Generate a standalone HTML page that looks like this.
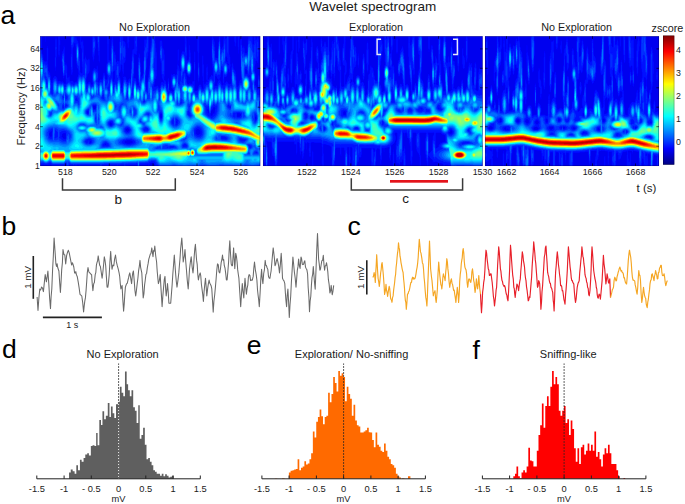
<!DOCTYPE html>
<html><head><meta charset="utf-8"><style>
html,body{margin:0;padding:0;background:#fff;}
svg{display:block;font-family:"Liberation Sans", sans-serif;}
</style></head><body>
<svg width="685" height="504" viewBox="0 0 685 504">
<defs>
<filter id="jet" filterUnits="userSpaceOnUse" x="38" y="34" width="624" height="134" color-interpolation-filters="sRGB">
<feGaussianBlur stdDeviation="0.75"/>
<feComponentTransfer>
<feFuncR type="table" tableValues="0 0 0 0 0.5 1 1 1 0.5"/>
<feFuncG type="table" tableValues="0 0 0.5 1 1 1 0.5 0 0"/>
<feFuncB type="table" tableValues="0.5 1 1 1 0.5 0 0 0 0"/>
<feFuncA type="identity"/>
</feComponentTransfer>
</filter>
<clipPath id="pc"><rect x="40.2" y="36.2" width="220.0" height="129.8"/><rect x="263.0" y="36.2" width="219.6" height="129.8"/><rect x="485.0" y="36.2" width="174.0" height="129.8"/></clipPath>
<linearGradient id="cbar" x1="0" y1="1" x2="0" y2="0">
<stop offset="0" stop-color="#000080"/><stop offset="0.125" stop-color="#0000ff"/><stop offset="0.25" stop-color="#0080ff"/><stop offset="0.375" stop-color="#00ffff"/><stop offset="0.5" stop-color="#80ff80"/><stop offset="0.625" stop-color="#ffff00"/><stop offset="0.75" stop-color="#ff8000"/><stop offset="0.875" stop-color="#ff0000"/><stop offset="1" stop-color="#800000"/>
</linearGradient>
</defs><g clip-path="url(#pc)"><g filter="url(#jet)">
<rect x="38" y="34" width="624" height="134" fill="rgb(28,28,28)"/>
<g transform="translate(38.25,34.25) scale(0.5)">
<path fill="#242424" d="M1133,242l0,2 -1,1 0,20 1,2 1,0 0-24zM1216,239l1,1 0,2 -1,1 -1-1 0-2zM1044,238l1-1 1,1 -1,1zM1181,233l2,0 1,1 -1,2 0,18 -1,1 -1-1 0-5 -1-1 0-12 -1-1zM930,233l0,4 -1,1 0,29 3,0 0-27 -1-1 0-6zM900,230l1-1 5,0 1,1 0,3 -1,1 -2-2zM710,230l0,4 -1,1 0,32 2,0 0-2 1-1 0-25 -1-1 0-7zM940,228l1,1 0,2 -1,1 -1-1 0-2zM671,228l2,1 0,5 -1,1 -1-1 0-3 -1-1zM549,229l0,3 -1,1 0,34 2,0 0-32 -1-1zM133,220l1-1 2,1 -1,1zM457,215l1-1 1,1 -1,1zM103,216l1-2 2,1 -2,2zM173,215l2-2 2,0 1-1 6,0 1,1 2,0 2,2 0,1 -2,2 -3,0 -1,1 -5,0 -1-1 -2,0 -2-2zM51,198l3,0 1,1 0,9 -1,1 -3,0 -4-5 1-1 0-3zM804,197l5,4 2,0 3,2 0,11 -1,1 -3,0 -4,2 -2-1 0,2 -4,5 1,2 -5,3 -1-1 0-29 1-1zM791,197l1,2 -3,5 0,7 -1,1 0,19 -6,7 -1-1 0-36 -1-1 0-2 1-1zM1090,197l1-1 1,1 -1,1zM26,194l1,1 0,9 -2,1 -2-2 -1-4zM825,192l1,0 2,2 0,3 -2,2 -3,0 -1-2 2-2 0-2zM318,190l3,0 3,3 0,5 -3,3 -3,0 -3-3 0-5zM938,190l1-1 1,1 -1,1zM178,188l1,0 3,3 0,1 -3,3 -1,0 -3-3 0-1zM1121,187l2,3 -1,2 -1,0 -2-2 0-1zM1194,187l1-1 1,1 -1,1zM1069,187l2-1 2,1 1,2 -1,1 -3,0 -1-1zM1045,187l1-1 1,2 -1,1zM934,186l2,1 0,3 -1,1 -1,0 -2-2 0-1zM1050,189l0-3 1-1 3,2 -3,3zM1022,186l1-1 5,0 2,2 0,1 -4,3 -4-2zM991,188l2-2 4-1 3,3 0,1 -2,2 -5,0 -2-2zM901,187l3-3 2,0 3,3 0,1 -2,2 -4,0 -2-2zM444,183l2,2 4,2 0,5 -1,1 -6-3 0-6zM893,181l1,1 0,8 -5,3 -1-1 0-6 3-3 0-1zM145,176l2,3 0,2 -1,1 -1,0 -2-2 0-2zM1224,176l1-1 1,1 -1,1zM276,175l1-1 1,2 -1,1zM997,172l1,0 3,4 0,1 -3,3 -1,0 -3-3 1-3zM977,170l1,0 3,3 0,3 -2,2 -2,0 -3-4zM959,170l1,0 2,2 0,3 -1,1 -2,0 -2-2 0-2zM1130,169l1,0 2,2 0,2 -2,2 -2-1 0-4zM1040,170l1-1 2,0 1,1 0,2 -2,2 -1,0 -1-1zM1017,169l2,2 0,4 -2,2 -2-2 0-4zM924,169l2,2 0,3 -2,2 -1-1 0-5zM435,165l1,1 0,3 -1,1 -1-1 0-3zM547,164l2,1 0,2 -1,1 -2,0 -1-1 0-1zM245,159l2,1 0,6 -1,1 -2-1 0-6zM1090,158l1,1 0,3 -1,1 -1-1 0-3zM397,159l1-1 4,0 2,1 2,2 0,1 -4,3 -4,0 -1-1zM612,154l1,0 2,2 0,4 -1,1 -3,0 -1-1 0-4zM99,154l1,1 0,2 -1,1 -1-1 0-2zM339,150l2,1 0,6 -1,1 -1-1 0-4 -1-1zM765,149l1-1 1,1 -1,1zM800,148l1-1 1,1 -1,1zM352,146l2,2 -2,10 -1,1 -1-1 -1-4 0,6 -1,2 -2,1 -1-1 1-9 3-3 1-3zM110,144l1-1 3,0 1,1 0,4 -3,2 -2-2zM484,140l1-1 1,2 -1,1zM901,135l1-1 1,2 -1,1zM1136,126l1,1 1,6 1-1 0-3 1-1 2,1 0,3 -1,1 0,3 -1,1 0,6 -1,1 0,10 -1,1 0,2 -5,3 -1-1 0-6 1-1 0-20zM937,107l1,1 0,9 -1,1 -1-1 0-9zM728,102l1-1 1,2 -1,1zM516,100l2,1 0,18 1,1 0,1 -2,2 -2-1 0-6 -1-1 0-3 -2-4 2-1 1-2 0-4zM558,100l1-1 1,2 -1,1zM371,99l1-1 1,2 -1,1zM994,98l0,3 -1,1 0,44 1,1 0,4 1,0 0-6 1-1 0-39 -1-1 0-6zM792,98l1-1 1,2 -1,1zM624,96l1-1 1,2 -1,1zM1084,95l-1,2 0,6 -1,1 0,7 1,1 0,6 1,1 0,2 1,0 1-2 0-4 1-1 0-11 -1-1 0-5 -1-2zM249,95l1-1 1,2 -1,1zM559,94l1-1 1,2 -1,1zM338,94l1-1 1,1 -1,1zM626,90l2,3 0,1 -2,2 -1-1 0-4zM1213,86l2,2 0,4 1,1 0,9 -1,1 0,5 -1,1 -2-1 0-21zM561,86l1-1 1,2 -1,1zM461,86l1-1 1,2 -1,1zM355,84l2,1 1,4 3,2 -2,4 0,2 -1,1 0,4 -1,1 -3,0 -1-1 0-2 1-1 0-14zM422,83l1-1 1,2 -1,1zM473,81l2,3 0,11 1,1 0,16 -1,1 0,8 -2,3 -1-1 0-5 -1-1 0-30 1-1 0-4zM462,82l1-1 1,2 -1,1zM295,78l1-1 1,2 -1,1zM152,73l1,1 0,15 -1,1 0,4 -1,1 -1-1 0-18zM583,72l1,1 0,3 1,1 0,8 1,1 0,1 -2,2 -2-1 0-3 -1-1 0-3 1-1 0-7zM367,72l2,3 0,22 1,1 0,3 -1,1 -2-1 -1-6 -3-4 0-2 2-4 1-12zM295,71l1,1 0,5 -1,1 -1-1 0-5zM1238,71l-1,1 0,3 -1,1 0,14 1,1 0,3 1,1 0-3 1-1 0-16 -1-1zM415,70l2,1 0,3 1,1 0,3 -1,1 -2,0 -1-1 0-7zM284,69l1,1 0,2 -1,1 -1-1 0-2zM1151,68l1,1 0,12 1,1 0,4 3,5 0,5 1,1 0,7 1,1 0,10 1,1 0,5 1,1 0,2 1,1 1-1 0-2 1-1 0-4 2-4 3,4 0,8 -4,3 -1,6 -1,1 0,6 -1,1 -1-1 -1-8 -2-4 -3,0 -1,3 -1,1 -1-1 0-7 -1-1 0-38 -1-1 0-12 1-1 0-3zM703,66l1,1 0,3 -1,1 -1-1 0-3zM1001,66l0,7 -1,1 0,23 1,1 0,7 3,3 0,18 1,1 0,5 1-2 0-10 1-1 0-14 -1-1 0-10 -1-1 0-2 -2-2 0-18 -1-1 0-4zM823,65l1,1 0,10 1,1 0,6 1,1 1,25 1,1 -4,4 -2,0 -2-2 0-28 1-1 0-16zM500,66l-1,2 0,10 -1,1 0,19 1,1 0,9 1,2 0-3 1-1 0-14 1-1 0-10 -1-1 0-11 -1-1zM463,65l1,1 0,3 -1,1 -1-1 0-3zM1187,63l1,1 0,17 -1,1 -1-1 0-6 -1-1 0-3 -1-1 1-5zM800,62l1,1 0,19 -1,1 0,17 -2,2 -3-3 1-1 0-7 1-1 0-6 1-1 0-9 1-1 0-10zM954,61l2,2 0,4 1,2 1-2 1,1 0,12 -1,1 0,5 -3,4 0,2 -1,1 0,5 -1,1 0,11 -2,3 -1-1 -1,1 0,3 -1,1 0,9 -1,1 0,17 1,1 0,6 -1,1 -5,1 -1-1 1-1 0-11 1-1 0-35 -1-1 0-10 -1-1 0-3 3-4 0-3 1-1 0-7 1-1 0-4 1-1 1,1 0,4 1,1 0,5 2,3 0-2 1-1 0-5 1-1 0-11zM167,61l1,1 0,12 1,1 0,12 1,1 -1,11 -1,1 0,6 -1,1 -1-1 -1-17 -1-1 0-3 -2-3 0-3 3-5 1-12zM379,60l1-1 1,2 -1,1zM378,58l1-1 1,1 -1,1zM377,55l1-1 1,1 -1,1zM376,44l2,4 0,6 -1,1 -2-2 0-8zM596,43l1,1 0,9 1,1 0,10 1,1 0,5 1,2 2,1 0,2 1,1 0,31 -1,1 -1,6 -2,4 -1-1 0-10 -1-1 0-3 -1-1 -1,4 -1,1 -3-4 -1,1 -1-1 0-3 -1-1 0-5 -1-1 0-8 1-1 0-4 1-1 2,1 0,8 1,1 0,4 1-1 0-7 1-1 0-29 1-1 0-10zM640,38l0,4 -1,1 0,19 1,1 0,4 1,0 1-19 -1-1 0-8zM651,37l-2,4 0,8 -1,1 0,30 1,1 0,8 2,4 0-2 1-1 0-5 1-1 0-38 -1-1 0-5 -1-1zM1013,33l-1,1 0,11 -1,1 0,29 -1,1 0,26 1,1 0,6 1,2 1-1 0-4 1-1 0-67 -1-1zM977,21l0,16 -1,1 1,39 1,1 0,7 1,1 0,8 1,1 0,4 1,1 0,2 1,0 0-3 1-1 0-36 -1-1 0-11 -1-1 0-5 -1-1 0-2 -1-1 0-4 -1-1 0-13zM658,14l0,3 -1,1 0,12 -1,1 0,28 1,1 0,11 1,1 0,4 1,1 0-3 1-1 0-11 1-1 0-31 -1-1 0-11 -1-1 0-3zM1046,11l-1,1 0,9 -1,1 0,8 1,1 0,8 1,2 0-3 1-1 0-23 -1-1zM1030,8l0,4 -2,3 -1-1 0-3 0,3 -1,1 0,15 -1,1 0,5 -1,1 0,5 -1,1 0,10 -1,1 0,49 1,1 0,12 1,1 1-2 0-3 1-1 0-8 1-1 0-16 1-1 0-9 1-1 1,1 0,3 0-2 1-1 0-63 -1-1zM675,8l0,3 -1,1 0,34 1,1 0,2 0-3 1-1 0-33 -1-1zM717,6l0,4 -1,1 0,25 1,1 0,3 1,0 0-3 1-1 0-26 -1-1 0-3zM897,4l-1,1 0,4 -1,1 0,43 1,1 0,12 1,1 0,4 1,1 0,9 1,1 0,3 0-5 1-1 0-44 -1-1 0-22 -1-1 0-5zM1201,3l-1,2 -1,8 -1,1 0,5 -1,1 0,12 -1,1 0,34 1,1 0,12 1,1 0,3 1,0 0-6 1-1 1-42 1-1 0-9 1-1 0-11 -1-1 0-7zM36,1l-1,0 0,7 -1,1 0,36 -1,1 0,21 1,1 0,6 1-1 0-6 1-1 0-19 1-1 0-37 -1-1zM1179,0l1,47 1,1 0,10 1,1 0,5 2,4 0,7 -1,1 0,21 1,1 0,4 1,0 0-2 1-1 0-6 1-1 1,1 1,11 2,1 0-4 1-1 0-28 -1-1 0-60 -1-1 0-5 -1-1 -1,7 -1,1 -1-1 0-3 -1-1 0-7zM1170,0l0,41 1,1 0,9 1,1 0,5 1,1 0-2 1-1 0-49 -1-1 0-5zM1165,0l-2,0 0,34 1,1 0-10 1-1zM1035,0l0,25 1,1 0,4 2,1 0-3 1-1 0-8 1-1 0-18zM992,0l-6,0 -1,2 0,50 1,1 0,11 1,1 0,6 1,1 0,3 1,2 2-4 0-7 1-1 0-21 1-1 0-29 -1-1zM926,0l-1,0 0,2 -1,1 0,18 -1,1 0,3 -1,1 -1-1 0-10 -1-1 0-14 -3,0 0,35 -1,1 0,4 -1,1 0,3 -1,1 0,3 -1,1 0,3 -1,1 0,9 -1,1 0,31 1,1 0,7 0-2 1-1 0-21 2-3 1,1 0,10 -1,1 0,18 1,1 0,11 1,1 0,3 1,2 1-1 0-3 1-1 0-11 1-1 0-27 1-1 0-11 3-6 0-5 1-1 0-25 1-1 0-22 -1-1zM857,0l-1,1 0,6 -1,1 0,43 -1,1 -1-1 0-4 -3-6 0-14 -1-1 0-5 0,7 -1,1 0,31 1,1 0,7 1,1 2,0 1-2 1-15 1-1 1,1 0,3 1,2 1-2 0-6 1-1 0-40 -1-1 0-6zM836,0l0,26 1,1 0,6 1,1 0,29 1,1 0,9 1,1 0,2 1-2 0-9 1-1 0-37 -1-1 0-10 -1-1 0-9 -1-1 0-5zM780,0l0,29 1,1 0,6 1,0 0-5 1-1 0-30zM523,0l-3,0 0,11 -1,1 0,3 1,1 0,19 1,2 1-2 0-6 1-1zM511,0l-3,0 0,31 -3,4 0,5 -1,1 0,17 -1,1 1,32 1,1 0,5 1,2 1-2 0-4 1-1 0-12 1-1 0-38 1-1 0-7 1-1zM483,0l-2,0 0,41 1,1 0,4 0-7 1-1zM402,0l-2,0 0,4 -1,1 0,20 1,1 0,12 1,1 0-7 1-1zM395,0l-2,0 0,4 -1,1 0,10 1,1 0,8 1,1 1-1 0-6 1-1 0-14 -1-1zM322,0l-4,0 0,34 1,1 0,57 1,1 0,4 2-4 0-6 1-1 0-20 -1-1 0-9 -1-1 0-17 1-1zM182,0l-4,0 0,18 1,1 0,8 1,2 1-2 0-10 1-1zM118,0l0,19 1,1 0,13 1,1 0,8 1,1 0,11 1,1 0,4 0-2 1-1 0-56zM113,0l-4,0 -1,1 0,44 1,1 0,6 1,1 0,2 1,0 0-4 1-1 0-6 1-1 1-13 1-1 0-18 -1-1 0-6 -1-1zM40,0l0,41 1,1 0,5 1,0 0-4 1-1 0-19 1-1 0-10 -1-1 0-11zM14,0l0,15 1,1 0,2 0-18zM4,0l0,41 -1,1 0,5 -1,1 0,9 -1,1 0,23 1,1 0,31 -1,1 0,11 1,1 0,3 1,1 -1,1 -1,8 -1,1 0,31 1,1 1,8 2,4 0,40 -4,3 0,32 2,2 4,0 1,1 0,3 2-4 2,0 1,1 13-1 2,2 0,4 3,0 0-2 1-1 20,0 3-2 2,1 0,4 5,0 1-4 1-1 1,1 4,0 1,1 0,3 2,0 2-4 1,1 0,3 3,0 0-3 1-1 2,0 1,1 10,0 1,1 0,2 1,0 0-2 1-1 5,0 2,2 0,1 1,0 0-2 1-1 19,0 1,1 0,2 5,0 0-3 1-1 28,0 1,1 0,3 2,0 0-3 1-1 9,0 1,1 0,3 4,0 0-3 1-1 5,0 1-1 15,0 2,3 0,2 4,0 0-5 1-1 14,0 1-1 1,1 0,3 1,1 1-1 1-4 2-2 4-1 4,4 1,6 209,0 0-9 2-3 0-3 1-1 0-7 -1-1 0-3 -2-3 0-2 4-5 0-2 2-3 1,1 0,24 1,1 0,7 1,1 0-2 1-1 1,1 0,2 1,1 0,7 4,0 0-41 -1-1 0-9 1-1 6,0 1,1 1,23 1,1 0,3 3,2 0,2 1,1 0,6 1,1 0,9 1,1 0,2 3,0 1-1 0-9 1-1 0-40 1-1 31,0 1,1 0,4 1,1 1-1 2,1 0,19 1,1 0,5 0-8 1-1 0-20 1-1 2,0 1,1 1,22 1,1 0,4 1-2 0-7 1-1 2,3 0,11 1,1 0,3 1-2 0-5 1-1 0-5 1-1 0-7 1-1 0-13 1-1 2,4 0,11 1,0 0-13 2-2 3,2 0,9 -1,1 0,5 1,1 0,10 1,1 0,2 1,0 0-2 1-1 0-26 2-2 4,0 1,1 13,0 2,2 0,6 1,1 0,17 -1,1 0,16 1,1 0,6 2,0 1-2 0-26 -1-1 0-17 1-1 3,0 1,1 8,2 3,4 0,20 1,1 0,18 1,1 4,0 0-4 1-1 0-9 1-1 0-23 2-2 7,0 1,1 0,12 1,1 0,7 0-3 1-1 0-16 1-1 3,0 2,2 0,3 1,1 0,32 1,2 4,0 1-1 0-25 -1-1 0-13 1-1 2,0 1,1 0,13 -1,1 0,15 1,1 0,10 2,0 0-15 1-1 0-6 -1-1 0-17 1-1 1,0 2,2 0,36 1,1 0,2 9,0 0-7 1-1 0-3 2-1 1-8 1-1 2,1 1-1 0-4 1-1 0-12 1-1 17,0 1,1 0,2 -1,1 0,21 1,1 0,13 8,0 0-2 1-1 0-9 1-1 0-21 3-5 4,3 0,10 1,1 0,17 1,1 0,4 1-2 0-9 1-1 0-23 1-1 2,0 1,1 0,6 1,1 0-7 3-2 3,0 1-1 2,0 1,1 0,21 1,1 0,5 1,1 0-2 1-1 0-9 1-1 0-19 6-5 3-7 0-7 -2-4 0-2 1-1 3,0 1,1 0,12 -1,1 0,3 -1,1 0,5 -1,1 0,30 1,1 0,5 1,2 3-1 2,4 2-3 0-2 1-1 2,1 1-2 0-3 1-1 1,1 0,15 5,0 0-26 -1-1 0-11 -1-1 0-4 -1-1 0,3 -1,1 0,5 -1,1 -1-1 0-34 1-1 2,2 0,6 1-2 0-5 1-1 2,0 1,1 1,9 3,2 0,2 1,1 0,6 1,1 0,4 1,1 0,29 1,1 0,6 1,1 0,2 1-1 0-3 1-1 0-12 1-1 0-12 -1-1 0-24 1-1 0-9 1-1 5,0 1,1 0,5 -1,1 0,18 1,1 0,7 1,1 0,3 3,4 2,4 0,3 1,1 0,21 2,0 0-25 -1-1 0-35 -1-1 0-7 1-1 11,0 1,1 -1,2 0,7 -1,1 0,32 1,1 0,7 1,1 0,4 1,1 0,4 1,1 0,7 1,1 0-3 1-1 0-19 1-1 2,4 6,5 0,6 1,0 0-2 1-1 2,2 2-2 1,0 6,3 7,1 1,1 0,5 1,2 2-1 0-4 1-1 5,0 1,1 3,0 1,1 0,3 1,1 63,0 0-8 2-2 7-2 8-5 1,1 0,16 3,0 0-20 -1-1 2-3 0-3 -1-1 0-9 1-1 5,0 1,1 0,4 1,1 0,11 1,2 1-2 0-9 1-1 0-6 1-1 14,0 1,1 0,5 -1,1 0,31 2,0 0-7 1-1 0-3 1-1 0-5 1-1 2,4 0,14 4,0 0-5 1-1 0-18 1-1 1-13 2-2 3,0 1,1 0,23 1,1 0,11 1,1 0,3 6,0 0-30 -1-1 0-9 1-1 1,0 2,3 0,23 1,1 0,5 1,1 1,8 12,0 0-4 1-1 0-32 1-1 1,1 0,12 1,1 0,21 1,1 0,2 1,0 1-4 2-1 1-2 0-3 1-1 0-24 1-1 2,1 10,1 1,1 1,19 1,1 0-2 1-1 0-6 1-1 1,1 0,5 1,1 0,9 1,1 0,3 1,2 0-3 1-1 0-8 1-1 1,1 0,5 1,1 0,7 3,0 1-10 1-1 1-19 1-1 3,0 1,1 0,29 1,1 4,0 0-23 1-1 0-6 1-1 3,0 2,2 0,22 1,1 0,3 1,0 0-2 1-1 1,1 0,5 5,0 0-29 1-1 2,1 0,3 1,1 0,14 1,1 0,2 0-6 1-1 0-14 1-1 3,0 1,1 0,23 1,1 0,5 7,0 0-3 1-1 0-25 1-1 12,0 1-1 9,0 1-1 5,0 1,1 0,5 1,1 0,15 1,1 0,5 1,1 0-3 1-1 0-5 1-1 0-19 1-1 9-1 1,1 0,2 -1,1 0,7 -1,1 0,22 3,0 0-12 1-1 0-2 2-2 0-4 1-1 0-8 2-4 1,1 2-1 7,0 1,1 4,0 1,1 0,24 1,1 0,2 1-2 0-12 1-1 0-3 -1-1 0-7 1-1 4,0 1,1 0,26 1,1 0,3 1,1 6,0 0-5 1-1 0-22 2-2 1,1 0,4 1,1 0,7 1,1 0,3 1-1 0-2 2-2 1,0 4-13 1-1 5,0 1-1 2,1 0,5 -1,1 0,26 8,0 0-29 -1-1 0-3 1-1 2,1 1,2 0,3 1,0 0-4 2-2 1,1 4,0 1,1 3,0 1,1 0,24 1,1 0,6 5,0 0-8 1-1 0-8 1-1 1,1 0,5 1,1 0,11 8,0 0-6 1-1 -1-19 1-1 2,0 2,2 0,25 5,0 0-2 1-1 0-12 1-1 0-7 2-2 4,2 0,23 3,0 0-22 1-1 6,0 0-35 -2-1 -3,0 -1-1 0-12 1-1 0-5 -1-1 0-37 0,1 -4,4 -2,0 -1-1 0-20 -1-1 0-2 -1,0 -1,2 0,5 -1,1 0,8 -1,1 -3-2 0-9 -1-1 0-18 2-3 0-3 1-1 0-7 1-1 0-7 1-1 0-16 1-1 0-24 -1-1 0-17 -1-1 0-5 -1-1 -1-6 -2,4 0,10 -1,1 0,55 1,1 0,15 -2,1 -1,2 -1,14 -1,1 -1-1 0-11 -1-1 0-9 -1-1 0-14 1-1 0-9 1-1 0-39 -1-1 0-8 -1-1 0-5 -1-1 0-25 -10,0 -1,2 0,54 1,1 0,12 1,1 0,5 1,1 0,10 -1,1 0,7 -1,1 -2,0 0,2 -1,1 0,7 -1,1 0,24 -1,1 -1-1 0-13 -1-1 0-4 -1-1 -1,1 0,4 -1,1 0,8 -1,1 0,3 -1,1 0,4 -2,3 -3-2 -2,1 -3,4 -1,0 -1,6 -2,1 0,3 -1,1 0,10 -1,1 -2,0 -2-2 -1-15 -1-1 0-8 -1-1 0-22 -1-1 0-29 -1-1 0-8 -1-1 0-17 -1-1 0-4 -1,0 0,3 -1,1 0,18 -1,1 0,3 -1,1 -2-4 0-51 -1-1 0-8 -1-1 0-3 -1,0 -1,2 -1,8 -1,1 -1-1 0-20 -4,0 0,25 -1,1 -2-3 0-5 -1-1 0-17 -7,0 0,13 1,1 0,10 1,1 0,14 1,1 1,40 1,1 0,4 2,2 0,14 -1,1 -2-2 -3,4 -4-8 0-36 -1-1 0-5 -1-1 0-2 -2-1 0-50 -5,0 -1,33 -1,1 0,9 -1,1 0,14 -1,1 0,4 1,1 0,13 1,1 0,3 1,1 2-2 1,1 1,64 -2,3 -1-1 0-6 -1-1 0-4 -1-1 -1-7 -1-1 -3-11 -2-2 -2-4 -1,0 0,1 -2,2 0,3 -1,1 0,9 -1,1 0,8 -1,1 0,5 -1,1 0,7 -1,1 -2-2 -4,0 -2,2 -1-1 0-7 -1-1 0-3 -2-3 0-35 1-1 1,1 1-1 0-3 1-1 0-3 1-1 3,0 2,2 2,6 1,0 2-2 0-2 2-2 0-2 1-1 0-3 1-1 0-7 1-1 0-23 -1-1 0-6 -4-7 -1-31 -1-1 0-4 -1,0 0,7 -1,1 0,40 -2,3 -4-8 0-8 -1-1 0-9 -1-1 0-4 -1-1 0,2 -1,1 0,5 -1,1 0,16 -1,1 0,27 1,1 0,12 -1,1 -1-1 -1,2 0,5 -1,1 0,19 -1,1 0,3 -2,1 0,4 -1,1 0,17 1,1 0,2 -1,1 -2-1 -2,2 -1,3 -3,3 -1-1 1-2 0-3 1-1 0-17 -1-1 0-3 -2-4 0-32 1-1 1,1 1-1 0-3 1-1 0-7 1-1 0-5 1-1 1,1 0,2 2,3 2-4 0-6 1-1 0-6 1-1 0-18 1-1 0-3 -1-1 0-17 -1-1 0-5 -1-1 0-3 -1-1 0,3 -1,1 0,9 -1,1 -1,20 -2,2 -1-1 0-16 1-1 0-9 1-1 0-17 -7,0 0,13 -1,1 1,50 -1,1 -1-1 -1-8 -1-1 0-5 -1-1 0-8 -1-1 0-8 -1-1 0-3 -1-1 -1,2 0,3 -1,1 0,41 -1,1 0,9 1,1 0,6 1,1 0,2 3,4 0,32 -1,1 0,3 -1,1 -1-1 -1,14 -3,4 -1-1 -1-55 -1-1 0-9 -1-1 0-2 -1-1 0,2 -1,1 0,19 -1,1 0,9 -2,3 -1-1 0-72 1-1 1,1 0,14 1,1 0,15 1,1 0,3 0-5 3-6 0-7 1-1 0-20 -1-1 0-8 -1-1 0-4 -1-1 0-13 -1-1 0-6 -1,1 0,5 -1,1 -1,11 -1,1 0,4 -2,3 0,7 -1,1 0,24 -1,1 0,9 -1,1 0,16 -1,1 0,35 1,1 0,10 1,1 0,12 -1,1 -2-2 -4,0 -4,3 -2-4 0-7 -1-1 0-4 -1-1 0-6 1-1 0-46 -1-1 0-4 -1-1 -1,1 0,3 -1,1 0,14 -1,1 0,32 -3,2 -2,7 -1,1 0,2 -1,1 -1-1 0-18 -1-1 0-2 -1,1 0,4 -1,1 0,14 -1,1 0,23 -1,1 -4-1 -1-1 -7,0 -1-1 0-3 1-1 0-9 -1-1 0-4 -4-5 -2,2 -1,6 -1,1 0,14 -1,1 -5,0 -2,2 -1-1 0-9 -1-1 0-6 -1-1 0-3 -2,1 -1-1 -2,0 -3,3 -1,4 -1,1 0,3 -1,1 -4-3 0-16 1-1 0-7 1-1 1,1 0,12 1,1 0,2 1-2 0-9 1-1 0-31 -1-1 0-8 -1-2 0,3 -1,1 0,12 -1,1 0,7 -1,1 -1-1 0-4 -2-4 0-4 1-1 0-10 -1-1 0-42 -1-1 0-8 -3-6 0-4 -1-1 -2-26 -2,0 0,13 -1,1 -2-2 0-3 -1-1 -1,2 -1,13 -1,1 -2-2 0-1 -1,0 0,2 -1,1 0,4 -2,1 -1-1 0-3 -1-1 0-4 -1-1 0-2 -1,0 0,2 -1,1 0,4 -1,1 0,6 -1,1 -1-1 0-31 -3,0 0,28 -1,1 0,5 -1,1 -1-1 0-22 -1-1 0-10 -1-1 0,3 -1,1 1,68 -2,1 -1,2 0,7 -1,1 0,12 1,1 0,6 1,2 1-1 1-5 1-1 1,1 0,3 1,1 0,8 -4,2 -1,4 -1,1 0,4 -1,1 0,6 -1,1 0,22 1,2 -1,1 -2-1 0-6 -1-1 0-14 -1-1 0-4 -1,0 0,2 -1,1 -1,20 -2,1 -2-2 0-11 -1-1 0-6 -1-1 0,2 -1,1 0,13 -2,1 -2-2 0-3 1-1 0-6 1-1 0-15 -1-1 0-8 -1-1 0-4 -1-1 0-2 -1,0 -1,2 0,3 -1,1 0,6 -1,1 0,9 -2,1 -1-1 0-3 -1,1 0,9 -1,1 0,6 -4,8 0,11 -5,3 -1-1 0-47 -1-1 0-3 1-1 0-29 -1-1 0-8 -1-1 0-2 -2,3 -2-1 -1,2 0,5 -1,1 0,16 -1,1 0,4 1,1 0,15 -1,1 -4-3 0-9 1-1 0-9 1-1 0-23 -1-1 0-7 -1-1 -1-4 -1,2 0,8 -1,1 0,34 -2,2 -1-1 0-4 -1-1 0-30 -1-1 0-7 -1-1 -2,4 -1-1 0-3 -1-1 -1,2 0,6 -1,1 0,6 -1,1 0,6 -1,1 0,25 -3,3 -1,4 -1,1 -2-1 0-3 -1-1 0-10 -1-1 0-4 -1-2 -1,1 0,3 -1,1 -1,11 -1,1 -2-3 -3,0 -3,6 -1,0 -2-2 -2,0 -1-1 1-1 0-8 1-1 1-13 1-1 0-20 -1-1 0-7 -1-2 -2,0 -1-1 0-22 -1-1 0-13 -1-1 0-3 0,2 -1,1 0,8 -1,1 0,10 -1,1 0,12 -1,1 0,7 -1,1 -1-1 0-11 -1-1 0-2 0,4 -1,1 0,10 -1,1 -2-2 0-40 -1-1 0-12 -1-2 -3,0 0,4 -1,1 0,8 -1,1 0,43 1,1 0,8 1,1 0,6 1,1 0,5 1,1 0,25 1,1 0,7 -1,1 -2,0 -1-1 0-9 -1-1 0-5 -1-1 0-3 -2-3 0-31 -1-1 0-6 -1-1 1-42 -1-1 0-6 -1-1 0-2 -2,0 0,5 -1,1 0,51 -1,1 -1-1 0-6 -3-7 0-3 0,2 -1,1 0,12 -2,2 -1-1 0-13 -1-1 0-13 -1-1 0-5 -2-4 0,2 -1,1 0,7 -1,1 0,15 1,1 0,11 1,1 0,37 1,1 0,12 -1,1 -1-1 0-2 -2-4 0-12 -1-1 0-7 -2-4 -1,1 0,3 -1,1 0,7 -1,1 0,12 -2,4 0,4 -3,3 -1-1 0-9 -1-1 0-5 -1-1 0-3 -2-4 -2-2 0-12 1-1 0-20 1-1 0-55 -8,0 0,5 -1,1 0,27 1,1 0,5 2,3 0,27 -1,1 0,3 -1,1 0,6 -1,1 0,12 -1,1 0,8 -1,1 -1-1 -1-5 -2,1 0,3 -1,1 0,9 -1,1 -2,0 -1-1 0-38 1-1 1,1 0,8 1,1 0,5 1,1 0-7 1-1 0-80 -4,0 -1,2 0,4 -1,1 0,8 -1,1 0,5 -1,1 -1-1 0-15 -1-1 0-5 -2,0 -1,2 0,43 1,1 0,22 1,1 0,12 1,1 0,5 1,1 0,8 1,1 0,16 1,1 0,7 -2,3 -1-1 0-12 -1-1 0-4 -1-1 0-2 -2-3 -3,0 -1,2 -1-1 0-29 -1-1 0-22 -1-1 0-10 -1-1 0-6 -1-1 0-4 -1-2 -1,0 0,2 -4,7 0,4 -1,1 0,8 -1,1 0,3 -2,3 0,3 -1,1 0,22 1,1 0,3 1,2 1,0 2-4 0-3 1-1 2,1 1,13 1,1 0,8 -1,1 -2-2 -2,0 -2,4 0,2 -2,2 -1-1 0-6 -1-1 -1-6 -1-1 -2,1 -1-1 0-15 -1-1 0-11 -1-1 0-3 -1,0 0,2 -1,1 -1-1 0-9 -1-1 0-17 1-1 0-3 1-1 0-9 1-1 0-12 -1-1 0-8 -4,0 0,26 1,1 0,9 -2,3 -1-1 0-10 -1-1 0-18 -1-1 0-8 -2,0 0,2 -1,1 0,5 -1,1 -1-1 -1-8 -2,0 -1,2 0,34 1,1 0,18 1,1 0,4 -2,3 0,3 -1,1 0,9 -1,2 1,1 0,9 1,1 0,2 -1,1 0,11 1,1 0,7 1,1 -2,1 -2,3 -2-1 0-7 -1-1 0-3 -3-5 1-2 0-34 1-1 0-7 1-1 0-6 1-1 1-12 1-1 0-15 -1-1 0-5 -1-1 0-2 -4-3 0-7 -4,0 0,18 1,1 0,11 -1,1 -1,61 -1,1 -2,0 -2-2 0-7 -2-4 0-7 -1-1 0-4 -1-2 -1,1 -2-2 0-3 -1-1 0,2 -1,1 0,6 -1,1 0,7 -3,3 0,7 -1,1 0,19 -1,1 0,9 -3,5 -1-1 0-12 -1-1 0-6 -1-1 -1-5 -2-2 -1,0 -2,2 -1-1 0-6 -1-1 0-3 -1-2 -2-2 -3,0 -2,2 -1,2 0,3 -1,1 0,9 -1,1 -1-1 0-2 -3-3 2-24 1-1 0-2 3-2 0-3 1-1 0-7 1-1 0-15 -1-1 0-10 -2-4 0,2 -1,1 -1-1 0-4 -1-1 0-8 -1-1 0-7 -1-1 0-3 -5,0 0,27 -1,1 0,40 -1,1 0,12 -4,8 -1,6 -1,1 0,3 -1,1 -1-1 0-17 2-2 0-3 1-1 0-19 -1-1 0-3 -2-3 1-45 -1-1 0-4 -2,0 0,3 -1,1 0,14 -1,1 -1,8 -1,1 0,28 1,1 0,4 4,3 0,12 -1,1 0,25 -2,3 -2,0 -2-2 0-40 -1-1 0-10 -1-1 0-3 -1-1 0-18 -1-1 0-10 -1-1 0-4 -1-1 0-4 -1-1 0-5 -1-2 -3,0 -1,2 -1-2 -1,0 0,10 -1,1 0,7 -1,1 -1-1 0-4 -1-2 0,2 -1,1 0,11 -1,1 0,18 -1,1 0,4 -1,1 -1-1 0-15 -1-1 0-34 -3,0 0,25 -1,1 -2-1 0-5 -1-1 0-3 -1-2 -1,0 -1,2 -1,7 -2,2 -1-1 0-11 -1-1 0-5 -1-1 0,2 -1,1 0,25 1,1 0,3 1,1 0,10 -2,4 0,5 -1,1 0,18 -1,1 -1-1 0-20 -1-1 0-23 -1-1 0-5 -1-1 0-2 -1-1 -1,1 0,2 -1,1 0,7 -1,1 0,9 1,1 0,8 1,1 0,2 2,2 0,11 -1,1 -1-1 -1-4 -2,3 0,4 -1,1 0,31 -2,2 -1-1 0-28 -1-1 0-60 -1-1 0-8 -1-2 0,3 -1,1 0,15 -1,1 0,22 -1,1 0,4 -1,1 0,4 -1,1 0,8 -1,1 0,29 1,1 0,10 -1,1 -1,10 -1,1 -2-2 0-16 1-1 0-26 -1-1 0-3 -1,0 -1,2 -1-1 0-6 1-1 0-21 2-2 0-3 1-1 0-26 -1-1 0-3 -1,0 0,2 -1,1 0,6 -2,3 -1-1 0-3 -1-1 0-5 -1-1 0,4 -1,1 0,35 1,1 0,8 1,1 0,13 1,1 0,7 1,2 1-2 1,1 0,8 -1,1 0,15 -1,1 0,15 -2,2 -1-1 1-2 0-15 -1-1 -1-5 -3-3 0-2 1-1 0-14 -1-1 0-5 -1-1 -1,2 -1,6 -1,1 -1-1 -1-33 -1-1 0-6 -2-3 0-24 -1-1 0-6 -1,1 0,63 -1,1 0,5 -1,1 0,9 -1,1 1,20 -1,1 -2-2 -2,0 -2,3 -1,6 -2,2 0,1 -2,1 -1-2 -3,0 -1-1 0-30 -1-1 1-20 1-1 0-24 1-1 0-38 -4,0 0,4 -1,1 0,8 -1,1 -1-1 0-12 -2-1 0,6 -1,1 0,14 1,1 0,9 1,1 0,4 1,1 0,9 -1,1 0,9 -4,8 0,5 -1,1 0,13 -1,1 0,13 -1,1 -2-4 -1-12 -1-1 0-18 -1-1 0-6 -1-1 0-3 -1-2 -1,1 0,4 -1,1 -2-3 0-3 -1-1 -1,2 0,3 -1,1 -1-1 0-24 -1-1 0-10 -1-1 0-2 0,2 -1,1 0,6 -1,1 -1-1 0-3 -1-1 0-14 -1-1 0-6 -3,0 0,10 -1,1 0,50 -4,5 0,3 -1,1 0,11 1,1 0,3 3,4 3,0 2-2 1,1 0,11 -1,1 0,5 -1,1 -1-1 -2,0 -2,2 -2,4 0,3 -1,1 0,6 -2,2 0,8 -4,2 -2,2 -1-1 0-20 -1-1 1-1 0-28 -1-1 0-3 -1,0 0,2 -1,1 0,28 -1,1 -1-1 -1-6 -4-5 1-6 1-1 0-15 -1-1 0-3 -1-1 0-9 1-1 0-3 1-1 0-5 2-1 1,1 0,3 1,1 1-1 0-5 1-1 0-14 1-1 0-11 -1-1 0-15 -1-1 0-4 -1-2 -1,1 0,4 -2,4 -1-1 0-3 -1-1 0-6 -2,0 0,6 -1,1 0,12 -1,1 -1-1 0-13 -1-1 0-5 -8,0 0,8 -1,1 0,13 -1,1 0,14 -1,1 -1-1 -2,1 -1-1 0-9 -1-1 0-4 -1-1 -1,4 -1,1 -1-1 0-4 -1-1 0-15 -1-1 0-5 -1,0 0,11 -1,1 0,38 1,1 0,32 1,1 0,6 -2,1 -2,3 0,2 -1,1 0,4 -2,4 -1-1 0-3 -1-1 -1-21 -1-1 0-3 -4-7 -1-8 -2-4 0,2 -1,1 0,6 -1,1 0,32 -4,2 -2-2 -2-4 -2,0 -3,4 -1-1 0-11 1-1 2,1 3-3 0-2 2-4 0-7 1-1 1,1 0,6 1,1 1-2 0-10 1-1 0-4 -1-1 0-14 -1-1 0-3 -1-1 0-34 -1-1 0-5 -4,0 0,6 -2,3 -1-1 0-7 -1-1 -2,1 0,8 -1,1 0,12 -4,8 -1-1 -1-26 -1-1 0-2 -1,0 0,5 -1,1 0,9 -1,1 -1,31 -1,1 -4-2 0-21 -1-1 0-9 -1-1 0-3 -2-4 -1-7 -1,1 0,5 -1,1 0,52 1,1 0,7 1,1 0,14 -1,1 -1-2 -1,0 -1,3 -3,3 -1,3 -1,1 -1-1 0-25 -1-1 0-5 -1,1 0,6 -1,1 0,24 1,1 0,2 -2,2 -1,3 -1,1 -1-1 0-3 -1-1 0-35 -1-1 0-16 -1-1 0-3 0,3 -1,1 0,41 1,1 0,9 1,1 0,13 -1,1 -1-1 -2-6 -2-2 -1,0 -3,4 0,2 -1,1 0,4 -2,2 -3,0 -1-1 0-19 1-1 0-56 -1-1 0-5 0,4 -1,1 0,58 -1,1 -2-1 -1,2 0,3 -1,1 -5-1 -2,2 -3-3 0-12 -1-1 0-3 1-1 2,4 3,1 1,2 1-1 0-3 3-6 1-13 -1-1 0-5 -2-4 0-17 -1-1 0-5 -1-1 0-8 -1-1 0-21 -1,0 0,50 -2,1 -1,2 -1-1 0-7 1-1 -1-35 -1-1 -1-8 -2,0 0,34 -1,1 -1-1 -3,0 -3,7 0,4 -1,1 0,22 -1,1 -1-1 0-3 -2-4 0-8 1-1 0-21 -1-2 -1,2 0,29 -1,1 0,7 -1,1 0,10 -2,3 -1-2 -2-1 -3,1 -1,2 -2-4 0,30 1,0 2,2 0,1 2,1 -2,3 -2-2 -2,0 -3-3 0-14 -1-1 0-7 -1-1 0,2 -1,1 0,16 -1,1 -1-1 0-5 -1-1 0-4 -1-1 0-2 -3-2 0-6 1-1 0-43 -1-1 0-8 -1-1 0-2 -2-2 -1-14 -1-2 -1,2 -2-2 0-3 0,5 -1,1 0,35 1,1 0,4 1,1 0,3 1,1 0,21 1,1 0,6 1,1 0,2 2,2 0,2 -1,1 -2,0 -2,2 -1,6 -1,1 0,3 -1,1 -1-1 0-2 -3-3 -3,3 -1-1 -1,1 -1-1 0-3 1-1 0-5 1-1 0-4 1-1 1,2 0-6 1-1 0-48 -1-1 0-8 -1-1 0-8 -1-1 0-11 -1-1 0-5 -7,0 0,16 -1,1 -1,13 -1,1 0,31 -1,1 0,5 -1,1 0,11 -1,1 0,3 -1,1 0,10 -1,1 0,14 -1,1 -1-1 0-15 -1-1 0-9 1-1 0-16 1-1 0-17 2-2 0-3 1-1 0-7 1-1 0-36 -4,0 -1,10 -1,1 -1-1 -1-4 0,4 -1,1 0,21 -1,1 0,21 -1,1 0,22 -1,1 0,3 -3,4 -1-1 0-27 -1-1 0-9 -1-1 0-6 -1-1 0-3 -1,1 0,8 -1,1 0,50 1,1 0,4 -1,1 -2,0 -1-1 0-6 -1-1 0-4 -2-3 -2,1 -1-1 0-3 1-1 0-43 1-1 3,3 1-1 0-6 1-1 0-34 -5,0 0,6 -1,1 0,22 -1,1 -2-1 0,2 -1,1 0,7 -1,1 0,13 -1,1 0,16 -1,1 0,18 -1,1 -1-2 -1,0 -2,3 0,3 -2,1 -1-1 0-3 -1-1 0-3 -2-3 -2,0 -1,2 -1-1 0-5 1-1 0-20 3-3 0-3 1-1 1-22 -1-1 0-10 -1-1 0-3 -4-2 0-8 -1-1 0-4 -1,0 -1,2 -1-2 -3,0 0,14 -1,1 0,38 -1,1 -2-2 -3,4 -1-1 0-15 -1-1 0-7 -1,0 0,3 -1,1 -1-1 0-11 -1-1 0-13 -1-1 0-4 -1,0 -1,2 0,4 -1,1 0,10 -1,1 0,29 -1,1 -3-3 0-50 -3,0 0,56 -1,1 0,3 -1,1 0,17 1,1 0,3 1,1 0,6 -2,2 -2-3 0-6 -1-1 0-3 -1-2 -1,0 -1,2 0,3 -1,1 0,7 -2,2 -1-1 -2,0 -2,3 0,2 -1,1 -1-1 0-22 -1-1 0-8 -1-1 0-2 -1,2 0,6 -1,1 -3-3 -2,1 -3,6 0,5 -1,1 0,11 1,1 0,5 1,2 -2,2 -2-2 0-2 -2-2 -2,0 -3,4 -1-1 0-3 -1-1 0-3 1-1 0-3 1-1 1-6 3-3 0-2 1-1 0-23 -2-4 0,2 -2,3 -3-3 -2-8 -1,8 -1,1 -1-1 0-26 -1-1 0-10 -1-2 -1,4 -1,1 -1-1 0-14 -2,0 0,21 1,1 0,6 2,1 0,36 1,1 0,11 -1,1 -1,0 -2-3 0-26 -1-1 0-9 -1-1 0-14 -1-1 0-5 -1-1 0-3 -3-4 -1-10 -1,1 0,4 -1,1 -1-1 0-5 -8,0 0,25 1,1 0,12 -1,1 0,32 1,1 0,8 1,1 0,2 1-1 0-5 1-1 0-47 3-6 0-4 1-1 1,1 0,5 1,1 0,16 1,1 0,17 1,1 0,6 3,5 0,6 1,1 -1,1 -1,6 -1,1 0,7 -2,2 -2,0 -2,2 -3-4 -3,0 -1,1 -2-2 0-7 -1-1 0-3 -1,0 0,4 -2,2 -1-1 0-22 -1-1 0-4 -1-1 0,2 -1,1 -1-1 0-5 -1-1 0-28 -1-1 0-4 -1,2 0,6 -1,1 0,2 -2,3 0,3 -1,1 -1,15 1,1 0,9 1,1 0,9 1,1 0,9 1,1 0,3 1,1 1-2 0-3 2-2 1,1 0,15 -1,1 -1,0 -4-5 -2,0 -1,1 -3-2 -3,1 -1-1 -1-6 -2-2 0-1 -3-1 -2,2 -2,4 0,2 -1,1 0,4 -1,1 -1-1 0-5 -1-1 0-7 -1-1 0-4 -4-6 0-12 -1-1 0-7 1-1 0-23 -1-1 0-4 -1,0 0,3 -1,1 0,26 -2,2 -2-2 -1,1 -1-1 -1-11 -3-6 0-36z"/>
<path fill="#2b2b2b" d="M1116,248l-1,1 0,18 1,0zM1238,246l0,21 1,0 0-20zM1048,237l-1,1 0,8 -1,1 0,20 3,0 0-25 -1-1zM732,237l0,6 -1,1 0,21 1,2 1,0 0-5 1-1 0-12 -1-1 0-10zM1042,236l0,21 1-1 0-19zM434,237l2-2 2,1 -1,2 -2,0zM938,233l-1,0 0,5 -1,1 0,16 1-4 1-1 0-7 1-1 0-2 -1-1zM674,233l-1,11 -2,4 0,19 2,0 0-5 1-1 0-5 1-1 0-20zM616,232l0,2 -1,1 0,5 -1,1 0,23 1,1 0,2 3,0 0-27 -1-1 0-7zM746,231l0,16 0-2 1-1 0-10 -1-1zM668,226l0,3 -1,1 0,26 1,1 0,2 0-2 1-1 0-25 -1-1zM257,226l1-1 2,1 -1,1zM974,224l2,0 2,2 0,2 -2,4 -1-2 -1,1 -1-1 0-5zM645,225l-1,2 0,8 1,1 0,2 0-3 1-1zM262,226l1-2 8,0 1,1 -2,2 -7,0zM636,223l-1,0 0,3 -1,1 0,8 -1,1 0,31 4,0 0-12 1-1 0-23 -1-1 0-5zM543,222l0,16 1,0 0-15zM422,221l1,0 3,3 0,2 -2,2 -2-1 0-2 -1-1 0-2zM456,220l0,6 -1,1 0,34 1,1 0,5 2,0 0-40 -1-1 0-6zM289,223l1-2 3-2 1,0 3,3 0,2 -1,1 -6,0zM129,221l3-4 4-1 4,3 1,4 -1,1 -10,0 -1-1zM847,219l0-1 2-2 4,0 1-1 8,1 1,1 -1,1 -11,1 -1,1 -2,0zM167,217l0-2 3-3 2-1 3,0 1-1 11,0 1,1 2,0 4,4 0,1 -3,3 -4,1 -1,1 -10,0 -1-1 -3,0zM94,214l5-4 5,0 3,2 0,5 -3,2 -2,0 -1-1 0-6 -1,0 0,3 -2,3 -1,0 -3-3zM473,208l1,1 -1,1 0,3 -1,2 -2,1 -1-1 0-6 1-1zM403,209l1-1 1,1 4,0 1,1 4,0 1,1 -3,3 -6,0 -3-3zM1220,205l1-1 4,0 1,2 -1,1 -3,0zM366,205l1-1 6,1 2,1 2,2 0,1 -2,2 -1-1 -7,0 -1-1zM1162,201l1-1 1,2 -1,1zM1062,201l1-1 5,0 1,1 -1,1 -5,0zM778,200l0,2 -2,4 0,7 -1,1 0,19 1,1 0,7 1,1 0,4 1,1 0,7 1,1 0,2 0-9 1-1 0-42 -1-1 0-4zM1158,198l2,0 1,1 -1,4 -1,1 -2,0 -1-1 0-3zM1023,200l3-3 2,0 3,2 -1,2 -6,0zM761,198l-1,0 -2,2 0,2 -1,1 0,20 2,4 2,0 0-3 1-1 0-21 -1-1zM1087,198l3-3 6,0 2,4 -1,1 -6,0 -2,1 -2-2zM1170,194l1-1 1,2 -1,1zM47,194l6-1 4,3 -1,1 0,15 -1,1 -5,0 -8-6 0-2 1-1 0-7zM1177,192l2,3 -3,3 -1-1 0-4zM34,191l5,5 0,9 -4,3 -2-1 0-15zM861,190l2,4 -1,1 -1,0 -2-2 0-1zM26,190l2,0 1,1 -1,17 -1,1 -3,0 -3-3 0-10 -1-1zM824,189l3,1 4,5 -2,5 -3,2 -3,0 -4-4 1-3 2-2 0-2zM564,188l1-1 1,2 -1,1zM633,188l2-2 2,0 2,1 1,2 -1,1 -4,0zM318,186l3,0 2,1 3,3 1,4 1,1 -1,6 -4,4 -5,0 -6-5 0-8 1-2zM211,190l4-4 1,1 2,0 2,2 0,3 -1,1 -7,0 -1-1zM176,186l4,0 4,4 0,3 -3,4 -5,0 -3-3 0-5zM1118,186l2,0 1-1 2,0 1,1 0,7 -1,1 -2,0 -4-2 0-5zM572,185l2,2 0,3 -2,2 -1-1 0-5zM1045,184l2,0 1,1 0,2 -2,4 -1,0 -3-3 0-2zM928,187l2-2 2,0 1-1 7,0 4,2 -1,1 0,4 -2,2 -7,0 -1-1 -2,0 -3-3zM1196,183l2,4 -4,3 -1-1 0-4 2-2zM1191,183l1,1 0,4 -1,1 -1-1 0-4zM1069,183l2,0 5,3 0,3 -4,3 -3,0 -4-4 0-1zM1049,184l1-1 4,1 3,2 0,2 -3,3 -3,0 -2-2zM1018,186l2-2 1,1 0,3 0-4 1-1 7,0 3,2 1,5 -4,3 -6,0 -5-4zM444,179l6,5 0,11 -1,1 -6-3 0-13zM911,178l1,1 0,9 -5,4 -4,0 -2-1 -2-2 0-3 4-4 1,0 2-3 3,0zM891,177l3,2 0,14 -5,3 -1-1 0-14 1-1 0-2zM589,176l1,1 0,5 -1,1 -2-3zM144,174l4,0 1,1 0,3 1,1 0,2 -4,3 -3-1 -3-4 1-1 0-2zM688,173l3,3 0,4 -2,2 -2-1 0-7zM1189,170l3,4 0,3 -2,3 -2-1 -1,2 -2-3 0-6 2-2zM270,170l1,1 0,9 -1,1 -3-4 0-3zM1224,169l3,4 0,5 -1,1 -5,0 -2-3 0-2 2-2 1,0zM1205,169l2,2 0,4 -2,2 -1,0 -1-1 1-1 0-5zM276,169l2,1 2,3 -1,7 -3,2 -1-1 0-11zM1151,168l1,2 -2,1 -1-1zM999,168l4,6 0,5 -1,1 0,5 1,1 0,3 -4,3 -8,0 -3-3 0-2 5-5 0-2 -1-1 0-4 2-4zM959,168l2,0 3,3 0,4 -3,3 -3,0 -3-4 1-4zM1040,167l3,0 3,3 -1,4 -3,2 -1,0 -2-2 0-6zM923,167l3,1 2,3 0,3 -3,4 -4,0 -3-4 0-3 2-2 1,1 0,5 1-1 0-6zM1061,166l1,1 0,5 -2,3 -3,1 -3-3 0-3 1-1 1,1 3,0zM115,166l1,1 0,3 -1,1 -1-1 0-3zM1194,164l1-1 1,1 -1,1zM548,162l3,3 0,3 -4,3 -3-3 0-3 3-3zM491,163l1-1 1,1 -1,1zM434,159l3,4 0,8 -3,4 -1-1 0-14zM219,160l1-1 1,1 -1,1zM534,158l1,0 3,3 0,5 -3,3 -1-1 0-5 -2-3zM690,158l1-1 1,1 -1,1zM391,157l3,0 1,1 0,8 -1,1 -6-3 1-1 0-4zM396,157l1-1 6,0 1,1 2,0 1,1 0,7 -3,2 -7,0 -1-1zM646,156l1-1 1,1 -1,1zM245,155l3,4 0,8 -2,3 -1,0 -2-3 0-9zM301,153l2,3 0,3 2,3 -1,1 -2,0 -3-3 0-5zM691,154l1-2 2,0 1,1 -3,2zM718,152l1-1 2,0 1,1 2,0 1,2 -1,1 -3,0zM607,152l2,0 1-1 4,0 3,2 0,2 -1,1 0,7 -1,1 -5,0 -1,1 -3-2 0-10zM510,150l1,2 -2,2 -1,0 -1-1zM100,150l1,1 0,8 -2,1 -3-3 0-3zM775,150l2-1 2,2 2,0 2,2 0,1 -1,1 -6,0 -1-1zM740,151l2-2 3,0 2,2 0,3 -1,1 -5,0 -1-1zM1150,147l1,1 0,7 -2,2 -1-1 0-4 1-1 0-3zM758,151l2-2 1,0 0-1 2-2 4,0 2,1 2,3 0,1 -4,4 -6,0 -3-3zM560,143l2,2 0,3 -3,3 -5,0 -2-2 1-1 2,0 3-3 0-1zM533,144l1-1 1,1 3,0 1-1 2,4 -1,1 -4,0 -3-3zM335,143l2,2 1,0 2-2 1,1 1,14 1,1 0,5 -1,1 -5-4 -1-4 -1-1 0-10 -1-1zM301,144l1-1 1,2 -1,1zM904,142l1-1 1,1 -1,1zM801,141l2,1 1,4 2,2 0,1 2,1 -2,2 -5,0 -3-4 0-4zM110,141l5,0 1,1 0,9 -1,1 -5,0 -1-1 0-7 -1-1zM50,141l1,1 0,3 1,1 -1,2 -2,0 -1-1 0-4zM960,140l1,1 0,9 -1,1 -1-1 0-9zM442,140l1,1 0,2 -1,1 -1-1 0-2zM381,140l2,4 2,0 1,1 0,1 -2,2 -2,0 -3-3 0-2zM56,140l2,2 0,1 -2,1 -1,2 -1-1 0-4zM1232,140l0,11 1-1 0-9zM351,139l3,4 2,0 1-1 1,1 0,5 -1,1 0,6 -3,7 -7,6 -3-2 0-9 1-1 0-5 1-1 0-3 3-3 1-4zM1131,138l0,18 0-3 1-1 0-10 -1-1zM471,137l1,1 0,2 -1,1 -1-1 0-2zM79,135l1-1 1,1 -1,1zM212,131l1,1 0,3 -2,1 -1-1zM286,130l1,1 0,6 -2,2 -1-1 0-2 1-1 0-4zM1089,128l0,15 1-1 0-13zM399,128l1-1 1,1 -1,1zM77,126l1,1 0,3 1,1 0,2 -1,1 -4-2 0-2zM1207,124l1,1 0,7 1,1 0,4 -1,1 0,10 1,1 0,5 -1,1 -1,0 -2-2 0-3 -1-1 0-3 1-1 0-10 1-1 0-9zM485,124l2,3 -1,1 0,10 2,4 -3,5 -3-2 0-2 1-1 0-8 1-1 0-8zM50,124l1,1 0,3 -1,1 -2-3zM484,120l1,1 0,2 -1,1 -1-1 0-2zM55,120l2,4 2,2 -1,3 -3,2 -1-1 0-9zM130,119l2,4 0,6 -1,1 -1,0 -3-3 1-2 0-3zM696,113l2,3 0,15 -1,1 -1-1 0-8 -1-1 0-8zM178,113l1,1 0,14 -2,1 -1-1 1-1 0-13zM1216,113l0,3 -1,1 0,20 1,1 0,2 1-1 0-9 1-1 0-4 -1-1 0-10zM259,111l1,1 0,3 -1,1 -1-1 0-3zM1143,106l-1,0 0,2 -2,4 -1-1 0-3 -1-2 0,3 -1,1 0,13 1,1 0,3 1-1 0-6 1-1 2,3 0,2 1,1 1-2 1-10 -1-1 0-5zM708,105l1,1 0,7 1,1 0,4 1,1 0,3 1,1 0,10 1,1 0,2 -1,1 -5,0 -1-1 0-2 1-1 0-16 -1-1 0-6 1-1 0-3zM1085,105l-1,1 0,5 1,0zM994,105l0,7 -1,1 0,23 1,1 0,6 1,0 1-25 -1-1 0-11zM975,102l0,8 -1,1 1,18 0-4 1-1 0-17 -1-1zM940,102l0,7 -1,1 0,21 1,1 0,8 1,1 0-3 1-1 0-31 -1-1 0-3zM1005,101l0,21 0-2 1-1 0-14 -1-1zM490,101l1-1 1,2 -1,1zM350,99l1-1 1,1 -1,1zM142,98l1,1 0,14 -1,1 -2-2 0-2 -1-1 0-3 2-2 0-5zM963,96l1,1 0,8 -2,3 -1-1 0-10zM285,94l1-1 1,2 -1,1zM17,92l1,1 0,6 -1,1 -1-1 0-6zM117,90l1,1 0,4 -1,1 -1-1 0-4zM16,89l1,1 0,2 -1,1 -1-1 0-2zM441,86l0,4 -1,1 0,14 1,1 0,4 1,0 1-16 -1-1 0-7zM15,85l1,1 0,2 -1,1 -1-1 0-2zM1034,84l0,2 -1,1 0,11 -1,1 0,26 1,1 0,2 1,0 0-2 1-1 0-39zM13,84l1-1 1,2 -1,1zM1237,81l0,4 1,0 0-4zM1184,79l0,17 1,1 0-4 1-1 0-8 -1-1 0-4zM929,78l0,2 -1,1 0,15 1,1 0,2 1-1 0-6 1-1 0-7 -1-1 0-4zM525,78l0,2 -1,1 0,9 1,2 0-2 1-1 0-9zM1012,77l0,10 -1,1 0,3 1,1 0,7 0-2 1-1 0-17zM291,76l1,1 0,2 -1,1 0,9 -1,1 0,7 -1,1 -1-1 0-20 1-1zM56,77l0,13 1,0 0-13zM500,76l0,3 -1,1 0,15 1,1 0,4 0-7 1-1zM338,75l-1,2 0,3 1,2zM886,74l-1,2 0,3 -1,1 -2-1 0,3 -1,1 0,27 1,1 0,2 2-3 2,2 0-3 1-1 0-30 -1-1zM669,73l0,4 -1,1 0,7 1,1 0,3 1-1 0-12 -1-1zM1190,72l0,2 -1,1 0,22 1,1 0,2 1-2 0-23 -1-1zM414,65l1,1 2-1 1,1 0,5 1,1 0,6 1,1 0,2 1-1 0-3 1-1 1-10 1-1 1,1 0,6 1,1 0,6 -1,1 0,11 1,1 0,3 2,3 0,13 1,1 0,4 -1,1 -2-2 0-5 -3-6 1-1 0-7 -1-1 0-4 -1-1 0-2 -4-5 -2-1 -2,1 -1-1 0-16zM561,65l0,2 -1,1 0,8 1,2zM1134,60l-2,4 0,5 -1,1 0,12 -1,1 0,28 1,1 0,9 1,1 0,2 1-1 0-2 1-1 0-4 1-1 0-51 -1-1zM604,59l0,3 -1,1 0,5 1,1 0,8 0-5 1-1 0-4 -1-1zM518,53l0,3 -1,1 0,6 -1,1 0,11 1,1 1,14 1,0 0-10 1-1 0-16 -1-1 0-8zM320,53l-1,25 1,1 0,9 1,0 0-4 1-1 0-14 -1-1 0-9 -1-1zM329,51l0,27 1,1 0,2 0-20 -1-1zM980,50l0,2 -1,1 0,30 1,1 0,7 1,1 0,2 1,0 0-10 1-1 0-5 -1-1 0-16 -1-1 0-8zM1026,47l-1,0 0,2 -1,1 0,8 -1,1 0,42 1,1 0,5 1-1 0-6 1-1 0-17 1-1zM506,47l0,2 -1,1 0,31 1,1 0,3 1-2 0-34zM651,46l-1,1 0,5 -1,1 0,24 1,1 0,5 1,1 0-3 1-1 0-30 -1-1zM899,45l0,6 -1,1 1,20zM705,45l0,3 -1,1 0,14 1,1 0,4 1,0 0-8 1-1 0-5 -1-1 0-7zM313,45l0,10 -1,1 0,16 1,1 0,10 0-14 1-1 0-8 -1-1zM235,44l0,27 1,1 0,3 0-31zM303,42l-1,10 -3,3 -1,4 -1,1 0,15 1,1 1,4 2,2 1,0 2-2 1-4 1-1 0-15 -2-4 0-10 -1-1zM153,41l0,29 1,1 0-30zM67,39l0,6 -1,1 0,19 1,1 0,5 1-2 0-28zM50,38l-2,4 0,20 1,1 0,13 1,1 0,6 1,1 0-2 1-1 0-9 1-1 0-10 -1-1 0-19 -1-1 0-2zM937,37l-1,1 0,6 -1,1 0,7 -2,2 0,28 2,2 0,2 1,1 0,5 1,1 0,2 1,0 0-3 1-1 0-28 -1-1 0-7 -1-1zM1227,33l-1,0 0,6 -1,1 0,54 1,1 0,6 1-2 0-48 1-1 0-13 -1-1zM1199,32l-1,1 0,12 -1,1 0,8 1,1 0,12 1-2zM658,32l0,25 1,0 0-25zM466,30l0,3 -1,1 0,33 1,1 0,5 0-4 1-1 0-33 -1-1zM558,29l-1,2 0,17 1,2 1-1 0-5 1-1 0-5 -1-1 0-6zM588,28l0,7 -1,1 0,14 -1,1 0,7 -1,1 0,14 1,1 0,4 1,0 0-4 1-1 0-11 1-1 0-29 -1-1zM1189,26l0,23 1-2 0-20zM612,26l-2,3 0,3 -1,1 0,18 1,1 0,2 1,0 0-2 1-1zM839,25l0,33 1,1 0,4 0-4 1-1 0-26 -1-1 0-5zM89,25l0,11 -1,1 0,17 1,1 0,10 0-4 1-1 0-29 -1-1zM1030,24l0,13 -1,1 0,9 1,1 0,15 0-10 1-1 0-17 -1-1zM944,24l-2,4 0,7 -1,1 0,29 1,1 0,6 1,1 0,3 1-1 1-11 1-1 0-6 1-1 2,1 0,12 1,1 0,3 1,0 0-3 1-1 0-32 -1-1 0-3 -1,0 0,3 -1,1 0,6 -1,1 -1-1 0-3 -1-1 0-6 -1-1 0-5 -1-1zM246,23l-2,3 0,21 3,7 0,20 1,1 0,4 1,1 2,0 0-6 1-1 0-21 -1-1 0-5 -1,6 -1,1 -1-1 0-23 -1-1 0-4zM827,22l0,3 -1,1 0,9 -1,1 0,18 -1,2 1,1 0,15 1,1 0,4 1,1 0,10 1,1 0,11 1,2 0-2 1-1 0-6 1-1 1-8 1-1 0-20 -1-1 0-3 -1,0 0,2 -1,1 -2-2 0-32 -1-1zM1158,20l0,3 -1,1 0,9 -1,1 0,14 -3,3 0,12 -1,1 1,2 0,12 1,2 2,1 0,2 1-1 0-4 2-3 0-3 1-1 0-42 -1-1 0-6zM1089,20l-1,0 0,6 -1,1 0,15 -1,1 0,19 1,1 0,2 1,0 0-2 1-1 0-4 1-1 0-8 1-1 0-17 -1-1 0-7 -1-1zM78,18l0,1 -2,2 0,24 1,1 0,12 1,1 0,2 3,3 0,8 1,1 0,2 0-2 1-1 0-18 -1-1 0-5 -1-1 0-21 -1-1 0-4 -1-1 0-2zM1109,17l-1,1 0,42 -1,2 -2,1 -2-2 0-2 -1,1 -2-3 0-12 -1-1 0-7 -1-1 0,3 -1,1 0,11 -1,1 0,20 1,1 0,12 1,1 0,3 1-2 0-4 2-4 2,4 2,2 1,4 3,5 2-4 0-3 3-5 0-5 1-1 0-18 -1-1 0-4 -2,1 -2-2 0-24 -1-1zM956,17l0,4 -1,1 0,31 1,1 0,6 1,1 0-2 1-1 0-9 1-1 0-16 -1-1 0-9 -1-1 0-4zM530,17l0,28 1,1 0,6 1,1 0,13 1,2 0-8 1-1 0-18 -1-1 0-8 -1-1 0-3 -1-1 0-8zM536,16l0,16 1,0 0-16zM1058,15l-1,1 0,4 -1,1 0,16 1,1 0,18 1,1 0,4 0-3 1-1 1,1 1-2 0-15 -1-1 0-3 -1-1zM566,15l0,13 0-2 1-1 0-6 -1-1zM294,15l0,21 1,1 0,4 1,0 0-14 -1-1zM931,14l0,17 0-4 1-1 0-7 -1-1zM742,14l0,3 -1,1 0,10 1,1 0,4zM897,13l-1,2 0,21 1,2 0-2 1-1 0-19 -1-1zM593,13l0,2 -1,1 0,18 -1,1 0,31 1,1 0,11 1-1 0-15 1-1 0-35 -1-1zM439,13l-1,2 0,10 -1,1 0,9 1,1 0,9 1,2 0-2 1-1 0-28 -1-1zM36,12l-1,0 0,34 -1,1 0,17 1,0 0-19 1-1zM857,10l0,3 -1,1 0,28 1,1 0,2 0-2 1-1 0-29 -1-1zM460,8l-1,1 0,6 -1,1 0,45 1,1 0,2 -1,1 -2,0 0,1 -2,2 0,3 -1,1 0,7 1,1 0,3 2,2 0,1 3,0 0-1 2-2 0-3 1-1 0-7 -1-1 0-9 1-1 0-36 -1-1 0-11 -1-1zM750,7l-1,4 -1,1 0,8 -1,1 0,27 1,1 0,4 1,1 0,5 1,1 0,7 1,1 0,3 1-2 0-57 -1-1 0-4zM918,6l0,29 -1,1 0,7 -1,1 0,3 -1,1 0,6 -1,1 1,12 1,1 0,3 1,1 0,14 -1,1 0,19 1,1 0,7 1,2 1-2 0-6 1-1 0-33 1-1 0-14 3-3 0-3 1-1 0-16 -1-1 0-2 -2,4 -2-4 0-13 -1-1 0-9 -1-1zM164,6l0,9 -1,1 0,36 1,1 0,8 1-1 1-21 1-1 1,1 0,11 1,1 0,19 1,1 0,2 0-28 1-1 2,4 1-2 0-21 -1-2 -1,1 0,2 -1,1 -1-1 -1-14 -1,2 0,8 -1,1 -1-1 0-9 -1-1 0-6zM802,5l0,3 -1,1 0,43 1,1 0,3 0-16 1-1 0-9 1-1 0-17 -1-1 0-4zM1082,4l0,2 -1,1 -2-2 0-1 0,2 -1,1 0,9 -1,1 0,16 1,1 0,21 1,1 0,21 1,1 0,3 1-2 0-6 1-1 0-17 -1-1 0-36 1-1zM111,4l-1,0 0,5 -1,1 0,25 1,1 0,5 1-1 0-3 1-1 0-3 1-1 0-4 1-1 0-13 -1-1 0-4 -2-3zM837,2l0,18 1,1 0,2 0-21zM1172,1l-1,1 0,30 1,1 0,8 1,1 0,2 0-32 -1-1zM990,1l-1,0 -2,4 0,3 -1,1 0,37 1,1 0,13 1,1 0,5 1,2 1-2 0-5 1-1 0-20 1-1 0-21 -1-1 0-13 -1-1zM1207,0l0,10 -1,1 0,38 1,1 0,10 1,1 0-6 1-1 0-11 2-2 2,2 0,8 1,1 0,23 1,1 1,7 1,0 0-5 1-1 0-32 -1-1 0-6 -1-1 0-5 -1-1 0-31zM1181,0l0,37 1,1 0,9 1,1 0,4 1,1 1-1 0-4 1-1 0-20 -1-1 0-8 -1-1 0-10 -1-1 0-6zM1153,0l-1,0 0,6 -1,1 0,6 1,1 0,15 0-2 1-1zM1130,0l-2,0 -1,35 -1,1 0,10 -1,1 0,25 1,2 4-9 0-9 1-1 0-51 -1-1zM1038,0l-2,0 0,18 1,1 0,2 1-1zM938,0l-1,0 0,25 0-4 1-1zM708,0l-2,0 0,22 1,1 0,3 1-2zM682,0l-2,0 0,13 1,1 0,3 0-3 1-1zM626,0l0,4 -1,1 0,27 -1,1 0,43 1,2 1,0 2,2 0-12 -1-1 0-21 1-1 1,1 1,14 1-2 0-11 1-1 1,1 1,8 1,0 0-21 -1,0 0,6 -1,1 -2-1 0-17 -1-1 0-5 -1-1 0-4 -1-1 0-8 -1-1 0-2zM596,0l0,28 1,1 0,3 1,1 0,14 1,1 0,10 1,1 0,2 1-1 0-4 1-1 0-22 -1-1 0-7 -1-1 0-3 -2-2 0-10 -1-1 0-8zM380,0l-2,1 0,35 1,1 0,4 1-2zM5,6l0,27 -1,1 0,17 -1,1 0,10 -1,1 0,13 1,1 0,10 1,1 -1,1 0,34 1,1 0,16 -1,1 0,6 -1,1 0,15 1,1 0,6 1,1 0,57 -4,3 0,24 3,3 16,1 3-2 3,0 3,3 24,0 3-3 2,2 0,8 3,0 1-2 0-6 1-1 2,2 5,0 1,2 2-2 2,0 1,1 0,6 1,0 0-6 1-1 46,0 1,1 1,6 1,0 1-6 1-1 30,0 1,1 0,2 0-2 1-1 6,0 1-1 4,0 1,1 0,7 2,0 0-7 1-1 20,0 1-1 2,0 1,1 0,8 3,0 0-8 1-1 11,0 1-1 6,0 2-2 2,0 1-1 6,0 3,4 0,5 1,0 0-2 1-1 6,7 25,0 1-1 4,0 1,1 48,0 1-1 11,0 1,1 29,0 1-1 2,0 1,1 43,0 1-1 4,0 1,1 21,0 1-1 4,0 0-13 1-1 -1-21 3-5 0-2 2-2 2,1 0,4 1,1 0,15 1,2 0-5 1-1 0-15 1-1 0-15 1-1 2,0 1,1 9,0 1,1 0,16 3,6 0,6 1,1 0,5 1,1 0,8 1,1 0,7 1,2 2-4 0-7 1-1 0-41 1-1 16,0 1-1 7,0 1,1 1-1 6,0 1,1 0,4 1,2 1-2 0-3 1-1 1,1 0,3 1,1 0,11 0-14 1-1 3,0 2,2 0,14 1,1 0,4 0-2 1-1 0-10 1-1 0-6 1-1 1,1 0,23 1,1 0,6 1-2 0-5 1-1 0-8 1-1 0-9 -1-1 0-4 1-1 3,0 1,1 0,3 1,0 0-2 1-1 5,0 1,1 21,0 3,2 0,7 1,1 0-3 1-1 0-3 1-1 4,2 2,0 3,2 8,2 2,2 0,2 -2,3 0,36 1,1 0,5 1,0 0-6 1-1 1-6 1-1 0-20 1-1 0-11 1-1 9,0 1,1 0,7 0-7 1-1 24,0 1,1 -1,1 0,3 -1,1 0,33 1,1 0,3 0-10 1-1 -1-30 1-1 8,0 1,1 0,18 1,2 0-4 1-1 0-15 1-1 7,0 1,1 20-1 1,1 4,0 1,1 6,0 1,1 0,18 1,1 0,9 0-2 1-1 0-24 1-1 8,0 7-3 1,1 0,23 1,2 0-5 1-1 0-16 -1-1 0-4 4-4 2-4 0-9 -1-1 0-3 3-7 12,0 1,1 -1,6 -1,1 0,4 -1,1 0,4 -1,1 -1,12 -2,2 -1,0 0,6 -1,1 0,10 1,1 0,5 1,0 0-1 2-1 1,1 0,3 1,2 1,0 1-5 2-2 1,1 0-4 1-1 0-47 1-1 8,0 1,1 0,5 1,1 1-6 1-1 1,1 0,14 1,1 0,5 1,1 0,2 1,0 1-2 0-7 1-1 0-13 1-1 56,0 4,5 7,3 1,2 0,14 -1,1 -4,0 -4,2 -2,2 -1,3 1,2 4,3 -9,4 -5,5 -1-1 0-16 -1-1 0-6 -2-2 -1,1 0,3 -1,1 0,25 1,1 0,2 2,2 1,4 1-2 0-3 1-1 5,5 6,3 2,0 4,3 2-1 1,1 8,1 2,3 0,5 1,2 10,0 1-1 31,0 1,1 19,0 0-15 2-2 1,0 6-7 0-3 -1-2 -8-7 0-5 1-1 4,1 1,1 2,0 1-1 20,0 1,1 0,2 0-2 1-1 19,0 1-1 2,0 1,1 0,5 1,1 0,35 2,0 1-29 1-1 0-6 1-1 0-5 1-1 7,0 1,1 0,11 -1,1 0,4 1,1 0,14 1,1 0,3 2,3 0,2 1,1 1-2 0-9 1-1 0-3 -1-1 0-10 -1-1 0-4 -1-1 0-7 -1-1 0-2 1-1 5,0 1,1 0,7 1,1 0,10 2,3 0,13 1,1 0,6 1,1 0-3 2-3 1,1 0,6 6,0 0-5 1-1 0-28 -1-1 0-5 1-1 3,0 1,1 0,20 1,1 0,12 1-1 0-3 1-1 2,0 1-2 0-19 -1-2 -1,0 -2-2 0-2 1-1 2,1 4,0 1,1 4,0 1,1 5,0 2,2 0,5 1,1 0,2 1-8 1-1 2,0 1,1 0,21 1,2 0-5 1-1 0-16 1-1 2,0 1,1 -1,1 0,23 1,1 0,9 1,0 0-7 1-1 0-6 1-1 0-9 1-1 0-8 1-1 5,0 1,1 0,29 1,1 0,3 1,0 0-2 1-1 0-30 1-1 2,0 1,1 16,0 1,1 1,9 0-9 1-1 8,0 1,1 0,2 -2,4 0,19 1,1 0,4 1,2 2,0 0-2 1-1 0-8 1-1 0-20 1-1 14,0 1-1 9,0 1-1 5,0 1,1 0,11 1,1 0,8 1,2 0-3 1-1 0-19 1-1 12-1 1,1 0,10 1,2 1-2 0-10 1-1 12,0 1,1 6,0 1,1 10,1 1,1 -1,2 0,6 -1,1 -1-1 0,3 -1,1 0,7 1,1 0,3 1-1 2,4 0,7 2,0 0-13 1-1 0-18 1-1 3,0 2,3 0,4 1,0 0-3 2-1 1,2 1-1 1-4 4-2 10-1 1-1 9,0 1,1 3,0 1,1 3,0 3,2 0,22 1,1 0,4 1,2 1-1 0-3 1-1 1-22 2-1 2,4 0,6 1,1 0,13 1,1 0,4 0-27 1-1 2,0 1,1 5,0 3,2 0,28 3,0 0-4 1-1 0-15 1-1 0-6 1-1 2,0 1,1 4,0 1,1 7,0 1-1 0-28 -2-1 -3,0 -1-1 0-52 -2,2 -4,0 -7-6 -1,2 0,4 -1,1 -1-1 -1-44 -1,0 0,2 -1,1 0,12 -2,3 0,2 -1,1 0,5 -1,1 0,17 1,1 0,3 -1,1 -2-2 0-1 -5-4 0-5 1-1 0-16 -1-1 0-39 -1-1 0-4 -1-1 -1,2 0,6 -1,1 0,9 -1,1 -1-1 0-3 -1-1 0,2 -1,1 0,30 -1,1 -2-1 -2,2 -1-1 0-6 1-1 0-12 0,3 -1,1 0,9 -2,2 0,3 -1,1 0,6 -1,1 -1-1 0-2 -2-2 -2,0 -3,4 0,4 -1,1 0,3 -1,1 0,6 -1,1 0,3 -4,2 -6-1 -1-1 0-22 -1-1 0-21 -1-1 0-33 -1-1 0-7 -1-1 0-15 -1,0 0,23 -1,1 0,7 -1,1 -1-1 0-5 -1-1 0-3 -1-2 -1,1 0,3 -1,1 0,26 1,1 0,4 1,1 1-1 0-3 1-1 0-8 2-2 1,1 1,6 2,2 0,19 -1,1 -2,0 -2,4 0,3 -1,1 0,18 -1,1 -2-1 0-11 -1-1 0-5 -1-1 -1-4 -1-1 -2,1 -1,4 -1,1 0,5 -1,1 -1-1 0-18 -1-1 0-43 -1-1 1-41 -1-1 0-4 -1,0 0,2 -1,1 -2-3 0-16 1-1 0-16 -1-1 0-3 -3,0 -1,2 0,5 1,1 0,13 1,1 0,9 1,1 0,4 1,1 0,32 1,0 0-2 1-1 1,1 0,3 1,1 0,8 -1,1 0,50 -5,6 0,3 -1,1 0,7 -1,1 0,10 -1,1 0,2 -2,2 -4,0 -2,2 2,2 2,4 -1,4 -2,2 -3,0 -1-1 -1-21 -1-1 0-6 -1-1 -1-11 -1-1 -1-8 -5-6 0-3 -1-2 -3,5 0,4 -1,1 0,12 -1,1 0,6 -1,1 0,9 -2,1 -3-3 -1,0 -2,3 1,2 -1,4 -3,3 -1-1 0-6 1-1 -1-13 -1-1 0-3 -3-3 1-2 0-29 -1-1 0-5 -1,2 0,10 -1,1 0,17 1,1 0,12 -1,1 0,6 -1,1 1,14 -2,1 -4-3 -3,0 -1,1 0,3 1,1 0,3 -1,1 -8,2 -2-3 4-8 -1-1 0-2 -2-3 -1-4 1-1 2,2 1,0 2-2 0-2 1-1 0-4 1-1 0-9 -1-1 0-4 -2-4 0-32 -1-1 0-14 -1-1 0-7 -1-1 0-2 -1-2 -3-2 0-23 -1-2 0,2 -1,1 0,18 1,1 0,3 2,1 -3,6 0,17 1,1 1,4 2,2 0,39 -1,1 0,9 1,1 0,4 1,1 0,2 -1,1 -3-2 0-3 -1-1 0,6 -3,5 -2,2 -1-1 0-10 -1-1 0-4 1-1 0-11 -1-1 0-37 -1-1 0-4 -1,1 0,8 -1,1 0,18 -1,1 0,3 -1,1 0,20 -1,1 -2-2 0-5 -1-1 0-10 1-1 0-74 -1,0 0,15 -1,1 0,7 -1,1 0,12 -1,1 0,35 1,1 0,7 1,1 0,26 -1,1 -2-4 -2-2 -3,0 -6,5 -1-1 0-10 -1-1 0-5 -1-1 -1-4 -1-1 -2,0 -2,2 -1,2 0,3 -1,1 0,8 -1,1 1,13 -3,2 -1-1 0-34 -1,0 0,8 -1,1 0,38 -1,1 -4,0 -1-1 0-3 -2-4 1-1 0-5 -2-1 -6,0 -1-1 0-8 1-1 0-5 -1-1 0-3 -3-3 -2,2 0,3 -1,1 0,16 1,1 -1,2 -2-2 -3-1 -5,4 -1-1 -1-17 -3-4 -2,0 -2,2 -1,2 0,3 -1,1 0,6 1,1 0,3 2,4 3,0 1,1 0,7 -1,2 -4,3 -2,0 -5-6 1-5 3-4 0-4 -6-7 0-24 1-1 0-13 -1-1 0-4 -1-1 0-3 -1-1 0-3 1-1 0-20 -1-1 0-30 -1-1 0-4 -2-2 0-4 -1-1 0-9 -1-1 0-4 -1-1 0-12 -1-1 0-5 0,66 -1,1 0,13 -1,1 -1,7 -3,3 0,4 -1,1 0,14 -1,1 0,4 -1,1 -1-1 -1-4 -1,2 0,5 -1,1 0,19 1,1 0,4 1,2 2-2 1,1 0,3 -1,1 -5,0 -1,1 -5,0 -1,1 -3,0 -1-1 0-4 1-1 0-22 -1-1 0-4 -1-1 0-5 -1,1 -1-1 -2,0 -1,4 -1,1 0,3 -1,1 0,26 1,1 0,2 -1,1 -4,0 -1-1 0-12 -1-1 0-7 -1,0 0,5 -1,1 0,13 -1,1 -5-4 0-15 -1-2 0,7 -1,1 0,5 1,1 0,2 -2,1 -5-3 0-4 -1-1 3-4 0-5 1-1 0-16 -1-1 0-6 -1-1 0-2 -1,0 -1,2 0,4 -1,1 0,8 -1,1 0,6 1,1 0,7 1,1 0,2 -1,1 -4-3 0-9 -1,2 0,9 -2,2 -1,5 -2,2 0,10 -5,3 -1-1 0-40 -4,0 -1,1 -2,0 -1-1 -4-1 -1-2 -2-1 0-2 1-1 0-13 1-1 0-32 -1-1 0-2 -1,2 0,18 -1,1 0,14 1,1 0,14 -1,1 -3-5 0-2 -1-1 0-6 -1-1 0-35 -1-1 0-2 -1,8 -1,1 -1-1 0-5 -1-2 0,3 -1,1 0,5 -1,1 0,3 -1,1 0,10 -1,1 1,18 -3,2 -1,4 -2,2 -1,0 -2-2 0-6 -1-1 0-7 -1-2 -1,1 0,4 -1,1 0,12 -1,1 -1-1 0-3 -2-4 -3,0 -3,7 -3-4 -2,0 -6,7 -2-2 -4-2 0-32 -1-1 0-12 -1-1 0-4 -3-6 0-2 1-1 0-40 -1-1 0-7 -1-1 0-2 -1,1 0,3 -1,1 0,6 -1,1 0,36 1,1 0,7 1,1 0,3 2,2 0,37 1,1 0,11 1,1 0,3 -1,1 -4,0 -1,1 -1-1 0-14 -1-1 0-5 -1-1 0-2 -2-2 0-14 -1-1 0-8 -1,4 -1,1 0,5 -1,1 0,19 -3,5 -2-3 -3,0 -2,3 -1-1 0-2 1-1 0-11 1-1 0-5 1-1 1,1 0,5 1,2 0-3 1-1 0-9 1-1 1-17 -1-1 0-5 -2-1 0,5 -1,1 0,9 -1,1 -1-1 -1-10 -1-1 0-18 -1-1 0-9 -1-1 0-2 -1,1 -1,15 1,1 0,10 1,1 0,41 1,1 0,7 2,3 -1,1 0,3 -1,1 0,15 1,1 0,2 -1,1 -4-2 1-1 0-16 -1-1 0-3 -2-3 0-11 -1-1 0-6 -1-2 -1,2 0,7 -1,1 0,10 -2,4 0,4 -1,1 0,9 -1,1 -1-1 0-3 0,1 -2,2 -1-1 0-13 -1-1 0-6 -1-1 0-3 -1-2 -3-2 0-5 -1-1 0-11 1-1 0-3 1-1 0-15 1-1 0-58 -3,0 -2,2 0,2 -1,1 0,6 -1,1 0,14 1,1 0,4 3,4 0,15 -1,1 0,25 -2,3 0,3 -1,1 0,10 -1,1 0,22 -2,2 -1-1 0-9 -1-1 0-3 -1,0 -1,2 0,7 -2,2 -2,0 -1,2 -1-1 0-45 -1-1 0-8 -1-1 0-4 -1-1 0-3 -1-1 0,10 -1,1 0,2 1,1 0,12 1,1 1,16 1,1 0,4 1,1 0,31 1,1 -1,1 -1,0 -4-4 0-16 -1-1 0-4 -1-1 0-2 -2-2 -1,0 -2,3 0,2 -1,1 -1-1 0-41 -1-1 0-16 -1-1 0-7 -1-1 0-5 -1-1 0-2 -1,0 -3,4 0,2 -1,1 0,9 -1,1 0,3 -3,6 0,17 1,1 0,2 1,0 1-2 0-4 1-1 0-4 1-1 2,1 0,3 1,1 0,6 1,1 0,8 1,1 0,8 1,1 0,5 1,1 0,8 2,2 -1,2 0,4 -2,1 -2-2 0-8 -1-1 0-3 -1-2 -2-1 -2,2 0,2 -1,1 -1,12 -1,1 -1-1 0-12 -1-1 0-5 -1-1 0-3 -1-1 -2,0 0,2 -1,1 -1-1 0-21 -1-1 0-6 -1,0 0,5 -1,1 0,11 -2,1 -1-1 0-3 -1-1 -2,2 -2-2 0-3 1-1 0-7 -1-1 -1-11 1-1 0-10 1-1 0-24 -1-1 0-16 -1-1 0-3 -1,1 -1,21 -1,1 -2-4 0-12 -1-1 0-5 0,2 -1,1 0,20 1,1 0,10 1,1 0,21 -2,3 0,3 -1,1 0,17 1,1 0,5 -1,1 0,10 1,1 0,4 1,1 1,4 -1,1 0,2 -1,1 -1-1 -2,2 0,2 -2,3 -1-1 0-2 -2-2 0-7 -1-1 0-3 -2-4 0-7 1-1 0-43 2-4 1-14 1-1 0-11 -1-2 -1,1 0,4 -1,1 0,7 -2,2 -1-1 0-2 0,2 -1,1 0,16 -1,1 0,45 -1,1 -4,0 -1-1 0-5 -1-1 0-2 -1,1 0,10 -3,4 -2,9 -3,4 -1-1 0-24 -1-2 0,3 -1,1 0,17 -1,1 0,8 -2,3 0,2 -1,1 0,4 -1,1 -2-1 0-15 -1-1 0-6 -1-1 -1-4 -2-1 -2,3 0,3 -1,1 0,7 -1,1 -2-2 0-6 -1-1 0-3 2-2 0-3 1-1 0-7 -1-1 0-3 -2-2 0-1 -3,0 0,1 -2,2 0,3 -1,1 1,14 -1,1 0,5 -1,1 -1-1 0-4 -3-7 -2,0 -3,4 0,3 -1,1 -1-1 0-23 0,2 -1,1 0,4 -3,3 -3,9 -4,2 -1,4 -1,1 -5-3 0-17 0,5 -1,1 0,15 -2,3 0,4 -2,3 -2-2 0-6 -1-1 0-5 -1-1 0,2 -2,4 -3-5 -3,4 -1,6 -1,1 -3-1 -1-2 5-6 0-10 -3-5 -1,0 -2-2 -1-6 -2,2 -1-1 0-7 1-1 0-4 2-1 0-3 1-1 0-7 1-1 0-22 -1-1 0-40 -1,0 0,31 -1,1 0,9 -1,1 -2-1 0-7 -1-1 0-4 -1-1 0-2 -1,0 0,2 -1,1 0,4 -2,3 0,4 -1,1 0,8 -1,1 0,4 -2,3 0,4 -1,1 0,9 1,1 0,2 -1,1 0,6 -1,1 0,12 -1,1 0,3 -1,1 0,5 -1,1 0,10 -1,1 -2-2 0-2 -2-2 0-3 1-1 0-8 1-1 0-14 -1-1 0-7 -1-2 -1,0 0,2 -1,1 0,29 1,1 0,2 -4,4 -1-1 -1-6 -1-1 0-4 1-1 0-22 -1-1 0-50 -1-1 0-3 0,10 -1,1 0,21 -1,1 0,4 -1,1 0,4 -1,1 0,8 -1,1 0,16 1,1 0,10 1,1 0,7 -2,2 0,3 -1,1 0,7 -1,1 -4-3 0-28 -1,11 -1,1 0,18 -2,3 0,2 -2,2 -2-2 0-1 -2-2 2-2 1-2 0-3 1-1 0-9 -1-1 0-3 -1-2 -3-3 -1,0 -3,3 -1,2 0,3 -1,1 0,9 1,1 0,3 3,4 0,2 -2,2 -1,0 -6-3 -1-9 -1-1 -1-4 -2-1 -2,2 -1,6 -1,1 0,3 -1,1 -1-2 0,3 -1,1 -3-6 -1,0 -2,3 0,4 -1,1 0,10 1,1 0,3 1,1 -3,5 -1-1 0-2 1-1 0-4 -1-1 0-10 -1-1 2-3 0-3 1-1 0-31 -1-1 0-3 -2-2 0-14 1-1 1,1 1-1 0-6 1-1 0-61 -1,0 0,8 -1,1 0,18 -1,1 0,20 -1,1 0,14 -1,1 0,2 -4,3 0,3 -1,1 0,12 -1,1 -1,28 -1,1 -1-1 -1-17 -1-1 0-4 -1-1 0-8 -1-1 0-17 -1-1 0-3 -1-1 0,4 -1,1 0,17 1,1 0,43 -3,4 0,3 -1,1 -1-1 0-11 -1-1 0-10 1-1 0-15 -1-1 0-9 1-1 0-5 1-1 0-21 -1-2 0,3 -1,1 0,16 -1,1 0,11 -1,1 0,25 -1,1 -2-1 0-18 -1-1 -1,2 0,19 1,2 -1,1 -2-1 0-2 -2-4 -2,0 -2,2 0,2 -1,1 0,4 -1,1 0,4 -1,1 0,5 -1,1 -1-1 0,3 -2,2 -1,0 -4,5 -1-1 0-4 1-1 0-13 -4,0 -1-1 -1-9 -1-1 -1-4 -2-1 0-2 -1-1 0-7 1-1 0-3 1-1 0-11 -1-1 0-3 -2-3 0-25 1-1 1,1 1,4 0-3 1-1 0-29 -1-1 0-4 -1-1 0-2 0,10 -1,1 0,14 -1,1 -2-2 -1-14 -1-1 0-3 -1-1 0-9 -1,1 0,5 -1,1 -1-1 -1-6 -1,1 0,4 -1,1 0,11 -1,1 0,15 -2,2 -1-1 -1,0 -2,2 -1-1 0-6 -1-1 -1,4 -1,1 -1-1 0-2 -1-1 0-13 -1-1 0-8 0,6 -1,1 0,44 1,1 0,18 1,1 0,12 -1,1 -1-1 -2,2 0,2 -1,1 0,3 -1,1 0,9 -1,1 0,10 -1,1 -1-1 0-16 -1-1 0-3 -1-1 0-12 -1-1 0-7 -1-1 0-3 -3-6 0-3 -1-1 -1-5 -1,0 0,4 -1,1 0,29 1,1 0,3 -1,1 -1-1 -2,0 -3,3 -1-1 -1-5 -1-1 -2,0 -3,5 0,4 -2,2 -1-1 0-2 -2-2 -1,1 -1-1 0-4 -2-4 -2-1 -3,6 0,4 -2,2 -1-1 -2,0 -2,2 -1-1 0-9 1-1 0-3 1-1 0-14 1-1 3,0 2,3 2-3 2,1 1-1 0-3 1-1 0-9 1-1 0-2 1-1 1,1 1,4 1,1 0,20 1,0 0-8 1-1 2,2 1,0 2-2 1-2 0-3 1-1 0-9 -1-1 0-3 -1-2 -4-3 1-2 0-35 -1-1 0-5 -1-1 0,6 -1,1 0,11 -4,3 0,4 -2,3 -1-1 0-25 -1-1 0-5 -1,1 0,6 -1,1 0,13 -1,1 0,24 -1,1 -2-4 -3,0 -1-1 0-16 -1-1 0-7 -1-1 0-4 -1-1 0-5 -1-1 0-3 -1,1 0,11 -1,1 0,18 1,1 0,11 1,1 0,4 1,1 0,3 1,1 0,30 -1,1 -1-1 0-2 -2-3 -3,0 -3,6 0,4 -2,2 -3,0 -2,4 0,2 -2,2 -1-1 0-2 0,6 -1,1 -1-1 -1,1 -2-3 -1-4 -3,0 -1,4 -1,1 -1,9 -1,1 -2,0 -5-7 0-10 -1-1 0-2 -1,0 -1,2 -4-2 -2,1 -3,0 -2-2 0-3 -1-1 0-6 -2-1 0-3 -1-1 0-7 -2-2 1-4 1-1 0-4 1-1 0-17 -1-1 0-4 -1-1 -1-4 -3,0 -1,4 -1,1 0,4 -1,1 0,17 1,1 0,25 -2,3 0,6 -1,1 -1-2 -2-1 1-25 -2-3 0,3 -1,1 0,6 -1,1 0,7 -1,1 -1-1 0-3 -2-3 -3,0 -2,3 0,3 -1,1 0,11 1,1 0,3 1,2 3,2 0,6 -1,1 0,5 -1,1 -1-1 0-2 -3-3 -3,0 -3,5 -1-1 0-3 2-3 0-19 -1-2 0,5 -1,1 0,12 -1,1 -2-3 0-5 -1-1 0-3 -2-2 -1,2 0,3 -1,1 -2-2 0-1 -2,0 -2,3 0,3 -1,1 0,6 -2,2 -1-1 -1-6 -2-2 -4,5 -4,2 -1-1 0-3 -1-1 0-5 2-2 0-2 1-1 0-3 1-1 0-6 1-1 0-13 -1-1 0-6 -1-1 0-11 1-1 0-7 1-1 0-33 -1-1 -1-13 -3,0 0,7 -1,1 0,14 -1,1 0,4 -1,1 0,7 -1,1 0,31 -1,1 0,6 -1,1 0,10 -2,4 0,8 -1,1 0,19 -1,1 -1-1 0-2 -3-3 1-2 0-9 -1-1 0-19 1-1 0-13 1-1 0-27 3-5 0-6 1-1 0-26 -1-1 -1,2 0,9 -1,1 0,6 -1,1 0,7 -1,1 -2-4 0,9 -1,1 0,19 -1,1 0,27 -1,1 0,5 -3,3 -1,4 -1,1 -1-1 1-16 -1-1 0-17 -1-1 0-7 -1-1 0-4 -1,2 0,20 -1,1 0,5 1,1 0,21 1,1 0,5 2,4 -1,1 -2-1 -3,0 -2-3 0-6 -1-1 0-2 -1-1 -2,1 0,3 -1,1 0,5 -1,1 0,17 -2,2 -1-1 0-4 1-1 0-23 1-1 0-7 1-1 0-5 1-1 0-32 -1-1 0-5 -1-1 0,4 -1,1 0,11 -1,1 0,13 -1,1 0,27 -1,1 -1-1 -1-4 -1,0 -1,1 0,2 -1,1 0,4 -1,1 -2-2 0-4 -2-3 0-2 -2-2 -2,3 0,3 -1,1 0,6 -1,1 0,11 -1,1 -3-3 0-13 -1-1 0-6 -1-1 0-3 -2-2 0-23 -1-1 0-3 -1-1 -1,1 0,3 -1,1 0,7 -1,1 0,9 1,1 0,3 3,4 -1,1 0,3 -1,1 0,7 -1,1 -2-4 -2,1 0,2 -1,1 0,8 -1,1 -1-1 0-9 -1-1 0-6 -1-1 0-3 -1-2 -2,1 0,2 -1,1 0,6 -1,1 -1-1 0-7 -1-1 0-2 4-5 1-8 1-1 1,1 1,6 0-6 1-1 0-51 -1-1 0-6 -1,0 0,3 -1,1 0,7 -1,1 0,31 -1,1 -1-1 0-2 -2-2 -1,0 -2,2 0,2 -1,1 0,4 -1,1 0,9 1,1 0,4 1,1 0,2 2,2 0,2 -1,1 0,3 -1,1 0,6 -2,4 -2,2 -1-1 0-10 -1-1 0-6 -1-2 -1,0 0,2 -1,1 -1,11 -1,1 -2-3 -2,0 -2,4 0,4 -1,1 -2-2 0-5 -1-1 0-8 1-1 0-9 -1-1 0-6 0,3 -2,2 -2-4 -2,0 -2,2 0,2 -1,1 0,17 2,4 -1,1 0,3 -4,3 -1-1 -1-4 -1-1 -2,0 -2,3 -1,7 -1,1 -1-1 0-7 -1-1 0-14 1-1 0-7 1-1 0-3 1-1 0-11 -2-3 -2-9 0,7 -1,1 0,22 -1,1 -2-1 -3,4 -1,0 -3-4 -3,5 0,4 -1,1 0,7 -1,1 -1-1 -2,0 -2,1 0,1 -2,2 -2-2 -2,1 -1-2 -4-3 0-6 -1,1 0,5 -4,3 -2,4 0,2 -2,1 -1-1 -1-5 -2-3 -1,0 -2,2 -2-2 -2,0 -2,2 -1,0 -1-1 0-3 -1-1 -1-4 -1-1 -2,0 -2,2 -1,2 0,3 -1,1 0,20 1,1 -2,2 -4-3 1-1 0-23 -1-1 0-6 -1-1 0-3 -3-2 0-3 -1-1 0-10 -1-1 0-3 -3,0 -2-4 -1,1 0,3 -1,1 -1-1 0-10 -1-1 0-4 -1-1 0-2 -2-2 0-38zM197,0l-1,0 -1,13 -1,1 0,4 1,1 0,5 1,1 0,2 1-2zM139,0l0,20 1,1 0-21zM119,0l0,15 1,1 0,10 1,1 0,6 1,1 0,8 0-41 -1-1zM71,0l-1,1 -1-1 -2,0 -1,2 0,19 1,1 0,6 1,1 1-10 3-6 0-10 -1-1zM41,0l0,33 1,1 0-34z"/>
<path fill="#333333" d="M1115,259l0,8 1,0 0-8zM1048,246l-1,2 0,19 1,0zM674,240l0,8 -2,3 0,16 1-13 1-1zM616,237l0,3 -1,1 0,24 1,2 1,0 0-29zM421,235l2,3 -1,2 -2,0 -1-1zM430,239l1-1 0-2 3-3 3,0 3,4 0,2 -1,1 -8,0zM958,230l0,9 -1,2 1,1 0,9 1,1 0,3 1,1 1,4 1-2 0-12 -1-1 -1-8 -1-1 0-5zM636,229l-1,1 0,4 -1,1 0,18 -1,1 0,2 1,1 0,10 2,0 0-8 1-1 0-25 -1-1zM979,227l0,3 -1,1 0,7 -2,3 -1-1 0,7 -1,1 0,11 1,1 0,7 4,0 0-2 1-1 0-33 -1-1zM704,226l0,2 -1,1 0,8 1,1 0,2zM456,226l0,39 1,2 0-6 1-1 0-25 -1-1 0-8zM235,228l4-3 2,1 0,2 -1,1 -4,0zM243,224l2,1 0,3 -1,1 -2-1 0-3zM261,224l1-1 10,0 2,1 2,2 0,1 -1,1 -9,0 -1,1 -3,0 -1-1zM248,225l2-2 2,0 2-2 2,0 1,1 2,0 2,2 0,4 -1,1 -11,0 -1-1zM419,221l1-1 4,0 2,1 2,2 0,3 -3,3 -3,1 -1-1 0-4zM288,221l3-3 4,0 3,3 1,3 -2,3 -8,0 -1-1zM791,218l-1,2 0,18 2,3 0,3 1,2 0-2 1-1 0-13 -1-1 0-7zM196,217l1-1 1,1 -1,1zM841,220l4-4 4-1 1-1 11,0 7,3 2,2 -1,1 -2-1 -14,1 -1,1 -3,0 -5,3zM127,220l4-5 2-1 3,0 6,5 1,2 0,3 -1,1 -14,1 -1-1zM289,211l1-1 2,0 1,1 -1,1 -2,0zM530,210l-1,0 0,22 1-2zM292,210l1-1 1,1 -1,1zM293,209l1-1 1,1 -1,1zM162,215l3-3 7-3 3,0 1-1 11,0 8,4 0,4 1,2 -2,2 -4,2 -4,0 -1,1 -8,0 -1-1 -4,0 -1-1 -7-2 -2-2zM92,214l3-4 4-1 1-1 4,0 1,1 2,0 1,1 0,6 0-4 1-1 2,2 -1,4 -5,3 -4,0 -1-2 -1,2 -2,0 -4-3zM876,208l1-1 1,1 -1,1zM759,208l-1,2 0,6 1,1 1-1 0-7zM401,208l1-1 4,0 1,1 9,1 1,2 -5,5 -4,1 -1-1 -3,0 -1-1 0-1 -2-2zM294,208l1-1 1,1 -1,1zM357,206l1,1 0,2 -1,1 -1-1 0-2zM778,205l-1,8 -1,1 0,18 1,1 0,6 1,1 0,6 1,1 0,2 0-13 1-1 0-22 -1-1 0-7zM1215,205l2-2 8,0 3,3 0,2 -1,1 -3,0 -1-1 -6-1zM365,204l1-1 6,0 1,1 3,0 4,3 0,2 -3,3 -9,0 -3-2zM1060,201l4-3 3,0 2,1 2,2 0,1 -1,1 -9,0zM1153,200l3-3 7,0 3,3 0,3 -3,2 -7,0 -1-1 -1,1 -1-1zM62,196l3,5 0,5 -2,4 -1-1 0-8 -1-1 0-3zM18,195l1,1 0,7 -1,1 -1-1 0-7zM1086,197l3-3 2-1 3,0 1,1 2,0 3,4 -2,3 -2,0 -1,1 -7,0 -2-2zM1177,191l3,3 -1,3 -3,2 -1-1 0-6zM1172,191l1,1 0,6 -1,1 -3-2 0-3zM655,191l1-1 1,1 3,0 1,1 -1,1 -4,0zM43,191l3,0 1-1 5,0 1,1 4,1 4,3 0,4 -1,1 0,2 -1,1 -2-1 0,7 -1,1 0,5 -1,1 -6,0 -6-3 -2-2 0-4 1-1 0-14zM1150,190l1-1 2,0 1,1 -1,1 -2,0zM1149,189l1-1 1,1 -1,1zM861,188l2,0 1,1 0,5 2,3 -1,2 -2,0 -2-2 0-1 -1,0 -2-2 0-3zM34,188l2,0 4,3 0,19 -4,2 -3,0 -1-1 0-12 1-1 0-9zM1146,188l1-1 1,1 -1,1zM948,188l1-1 1,1 -1,1zM27,187l2,0 1,1 0,6 -1,1 0,17 -1,1 -1-1 -3,0 -4-3 0-10 -1-1 0-6 3-3 4-1zM631,189l2-3 2,0 1-1 3,1 2,2 0,2 -1,1 -8,0zM209,189l4-4 3,0 5,4 0,4 -3,2 -6,0 -2-2zM1129,184l3,3 0,4 -2,2 -2-1 0-7zM176,184l3,0 4,2 3,6 -1,1 -1,4 -2,2 -2,0 -1,1 -4-1 -4-5 0-6zM1124,183l1,1 0,8 -2,3 -6-1 -1-1 0-7 3-2 3,0zM922,187l3-4 17,0 3,2 0,2 -1,1 0,5 -1,1 -11,0 -7-3zM571,183l2,1 3,4 -1,3 -3,3 -2-1 0-9zM565,183l1,1 0,4 1,1 0,3 -1,1 -1,0 -3-4 0-3zM319,183l6,2 3,3 1,4 1,1 0,7 -1,1 0,2 -5,5 -6,0 -4-2 -3-4 0-13 5-5 2,0zM461,183l1-1 2,0 6,3 -1,1 -5,0zM90,181l1-1 1,1 -1,1zM210,179l1-1 1,1 -1,1zM168,178l1,2 -3,3 -1,0 -1-1zM1198,178l1-1 1,1 -1,1zM444,177l6,5 0,15 -1,1 -6-3 0-17zM525,178l1-2 5,0 1,1 -2,2 -4,0zM684,175l1,1 0,3 -1,1 -1-1 0-3zM588,175l2,0 1,1 0,7 1,1 0,2 -1,1 -5-6 1-2 0-3zM561,175l2,0 1,1 0,2 -2,4 -2-4 0-2zM205,176l1-1 1,1 -1,1zM169,175l1,1 0,2 -1,1 -1-1 0-2zM889,174l5,4 0,17 -1,1 -2,0 -2,2 -1-1 0-22zM594,173l2,2 0,4 2,2 2,0 2,2 -2,2 -5,0 -1-1 0-1 -2-2 0-3 -1-1 0-2zM687,173l2-1 3,3 1,4 1,1 5,1 1,2 -6,3 -1,0 -2-2 -3,0 -2-2zM498,173l1-1 1,1 -1,1zM203,173l1-1 2,3 -2,1 -1-1zM144,172l3,0 2,1 3,6 0,2 -5,4 -4,0 -4-4 0-4 1-2zM497,172l1-1 1,1 -1,1zM576,172l1-2 2,1 -2,2zM496,171l1-1 1,1 -1,1zM495,170l1-1 1,1 -1,1zM570,168l1,1 0,4 -1,1 -1-1 0-4zM553,169l1-1 1,2 -1,1zM1205,167l3,3 0,5 -2,3 -4,1 -1-1 2-3 0-4zM430,167l1,1 0,4 -1,1 -1-1 0-4zM275,167l2,0 6,7 0,3 -2,3 -1-1 0-2 0,5 -3,2 -3,0 -1-1 0-2 1-1 0-12zM271,167l1,1 0,15 -1,1 -4-3 -2-4 0-3 1-2zM1151,166l1,1 1,4 -3,2 -2,0 -1-1 0-2 1-2zM959,166l4,1 3,4 0,4 -2,2 0,1 -3,2 -3,0 -4-5 0-3 2-4zM121,166l1,1 0,4 -1,1 -1-1 0-4zM1041,165l1,1 2,0 3,3 0,4 -1,2 -3,2 -4,0 -1-1 0-5 0,2 -1,1 -1-1 0-4 1-2zM928,168l1,2 0,6 -2,4 -2,2 -3,0 -2-2 -1,0 -3-4 -1,0 0,12 -3,3 -4,2 -6,0 -5-4 0-3 6-6 0-1 1-1 4,0 4-2 4-4 0-2 3-4 2,1 0,2 2-4 3,1zM429,162l1,1 0,4 -1,1 -1-1 0-4zM190,163l1-1 1,1 -1,1zM683,162l1-1 1,1 -1,1zM546,161l4,1 2,2 0,2 1,1 0,2 -4,3 -2,0 -4-3 0-5zM1034,161l1-1 1,1 -1,1zM497,161l-1,1 0,2 -2,2 -2,0 -4-2 2-3 4,0 1-1zM116,158l1,1 0,18 -1,1 -2-4 0-13zM919,158l1-1 1,1 -1,1zM385,157l2,1 0,7 -1,1 -3-3 0-4zM215,160l3-3 3,0 2,2 -2,4zM535,156l3,2 2,4 0,4 -4,5 -2,0 -3-3 1-2 -1-2 0-5zM433,156l1,0 3,3 0,2 1,1 0,9 -3,6 -2,0 -1-1 0-19zM410,156l2,2 0,3 1,1 0,3 -3,2 -1-1 0-9zM26,155l1,1 0,4 -3,3 -1-1 0-5zM641,157l3-3 5,0 3,3 0,1 -1,1 -3,0 -1-1 -5,0zM408,156l0,2 -1,1 0,8 -3,2 -4,0 -1,1 -2,0 -1-1 0-11 -1,1 0,9 -1,1 -2,0 -5-3 1-1 0-9 1-1 10,0 1-1 1,1 6,0zM185,151l1,1 0,5 -1,1 -1-1 0-5zM515,150l2,2 0,2 -1,1 -2-1 0-3zM872,152l1-2 2,0 1-1 2,0 1,1 -3,3 -3,0zM697,149l1,1 -2,4 -2,2 -2,4 0,2 -2,2 -1-1 0-3 1-1 0-9 1-1 1,1 3,0zM513,150l1-1 1,1 -1,1zM512,149l1,1 0,4 -1,1 -4,0 -1,1 -1-1 0-3 3-3zM606,148l8,0 4,3 0,5 -1,1 0,8 -1,1 -7,0 -1,1 -5-4 -1-2 0-7zM101,148l1,1 0,11 -1,1 -3,0 -3-3 0-5zM743,147l2,0 4,4 0,3 -3,4 -5,0 -2-2 0-2 -1-1 1-1 0-2zM716,148l1-1 2,2 5,1 2,4 0-3 4-4 1,1 0,5 -5,4 -4,0 -4-2 -2-2zM191,147l1,0 4,5 0,7 -3,4 -2-1 0-9 -1-1 0-4zM835,147l1-1 3,3 0,1 -1,1 -3-3zM547,147l1-1 1,1 -1,1zM1002,145l-2,0 0,2 -1,1 0,17 2,3 2-3 0-6 1-1 0-10 -2-2zM755,150l1-1 2,0 4-5 8,0 1,1 3,0 5,4 4,1 1,1 0,6 -1,1 -8,0 -3-3 -4,1 -1,1 -5,0 -4-2 -2-2 0-2zM577,144l1-1 1,1 -1,1zM670,143l1-1 1,1 -1,1zM155,141l2,3 -2,4 -1-1 0-5zM41,141l1,1 0,2 -1,1 -1-1 0-2zM668,140l3,4 -3,3 -1-1 0-5zM241,140l1,1 0,3 1,1 0,5 4,3 1,2 0,4 1,1 0,6 -1,1 0,3 -2,3 -2-1 -1-2 0-3 -1-1 0-14 -1,1 -2-1 1-11zM532,140l1-1 2,3 3,0 1-1 3,5 2,1 0,1 -4,2 -4,0 -4-4zM110,139l5,0 2,2 0,13 -1,1 -5,0 -1,1 -1-1 0-7 -1-1 0-5 -1-1zM39,140l1-1 1,2 -1,1zM913,139l0,12 0-2 1-1 0-6 -1-1zM239,139l1-1 1,1 -1,1zM170,138l1,1 -5,4 0,2 -2,4 0,5 -1,1 -2-3 0-7 5-6zM38,139l1-1 1,1 -1,1zM804,137l2,1 -1,2 1,6 4,4 -3,3 -2,1 -3,0 -5-4 -1-4 1-1 1-4 2-2zM601,138l1-1 1,2 -1,1zM55,137l4,4 1,3 -6,4 -1-1 0-7zM51,137l1,1 0,10 1,1 -1,1 -4,0 -1-1 1-1 0-8zM381,136l1,1 1,4 1,0 2,2 0,6 -2,2 -2,0 -4-4 0-2 -1-1zM675,135l1,1 0,3 -2,1 -1-1 0-2zM359,135l1,1 0,18 -1,1 -1,5 -3,5 -4,4 -4,1 -13-9 0-2 -1-1 0-13 -1-1 -1-5 2-2 1,0 1,1 0,2 2,2 1,0 2-3 1,1 0,4 1,1 0,9 1,1 0,3 1-1 0-5 1-1 1-8 3-2 1-2 0-3 1-1 3,5 2,0 2-2 0-2zM306,134l1,1 0,4 -3,6 0,11 3,7 -2,2 -3,0 -4-4 0-7 2-3 0-7 -1-1 0-3 2-2 1,2 1,0zM1210,134l0,3 -1,1 0,11 1,1 0,3 1-2 0-14 -1-1zM777,133l1-1 1,2 -1,1zM278,132l1,1 0,4 1,1 0,2 -1,1 -2-1 0-7zM611,131l1-1 2,2 -2,1zM289,130l1,1 0,4 1,1 -2,2 -1-1 0-6zM960,129l2,2 0,23 -1,1 -3-2 0-5 1-1 0-17zM776,129l1-1 1,2 -1,1zM634,128l1,1 0,4 -1,1 -1-1 0-4zM372,128l1,1 0,2 -1,1 -1-1 0-2zM561,125l1,1 0,11 1,1 -1,1 0,3 1,1 0,6 -3,3 -7,0 -2-2 0-2 -2-3 2-2 2,2 3,0 0-1 2-2 0-3 1-1 0-5 1-1 0-6zM212,125l1,1 0,6 2,3 -3,3 -2,0 -1-1 0-3 1-1 0-4zM503,125l0,11 0-2 1-1 0-5 -1-1zM169,125l1-1 1,1 -1,1zM417,123l1,1 0,6 1,1 -1,1 -2-1 0-7zM74,123l1,1 2,0 1-1 1,1 0,7 0-4 1-1 2,3 0,12 -1,1 -3-5 -4,0 -1-1 0-12zM111,121l1,1 0,2 -1,2 -4,3 -1-1 0-3 -1-2 1-1 2,2 1,0zM31,122l1-1 1,1 -1,1zM51,120l1,1 0,6 -1,1 0,3 -1,1 -2-2 0-4 -1-2 2-1zM307,119l1,1 0,3 -1,1 -1-1 0-3zM212,119l1,1 0,4 -1,1 -1-1 0-4zM307,119l1-1 1,1 -1,1zM116,119l1-1 1,1 -1,1zM36,119l1-1 1,1 -1,1zM1223,118l0,4 -1,1 0,7 1,1 0,3 -2,1 -1,2 0,3 -1,1 0,22 1,1 0,3 1,2 2-1 0-2 1-1 0-5 1-1 0-14 -1-1 0-5 -1-1 0-4 1-1 0-13zM54,116l2,2 1,3 3,3 -1,1 0,6 -4,3 -1-1 0-9 -1-1 0-6zM418,114l1,2 -1,1 0,4 -1,1 -1-1 0-6zM343,114l1,1 0,2 -1,1 -1-1 0-2zM38,114l1,1 0,3 -1,1 -1-1 0-3zM341,113l1-1 1,1 -1,1zM906,112l-1,2 0,4 -1,1 0,16 1,1 0,3 2,1 0-2 1-1 0-22 -1-1 0-2zM130,111l1,1 0,6 1,1 1,11 2,2 -1,1 -4,0 -2-1 -4-5 2-1 1-2 0-2 1-1 0-7zM994,111l0,27 1-1 0-25zM1138,110l0,14 0-2 1-1 0-8 -1-1zM1204,109l0,5 -1,1 0,22 1,1 0,4 0-2 1-1 0-27 -1-1zM1143,109l-1,1 0,10 1,1 0-2 1-1 0-6 -1-1zM1094,107l-1,2 0,24 1,2zM941,107l-1,2 0,25 1,2 0-5 1-1 0-17 -1-1zM407,104l1-1 1,2 -1,1zM275,101l1,1 0,2 -1,1 -1-1 0-2zM524,100l-2,2 -1,4 -1,1 0,9 1,1 1,4 2,2 1,0 2-2 1-4 1-1 0-9 -1-1 -1-4 -2-2zM260,97l0,15 0-3 1-1 0-8 -1-1zM1209,95l0,2 -1,1 0,25 1,1 0,4 1-2 0-8 1-1 0-13 -1-1 0-7zM141,93l-1,0 0,7 1-2zM1034,91l0,5 -1,1 0,13 -1,1 1,13 1,0 0-4 1-1 0-21 -1-1zM441,90l0,16 1,0 0-16zM1161,86l-1,2 0,7 -1,1 0,8 1,1 0,7 1,2 1-2 0-6 1-1 0-11 -1-1 0-5zM1185,82l-1,2 0,8 1,1zM929,81l0,7 -1,1 1,1 0,6 1-2 0-12zM1167,79l0,3 -1,1 0,19 1,1 0,3 1,0 0-2 1-1 0-12 -1-1zM886,79l0,2 -1,1 0,8 -1,1 -2-2 0,15 1-1 0-3 1-1 1,1 0,5 1,2 0-5 1-1 0-16 -1-1zM1190,77l0,4 -1,1 0,9 1,1 0,4 1-2 0-14 -1-1zM555,77l0,5 -1,1 0,16 1,1 0,4 1,0 0-3 1-1 0-19 -1-1 0-3zM874,73l0,2 -1,1 0,32 1-1zM862,72l-1,6 -1,1 0,4 -1,1 0,22 1,1 0,2 2,0 1-1 0-34zM866,70l0,22 0-6 1-1 0-11 -1-1zM1052,69l0,3 -1,1 0,5 -1,1 0,43 1,1 0,3 0-2 1-1 0-20 1-1 0-25 -1-1zM1134,68l-1,1 0,6 -1,1 0,5 -1,1 0,31 1,1 0,3 1-1 0-3 1-1zM1071,68l-2,3 0,4 -1,1 0,7 1,1 0,4 3,4 0,12 1,1 0,4 -1,1 0,35 1,1 0,3 1,2 3,0 1-2 0-3 1-1 0-11 -1-1 0-3 -2-3 0-39 -1-1 0-11 -1-1 0-4 -1-2zM456,67l-2,4 0,9 2,4 3,0 2-4 0-9 -2-4zM320,66l0,15 1,0 0-13zM796,64l-1,1 0,5 -1,1 0,16 1,1 0,2 0-4 1-1 0-13 1-1 0-5zM159,64l-1,2 0,14 1,2 1-1 0-16zM832,63l-1,1 -1,10 -1,1 0,17 0-3 3-6 0-7 1-1 0-4 -1-1zM789,61l0,8 -1,1 0,20 1,1 0,9 1,2 0-4 1-1 0-11 1-1 0-12 -1-1 0-7 -1-1 0-3zM744,60l-1,2 0,7 1,1 0,10 1,1 0,9 1,2 0-24 -1-1zM1114,59l-1,0 0,2 -1,1 0,4 -1,1 -2-2 0-1 -1,0 0,1 -3,3 -1,0 -1-2 0,11 2,2 1,6 3,6 1-2 0-4 1-1 0-4 2-1 0-2 1-1zM518,59l0,4 -1,1 0,12 1,1 0,5 1,0 0-22zM471,59l0,7 -1,1 1,10 0-3 1-1 0-11 -1-1zM374,59l-2,2 0,3 -1,1 0,9 1,1 0,3 2,2 1,0 2-2 0-3 1-1 0-9 -1-1 0-3 -2-2zM140,58l-1,2 0,3 -1,1 0,11 1,1 0,3 1,2 4,1 0-3 1-1 0-14 -1-1 0-3 -1-2zM1025,56l0,2 -1,1 0,41 1-1 0-10 1-1 0-27 -1-1zM980,56l0,7 -1,1 0,10 1,1 0,11 1,1 0,2 1-2 0-18 -1-1 0-10zM301,55l-3,4 0,4 -1,1 0,7 1,1 0,4 1,2 2,2 1,0 3-4 0-4 1-1 0-7 -1-1 0-4 -1-2 -2-2zM587,54l0,4 -1,1 0,13 1-1zM355,53l-3,6 0,13 1,1 1,4 2,1 3-6 0-13 -1-1 -1-4zM651,52l-1,1 0,24 1,1 0-5 1-1 0-14 -1-1zM424,51l1,1 0,7 1,1 0,15 1,1 0,3 -1,1 0,11 3,6 0,18 1,1 -1,1 0,12 -2,2 -1-1 0-14 -1-1 -1-6 -2-2 0-3 1-1 0-7 -1-1 0-4 -2-4 -2-2 -2-1 -3,1 -1-1 0-22 1-1 2,3 1,0 2-3 1,1 0,9 1,1 0,3 1-1 0-3 1-1 0-7 1-1 0-10zM202,52l0,2 -1,1 0,34 1,1 0,6 1,1 0,2 0-4 1-1 0-28 -1-1 0-8 -1-1zM936,51l0,31 1,1 0,4 1-1 0-20 -1-1 0-8 -1-1zM705,50l0,12 1-1 0-10zM1080,49l0,9 -1,1 1,2 0,12 1-2 0-15 -1-1zM547,49l0,9 -1,1 0,4 -1,1 0,3 -1,1 0,5 -1,1 0,17 1,1 0,8 1,1 0,6 1,1 0,3 1,0 0-4 1-1 0-38 -1-1zM153,48l0,14 1,0 0-13zM1098,44l0,4 -1,1 0,27 1,1 0,4 1-2 0-8 1-1 0-12 -1-1 0-11zM533,44l-1,2 0,3 1,1 0,7zM50,43l-1,1 0,4 -1,1 0,5 1,1 0,12 1,1 0,11 1,2 0-3 1-1 0-22 -1-1 0-9zM1227,41l-1,0 0,15zM950,41l-1,18 1,1 0,8 1,0 0-7 1-1 0-10 -1-1 0-8zM924,41l-1,0 0,9 1-1zM290,41l-2,1 -1,2 0,3 -1,1 0,19 1,1 -1,15 1,1 0,5 0-2 1-1 0-11 3-2 1-2 0-3 1-1 0-19 -1-1 0-3zM727,40l-2,2 0,5 -1,1 0,11 -1,1 -1-1 -1,2 -1,10 1,1 0,4 1,0 1-2 0-10 2-2 2,2 1,2 0,5 1,1 0,8 1,1 0,8 1,1 0,3 1-1 0-32 -1-1 0-9 -1-1 0-5 -1-1 0-3zM580,38l0,4 -1,1 0,21 1,2 0-3 1-1 0-20 -1-1zM611,36l-1,0 0,12 1-1zM558,35l0,10 0-2 1-1 0-4 -1-1zM788,34l-1,2 0,14 1,1 0,3 1,0 0-16 -1-1zM600,30l0,2 -1,1 0,15 1,1 0,5 1-2 0-18 -1-1zM827,29l0,3 -1,1 0,10 -1,1 0,20 1,1 0,6 1,2 0-3 1-1 0-31 -1-1zM1158,28l0,4 -1,1 0,15 -1,1 0,8 -1,1 -1-1 -1,1 0,14 1,2 1-1 1,2 1-2 0-3 2-3 0-7 1-1 0-11 -1-1 0-17zM1109,28l0,4 -1,1 0,2 1,1 0,10zM943,28l0,4 -1,1 0,13 -1,1 0,3 1,1 0,14 1,1 0,4 1,0 0-4 1-1 0-7 1-1 0-19 -1-1 0-6 -1-1 0-2zM246,28l-1,1 0,3 -1,1 0,8 1,1 0,4 1,2 1-1 0-17zM1089,26l-1,2 0,10 -1,1 0,14 1,1 0,3 1-1 0-4 1-1 0-22 -1-1zM630,25l-1,2 1,21 0-3 1-1 0-13 -1-1zM36,25l-1,0 0,6 1-1zM593,24l0,3 -1,1 0,37 1,0zM530,24l0,13 1,2 0-11 -1-1zM434,23l0,2 -1,1 0,14 1,1 0,3zM148,23l0,5 -1,1 0,32 1,1 0,8 1,1 0,2 0-8 1-1 0-31 -1-1 0-9zM1057,22l0,18 1,1 0,7 0-25zM956,22l0,7 -1,1 0,15 1,1 0,10 1,1 0-3 1-1 0-26 -1-1 0-4zM919,22l0,4 -1,1 0,16 -1,1 -1,8 -1,1 0,9 1,1 0,3 1,1 0,3 1,1 0,11 -1,1 0,26 1,2 1-2 0-32 1-1 0-17 1-1 0-14 -1-1 0-13 -1-1zM78,22l0,3 -1,1 0,27 1,1 0,3 1,0 1-2 1-20 -1-1 0-9 -1-1 0-2zM349,18l-1,2 0,27 1,1 0,3 2,2 0,2 1-1 0-14 -1-1 0-6 -1-1 0-8 -1-1zM460,16l-1,2 0,12 -1,1 0,17 1,1 0,12 1,1 0,2 1-2 0-10 1-1 0-14 -1-1 0-14 -1-1zM165,15l-1,1 0,35 1-1zM112,15l-1,0 -1,2 0,10 1,2 1-4 1-1 0-7zM750,13l-1,2 0,4 -1,1 0,25 1,1 0,7 1,1 0,6 1,2 0-15 1-1 0-4 -1-1 0-24 -1-1zM363,13l-1,2 0,7 -1,1 -1,34 1,1 0,13 1,1 1,4 1,0 0-4 1-1 0-17 1-1 1,1 0,4 1,2 2,0 0-3 3-4 0-7 1-1 0-14 -1-1 0-8 -1,0 0,9 -1,1 0,5 -1,1 -2-3 -1,2 0,8 -1,1 0,4 -1,1 -1-1 0-25 -1-1zM1079,12l0,3 -1,1 0,19 1,1 0,7 0-6 1-1 0-22zM813,12l-1,1 0,3 -1,1 0,8 -1,1 0,18 1,1 0,9 1,1 0,3 1,0 0-2 1-1 0-11 1-1 0-17 -1-1 0-10 -1-1zM803,12l-1,0 0,8 -1,1 0,11 1,1 0,6 0-8 1-1zM495,11l0,10 -1,1 0,17 -1,1 0,15 1,1 0,6 1-1 0-10 1-1 0-32 -1-1zM627,10l-1,1 0,23 -1,1 0,11 -1,1 0,16 1,1 0,6 1-1 0-38 1-1zM990,9l-1,0 0,2 -1,1 0,12 -1,1 0,25 1,1 0,8 1,2 1-2 0-11 1-1 0-33 -1-1zM1209,6l-1,0 0,12 -1,1 0,27 1,2 0-30 1-1zM1182,5l0,27 1,1 0,6 1,1 0-15 -1-1 0-11 -1-1zM596,4l0,12 1,1 0,2 0-15zM5,30l0,21 -1,1 0,6 -1,1 0,21 1,1 0,149 -2,1 -2,3 0,18 3,4 7,0 4,2 3,0 1-1 2,0 2-2 3,0 1,2 3,2 22,0 2-1 2-3 1,0 2,4 0,3 2-1 0-5 1-1 5,4 65,0 1-1 40,0 1,1 0,8 0-8 1-1 5,0 1-1 18,0 1,1 0,3 1,1 0,5 1,0 0-6 1-1 0-3 1-1 15,0 4-3 3,0 1-1 8,0 1,1 0,2 2,1 0,1 6,7 14,0 1,1 4,0 1-1 3,0 1-1 9,0 1,1 4,0 1,1 2,0 1,2 1-2 17,0 2,2 1,0 0-1 2-2 12,0 4-2 9,0 1,1 3,0 1,1 6,0 1,1 10,0 1-1 3,0 1,1 0,2 1,0 0-3 1-1 10,0 1,1 35,0 1-1 4,0 1-1 2,0 1,1 3,0 1,1 15,0 1-1 5,0 1-1 0-34 3-6 4-3 1,1 0,12 1,1 0,3 0-8 1-1 0-23 2-1 1,1 4,0 1,1 9-1 4,2 0,10 -2,4 0,16 1,1 0,7 1,1 0,8 1,1 0,2 1-1 0-5 1-1 0-43 1-1 12,0 1-1 4,0 1,1 3,0 1,1 8,0 4-2 1,1 0,4 0-4 1-1 1,1 7,0 1,1 0,11 1,1 0,5 0-3 1-1 0-12 1-1 8,0 3-2 8,1 1,1 18,0 4,2 0,3 1,2 0-4 1-1 1,1 6,1 7,4 6,1 1,1 0,16 -1,1 0,3 -1,1 0,24 1-2 0-7 1-1 1,1 0-4 1-1 0-30 1-1 40,1 6,3 0,4 1,1 0,7 0-11 1-1 30,0 1,1 11,0 1,1 0,21 0-4 1-1 0-15 1-1 7,0 1-1 3,0 5-3 4-5 0-2 1-1 0-5 -2-4 3-5 0-5 -1-1 1-1 17,0 1,1 0,4 -1,1 0,5 -2,4 0,4 -1,1 0,3 -1,1 0,6 -1,1 0,20 1,1 0,3 1-1 1-5 2-2 1,2 0-6 1-1 0-33 -1-1 0-7 1-1 9,0 2,2 0,1 0-2 1-1 2,0 1,1 0,17 1,1 0,2 1,0 0-3 1-1 0-16 1-1 58,0 3,6 1,0 2,2 5,0 2-2 1,0 2-4 0-2 3-2 4,1 4,4 0,7 -6,5 -3,0 -5-4 -1,0 0,13 1,1 0,2 -2,2 -4,0 -2,1 -3,3 0,3 3,3 2,1 3,0 1,1 -11,5 -3,3 -1,2 0,3 4,5 8,4 6,1 1,1 3,0 2,3 0,4 1,1 0,2 8-1 1,2 2-3 14,0 1,1 11,0 1-1 2,0 1,1 4,0 1,1 11,0 1-1 4,0 0-17 2-3 0-3 -2-3 0-13 1-1 3,2 40,0 1-1 9,0 1,1 0,11 1,1 0,20 0-5 1-1 0-13 1-1 0-7 1-1 0-4 2-2 3,0 1-1 16,0 1,1 0,2 -1,1 0,20 1,1 0,11 1,1 0-4 1-1 0-31 1-1 1,1 9,1 3,2 0,26 1,0 0-4 1-1 1,1 0,2 1,0 0-13 -1,0 -1,2 -1-1 0-6 -1-1 0-5 1-1 1,1 4,0 1,1 3,0 1,1 5,0 1,1 4,0 1,1 1-1 1,1 3,0 1,1 0,3 -1,1 1,2 0,10 0-16 1-1 1,1 2,0 1,1 0,26 1,0 1-13 1-1 0-12 1-1 2,1 5,0 1,1 0,29 1,0 0-29 1-1 21,0 1,1 11,0 1,1 0,2 -1,1 0,19 1,0 0-4 1-1 0-17 1-1 20-1 1-1 8,0 1-1 2,0 1,1 0,16 1,2 0-5 1-1 0-12 1-1 2,0 1-1 8,0 2-1 1,1 0,7 0-7 1-1 9,0 1,1 7,0 1,1 5,0 1,1 6,0 3,2 0,6 -1,1 1,20 0-5 1-1 0-21 1-1 11,0 1-1 5,0 1-1 4,0 1-1 15,0 1,1 4,0 4,2 0,15 1,1 0,6 1,1 1-2 0-8 1-1 0-10 1-1 2,0 1,1 4,0 1,1 4,0 1,1 5,0 1,1 0,10 -1,1 0,14 1,1 0,4 2-1 1-28 1-1 1,1 5,0 1,1 4,0 1,1 3,0 2-1 0-25 -6-3 0-50 -4,2 -8-5 -1,4 -1,1 1,15 -2,3 -6,0 -2-4 0-8 -4-6 -4-2 -6-5 0-7 -1-1 0-4 -1-2 -2-1 -2,3 -1-1 0-3 -1-2 -1,1 0,4 -1,1 0,4 -1,1 -1-1 -1-4 -2-2 -3,3 0,3 -1,1 0,11 1,1 1,4 1,1 2,0 2-3 1-6 1-1 1,1 0,3 2,2 0,8 1,1 0,4 1,1 -1,2 -3-2 -2,3 6,5 0,3 -3,3 -3,1 -1-1 -2,0 -2-2 -1-2 0-3 -4-5 1-1 0-7 1-1 -1-4 -1,1 -10,0 -4-3 1-2 0-20 -3-6 -2,2 0,2 -1,1 0,7 -1,1 1,12 -3,2 -2-1 0-15 -1-1 0-3 -2-4 -2,1 -1,6 -1,1 0,11 -4,4 -1-1 1-2 0-14 1-1 0-12 -1-1 0-15 1-1 0-20 -1-1 0-8 0,5 -1,1 0,26 1,1 0,15 -5,4 0,2 -1,1 0,4 -1,1 0,15 1,1 0,2 -5,3 -1,2 0,6 -4,5 -2,1 -2-1 0-4 -1-1 0-9 -1-1 -1-14 -1-1 -1-15 -1-1 0-3 -1-2 -4-2 -1-5 -3,6 0,6 -1,1 0,9 -1,1 0,15 -1,1 -1-1 -4,0 -1,3 -4,4 -2,1 -2-1 1-1 0-3 1-1 0-13 -1-1 0-4 -1-2 -2,0 -1,2 0,4 -1,1 0,13 1,1 0,3 1,1 -1,2 -6-1 -2,2 0,2 -2,2 -8,2 -2,2 -3-6 1-2 0-3 1-1 0-6 -1-2 -2-1 -2,2 -3,6 0,6 -1,1 -1,4 -3,3 -2,0 -4-4 0-2 -1-1 1-5 1-1 2,3 2,0 2-2 0-2 1-1 0-14 -1-1 0-2 1-1 0-19 -1-1 1-24 -1-1 0-6 -1,1 0,22 -1,1 0,3 -1,1 0,5 -1,1 1,15 -3,4 -1-1 0-4 -1-1 0,6 -1,1 0,12 -1,1 -2-4 -3-3 -1,1 -2,0 -6,6 -1-1 0-13 -1-1 0-4 -1-1 0-2 -2-2 -1,0 -3,6 0,7 -1,1 0,4 1,1 0,7 1,2 -4,3 -1,2 0,6 -1,1 -1-1 0-16 1-1 0-15 -1-1 0-2 0,39 6,1 1,1 3,0 2,2 0,6 1,0 0-5 1-1 5,0 4-2 11,0 1,1 2,0 2,2 3,0 2-2 4-2 3,0 3,3 2,0 1,1 0,4 -5,4 -6,0 -5-4 -2,0 -2,2 -8,2 -1-1 0-5 -1,0 0,4 -1,1 -10-1 -4,4 0,4 1,1 -1,2 -11,0 -1-1 1-6 -6-5 -1-2 0-5 -4-6 0-3 -1-1 0-6 -4-1 -2,2 0,4 1,1 0,11 1,1 0,3 -6,5 -9,0 -2-1 -4-5 5-6 0-9 1-1 0-2 -4,5 -1-1 0-17 -1-1 0-3 -2-4 -2,0 -2,3 0,2 -1,1 0,6 1,1 0,3 2,2 2,0 1-1 1,1 0,8 1-1 1,2 -2,4 -4,4 -4,0 -2-1 -3-3 -1-4 -1-1 1-2 0-3 2-3 0-4 -5-6 1-1 0-24 1-1 0-13 -1-1 0-4 -2-3 1-2 0-40 -1-1 0-10 -1,0 -2-2 0-14 -1-1 0-4 -1-2 0,29 -1,1 0,15 1,1 0,6 2,3 0,6 1,1 0,12 -3,5 -1-1 -1-18 -1,1 -1,7 -3,3 0,5 -1,1 0,14 -2,2 -2-4 -1,2 0,6 -1,1 0,9 1,1 0,6 1,2 1-1 0-2 1-1 1,1 0,6 1,1 0,3 -1,1 -7,0 -1,1 -7,0 -1,1 -3,0 -1-1 2-3 0-4 1-1 0-20 -1-1 0-4 -1-2 -2-1 -3,6 0,9 -1,1 0,4 1,1 0,9 3,6 -1,1 -8,0 -1-1 0-16 -1-1 0,11 -1,1 0,4 -1,1 -7-4 -6,0 -1-1 0-7 -1-2 -4-3 0-3 0,4 -3,4 0,4 -2,2 -1,0 0,9 -5,4 -1-1 0-35 -2-1 -5,0 -1-1 -2,0 -4-7 -3,0 -3-3 0-5 -1-1 0-6 -1-2 0,22 -1,1 -2-2 0-7 -3-6 -3,0 -2,4 0,3 -1,1 -5-3 0-11 -1-1 0-2 -1,2 0,5 -1,1 0,11 -1,1 -1-1 0-4 -1-1 0-2 -2-3 -2,1 -1,4 -2,3 -3-5 -2,0 -2,2 -1,4 -3,3 -1-1 0-2 -2-2 -2,0 -1-1 -1-40 -1-1 0-7 -1-2 -1,2 0,10 -1,1 0,12 1,1 0,16 1,1 0,10 1,2 -2,3 -1-1 -2,0 -3,3 -1-1 0-20 -1-1 0-3 -1-2 -2-1 0-17 -1-1 -1,2 0,7 -1,1 1,13 -2,2 -1,4 -1,1 -1-2 -2-2 -1,0 -2,2 -1,4 -1,1 0,14 1,1 0,3 1,2 3,2 -2,2 -1,0 -4-4 -2,0 -2-2 1-2 0-16 -1-1 0-3 -2-2 0-12 -1-1 0-2 0,3 -1,1 0,11 -2,3 0,3 -1,1 0,13 -1,1 -2-2 -3-1 -1-1 0-14 -1-1 0-5 -1-1 0-2 -3-2 0-3 -1-1 0-8 -1-1 0-4 -1-1 -1,1 0,5 -1,1 -1,32 -2,2 -1-1 0-8 -1-1 0-5 -1,0 0,2 -1,1 0,5 -1,1 -2-1 -3,6 0,6 1,1 0,3 1,2 -2,2 -1,0 -5-4 0-19 -1-1 0-3 -1-2 -2,0 -2,3 0,3 -1,1 0,8 -1,1 -4-2 -1-10 -2-4 -1,0 -2,3 0,3 -1,1 0,8 -2,2 -2-1 0-16 -1-1 0-3 -1-2 -2,1 0,2 -1,1 0,5 -1,1 -1-1 0-30 -1,0 -1,19 1,1 0,10 2,1 0,17 1,1 0,5 2,4 -1,1 -8,0 -1-1 0-3 1-1 0-18 -1-1 0-11 1-1 0-3 -1-1 0-6 -2-1 -3-4 0-3 1-1 0-13 -1-1 0-3 -1-1 0-2 1-1 0-8 1-1 0-37 -1-1 0-6 0,2 -1,1 0,13 -1,1 0,28 1,1 0,7 -1,1 -1-1 -2,1 -2,4 0,6 -1,1 1,12 1,1 0,3 -1,1 0,12 6,8 0,7 -1,1 0,9 1,1 0,3 -1,1 -2-1 0-5 -1-1 0-6 -1-2 -2-1 -2,3 -1,5 -1,1 -1-1 0-3 -3-4 0-5 -1-1 0-4 -1-1 0-23 1-1 0-11 -1-1 0-26 -1-1 0-6 0,2 -1,1 0,27 -1,1 0,30 -1,1 -2-1 -3,1 -1-1 0-6 0,8 -2,2 -1,4 -1,1 -1,10 -1,1 -1-1 0,2 -2,4 -1-1 0-4 -1-1 0-5 -1,0 -1,9 -2,3 -1,8 -1,1 -3-3 0-18 -1-1 0-4 -2-3 -2,1 0,2 -1,1 0,5 -1,1 0,9 -1,1 -2-2 0-9 -1-1 0-4 -2-5 2-1 2-4 0-9 -2-4 -3,0 -2,4 0,9 2,3 0,2 -2,3 0,4 -1,1 0,9 -1,1 -1-1 0-9 -1-1 0-3 -2-4 -2,0 -2,2 0,2 -1,1 0,4 -1,1 0,5 -2,1 0,2 -1,1 -1-1 0-2 -1-1 0-6 2-2 1,1 0,3 0-2 1-1 0-15 -1-1 0,2 -1,1 -2,0 -2,7 -1,1 -2-1 -2,2 -1,2 0,3 -1,1 -1,0 -2-3 -1,0 -2,2 -1,6 -1,1 0,3 -1,1 -4-3 0-11 -1-1 0,3 -2,4 -1-1 -1-4 -2-1 -2,4 0,3 -2,3 -5-3 0-3 3-3 0-2 1-1 0-6 -1-1 0-2 -3-3 -1-4 -2,1 -2-4 1-2 0-33 -1-1 0-12 -1-1 0-5 -1-1 0-2 -1,0 0,2 -1,1 0,5 -2,3 -1,12 -3,7 0,8 1,1 0,2 -1,1 0,4 -1,1 0,16 -1,1 0,3 -1,1 -1,14 -1,1 0,8 -1,1 -1-1 0-5 -1-1 -1-4 -2-2 -2,0 -2,3 -1-1 0-2 -1,0 0,16 -1,1 -1-1 -1-13 -2-3 -2,3 -1,10 -1,1 -1-2 -1,0 -2-2 -1-17 0,7 -1,1 0,12 -2,3 0,2 -2,2 -2-2 -1-4 -3,0 -1,2 -2,2 -1,0 -2-2 -4,0 -1-1 0-7 -1-1 -1-5 -2-1 -3,6 0,18 1,2 -2,2 -4,2 -2-1 2-3 0-14 -1-1 0-2 -2-1 -2,4 0,14 3,4 -6,7 -1-1 1-2 0-11 -1-1 0-8 -1-1 3-6 0-17 1-1 0-3 -1-1 0-7 -1,1 0,13 -1,1 -4-3 0-2 1-1 0-6 1-1 0-15 -1-1 0-3 -1-1 -1,1 0,5 -1,1 -1,40 3,6 -1,2 0,10 1,1 0,2 3,2 0,5 1,1 -2,1 -2-4 -1,0 -2,4 -10-7 0-4 2-1 2,3 0,2 2,1 1-2 0-4 1-1 0-17 -1-1 0-4 -1-1 0-12 -1-1 0-5 -1-1 0-4 -1-1 0-19 -1-1 0-4 -1,0 0,20 1,1 0,45 -2,3 -2-1 0,5 -1,1 0,2 -1,1 -2,0 -1-1 1-4 1-1 0-15 -1-1 0-2 1-1 0-33 -1,1 0,31 -1,1 -2-1 -2,2 0,2 -1,1 0,16 1,1 0,2 -1,1 -3-4 1-1 0-18 -1-1 0-2 -2-2 -1,0 -2,3 0,3 -1,1 0,14 -7,3 -3,5 0,5 -1,1 -2-1 0-14 2-1 0-7 -4,0 -1,1 -1-1 0-9 -1-1 0-3 -4-5 0-10 -1-1 0-2 2-4 0-11 -3-6 0-26 -1-1 0-10 -1-1 0-3 -2-1 0-10 -1,1 0,4 -1,1 -1-1 0-8 -1-1 0-4 -1,1 0,5 -1,1 0,13 -1,1 0,10 -1,1 -2-3 -1,0 -2,3 -2-2 0-1 -1,4 -1,1 -1-1 0-2 -1-1 0-10 -1-1 0-7 0,48 1,1 0,12 1,1 0,14 -1,1 -1-2 -1,0 -2,2 0,3 -1,1 0,5 -1,1 0,17 1,2 -1,1 -4-4 0-3 1-1 0-5 -1-1 0-8 -1-1 0-3 -1-1 0-14 -1-1 0-4 -2-4 0-3 -1-1 0-3 -1-1 -1-4 -1,1 0,10 -1,1 0,6 1,1 0,11 2,3 0,3 -2,4 -1-1 0-2 -1-1 -2,0 -2,2 0,2 -1,1 -1-1 0-3 -1-1 -1-4 -2,0 -2,3 0,3 -1,1 0,7 -1,1 -1-1 -1-6 -2-2 -1,1 -1-1 -1-5 -1-2 -2-1 -2,3 -1,8 -1,1 -1-2 -2-1 -3,3 -2-2 0-12 -1-1 0-3 -1-2 -2-2 -1,0 -3,4 0,3 -1,1 0,6 -1,1 -2-2 -1,0 -2,2 -1,6 -2,4 -1-2 -4,2 -1-1 0-3 -2-3 -2,1 -1,4 -1,1 0,9 -1,1 -3,0 -2-3 -1-4 -4-2 1-1 0-7 -1-2 -3-3 -5,0 -1,1 -4-3 0-3 0,2 -1,1 -1-1 0-2 -1-1 0-12 -1-2 0,3 -1,1 0,14 -1,1 -2-1 -1,2 0,5 -1,1 1,2 0,24 2,3 -4,3 -2,0 -1-1 2-4 0-7 1-1 0-11 -1-1 0-7 -1-1 0-2 -1-2 -1,0 -2-2 0-22 0,2 -1,1 0,4 -1,1 0,9 -1,1 -1-1 0-7 -1-1 -1-4 -3,0 -1,4 -1,1 0,11 1,1 0,2 1,2 3,0 1,1 -1,1 0,4 -1,1 0,17 -1,1 -1-1 -1-8 -2-4 -2-1 -2,1 -2,3 0,2 -1,1 -1-1 0-2 -1-1 0-4 -2-4 0-3 -1-1 0-4 -1-2 -1,0 -1,2 0,3 -1,1 -3-4 -1,0 -2,4 0,5 -1,1 0,8 -1,1 0,5 1,1 0,2 -2,2 -1-1 0-16 -1-1 0-3 -2-2 -2,2 0,3 -2,2 -1,0 -3,5 0,6 -1,1 -1-1 0-20 -1-1 0-4 -1-2 1-1 2,0 1-2 0-2 1-1 0-6 1-1 0-13 -1-1 0-6 -1-1 1-24 1-1 0-23 -1-1 0-6 -1-1 0-6 -1-2 0,5 -1,1 0,15 -1,1 0,5 -1,1 0,4 -1,1 0,20 -1,1 -1,32 -2,2 0,3 -1,1 0,33 0-6 1-1 0-3 1-1 1,1 0,11 -1,1 -4,0 -1-1 1-1 0-6 -1-1 0-4 -3-3 -1-31 1-1 0-9 1-1 0-25 -1-1 0-9 -1-2 0,11 -1,1 0,32 -1,1 0,8 -4,4 0,2 -1,1 -2,16 -1,1 -3-4 -1,0 -2,2 -1-1 0-7 -1-1 0-3 -1-2 -1,0 -1,2 0,3 -1,1 0,10 -1,1 0,8 1,1 0,2 -3,4 -2,1 -1-1 0-8 2-3 0-9 1-1 0-24 1-1 0-4 1-1 0-28 -1-1 0,5 -1,1 0,14 -1,1 0,9 -1,1 0,23 -1,1 -1-1 0-3 -1-2 -2,1 0,3 -1,1 0,6 -1,1 0,14 1,1 0,6 1,1 -1,1 -4,0 -1-1 0-3 1-1 0-8 1-1 0-18 -2-1 0-3 -1-2 -2,1 0,2 -1,1 0,4 -1,1 0,19 -1,1 -1-1 0-2 -4-5 0-17 -1-1 0-4 -1-2 -2,0 0,2 -1,1 0,4 -1,1 0,9 -1,1 -1-1 0-5 -1-2 -2,1 0,4 -1,1 0,10 -1,1 -2-1 0-19 -1-1 0-4 -1-2 -1,0 -1,2 0,3 -1,1 0,9 -1,1 0,9 1,1 -2,3 0,2 -3,6 -1-1 0-4 2-4 0-5 -3-7 -1,2 -1,0 -2-2 0-17 -1-1 0-2 -1,0 0,3 -1,1 0,18 -1,1 -1-1 0-7 -1-1 0-2 -2-2 -1,1 -1,4 -1,1 0,17 1,2 -1,1 -3-2 0-3 1-1 -1-15 -1,0 -2-2 0-4 -1-1 0-3 1-1 0-11 -3-6 -2,1 0,2 -1,1 0,4 -1,1 1,10 2,4 -1,2 0,6 -1,1 -2-1 -2,2 -2-2 0-2 -2-2 -2,2 0,2 -1,1 0,8 -2,2 -1-1 0-3 -1-1 0-12 -1-1 0-6 -1-1 0-3 2-1 0-27 -1-2 0,29 -1,1 -2-3 -2,0 -1,1 0,2 -2,1 -2-4 -1,0 -3,6 0,6 -1,1 0,2 -1,1 -1-1 -2,0 -4,4 -2-2 -1,0 -1,2 -5-6 0-2 -5,6 -2,8 -2,2 -1-1 -1-8 -2-4 -1,0 -2,2 -4-2 -2,2 0,2 -1,1 -1-1 -1-7 -1-2 -2-2 -1,0 -3,6 0,18 1,2 -1,1 0,3 -1,1 -5-4 0-28 -1-1 0-4 -1-1 -1,0 -1,2 -1-1 -1-18 -1-1 -2,2 -1-1 0-4 -1-2 -1,1 0,15 2-2 2,1 0,6 3,6 0,17 -1,1 -2-2 -1-12 -4-8 0-5 -1-1 0-20 -1-1 0-6 -1-1 0-3 -2-2 0-13 -1-1zM1213,2l0,5 -1,1 0,8 -1,1 0,16 2,2 0,3 1,1 0,7 1,1 0,24 1,1 0,4 1-1 0-12 1-1 0-3 -1-1 0-13 -2-4 0-21 -1-1 0-17zM1129,1l0,7 -1,1 0,20 -1,1 0,15 -1,1 0,21 3-5 0-5 1-1 0-52 -1-1zM766,1l-1,1 -1,4 -2,2 0,3 -1,1 0,11 1,1 0,2 3,4 0,17 -1,1 0,24 1,0 0-5 1-1 0-32 1-1 0-24 -1-1zM1142,0l-1,1 0,9 1,1 0,9 1,1 0-21zM120,0l0,15 1,2 0-17zM68,0l-1,2 0,19 1,1 0-3 1-1 0-15 -1-1z"/>
<path fill="#3b3b3b" d="M616,242l0,3 -1,1 0,14 1,1 0,3 1-2 0-17 -1-1zM979,235l-1,11 -3,4 0,14 1,2 1-1 1,1 1-1 0-7 1-1 0-13 -1-1zM636,234l-1,1 0,7 -1,1 0,21 1,1 0,2 0-4 1-1 0-16 1-1 0-3 -1-1zM1020,233l0,18 0-5 1-1 0-11zM456,231l0,29 1,2 0-11 1-1 0-5 -1-1 0-13zM791,225l0,9 1,1 0,4 1,1 0,2 0-14 -1-1 0-2zM246,229l-1,1 -12,0 -1-2 2-2 4-2 6-1 1,1 0,4zM247,229l1-2 0-4 3-3 8,0 1,1 4,0 1,1 7,0 1,1 2,0 3,3 0,2 -1,1 -7,0 -1,1 -21,0zM127,216l3-3 3,0 1-1 1,1 3,0 6,5 1,2 0,5 -1,1 -3,0 -1,1 -14,0 -1-1 0-5 1-1zM778,210l0,4 -1,1 0,17 1,1 0,7 1,2 0-32zM90,214l4-5 7-3 2,0 4,2 3,0 3,4 0,4 -3,3 -4,2 -10,0 -5-4zM399,207l2-2 1,0 1,1 4,0 1,1 9,1 2,2 0,1 -5,7 -7,0 -1-1 -4,0 -3-5zM879,205l0,2 -1,1 0,7 1,1 0,2 -1,1 -2,0 -2,2 -5,0 -1-1 -9,0 -1,1 -5,0 -1,1 -4,1 -2,4 -1-1 -2,0 -4-4 0-3 4-4 2-1 3,0 1-1 14,0 1,1 3,0 1,1 3,0 1,1 2-2 0-4 1-1 0-2 3-3zM202,215l0,2 -3,3 -4,2 -5,1 -1,1 -5,0 -1,1 -11-1 -4-2 -6-1 -3-2 0-6 2-2 11-3 3-2 2,0 4-2 5,1 8,4 2,2 0,2 0-1 2-1zM878,204l1-1 1,1 -1,1zM297,203l1,1 0,4 -5,6 0,1 1,0 5,5 1,5 -2,3 -10,0 -2-3 0-2 1-1 0-2 4-5 -4-1 -2-2 8-4zM1213,205l5-3 7,0 4,3 0,3 -2,2 -3,0 -1-1 -7-1 -2-1zM354,206l2-2 1,0 2,3 0,3 1-1 0-6 2-2 2,0 1,1 10,0 1,1 4,1 3,3 0,2 -1,2 -3,2 -13,0 -1-1 -9,0 -2-2zM450,201l1-1 1,1 -1,1zM727,199l-1,9 -1,1 0,3 -1,1 0,3 -1,1 0,4 -1,1 0,14 1,0 1-6 2-1 1,2zM1058,201l4-4 2-1 3,0 5,4 1,3 -2,2 -5,0 -1-1 -6,0 -1-1zM1084,197l2-3 4-1 1-1 3,0 1,1 4,1 2,2 0,4 -2,2 -2,0 -1,1 -8,0 -4-4zM1175,190l4,1 2,3 0,2 -5,4 -2-1 0-8zM1174,191l0,6 -2,3 -4,0 0,4 -1,1 -3,0 -1,1 -10,0 -2-2 0-2 2-4 2-2 2-1 5,0 1,1 3,0 4-5 2-1zM309,190l1,1 0,2 -1,1 0,6 1,1 0,3 -1,1 -3-4 1-8zM744,190l0,5 -1,1 1,10 1-1 0-14zM661,190l1-1 1,1 -1,1zM653,189l2-1 3,2 3,0 1,1 0,2 -1,1 -5,0 -2-2 0-2zM861,187l4,0 1,1 -1,2 0,3 3,6 -3,2 -2,0 -2-2 0-1 -4-3 0-4zM622,188l1-1 1,1 -1,1zM620,187l1-1 2,1 -1,1zM128,187l1-1 1,1 -1,1zM630,188l3-3 6,0 3,3 0,4 -1,1 -1-1 -9,0 -1-1zM617,186l1-1 2,0 1,1 -1,1 -2,0zM15,195l2-4 4-4 4-2 5,0 1,1 -1,1 0,25 1-1 0-5 1-1 0-19 1-1 4,0 5,3 12,0 8,5 3,3 2,4 0,7 -1,1 -1,4 -3,3 -1-1 0-9 -1,1 0,3 -1,2 -2,1 0,6 -1,1 -7,0 -9-4 -15,0 -1-1 -2,0 -5-5 0-2 -2-4zM1143,184l1-1 3,3 7,3 3,0 1,1 -3,2 -5,0 -1-1 -2,0 -4-4zM123,184l1-1 2,0 3,3 -1,1 -4,0 -1-1zM570,182l2,0 5,6 0,3 -4,4 -3,0 -1-1 0-11zM94,183l1-1 1,1 -1,1zM1124,181l1,1 0,13 -1,1 -5,0 -1-1 -4-1 -2-2 -1-3 4-4zM460,182l1-1 4,0 1,1 4,1 2,2 -2,2 -4,1 -1-1 -2,0 -3-3zM317,181l6,0 4,2 2,2 3,7 0,9 -1,1 -1,4 -3,3 -4,1 -1,1 -6-1 -5-3 0-10 -1-1 0-6 -1-1 1-2zM81,182l4-3 6,0 4,3 -1,1 -2,0 -1-1 -7,0 -2,1zM522,179l1-1 1,2 -1,1zM395,177l1-1 2,0 1,1 -1,1 -2,0zM444,175l1,2 5,4 0,17 -1,1 -6-3 0-20zM1008,175l0,6 1,0 0-4zM560,174l4,0 1-1 1,1 0,6 1,1 0,11 1,1 -1,2 -3-1 -2-2 -2-4 0-10 -1-1 0-2zM889,172l1,2 1,0 3,3 0,19 -1,1 -2,0 -2,2 -1-1 0-25zM685,172l1,1 0,9 -1,1 -2-2 0-2 -1-1 1-4zM686,172l1-1 2,0 6,7 3,1 2,2 1,3 -7,3 -2,3 -2-4 -4-2zM595,171l2,2 0,3 1,2 5,3 2,3 -3,2 -8,0 -4,4 -2-2 -3-8 3-6 3,0zM143,171l6,0 3,2 0,4 2,2 -1,3 -5,4 -6,0 -4-4 0-6zM1124,170l1,1 0,3 -1,1 -1-1 0-3zM486,171l1-1 1,1 -1,1zM1067,170l-5,7 -1,4 4,0 5-3zM579,169l1,2 -4,4 -1,0 -1-1 1-3 2-2zM205,169l1,1 0,3 4,4 2,0 1,1 0,5 6,2 3,3 1,3 -4,5 -7,0 -4-4 -1-3 3-3 1-3 -4-5 -2,0 -3-2 0-4zM569,167l1,0 2,2 0,3 1,2 2,1 -1,1 -3,0 -3-2 0-6zM675,167l1-1 1,1 -1,1zM676,166l1-1 1,1 -1,1zM271,165l1,1 0,7 1,1 0,3 0-11 1-1 3,0 2,1 5,6 0,7 -1,2 -6,5 -6,0 -2-1 -5-6 0-5 2-3 0-2zM1152,164l1,1 0,5 1,2 -7,3 -2-3 0-2 3-5zM677,165l1-1 1,1 -1,1zM911,164l1-1 1,1 -1,1zM678,164l1-1 1,1 -1,1zM679,163l1-1 1,1 -1,1zM1119,160l1,1 0,2 -1,1 -1-1 0-2zM485,161l1-1 1,2 -1,1zM489,161l5-1 3-2 2,2 -1,4 -1,1 1,4 5,4 -3,2 -2,0 -4-4 0-2 -2-2 -2,0 -2-2 0-3zM120,158l2,4 0,6 1,1 0,2 -1,1 0,5 -2,4 -1-1 0-21zM684,157l1,1 0,6 -1,1 -4-3zM1043,157l-5,5 0,2 5,0 6,5 0,3 -5,8 4,0 1,1 1-1 3,0 1-2 -4-7 0-6 -1-1 0-2 -3-5zM217,156l5,0 3,3 0,1 -4,5 -1,0 -3-3 -3,0 -1-1 0-1zM524,178l0-1 2-2 5-1 0-4 -1-1 0-10 1-2 4-3 1,0 3,3 2,5 2,0 2-2 4,0 6,6 0,3 1,1 -1,2 -9,1 -2-2 -4-2 -4,5 1,2 -1,2 -2,1 -3,0 -1,1 -3,0 -1,1zM434,153l4,4 1,13 -1,1 0,3 -3,5 -3,0 -2-2 -2-4 0-4 -1-1 0-8 3-5 1,1 0,9 0-10zM639,157l3-4 2-1 4,0 5,4 2,7 -1,1 -3-3 -2-1 -3,0 -1-1 -3,0 -2,1 -1-1zM29,152l1,1 -2,2 0,5 -2,3 -3,1 -1-1 0-7 1-1 2,0 3-3zM868,152l1-1 1,1 -1,1zM981,150l-2,3 0,8 2,3 2,0 1-1 0-3 1-1 0-4 -1-1 -1-4zM843,148l1,1 0,3 -2,2 -1,0 -1-2 1-1 0-2zM504,154l1-1 0-2 3-3 2,0 1-1 4,1 3,3 0,4 -1,1 -8,0 -1,1 -2,0zM185,147l2,4 0,11 -1,1 -2-2 -2-4 0-6zM177,148l1-1 1,2 -1,1zM1001,147l-2,4 0,10 1,1 0,3 1,1 2-4 0-12zM742,146l4,0 2,1 3,4 0,2 -2,4 -2,2 -7,0 -3-4 0-4 1-2zM699,146l1,2 -2,3 0,2 -2,2 -3,7 -4,4 -1-1 0-3 1-1 1-12 1-1 5,0zM102,146l1,1 0,5 -1,1 0,9 -1,1 -1-1 -2,0 -4-4 0-5 3-4zM921,146l0,18 1-2 0-15zM880,144l1,1 0,3 -2,4 -4,3 -3,0 -1-1 0-5 1-1 4,0 2-1zM866,144l1,0 2,3 0,4 -1,1 -3-6zM850,144l1,1 0,3 -4,5 -1-1 0-4 2-1zM715,145l2-1 2,3 2,1 3,0 2,3 0-3 4-3 2,2 0,7 -5,4 -7,0 -2-1 -4-5 0-4 1-1zM699,145l1-1 1,1 -1,1zM190,144l2,1 5,6 0,9 -1,2 -4,3 -2-1 0-16 -1-1 0-2zM1189,144l-3,4 0,12 2,4 2,0 2-4 0-11 -1-1 0-2zM578,142l2,3 0,2 -2,3 -1-1 0-6zM1095,142l-2,3 0,6 -1,1 0,4 1,1 0,6 1,1 0,2 2,0 0-2 1-1 0-6 1-1 -1-11zM120,141l1,1 0,8 -1,1 -1-1 0-8zM1030,140l-1,1 0,2 -1,1 0,4 -1,1 0,8 1,1 0,5 2,3 -4,2 -1,4 -1,1 0,5 3,2 6,1 1,1 0,2 0-2 1-1 2,0 1-2 -3-4 -1-8 -2-1 1-2 0-3 1-1 0-14 -1-1 -1-4zM663,139l1,1 0,2 -1,1 -2-2zM410,139l1-1 1,1 -1,1zM374,139l1-1 1,2 -1,1zM111,137l4,0 3,2 0,3 -1,1 0,36 1,1 0,2 -1,1 -2-2 0-2 -2-4 0-16 -4-2 0-4 -1-1 0-7 -1-2 -1,2 0,3 -1,1 -1,0 -2-3 3-5 2-2zM1221,137l0,2 -1,1 0,4 -1,1 0,14 1,1 0,4 2,3 1-1 0-3 1-1 0-20 -1-1 0-3zM699,137l1-1 1,2 -1,1zM593,137l1-1 1,1 -1,1zM677,136l1-1 1,2 -1,1zM437,135l1,1 0,10 -1,1 -1-1 0-10zM859,139l-3,2 -2,0 -1-1 -2,1 -1-1 0-1 5-5zM836,133l2,2 0,3 -1,1 0,5 2,3 0,5 -1,1 -4-4 0-2 -1-1 0-8 2-2 0-2zM408,133l1,1 0,2 2,2 -1,1 -1,0 -2-2 0-3zM379,135l2-2 1,1 1,4 4,2 0,22 1-1 0-8 1-1 1,1 15,0 1,1 3,0 4,2 0,4 3,6 -3,2 -4,1 -1-1 0-8 0,9 -1,1 -2,0 -4,2 -7,0 -14-7 -2-3 1-10 -2-3 0-2 -2-4 0-2 4-3zM676,132l1,1 0,6 -10,10 -1-1 0-3 1-1 0-7 1-1 2,4 3-4 0-3 1-1zM437,133l1-1 1,1 -1,1zM540,132l1-1 1,1 -1,1zM334,133l1,1 0,3 1,2 2,0 2-2 0-3 1-1 1,1 0,16 1,1 0,3 1-1 0-4 1-1 0-3 1-1 0-4 3-2 1-2 0-4 1-1 1,1 0,3 3,4 2-2 1-4 1-1 1,1 0,2 2,4 0,16 -1,1 0,3 -3,6 -7,7 -2,0 -4-2 -2-2 -3-1 -6-5 -1,0 -2-3 0-3 1-1 0-9 -2-4 0-3 2-2 0-2zM624,129l1,1 0,3 -1,1 -1-1 0-3zM306,129l2,3 0,8 -3,6 0,9 4,8 -4,4 -3,0 -5-6 0-7 1-1 0-3 1-1 0-3 -1-1 0-7 1-1 0-5 1-1 1,1 0,3 1,2 2,0 0-2 1-1 0-4zM611,125l1,1 0,2 3,3 0,3 -3,3 0,2 -1,1 -2-2 1-2 0-10zM594,126l1-1 1,1 -1,1zM957,125l1-1 1,1 -1,1zM932,125l-1,1 0,2 -1,1 0,4 -1,1 0,12 1,1 0,4 1,1 0,2 2,1 1-1 0-3 1-1 0-7 1-1 0-4 -1-1 0-7 -1-1 0-3zM763,124l2,3 0,2 -1,1 -2-2 0-3zM204,123l1,1 0,6 1,1 0,2 -1,1 -3-4 1-1 0-5zM498,123l-1,1 0,3 -1,1 0,8 1,1 0,3 2,1 1-1 0-3 1-1 0-8 -1-1 0-3zM1223,121l0,11 0-2 1-1 0-6zM85,120l1-1 1,2 -1,1zM80,118l3,7 0,17 -2,4 -3-6 -2-1 -3,1 -1-1 0-17 1-1 3,2 2-2 1,1 0,2 0-5zM299,117l1,1 0,13 -1,1 -1-1 0-13zM215,117l-2,4 0,8 2,4 2-3 0-10zM994,115l0,19 1-2 0-15zM1204,114l0,24 0-5 1-1 0-13 -1-1zM906,114l-1,2 0,5 -1,1 0,10 1,1 0,4 2,1 0-3 1-1 0-16 -1-1 0-3zM1094,113l0,3 -1,1 0,7 1,1 0,4zM941,112l0,2 -1,1 0,13 1,1 0,2zM419,111l1,1 0,3 -1,1 0,15 1,2 -2,1 -2,2 -1,3 -2,1 -1-1 2-3 0-2 1-1 0-4 1-1 0-11 -1-1 0-2zM754,111l0,6 -2,2 -2-1 -2,3 0,9 2,3 1,0 4-5 0-16zM419,111l1-1 1,1 -1,1zM486,107l1-1 1,1 -1,1zM1034,103l0,3 -1,1 0,13 1,0zM806,103l-1,0 0,1 -4,3 -2,4 0,3 -1,1 -1-1 -1-4 -3,0 -2,4 0,15 2,4 3,0 1-4 1-1 0-3 1-1 2,4 3,2 0,2 1,1 1,0 1-2 0-4 1-1 0-15 -1-1 0-4 -1-1zM523,102l-2,4 0,11 2,4 3,0 2-4 0-11 -2-4zM1209,99l0,4 -1,1 0,13 1,1 0,4 1-2 0-19zM125,99l-2,3 0,4 -1,1 0,9 1,1 0,4 1,2 2,1 1-2 0-3 1-1 0-13zM1060,97l-1,2 0,23 -2,4 0,13 1,1 0,3 1,2 -1,1 -1-1 -2,2 0,2 -1,1 -2-4 0,19 2-3 2,4 2,0 2-3 0-4 1-1 0-5 -1-1 0-3 -2-3 2-2zM173,97l-2,4 -1,16 1,1 0,8 1,1 0,2 2,1 0-2 1-1 0-4 1-1 0-10 1-1 0-7 -1,1 -1-1 0-4 -1-1 0-2zM33,95l-2,4 -1,11 1,1 0,4 1,1 0,2 1,1 2,0 1-4 1-1 0-14 -1-1 -1-4zM441,94l0,8 1-1 0-6zM6,94l1-1 1,2 -1,1zM469,92l0,22 0-2 1-1 0-17zM1148,91l0,10 -1,1 0,4 1,1 0,10zM1161,90l0,2 -1,1 0,14 1,1 0,2 1-2 0-16zM710,88l0,14 1-1 0-12zM639,88l-2,3 0,9 1,2 2,1 2-3 0-9 -1-2zM1167,87l0,15 1,0 0-12 -1-1zM271,86l-2,3 0,3 -1,1 0,5 1,1 0,3 1,2 2,1 2-3 0-3 1-1 0-5 -1-1 0-3 -1-2zM1132,85l0,6 -1,1 0,12 1,1 0,6 1-2 0-20 -1-1zM929,84l0,9 0-2 1-1zM803,84l-1,2 0,15 1,2 1-2 0-14 -1-1zM918,83l0,5 -1,1 0,15 1,1 0,3 0-3 1-1 0-19zM886,83l0,4 -1,1 0,10 1,1 0,4zM874,81l0,3 -1,1 0,14 1-1zM556,81l-1,1 0,18 1,0 0-6 1-1 0-4 -1-1zM187,78l0,8 -1,1 0,18 1,1 0,5zM862,77l0,2 -2,4 0,4 -1,1 0,14 1,1 0,2 2-1 0-3 1-1 0-18 -1-1zM488,77l-1,2 -1,42 3,5 -2,4 0,6 2,4 2-1 1,1 0,5 0-16 -2-3 3-5 0-11 -2-4 -3,0 -1-1 1-10 1-1 0-14 -1-1zM1052,76l-1,1 0,8 -1,1 0,27 1,1 0,5 0-3 1-1zM287,72l0,13 0-3 1-1 0-5 -1-1zM795,71l0,6 -1,1 0,3 1,1 0,5zM1071,70l-2,4 0,11 1,1 0,2 3,2 0,29 -1,1 0,11 1,1 0,14 1,2 2,1 2-3 0-13 -2-3 0-22 -1-1 0-21 -1-1 0-11 -1-1 0-2zM745,70l0,16 1,1 0-14 -1-1zM477,70l0,2 -1,1 0,6 1,1 0,42 1,1 0,14 1,1 0,3 2,1 0-2 1-1 0-7 1-1 0-6 -1-1 0-7 -1-1 -1-16 -1-1 -1-10 -1-1zM1107,69l-1,2 0,10 1,1 1,6 1,0 0-2 1-1 0-12 -1-1 0-2zM967,68l-1,2 0,10 -1,1 0,22 1,1 0,4 1,0 0-5 1-1zM457,68l-2,3 0,9 1,2 2,1 2-3 0-9 -1-2zM832,67l-1,1 0,12 1-1zM547,67l-1,0 0,2 -1,1 0,4 -1,1 0,18 1,1 0,7 1,1 0,4 1-1 0-10 1-1zM94,67l0,12 1-1 0-9zM1025,65l0,4 -1,1 0,22 1-1zM790,65l-1,1 0,8 -1,1 1,20 1,1 0,2 0-5 1-1 0-24 -1-1zM518,64l0,12 1-2 0-7 -1-1zM722,63l-1,1 0,8 1,1zM374,61l-2,3 0,11 1,2 2,1 2-3 0-11 -1-2zM980,60l0,21 1,1 0,2 0-21 -1-1zM141,60l-2,3 0,13 1,2 2,1 2-1 0-15 -1-2zM651,58l0,2 -1,1 0,8 1,1 0,2zM300,57l-2,4 0,13 2,4 3,0 2-4 0-13 -2-4zM202,57l0,4 -1,1 0,20 1,1 0,8 1,2 1-17 -1-1 0-12 -1-1zM189,56l0,16 0-3 1-1 0-10zM355,55l-2,3 -1,10 1,1 0,4 1,2 2,1 2-3 1-10 -1-1 0-4 -1-2zM1216,51l0,18 1-1 0-15zM1098,51l0,23 0-2 1-1 0-17 -1-1zM765,50l0,5 -1,1 0,9 1,2zM951,49l-1,1 0,12 1,0zM50,48l-1,2 0,6 1,1 0,19 1,2 0-5 1-1 0-8 -1-1 0-10 -1-1zM963,45l0,13 -1,1 0,17 1,2 0-5 1-1 0-11 -1-1zM726,45l-1,2 0,9 3,5 0,3 1,1 0,7 1,1 0,9 1,1 0,3 0-29 -1-1 0-6 -1-1 0-3 -1-1zM289,44l-2,3 0,5 -1,1 0,9 1,1 0,5 1,2 2,1 2-3 0-5 1-1 0-9 -1-1 0-5 -1-2zM368,38l0,2 -1,1 0,13 1,1 0,2 1-1 0-17zM1158,36l0,9 -1,1 0,17 2-3 0-20 -1-1zM827,35l0,3 -1,1 0,26 1,1zM245,33l0,8 1,2 0-10zM1089,32l0,3 -1,1 0,13 1,1 0-5 1-1 0-9 -1-1zM943,31l0,5 -1,1 0,23 1,1 0,5 1,1 0-4 1-1 0-9 1-1 0-9 -1-1 0-8 -1-1 0-2zM919,30l0,6 -1,1 0,10 -1,1 0,3 -1,1 0,10 2,4 0,4 1,1 0,2 0-5 1-1 0-29 -1-1zM149,29l-1,1 0,9 -1,1 0,8 1,1 0,14 1,1 0,3zM373,28l-1,2 0,18 1,0zM165,27l-1,0 0,12 1-1zM957,25l-1,1 0,26 1,2 0-4 1-1 0-17 -1-1zM349,25l0,4 -1,1 1,13zM79,24l-1,1 0,5 -1,1 0,16 1,1 0,6 1,0 0-3 1-1 0-22 -1-1zM460,23l0,2 -1,1 0,29 1,1 0,4 1-2 0-29 -1-1zM495,22l0,9 -1,1 0,23 1,0zM802,19l0,8 0-4 1-1 0-2zM750,19l-1,1 0,28 1,1 0,7 1,0 0-31 -1-1zM363,18l-1,1 0,9 -1,1 0,35 1,1 0,4 1,1 0,2 1,0zM5,36l0,19 -1,1 0,27 1,1 0,8 -1,1 0,22 1,1 -1,2 0,113 -4,5 0,14 2,4 7,0 5,3 3,0 5-3 3,0 4,4 22,0 4-4 3,0 1-1 2,0 2,2 0,1 2,1 102,0 1-1 27,0 1-1 3,0 1,1 0,11 1,0 0-11 1-1 12,0 1-1 4,0 2-2 3,0 1-1 10,0 4,5 0,1 5,5 19,0 1-1 4,0 1-1 5,0 1,1 3,0 1,1 9,0 1,1 9,0 1-1 5,0 2,1 1-1 11,0 9-4 2,0 4,2 3,0 1,1 4,0 1,1 13,0 1-1 5,0 1-1 8,0 1,1 17,0 1,1 17,0 1-1 3,0 4-2 4,0 1,1 6,1 1,1 6,0 1-1 10-1 0-30 -4,1 0,2 2,3 0,4 -1,1 -10,0 -1-1 0-2 2-4 3-3 1,0 -1-3 -3-3 -2,3 -4,2 -3,3 2,7 -1,1 -5,0 -1-1 3-5 1-6 -1-1 0-4 -3-4 1-1 7,0 4,2 2,2 2-2 3,6 4,2 3-2 2-4 0-2 6-3 1,1 0,7 0-25 1-1 1,1 4,0 1,1 15,0 1,1 0,10 -1,1 0,7 -1,1 0,15 1,1 0,10 1,1 0,2 1-2 0-7 1-1 0-30 -1-1 0-6 3-2 8,0 1-1 4,0 2,2 2,0 4,2 7,0 1-1 3,0 1-1 9,0 2,2 1,12 1-11 1-1 8,0 9-5 5,3 15,0 6,3 4,0 1,1 5,1 8,4 4,0 1,1 0,12 -1,1 0,18 1,1 0,3 0-6 1-1 0-27 1-1 21,0 1,1 13,0 8,4 5,0 1,1 26,0 1-1 3,2 4,0 1,1 3,0 1-1 10,1 1-1 3,0 4-2 5-5 0-2 1-1 0-5 -2-4 2-2 2-4 0-3 -2-3 1-2 99,0 1,1 0,3 1,2 4,3 3,0 2-1 2-2 1-2 0-3 2-2 6,0 2,1 2,2 2,4 0,5 -2,4 -2,2 -4,2 -8-2 0,12 1,1 -1,1 -7,2 -3,3 0,1 3,3 4,1 1,1 4,0 1,2 -1,1 -2,0 -7,3 -4,4 0,5 4,4 4,2 8,2 2,2 0,5 1,2 6,0 1-1 36,0 1,1 15,0 1-1 2,0 0-37 1-1 3,2 38,0 1-1 11,0 1-1 1,1 0,10 1,1 1-9 2-3 4,0 1-1 10,0 1-1 6,1 1,1 -1,1 0,28 1,2 0-8 1-1 -1-22 1-1 6,1 1,1 4,0 1,1 3,0 1,1 9,1 1,1 5,0 1,1 5,0 1,1 6,0 1,1 9,0 1,1 30,0 1,1 17,0 1-1 12,0 1-1 8,0 1-1 4,0 1,1 -1,1 0,8 1,1 0,3 0-13 4-2 8,0 1-1 14,0 1,1 7,0 1,1 12,1 1,1 13,0 1-1 5,0 1-1 5,0 1-1 6,0 1-1 2,0 1,1 6,0 1,1 3,0 1,1 3,0 1,1 0,17 1,1 0-6 1-1 0-10 1-1 1,1 3,0 1,1 3,0 1,1 10,1 1,1 0,30 1,1 2-30 1-1 2,1 4,0 1,1 9,0 1-1 0-21 -2-2 -3,0 -1-1 0-50 -1,1 -4,0 -4-3 -3,0 0,2 -1,1 0,7 1,1 0,5 -1,1 0,2 -2,2 -6,0 -2-2 0-2 -1-1 0-6 -2-4 -4-2 -7-6 -1-11 -1-1 -1-4 -1,0 -2,4 -1-1 0-3 -1-2 -1,1 0,15 2,3 0,4 1,1 0,6 1,1 0,2 1,2 1,0 1-4 1-1 0-6 1-1 1,0 5,6 -1,6 -4,4 -2,0 -3,2 0,5 -4,4 -6,0 -4-4 0-2 -2-4 -2-2 0-10 -2-1 -5,0 -1-1 -2,0 -4-3 0-2 1-1 0-4 1-1 0-9 -1-1 0-5 -2-3 -1,0 -1,2 0,4 -1,1 0,12 1,1 0,3 -4,3 -1,2 0,5 -1,1 -2-1 1-1 0-6 1-1 0-12 -1-1 0-5 -2-4 -2,1 0,2 -1,1 -1,15 -4,4 -2-1 1-2 0-22 -1-2 -2,1 -1,4 -1,1 0,19 1,1 0,2 -4,3 -1,2 0,3 -3,6 -2,2 0,3 1,1 1,4 -1,2 -5,4 -1-1 -1-22 -1-1 -1-11 -1-1 0-12 -1-1 0-8 -1-1 0-5 -2-3 -2,3 0,5 -1,1 -1-1 -2,0 -1-1 0-2 0,7 -1,1 0,19 -1,1 -5,0 -4,4 -6,3 -8,0 -4,5 -3,0 -1,1 -4,1 -3,3 0,1 7,6 -1,1 -1,4 -2,2 -4,1 -1,1 -5,0 -3-2 -9,0 -1,1 -13-1 -4,3 0,7 -1,1 -4,0 -1-1 -10,0 -1-1 0-6 -1-2 -7-6 -3,1 -3,3 -4,1 -1,1 -10,0 -4-2 -6-6 -4-1 -8-9 -4,4 -4,2 -2,0 -4-4 0-2 -1-1 1-6 6-5 5,2 2,2 2,0 1-1 0-6 -3-2 0-2 1-1 0-6 1-1 0-15 -1-1 1-1 0-17 -1-1 -1-4 -3,0 -1,4 -1,1 0,17 1,1 -1,1 0,15 1,1 0,6 1,1 -2,1 -1-1 -4,0 -1-1 1-2 0-3 1-1 0-23 2-3 0-24 -1-1 -1,8 -1,1 -1-1 -1,2 0,13 -1,1 0,5 -2,1 -1-1 -1-4 -1,2 0,19 1,2 1-1 0-2 1-1 1,1 0,3 1,1 0,5 2,4 -4,2 -20,1 -1,1 -4,0 -1,1 0,1 4,5 0,3 1,1 0,2 -1,1 0,5 1,1 12,1 1,1 6,1 3,3 0,2 -4,4 -1-1 -1-6 -1-1 -1,2 0,6 -2,2 -3,0 -1,1 -12-2 -8-4 -3,0 -8,4 -6,0 -1-1 -2,0 -3-3 0-5 6-6 1-2 5,0 5-3 2-4 -2-4 1-1 3,0 2-2 0-2 -2-2 -6-3 -4,0 -4,3 -1-2 2-2 1-6 -1-1 -1-4 -2-1 -3,3 0,6 -4,2 0,8 -3,3 -1,0 -1,2 -1-1 0-32 -1,1 -4-2 -6-1 -1-1 1-2 -1-1 0-4 -2-3 -3,0 -2,2 -2-3 0-6 0,4 -1,1 0,2 1,1 0,5 -3,2 -1-1 0-6 -1-1 0-5 -1-2 -2-2 -2,1 -1,4 -1,1 0,3 -1,1 -2-3 -2,0 -1-1 0-8 -1-1 0-3 -1,1 0,9 -1,1 0,5 -1,1 -2-4 0-3 -2-3 -2,1 -1,2 0,3 -2,2 -1-1 0-2 -2-2 -2,0 -2,2 -1,5 -2,2 -2-1 0-2 -3-3 -2,1 -1-1 0-33 -1-1 0-12 -1-2 -1,2 0,29 1,1 1,22 -2,2 -3,0 -3,4 0,5 -2,3 0,5 1,2 3,2 0,2 -4,5 -7,0 -5-6 0-7 1-2 3-3 1,0 2-3 -2-4 -3,5 0,2 -3,3 -2,0 -1,1 -3-5 -2-1 -3,0 -1-1 2-3 0-4 1-1 0-9 -1-1 0-3 -3-4 -2,2 0,2 -1,1 0,16 3,5 -2,1 -2,3 0,5 2,3 4,1 2,3 0,6 -2,2 -6,0 -1,1 -2,0 -2-2 -6,0 -2,1 -7-3 -3-3 -1-2 0-2 1-1 4-1 3-4 4,0 4-3 3,0 4-4 0-5 -4-4 -2,0 -1-1 0-16 -1-1 0-3 -1-1 -2,1 -1-1 0-12 -1-1 0-5 -1-2 -1,2 0,6 -1,1 0,31 -2,1 -1,4 -3,5 -3,0 -4,3 -7-5 0-5 1-1 0-11 -1-1 0-3 -2-3 -1,0 -2,3 0,6 -1,1 0,4 -1,1 -3,0 -2-2 0-8 -1-1 -1-4 -1,0 -2,4 0,10 -4,3 -1-1 0-14 -1-1 0-4 -1-1 0-2 -1,0 -1,1 0,3 -1,1 0,23 1,1 0,2 4,2 -1,5 -1,1 -2-1 -10,0 -3,3 -1-1 0-4 1-1 1,1 2-1 0-2 1-1 0-6 1-1 0-7 -1-1 0-5 -1-1 0-16 -4-5 0-4 -1-1 1-2 0-6 1-1 0-3 -1-1 0-6 -2-4 -2,0 -3,6 0,13 2,4 0,2 -1,1 0,4 -1,1 0,4 1,1 0,2 5,4 0,25 1,1 0,3 -1,1 -4-3 0-10 -2-4 -1,0 -2,3 -1,9 -1,1 -1-1 0-6 -1-1 0-2 -3-3 0-6 -1-1 0-3 -1-1 0-14 1-1 0-32 -1-1 0-16 0,6 -1,1 0,51 -1,1 -1-1 -5,0 -2,2 -1,4 -1,1 0,3 -1,1 0,8 -1,1 -2,0 0,3 -1,1 -3-3 0-4 -1-1 0,4 -3,5 0,9 -1,1 -5-5 0-3 1-1 0-7 -1-1 0-8 -2-4 -1,0 -1,4 -1,1 0,13 -1,1 -4-2 0-12 -1-1 0-3 -1-2 -2,1 0,2 -1,1 0,5 -1,1 0,14 1,1 0,3 -3,3 -1-1 0-5 1-1 0-13 -1-1 0-5 -3-6 -2,2 -1,4 -1,1 0,7 -1,1 0,5 -1,1 -2-1 -1-4 -2-3 0-11 1-2 -1,2 -2,1 -2-1 -2,2 0,2 -1,1 0,6 -1,1 -1-1 0-3 -2-2 -1,0 -2,2 0,2 -1,1 0,16 1,1 1,4 2,1 2-3 1,1 0,4 1-1 3,3 2,0 3,2 0,6 1,1 0,2 1,1 2-3 1,1 -2,7 -4,4 -8,0 -1,1 -4,0 -5-6 0-8 2-4 0-5 -3-4 2-3 0-11 -1-2 -3-2 0-9 -1-2 0,6 -2,3 -1-1 0-4 -2-3 -1,0 -1,2 0,2 -1,1 0,4 -1,1 -2-2 -4-2 0-5 3-4 0-8 -2-2 0-1 -2-1 0-2 -4-2 0-44 -1-1 0-7 -1-1 0-2 -1,0 0,2 -1,1 0,7 -2,3 0,5 -1,1 0,6 -1,1 0,2 1,1 0,4 -3,6 0,18 -1,1 0,3 -1,1 -1,13 -1,1 0,4 -1,1 1,2 0,10 1,1 0,5 1,1 0,11 -2,2 -2,1 -8,0 -2-2 0-2 -1,0 -1,2 -1-1 -4,0 -4,2 -3,0 -5-5 -1-2 0-5 2-3 1,0 3,4 1,0 2-2 2,2 1,3 4,2 3-2 2-4 2,2 0,1 2,0 3-4 0-4 1-1 0-11 -1-1 -1-6 -2-2 -1,0 -3,4 -1-1 0-2 -1,2 0,7 1,1 0,5 -1,1 -3-2 0-11 -2-4 -2,4 0,6 -1,1 0,2 -1,1 -1-2 -4-3 0-11 0,13 -2,3 0,5 -2,2 -2,1 -1-1 0-5 -2-3 -2,0 -1,4 -1,1 -5-3 -3,0 -1,1 -1-1 0-9 -1-1 0-2 -2-1 -2,3 0,4 -1,1 0,8 1,1 0,5 1,2 -4,4 -4,1 -6,6 -5-1 -1-2 -1,0 0,2 -3,2 -4-4 -6-3 0-7 -1,1 0,5 -1,1 -1-1 -3,0 -1-1 0-2 2-4 0-4 1-1 -1-10 -2-3 -2,1 -1,2 0,3 -1,1 0,7 1,1 0,4 1,2 -2,4 -2-1 -2-4 1-2 0-5 1-1 0-6 -1-1 0-4 -1-2 -2-1 -2,4 0,14 1,1 -1,1 -3,0 -4,2 -3,5 0,3 1,2 -2,2 -3,0 -1-1 0-7 1-1 0-9 -1-1 0-4 -1,0 0,3 -1,1 -2-3 1-2 -1-11 -1-1 0-2 -2-2 -1,1 -1-1 0-14 -1-2 2-3 0-3 1-1 0-5 -1-1 0-3 -3-4 1-14 -1-1 0-17 -1-1 0-3 -1,2 0,4 -1,1 0,24 1,1 0,6 1,1 -1,1 0,3 -1,1 0,5 1,1 0,3 3,4 0,5 -1,1 0,7 1,1 0,20 -5,5 -1-1 0-2 1-1 0-15 -1-1 0-3 -2-2 -1,1 -1-1 1-4 1-1 0-11 -1-1 0-2 -4-5 -3,0 -2,2 -1-1 0-19 1-1 0-7 1-1 2,3 1,0 2-3 1,1 1,9 1,0 0-4 1-1 0-9 1-1 0-28 -1-1 0-5 -1,0 0,7 -1,1 0,15 -1,1 0,3 -1,1 -2-3 -2,1 -1,2 0,9 -1,1 -1-1 0-5 0,2 -1,1 -2-1 0-2 -1-1 0-8 -1-1 0-5 0,28 1,1 0,14 1,1 0,6 1,1 0,17 1,1 0,2 -2,2 -1-1 0-3 -1-2 -2,0 0,2 -1,1 0,3 -1,1 0,21 1,1 0,2 -1,1 -1,0 -5-6 1-1 0-13 -1-1 0-4 -2-4 0-13 -2-4 0-6 -1-1 0-4 -2-4 -1,2 0,19 1,1 0,3 1,1 1-1 2,1 0,3 -2,2 -1,2 0,3 -2,2 -2-4 -2,0 -3,6 -1-1 0-3 -1-1 -1-4 -1-1 -2,2 -1,2 0,4 -1,1 0,17 1,1 0,4 1,1 -1,2 -4-5 1-2 0-14 -1-1 0-3 -2-3 -1,1 -2-1 0-4 -1-2 -2-1 -2,4 0,4 -1,1 0,2 -1,1 -3-4 -2,2 0,1 -2,1 -1-1 0-4 -1-1 0-12 -1-1 0-2 -2-2 -1,0 -2,2 0,2 -1,1 0,11 1,1 0,2 2,2 -1,6 -2,2 -1-1 0-8 -1-1 0-3 -1-2 -2-1 -3,6 0,7 -1,1 -3-4 -1,0 -2,2 -1-1 -1-5 -2-1 -2,4 -1,12 -1,1 -4-1 -1-1 0-4 -3-4 -3,4 0,7 -1,1 -1-1 0-10 3-3 0-2 1-1 -1-6 -3-3 -5,0 -2,1 -6-5 0-7 -1-1 0-3 0,12 -5,6 0,21 1,2 0-14 1-1 1,1 0,15 1,1 0,3 1,2 -5,5 -3,0 -1,1 -5,0 -2-2 1-14 1-1 1,1 0,7 2,4 1,0 1-2 0-3 1-1 0-19 -1-1 0-3 -2-3 -1,2 -1-1 0-11 -1-1 0-5 0,2 -1,1 0,13 -2,2 -1,0 0,2 -1,1 0,7 -1,1 0,8 1,1 0,4 -1,1 -3-2 0-7 -1-1 0-2 -2-2 -2,0 -3,4 0,10 -1,1 -2,0 -1-1 1-1 0-13 -1-1 0-3 -2-3 0-4 -1-1 0-2 -1,0 -2,4 -1,0 -2-2 -1,0 -1,2 0,2 -1,1 0,7 -1,1 0,11 1,2 -2,2 0,6 6,14 0,15 -1,1 0,2 -2,2 -1,0 -2-2 0-2 -1-1 -1-13 -4-2 1-1 0-5 1-1 0-9 -1-2 2-3 0-4 1-1 0-9 -1-1 0-4 -1-2 -2,0 -1,2 0,4 -3,3 0,4 -2,2 -1,4 -1,1 -2,0 -1-1 1-1 0-8 1-1 -1-15 -1-2 -1,0 -1,2 -1-1 0-8 2-3 1,2 2,1 2-3 0-4 1-1 0-17 -1-1 0-4 -2-3 1-2 0-4 1-1 0-38 -1-2 0,8 -1,1 0,5 -1,1 0,3 -1,1 0,9 -1,1 -1,49 -1,1 -1-2 -1,1 0,17 1-2 0-3 1-1 1,1 0,6 -1,1 1,17 -1,1 -5,0 -5,6 -4,0 -4-3 0-2 1-1 2,1 1-2 0-2 1-1 0-8 1-1 0-3 2-1 0-3 1-1 0-6 -1-1 1-58 -1-2 0,8 -1,1 0,22 1,1 0,3 -1,1 -1,10 -3,2 -1,4 -1,1 -1,14 -2,2 -2-4 -2,0 -2,2 -1-1 -1-11 -2-1 -1,2 0,4 -1,1 0,22 -3,3 -4,1 -1-1 1-1 0-4 1-1 0-18 -1-1 0-4 -1-2 -1,0 -1,1 0,3 -1,1 0,22 1,1 0,3 1,2 -4,2 -2,2 2,9 -1,1 -3-5 -5,0 -4,8 0,11 3,7 3,2 0,13 10,0 6,7 0,5 -1,1 0,2 -3,4 -4,1 -1-1 -2,0 -6-6 -1-2 0-9 -5,0 -4-3 1-1 2,0 4-4 0-7 -6-5 1-2 0-4 -3-7 -1-1 -3,0 -1,1 -1-1 0-11 -1-1 0-2 1-1 5,4 3,0 6-5 1,0 1-2 -1-8 -1-1 -1-4 -2-2 0-16 -1-1 0-4 -2-4 -2,4 0,7 -1,1 0,4 -1,1 -1-1 0-3 -2-3 0,2 -1,1 0,11 -3,4 -1-1 0-18 -1-1 0-5 -1-2 -1,0 -1,2 0,3 -1,1 0,22 -2,3 -1,6 -3,4 -1-1 0-5 1-1 0-8 1-1 0-5 -3-4 -2,1 -1-1 0-16 -1-1 0-3 -1,1 -1,13 1,1 0,6 1,1 1,14 1,1 1-2 1,1 0,5 2,4 -1,1 -5,0 -1-1 -4-1 -4-4 0-1 -5-4 -3,0 -7,5 -2,0 -1-1 0-5 -2-4 2-4 1,1 0,3 2,3 2-1 1-2 2,2 0,1 1,0 2-4 0-6 1-1 1,1 0,7 1,0 0-15 -1,0 -1,2 -1-1 0-6 -1-1 0-2 -2-2 2-3 0-13 -2-3 -2,2 0,2 -1,1 0,9 1,1 0,2 2,2 -2,11 -1,1 -2-1 -3,5 -1-1 0-4 -2-3 -2,2 -1,11 -3,3 -1-1 0-5 -1-1 0-16 -1-1 0-4 -2-4 -1,0 -2,2 0,2 -2,2 -1-1 -1-4 -1,0 -2,3 0,3 -1,1 0,8 -1,1 -2-2 -3,0 -3,4 -2-3 -2,2 -1,0 -4-5 -1,0 -3,3 -2,4 0,10 5,6 0,5 1,1 -3,5 0,4 2,3 0,3 -3,3 -3,1 -4,4 -5,0 -1-1 -3,0 -2-3 0-3 -6-11 2-1 6,5 3,0 1-1 1,1 0,9 0-20 0,3 -1,1 -1-1 -2-9 2-2 3,3 2-2 0-2 1-1 1,1 0,26 1,0 0-26 -2-1 0-12 -2-4 -2,0 -2,2 -1-2 -2,0 -2,2 0,3 -1,1 0,8 2,4 -7,6 -2,1 -1-1 -2,0 -3-3 -4-2 1-1 0-5 1-1 0-17 -1-1 0-5 -1-2 -1,0 -1,2 -1,17 -1,1 -1,0 -2-2 0-9 -1-1 -1-6 -3-4 0,3 -2,3 -1-1 0-3 1-1 0-3 1-1 0-27 -1-1 0-3 -2-3 0-9 -1-1zM990,17l-1,1 0,8 -1,1 0,24 1,1 0,2 0-3 1-1zM813,17l-1,1 0,3 -1,1 0,26 1,1 0,4 1,0 0-3 1-1 0-29 -1-1zM700,15l0,3 -1,1 0,38 1-1 0-7 1-1 0-23 -1-1zM1129,10l0,10 -1,1 0,17 -1,1 0,21 2-3 0-7 1-1 0-33 -1-1zM765,8l0,3 -2,3 0,5 2,4 1,11 0-26zM68,4l0,2 -1,1 0,8 1,1 0,2z"/>
<path fill="#424242" d="M979,244l0,2 -1,1 0,14 1-1zM636,242l-1,0 0,18 0-7 1-1zM312,242l1-1 1,1 -1,1zM457,235l-1,2 0,18 1,1 0,2zM313,233l1-1 2,2 1,4 3,3 14,0 1-1 11,0 1-1 20,0 1,1 0,2 -1,1 -50,0 -4-2 0-2 1-1 0-3zM302,230l1-1 2,0 1,1 -2,2zM971,229l0,3 -1,1 0,9 1,1 0,3zM305,229l1-1 1,1 -1,1zM228,230l0-2 3-3 6-1 1-1 3,0 1-1 3,0 1,1 0,6 2-8 3-2 10,0 4,2 7,0 7,3 2,3 -2,3 -8,0 -1,1 -38,0 -2,1zM778,215l0,19 1,1 0-20zM124,216l2-2 0-1 3-2 8,0 6,3 5,5 0,6 -2,2 -6,0 -1,1 -15,0 -1-1 0-7 1-1zM89,212l4-4 8-4 3,2 9,2 3,4 0,4 -6,5 -6,1 -1,1 -5,0 -1-1 -4-1 -4-4zM1211,206l4-4 2,0 1-1 6,0 1,1 2,0 3,3 0,4 -2,2 -4,0 -1-1 -3,0 -4-2 -3,0zM882,202l-3,5 0,9 2,3 0,2 -1,1 -5,1 -1-1 -3,0 -1-1 -13,0 -1,1 -3,0 -4,3 0,1 2,2 -1,1 -8-2 -6-5 0-3 1-2 2-2 4-2 3,0 1-1 24,0 3-6 4-4 2-1zM352,206l7-7 6,0 4,2 4,0 1-1 6,1 6,6 0,2 -2,4 -2,2 -3,0 -1-1 -10,0 -1-1 -12,0 -3-3zM1083,195l3-3 8-1 1,1 3,0 2,1 3,3 0,3 -3,4 -4,0 -1,1 -7,0 -5-4zM95,192l-1,2 -9,0 -1-1 1-1 7,0 1-1zM861,186l6,0 1,1 -1,1 -1,4 1,1 0,2 3,3 0,1 -3,3 -5,0 -2-2 0-1 -5-4 1-5zM652,186l1-1 3,3 2,0 1,1 3-1 1,1 0,4 -2,2 -5,0 -3-2 0-5zM628,189l5-5 6,0 4,3 0,5 -1,1 -12,0 -2-2zM615,186l2-2 3,0 7,6 -2,1zM13,194l2-4 5-5 4-1 1-1 4,0 1-1 6,0 6,3 8,0 1,1 3,0 10,6 3,3 1,4 1,1 -1,10 -1,1 0,2 -6,6 -1-1 0-6 0,8 -3,2 -8,0 -1-1 -2,0 -7-3 -5,0 -1,1 -2,0 -1-1 -7-1 -2-1 -6-7 -1-6 -1-1zM1140,185l4-5 2,4 4,3 2,0 1,1 6,0 1,1 -1,4 7,0 4-3 2,0 1-1 4,0 5,4 0,3 -6,5 -5,0 -4,5 -3,0 -1,1 -10,0 -3-2 0-4 4-7 -2,0 -1-1 -7-2 -4-4zM459,181l1-1 5,0 7,3 2,2 -4,3 -5,1 -1-1 -2,0 -3-3zM329,180l3,4 0,2 1,1 0,4 1,1 0,8 -1,1 0,3 -2,4 -5,4 -2,0 -1,1 -5,0 -1-1 -3,0 -10-6 -2,0 -2,2 -2,4 0,4 3,6 0,4 -1,2 -2,2 -1-1 -10,0 -3-3 0-2 3-6 0-2 -2-1 -2-2 0-1 7-4 2,0 3-3 3-6 3,2 2-2 1-4 4-8 7-8 2,0 1-1 6,0 1,1zM1050,176l-1,2 1,0zM651,172l1-1 1,1 -1,1zM1028,169l-2,2 0,6 3,2 4,0 1-1 0-4 -1-1 0-2 -1-2zM205,167l2,1 0,4 1,2 3,2 3,0 1,1 -1,2 1,3 6,3 3,4 0,4 -4,4 -9,0 -4-4 -1-2 0-3 3-3 0-3 -3-3 -4-1 -1-1 0-5zM597,166l1,1 0,6 2,4 1,0 5,5 1,3 -1,1 -4,0 -1,1 -7,0 -5,6 -4-8 -1-5 2-3 0-3 1-1 5,0 3-3 0-2zM567,168l3-2 2,2 1,3 1,0 1-2 4-1 1,1 0,4 -5,4 -6,1 -2-3zM684,166l1-1 1,1 -1,1zM1112,164l1-1 1,1 -1,1zM271,163l6,0 2,1 6,6 1,2 0,7 -2,4 -4,4 -2,0 -1,1 -5,0 -4-2 -4-4 -2-4 0-4 3-3 0-3zM930,164l1,2 0,3 1,1 0,8 2,2 3,0 1,1 5,0 1,1 9,0 0-6 -1-1 1-6 2-4 5-4 -1-1 -14,0 -1,1 -11,1zM1044,159l-2,2 2,2 3,1 0-3 -1-2zM1119,156l1,1 0,8 -1,1 -2,0 -1-1 1-1 0-2 1-1 0-4zM684,156l1,1 0,8 -1,1 -3-1 -4,4 -4,1 -1-1 10-10 0-1zM898,156l1-1 1,1 -1,1zM484,160l1-1 2,1 5,0 2-1 3-4 5,5 -3,4 0,3 1,2 4,3 0,1 -3,3 -4,0 -2-1 -4-5 2,3 0,2 -2,1 -8-7 1-1 3,0 0-1 -2-2zM220,154l1,1 2,0 4,5 0,1 -5,4 0,2 -1,1 -3-4 -2-1 -4,0 -1-1 0-1 4-5 4-1zM982,151l-2,2 0,8 1,2 1,0 2-3 0-6zM642,151l2-1 3,0 1,1 2,0 4,4 2,4 0,3 1,1 -1,6 -2,3 -2-1 1-1 0-5 -3-3 -2-1 -3,0 -1-1 -2,1 -3,0 -1,1 -1-1 0-4zM1001,149l-1,1 0,13 1,1 1-1 0-13zM1056,147l-1,2 0,3 -1,1 -2-3 0,11 2-2 1,1 0,3 2,2 1,0 2-4 0-10 -1-1 0-2 -1-1zM503,152l4-5 2,0 1-1 6,0 3,4 0,5 -2,2 -8,0 -4,2 -2-3zM1189,146l-2,2 0,3 -1,1 0,5 1,1 0,3 1,1 2,0 1-2 0-3 1-1 -1-8zM1196,144l-1,2 0,8 1,1 0,2 2,1 0,10 1,1 0,3 2,1 1-1 0-3 1-1 0-17 -1-1 0-3 -1-1 -2,1 0,3 -1,1 -1-1 0-5zM1095,144l-2,4 0,13 2,4 2-4 0-13zM1030,143l-1,1 0,3 -1,1 0,11 1,1 1,4 1,0 2-3 0-15 -1-2zM187,142l4,0 5,5 2,4 0,9 -2,4 -4,3 -2,0 -1-1 0-5 1-1 0-8 -1-1 0-4 -3-4zM577,141l2,0 1,1 0,3 1,1 -1,1 0,3 -1,1 0,7 -1,1 -2-2 0-15zM118,141l0,6 -1,1 0,16 1,1 0,11 0-5 1-1 0-26 -1-1zM1167,140l-2,4 0,15 2,3 2-4 0-13 -1-1 0-3zM387,140l0,19 1-2 0-14 -1-1zM1221,139l0,2 -1,1 0,20 1,1 0,2 1,0 1-2 0-3 1-1 0-14 -1-1 0-3 -1-2zM1146,139l-2,1 -1,2 0,3 -1,1 0,13 1,1 0,3 1,1 1,0 1-2 0-3 1-1 0-13 -1-1zM566,139l1-1 1,1 -1,1zM570,135l2,2 -4,2 -1-2 2-2zM326,136l1-1 1,2 -1,1zM120,136l3,4 0,8 -1,1 0,4 -1,1 0,2 1,1 0,4 1,1 0,16 1,2 7,6 0,2 -2,1 -1-1 -4,0 -1-1 -6,0 -2-2 -2,0 -1-1 -9,0 -1,1 -2,0 -2,2 -2-2 -4-2 -9,0 -3,2 -1-1 1-3 4-3 8,0 8,5 1-1 3,0 1-1 6,0 2-2 0-4 -1-1 0-12 -4-2 0-13 -1-2 -1,2 0,6 -1,1 0,5 1,1 0,2 -1,1 -5,1 -4-2 -3-4 0-5 1-2 8-7 0-1 5-6 2-1 3,0 1-1 1,1zM620,135l1-1 1,1 -1,1zM364,135l1-2 2,1 -2,2zM846,132l1,1 0,3 -1,1 -2-2zM932,128l-1,1 0,3 -1,1 0,14 1,1 0,3 2,1 1-2 0-3 1-1 0-12 -1-1 0-3 -1-2zM1058,127l-1,6 1,1 0,5 1,1 0-13zM489,127l-1,2 0,9 2,1 1-1 0-4 1-1 -1-1 0-4zM195,127l1-1 1,2 -1,1zM535,126l-2,4 0,5 2,4 3,0 2-7 -1-1 0-3 -1-2zM498,124l-1,2 0,12 2,2 1-2 0-12 -1-2zM38,124l-4,4 0,1 2,2 4,2 2,0 0-7 -1-2zM955,123l0,2 -1,1 0,9 -1,1 -1-1 -1-8 -1-1 0,2 -1,1 0,14 1,2 2-4 2,1 0,8 1,1 0,2 1,0 1-1 0-4 1-1 0-17 -1-1 0-4 -1-2zM53,122l-1,1 0,17 1,0zM457,119l-1,2 0,5 -1,1 0,2 1,1 0,5 1,2 1,0 2-4 0-9 -1-1 0-3zM215,119l-1,1 0,4 -1,1 1,1 0,4 2,1 0-2 1-1 0-6 -1-1 0-2zM607,117l-2,1 -1,2 0,3 -1,1 0,8 1,1 0,4 1,2 2,0 2-3 0-4 1-1 -1-11zM907,116l-1,0 -1,2 0,17 1,2 1-1 0-3 1-1 0-11 -1-1zM754,116l0,6 -1,1 -1-1 0-2 -2-1 -2,4 0,5 2,3 2-1 1-4 2-2 0-7zM555,116l-2,0 -2,4 -1-1 0,4 1,1 0,2 -1,1 0,4 1,1 0,2 -1,1 -2-4 -2-1 0-9 -1-1 0-3 -1-1 -1,1 0,2 -1,1 0,14 -1,1 0,5 2,4 2,1 3-1 3-7 2,4 3,0 1-2 0-2 1-1 0-15 -1-1 0-2zM80,115l3,7 1,0 1-2 0-3 1-1 2,3 0,3 -4,4 0,16 -1,1 0,3 -2,3 -1-1 -1-4 -2-2 -3,0 -2,2 -1-1 0-8 1-1 0-5 -1-1 0-9 -1-1 2-1 2,4 3,0zM421,113l-1,2 0,6 -1,1 0,3 1,1 0,5 1,1 0,2 2,0 1-2 0-5 1-1 0-5 -1-1 0-5 -1-2zM134,112l-1,2 0,5 1,2 3,0 1-2 0-5 -1-2zM965,111l-2,3 0,4 -1,1 0,9 1,1 0,23 1,1 0,4 2,1 1-1 0-4 1-1 0-23 1-1 0-9 -1-1 0-4 -1-2zM781,111l-2,2 0,3 -1,1 0,10 1,1 0,3 2,2 1,0 2-4 0-14 -2-4zM764,110l1,1 0,15 1,1 0,2 -1,2 -2,1 -1-1 0-11 1-1 0-8zM225,108l0,2 -1,1 0,16 1,1 0,3 1,0 0-3 1-1 0-15 -1-1 0-3zM118,108l0,9 1,0 0-9zM489,107l-2,2 0,3 -1,1 0,5 1,1 0,3 2,2 1,0 2-2 0-3 1-1 0-5 -1-1 0-3 -2-2zM806,106l-1,0 -1,2 -2,0 -2,2 0,3 -1,1 0,3 -1,1 -1-1 0-3 -2-3 -2,1 -1,2 0,3 -1,1 0,7 1,1 0,3 1,2 3,0 1-2 0-4 2-4 1,1 0,3 2,2 1,0 2,4 1,0 0-2 1-1 0-19 -1-1zM959,104l0,6 -1,1 0,6 1,1 0,3 0-2 1-1 0-12zM1209,103l0,14 0-2 1-1 0-7 -1-1zM524,103l-2,2 0,3 -1,1 0,5 1,1 0,3 2,2 1,0 2-2 0-3 1-1 0-5 -1-1 0-3 -2-2zM182,102l-1,1 0,4 -1,1 0,16 1,1 0,4 2,1 1-2 0-6 1-1 0-10 -1-1 0-6 -1-2zM42,102l-2,3 0,11 2,3 2,0 1-2 3,4 2-2 0-3 1-1 0-8 -1-1 -1-4 -2,0 0,1 -2,2 -1-2zM125,101l-2,3 0,15 1,2 2,1 1-2 0-6 1-1 0-2 -1-1 0-6zM430,100l0,12 1,0 0-11zM173,100l-1,1 0,3 -1,1 0,17 1,1 0,3 2,1 0-2 1-1 0-8 1-1 0-3 -1-1 0-8 -1-1 0-2zM114,98l-2,3 0,9 -1,1 -3-4 -2,3 0,9 1,2 2,0 2-3 1,0 2,3 1-1 0-3 1-1 0-13 -1-1 0-3zM34,97l-2,2 0,3 -1,1 0,8 1,1 0,3 1,2 1,0 2-3 0-14zM478,94l0,3 -1,1 0,17 1,1 0,17 1,1 0,4 1,2 2-4 0-16 -2-4 0-13 -1-1zM212,93l-1,2 -2-1 -2,3 -1,12 -1,1 0,16 1,1 0,3 1,1 1,0 1-2 0-3 1-1 0-8 3-5 0-9 -1-1 0-5 -1-1 1-1zM132,93l-1,1 0,13 1,1 0,2zM1074,89l0,20 -1,1 0,33 1,1 0,3 2,1 1-1 0-3 1-1 0-7 -1-1 0-3 -2-2 1-1 0-12 -1-1 0-20 -1-1zM639,89l-2,4 0,5 1,1 0,2 2,1 2-4 0-5 -1-1 0-2zM271,88l-2,3 0,9 1,2 2,1 2-3 0-9 -1-2zM803,87l0,2 -1,1 0,8 1,1 0,2 0-5 1-1 0-2 -1-1zM417,87l-3,0 -2,2 -2,4 0,13 1,1 0,2 -2,3 0,2 -1,1 -1-1 0-5 -2-3 -2,4 0,5 -1,1 0,11 1,1 0,5 2,4 2-3 0-5 1-1 1,1 0,4 1,2 2,1 2-2 0-3 1-1 0-15 -1-2 1-1 2,0 2-2 2-4 0-13 -2-4zM556,86l-1,1 0,8 1,1zM862,83l0,1 -2,2 0,16 2-3zM488,82l0,2 -1,1 0,7 1,2zM1052,81l-1,0 0,28 0-10 1-1zM967,81l-1,1 0,23 1,0zM389,79l-1,10 1,1 0,7 1,1 1-1 0-14 -1-1 0-3zM429,78l-2,3 0,9 1,2 2,1 2-3 0-9 -1-2zM112,78l-1,2 0,11 1,2 1,0 2-4 0-7 -1-1 0-2zM816,73l0,4 -1,1 0,17 1,1 0,14 1,1 0,8 1-1 0-22 -1-1 0-18 -1-1zM546,73l0,2 -1,1 0,19 1,1 0,5 1-2 0-24zM1108,72l-1,1 0,9 1,1 0,2 1,0 0-12zM1071,71l-1,2 0,3 -1,1 0,5 1,1 0,3 1,2 1,0 1-2 0-3 1-1 0-5 -1-1 0-3 -1-2zM457,69l-2,4 0,5 1,1 0,2 2,1 2-4 0-5 -1-1 0-2zM980,67l0,8 1,1 0,2 0-9zM790,67l-1,2 0,22 1,1 0,2 0-5 1-1 0-17 -1-1zM696,66l-2,3 0,4 -1,1 0,7 1,1 0,4 2,3 0,2 -2,4 0,5 3,2 2-1 1,1 0,19 -1,1 0,6 1,1 0,5 1,2 2,1 1-1 0-3 1-1 0-14 -1-1 0-3 -1-1 0-13 -4-3 1-25 -1-1 0-3 -2-2zM374,62l-2,4 0,7 1,1 0,2 2,1 2-4 0-7 -1-1 0-2zM202,62l0,24 1,1 0-18 -1-1zM141,61l-1,1 0,3 -1,1 0,7 1,1 0,3 2,1 1-1 0-3 1-1 0-7 -1-1 0-3zM51,61l0,2 -1,1 1,11zM301,58l-2,2 0,3 -1,1 0,7 1,1 0,3 2,2 1,0 2-2 0-3 1-1 0-7 -1-1 0-3 -2-2zM355,56l-2,4 0,11 2,4 1,0 2-4 0-11 -2-4zM729,54l0,9 1,1 0,10 1,1 0,3 0-13 -1-1 0-6 -1-1zM407,53l0,18 1,1 0,7 0-2 1-1 0-11 -1-1zM213,51l0,22 0-2 1-1 0-17zM415,46l-1,4 -1,1 0,5 1,1 1,4 1,0 1-4 1-1 0-5 -1-1 -1-4zM289,46l-2,4 0,15 1,1 0,2 2,1 2-4 0-15 -1-1 0-2zM428,44l-1,2 0,27 1,1 0-3 1-1 0-20 -1-1zM827,42l0,2 -1,1 0,15 1-1zM5,42l-1,37 1,1 0,34 0-7 1-1 1,1 0,9 -1,1 0,4 -1,1 -1-1 0,111 -3,3 0,2 -1,1 0,10 1,1 0,2 2,2 6,0 5,3 3,0 5-3 3,0 4,4 22,0 4-5 6,0 4,4 102,0 1-1 27,0 1-1 3,0 1,1 0,10 1-2 0-8 1-1 12,0 1-1 4,0 3-3 3,0 1-1 10,1 3,5 5,5 16,0 1-1 5,0 1-1 7,0 1,1 4,0 1,1 10,0 1,1 3,0 1-1 6,0 1-1 15,1 1-1 4-1 4-4 -1-1 1-1 3,0 1,1 -1,1 9,5 33-1 1,1 34,1 1-1 3,0 4-2 4-5 2,1 1,4 4,2 10,0 1-1 7,0 0-27 -2,2 1,7 -2,3 -10,0 -2-2 0-4 2-4 0-3 -5,2 -1,2 1,2 0,6 -1,1 -11,0 -1-2 1-1 4-1 2-3 0-2 1-1 0-7 -2-4 -4-3 -6,0 -1-1 -5,0 -2-1 -3-6 0-4 2-3 2,0 1,1 4,0 1,1 4,0 1,1 4,0 1,1 2,0 1,1 0,3 -2,4 1,1 4,0 1,1 7,0 1-1 -1-2 1-2 2,2 0,6 1,1 0,2 3,3 3,0 3-3 1-4 1-1 2,0 2-2 1-2 0-3 1-1 0-4 -3-7 -6-3 0-22 1-1 1,2 5,4 0,18 3,0 1,1 6,0 1,1 2,0 1-1 5,0 1,1 4,0 1,1 0,18 -1,1 0,23 1,1 0,3 0-2 1-1 0-42 2-2 4,0 1-1 3,0 1-1 2,0 7,5 3,0 1,1 8,0 4-2 9,0 3,2 0,7 0-5 2-2 8,0 1-1 2,0 4-2 5-4 3,3 3,0 1,1 10-1 5,3 7,1 1,1 5,1 5,3 11,1 1,1 18,0 1,1 10,0 5,3 2,0 3,2 4,0 1,1 28,0 1-1 2,2 2,0 1,1 7,0 1-1 11,0 4-2 5-6 1-4 -3-6 4-4 1-4 -1-1 0-2 -3-3 -2,0 -1-1 -4,1 -3,3 0,2 -1,1 -3-6 -1,0 -5-4 -1-2 0-7 3-3 1,2 0-2 1-1 3,0 4,4 0,1 6,5 3,5 104,0 1,1 0,5 5,4 3-1 3-3 0-4 2-2 2-1 5,0 2,1 3,3 2,4 0,8 -1,2 -7,6 -3,0 -1-1 -4-1 -1,1 1,11 -1,1 -3,0 -5,3 0,3 5,3 5,0 1,1 0,4 -6,3 -3,3 -1,3 4,5 6,3 2,0 2,2 0,5 1,2 4,0 1-1 26,0 1,1 2-1 10,0 1,1 13,0 1-1 3,0 0-37 1-1 1,2 2,1 40,0 1-1 10,0 1-1 1,1 0,4 1-4 1-1 6,0 1-1 19,0 1,1 4,0 1,1 8,1 1,1 3,0 1,1 10,1 1,1 6,0 1,1 5,0 1,1 8,0 1,1 28,0 1,1 23,0 1-1 11,0 1-1 8,0 1-1 8,0 1-1 8,0 1-1 12,0 1,1 7,0 1,1 6,0 1,1 6,0 1,1 13,0 1-1 6,0 1-1 4,0 1-1 15,0 1,1 3,0 1,1 3,0 1,1 3,0 1,1 3,0 1,1 4,0 1,1 4,0 1,1 5,0 1,1 0,25 1,1 0,2 0-10 1-1 0-14 2-3 1,1 12,1 1,1 3-2 0-19 -2-2 -3,0 -1-1 0-49 -4,1 -4-3 -3,0 -1,2 0,8 1,2 -1,1 0,4 -2,3 -8,0 -2-3 -2-9 -2-2 -1,0 -2,7 -8,7 -2,6 -4,3 -5,0 -6-5 -4-9 0-5 -2-3 -2-1 -3,0 -4-2 -3-3 -4,0 -2,3 0,5 -1,1 -3,0 -1-1 1-4 1-1 1-13 -1-1 0-5 -1-1 0-2 -1-2 -1,0 -1,4 -1,1 0,19 1,1 1,4 -3,2 -2,0 -4,3 -2-2 0-4 -1-2 -1,0 -2,2 -1,4 -3,6 2,7 -6,7 -2,1 -2,0 -1-1 0-16 -1-1 0-2 0,20 -1,1 -6,0 -1-1 -3,0 -4-2 -2-2 0-4 3-3 9-4 2-2 -1-9 1-1 0-5 1-1 0-11 -1-1 -1-17 -2-3 -1,1 0,10 -1,1 -1-1 0-2 -1-1 -2,0 -1,2 0,3 -1,1 0,14 1,1 0,3 -1,1 -2,0 -1-1 -1,1 -2,0 -3,3 -4,1 -3,2 -6,0 -2,1 0,1 -2,2 -6,1 -5,3 0,3 4,2 2,2 0,4 -3,4 -6,3 0,2 2,3 0,3 -1,1 -15,0 -1-1 0-4 2-3 -1-2 -17,0 -3,2 0,3 -1,1 0,3 -1,1 -2,0 -1-1 -14,0 -2-2 0-5 -1-2 -5-4 -7,2 -1,1 -3,0 -1,1 -9,0 -1-1 -4-1 -5-4 -3-1 -8-8 -3,0 -2,2 -4,2 -2,2 -1,3 -3,3 -4,2 -2,0 -1-1 0-3 -1-1 -1,6 -4,2 -12-1 -1-1 -3,0 -7-3 -2,0 -4,2 -3,0 -1,1 -6,0 -1-1 -2,0 -2-1 -3-4 0-3 1-2 3-3 1,0 3-4 6-1 5-4 0-5 -3-3 -7-2 -4-4 0-1 1-1 2,0 2-3 0-5 -2-3 -2,0 -2,4 1,6 -1,1 -1-1 -3,0 0,8 -4,4 0,5 4,4 0,21 -1,1 -2,0 -2,2 -1-1 0-60 -4,3 -1,2 0,3 -2,4 -5,5 -5,0 -2-1 -3-3 -3-6 0-5 5-4 1,1 -1,2 0,3 2,3 0,6 1-4 1-1 3,0 2-1 2-3 0-3 -1-2 -3-2 0-2 1-1 0-7 -3-4 -2,0 -2,3 0,4 -5,4 -1,8 -5,3 -4,0 -2,5 -5,5 -1-1 0-4 -1,0 -1,5 -1,1 -3,0 -4-2 -2-2 -2-4 0-9 2-2 1-2 0-3 1-1 2,4 2,2 -2,4 0,3 1,1 0,6 1,2 0-5 1-1 1,1 3,0 3-2 1-2 -1-7 1-1 2,2 2-2 2-4 1,1 1,4 2,1 3-4 0-14 -1-1 0-2 -2-2 -2,1 -1,2 0,4 -2,3 -1-1 0-2 -4-2 -1-10 -1,2 0,15 -1,1 -3-4 0-4 -2-4 -2,1 0,2 -1,1 0,7 -1,1 -2-3 0-4 -2-3 -2,0 -2,3 0,3 -2,2 0,2 -2,2 -1-1 0-4 -1-2 -2-2 -3,2 -1,2 0,4 -1,1 -3,0 -2,3 0,4 -3,4 0,3 1,2 4,3 -1,1 0,2 -1,2 -5,4 -5,0 -4-2 -3-5 0-4 -1-1 0-2 -2,0 -2-2 -2-4 -2-1 -3,0 -3,2 -1,2 0,3 2,3 4,1 1,1 0,2 1,1 0,7 -2,2 -23,0 -8-5 -1,0 -4,5 -9,0 -1-2 -5-4 0-3 2-3 2,0 2-2 4-1 1-1 5,1 3,2 3,0 2-1 3-4 4-1 2-3 2,1 3,0 2-1 2-3 0-3 -1-2 -3-2 -3,0 -1-1 1-1 0-16 -1-2 -1,0 -1,2 -1-1 0-12 -1-1 0-6 -1-2 -1,2 0,8 -1,1 0,27 1,2 -3,2 -2,5 -1,1 -3,0 -2,1 -1,2 -2,1 -9-7 2-4 0-15 -2-4 -1,0 -1,4 -1,1 0,10 -1,1 -2-1 -3,0 -1-1 -1-11 -1-2 -1,0 -1,1 0,3 -1,1 0,9 -5,4 -1-1 0-4 1-1 0-7 -1-1 0-7 -1-1 0-2 -1,0 -1,1 0,4 -1,1 0,17 1,1 0,3 2,1 0-2 1-1 1,1 0,3 2,2 -2,4 0,3 2,3 2,1 4,0 3-4 3,2 0,10 1,1 -4,3 -2,0 -1,1 -5,0 -4-2 -4-5 0-3 -1-1 1-4 -4-3 -3,0 -4,3 -2,4 0,2 -2,4 -2,2 -2,5 -5,5 -1,0 -1-1 0-3 1-1 0-3 1-1 0-11 1-1 2,1 3,0 2-1 2-3 0-3 -1-2 -3-2 0-9 -1-1 0-3 -2-2 -2,3 0,9 -2,1 -1-1 0-3 -1-1 0-4 -1-2 -3-2 0-8 -1-1 0-24 1-1 -1-32 0,10 -1,1 0,39 -1,1 -4-2 -3,2 -3,7 -1,15 -1,1 -1-1 0-3 -1,1 0,18 1,0 0-3 1-1 0-7 1-1 1,1 1,4 1,0 1-2 0-4 1-1 2,1 3-1 1,1 0,5 1,1 -13,13 -1,2 -1-1 -1-4 -4-4 3-6 0-9 -3-5 0,2 -2,3 0,3 -1,1 1,2 0,3 2,4 -1,1 -2-1 -7-7 1-1 0-15 -1-1 0-4 -2-1 -1,2 0,4 -1,1 0,10 -1,1 -4-2 0-10 -1-1 0-4 -1-2 -1,0 -2,4 0,20 1,1 0,2 -4,4 -2,0 -1-1 0-2 1-1 0-3 1-1 0-17 -1-1 0-3 -2-3 -2,1 -1,6 -1,1 0,14 1,1 0,3 -2,1 -1-1 0-4 -2-1 -1-6 -2-3 0-5 -1-1 0-3 -1-2 -2-1 -2,3 0,3 -1,1 0,5 1,1 0,3 3,4 0,7 -1,1 0,4 3,2 3,0 1,1 -1,1 0,6 1,1 0,2 1,0 1-5 1-1 1,1 0,2 1,1 0,6 -1,1 0,2 -5,6 -2,1 -2-1 -5,0 -4,2 -3,0 -5-3 -2-3 0-3 1-1 0-5 1-1 0-3 1-1 -1-6 -7-5 1-1 0-6 1-1 1,1 0,5 2,3 2,0 2-4 0-7 -4-5 0-7 -1-2 0,13 -1,1 -2-4 0-6 -2-4 -1,0 -1,2 -1,6 -1,1 -3-3 -3,0 -1-1 0-6 3-3 0-2 1-1 0-4 -2-4 -7-6 0-7 1-1 0-29 -1-1 0-9 -1-1 0-3 -1,0 0,3 -1,1 0,9 -1,1 0,3 -1,1 0,7 1,1 0,4 -3,2 -1,2 0,3 -1,1 0,13 1,2 -1,1 0,3 -1,1 0,3 -1,1 0,9 -2,3 1,17 1,1 0,3 2,2 -1,4 -1,1 0,6 -4,3 -8,0 -4-2 -5,0 -3,2 0,2 2,3 7,0 2,1 4,4 0,3 2,4 2,2 5,0 2-2 1,1 0,8 1,1 0,13 1,1 -1-15 2-1 7,6 1,2 0,5 -6,5 -7,0 -4-3 -3-6 1-1 0-4 1-2 -1-1 0-3 -3-4 -6,0 -1,1 -3,0 -1-1 -4-1 -1,1 0,3 -4,3 -2,0 -4,2 -4,0 -1,1 -3,0 -1-1 0-2 8-7 0-13 3-5 0-3 -3-5 -1-4 -4-2 3-2 0-3 1-1 -1-2 0-3 -2-1 -2,2 0,7 2,2 -1,1 -2,0 -1-1 0-5 -5-4 -2,1 -2-1 0-7 -1-1 -1-4 -2,1 0,2 -1,1 0,12 1,1 0,3 2,2 0,1 -5,5 -6,2 -4,5 -3-2 -5,0 -4,3 -5-6 -4-2 -3,0 -1-1 -3,0 -1-1 0-4 3-6 0-9 -1-1 0-2 -2-1 -2,4 0,10 2,4 -1,1 0,4 -1,1 -3,0 -1-1 0-2 -3-3 -2,0 -1-1 -4,1 -3,3 0,2 -1,1 1,2 0,3 -3,5 -1-2 -2,0 -1-1 0-21 -1,0 0,11 -1,1 0,17 1,1 1,8 -1,1 0,4 -1,1 0,2 -4,4 -2,0 -3-3 -2-7 -1-1 0-2 -3-5 2-3 0-2 6-6 4-2 0-19 1-1 0-11 -1-1 -1-4 -1-1 -2,3 0,3 -1,1 0,9 1,1 0,2 -8,6 -4-2 -2,1 -2,4 -5,0 -1-1 -8-2 -5-6 0-18 -1-1 0-3 -1-2 -2,0 -2,3 0,3 -2,2 -1-1 -1-4 -2,0 -2,3 0,4 -1,1 -1-1 -1-8 -2-3 -2,2 0,2 -1,1 0,7 -1,1 0,5 1,1 0,7 1,1 0,2 2,2 2-3 0-3 2-3 1,1 0,4 3,4 2-3 2,1 0,3 1,1 0,9 1,2 2,1 15,0 1,1 3,0 2,2 0,5 3,6 2,1 -3,2 -2,0 -4,2 -3,0 -4,2 -1,2 1,4 -2,1 -1-1 -7-1 -2-2 0-3 -12-5 -5-5 0-6 1-1 0-3 1-2 -1-1 0-4 -1-1 0-2 -5-8 1-1 0-6 1-1 -1-11 -2-3 -2,3 -1-1 0-5 -2-4 -1,0 -1,4 -1,1 0,8 -1,1 -1-1 -1-4 -1-1 -2,0 -2,4 0,14 1,1 0,2 2,2 1,0 2-4 0-5 1-1 1,1 0,4 1,1 1,4 2-1 1,1 0,2 -1,1 0,18 -5,10 -6,6 -2,0 -8-4 -14-10 1-4 1-1 0-9 -2-4 0-4 3-3 1-4 1-1 1,1 0,3 1,2 2,1 2-3 0-4 1-1 1,1 0,17 1,1 0,3 1-1 0-3 1-1 0-3 1-1 0-4 3-2 0-2 1-1 0-20 -2-4 0-2 1-1 0-5 -1-1 0-3 -2-3 -2,1 -1,2 0,3 -1,1 0,5 1,1 0,3 3,4 -1,1 0,6 -2,2 0,4 -1,1 -1-1 0-11 -1-1 0-3 -2-3 -1,0 -2,3 0,3 -1,1 0,5 -1,1 -1-1 0-2 -2-2 -4,2 -1-1 0-3 -1-2 -2,1 0,3 -1,1 0,11 -1,1 -5,0 -1-1 0-6 -2-3 -2,0 -1,1 0,2 -1,1 0,8 1,1 1,5 -4,8 0,9 4,8 0,2 -5,4 -4-1 -5-6 0-9 1-1 0-17 -1-1 0-2 1-1 0-16 1-1 3,4 -1,2 0,6 1,1 0,5 1,1 0,2 1,0 2-4 0-12 4-5 0-5 -1-2 -4-3 -5,2 -4-4 -2,0 -1-1 0-4 0,5 -4,4 0,7 1,1 -1,1 0,8 0-8 1-1 2,2 0,3 -1,1 0,5 1,1 0,6 3,5 -6,6 -2,0 -1,1 -8,0 -3-2 1-2 -1-3 2-3 1-10 1-1 1,1 0,6 1,1 0,4 1,1 1,0 0-2 1-1 0-5 1-1 0-9 -1-1 0-6 -1-2 -2,1 -2-3 0-11 -1,1 0,13 -1,1 -1-1 -2,4 0,18 1,1 -1,2 -2-2 -2,0 -1-1 1-2 -1-7 -2-3 -2,0 -2,2 0,3 -1,1 0,5 1,1 0,3 -1,1 -3,0 -2-2 1-1 0-5 1-1 0-3 -1-1 0-5 -2-4 -1-6 -1-1 0,2 -4,2 -1-2 -1,0 -1,2 0,4 -1,1 0,17 1,1 0,2 -1,1 0,4 1,1 0,2 2,3 0,3 1,1 0,5 1,1 0,12 -1,1 0,3 -1,2 -2,2 -1,0 -2-2 0-2 -1-1 0-3 -1-1 0-7 -1-1 0-2 -4-2 1-2 0-3 1-1 0-13 -1-2 3-4 0-13 -1-1 0-2 -2,0 0,2 -1,1 0,9 -1,1 -1-1 0-2 -1,4 -2,2 -1,2 0,3 -1,1 -1-1 -6,0 -1-1 -2,0 -4,4 -5,2 -1-1 -2,0 -2-2 0-2 -2-3 0,2 -1,1 -3-3 2-1 1-4 1-1 0-10 -1-1 0-3 -2-2 -1,0 -2,3 -1-1 -1-10 -1-2 -1,0 -1,2 0,6 -1,1 0,14 1,1 0,6 -2,2 -4,2 -2,0 -4,3 0,5 1,2 2,0 2-2 2,1 0,15 1,1 0,4 -2,1 -6-6 -2,0 -1-1 0-8 -1-1 -1-4 -3-2 -3,1 -2,3 0,2 -1,1 0,11 1,1 1,4 4,3 1,10 3,2 6,1 5,5 1,2 0,3 1,1 -1,1 0,5 -1,1 1,3 6,5 8,3 3,3 1,3 -4,4 -4,2 -2,0 -3,2 -3,0 -1,1 -16,0 -1-1 -3,0 -1-1 -11-2 -4-4 0-2 3-4 5-3 8-2 4-3 -5-8 -2-7 -9-7 -2,0 -3,3 -4,2 -7,0 -5-6 1-6 6-5 8,0 2,2 0,4 1,2 3,2 5,0 2-1 2-3 0-5 -1-2 -3-2 -3,0 -1-1 1-2 0-6 -1-2 -2-2 -4,0 -1-1 1-1 0-13 -2-4 -2-2 2-1 7,4 5,0 3-2 2-4 -1-6 -3-4 0-3 1-1 0-8 -1-1 0-8 -1-1 0-2 -2,1 0,2 -1,1 0,11 -2,1 -2-3 0-3 -1,0 0,2 -1,1 0,12 -3,3 -2-1 1-15 -1-1 0-8 -1-1 0-2 -1,0 -1,2 0,5 -1,1 0,14 1,1 0,5 1,1 -2,3 1,2 -6,5 -1,3 -2,2 -3-2 -8-2 -5-5 0-1 -3-2 -3,0 -2,2 -4,2 -3,0 -1-1 0-8 -2-3 2-4 0-8 -1-2 -2-1 0,2 -1,1 0,9 -2,1 -2,3 -1-1 0-3 -1-1 0-15 -1-1 0-6 -1-1 0-2 -2-2 -2,3 0,2 -2,2 -1-1 0-3 -1-2 -1,0 -2,4 0,5 -1,1 0,5 -1,1 -2-3 -2,0 -4,5 -2-4 -1,2 -2,1 -3-5 -3,0 -3,5 0,3 -1,1 1,6 3,4 2,1 1-1 1,1 0,6 -3,7 0,4 1,1 0,3 1,2 -8,4 -4,4 -5,0 -1,1 -4,0 -2,2 -8,1 -2,2 -1,3 -3,3 -4,0 -1-1 0-2 1-1 0-6 1-1 4-1 2-2 6,3 4,0 1-1 0-8 -2-3 0-2 -7-10 0-2 -5-5 -2,0 -2-2 1-4 1-1 0-8 1-1 0-5 -1-1 0-8 -1-1 0-2 -1,0 0,3 -1,1 0,16 -1,1 -4-4 -1-12 -2-4 -2,0 -1,1 -1,6 -1,1 -1-1 0-11 2-3 0-4 1-1 0-19 -1-1 0-4 -2-3 0-3 -1-1zM368,41l0,5 -1,1 1,1 0,6 0-2 1-1 0-7 -1-1zM919,36l-1,15 -1,1 0,9 1,1 0,3 1,2 0-8 1-1zM229,35l-1,1 0,3 -1,1 0,6 -1,1 -1,30 -1,1 1,13 2,4 2-1 0-2 1-1 0-5 1-1 -1-13 -1-1 0-2 -3-2 1-1 0-4 2-4zM149,35l-1,2 0,19 1,1 0,4zM944,33l-1,1 0,6 -1,1 0,14 1,1 0,7 1,1 0-4 1-1 0-22 -1-1zM460,29l0,4 -1,1 0,14 1,1 0,7 0-2 1-1 0-19 -1-1zM957,28l-1,2 0,19 1,1 0,2 0-7 1-1zM78,27l0,24 1,0 0-5 1-1 0-13 -1-1 0-4zM750,25l0,2 -1,1 0,14 1,1 0,9 1-1 0-18 -1-1zM422,25l-1,1 0,8 -1,1 0,29 1,0 0-4 1-1zM362,24l0,9 -1,1 0,25 1,1 0,5 1,2 1,0 0-12 -1-1 0-30zM1129,21l0,8 -1,1 0,24 1-2zM813,21l-1,1 0,6 -1,1 0,13 1,1 0,5 1,1 0-5 1-1 0-17 -1-1zM700,21l0,4 -1,1 0,24 1,2 0-11 1-1 0-5 -1-1z"/>
<path fill="#4a4a4a" d="M304,243l1-1 1,1 -1,1zM311,230l2-1 4,2 0,5 3,4 17,0 1-1 30-1 1,1 0,3 -2,2 -55,0 -1-1 2-2 0-8 -2-2zM475,217l0,10 -1,1 1,14 0-4 1-1 0-18zM1211,204l5-3 6-1 1,1 3,0 2,1 4,4 0,2 -3,4 -4,0 -1-1 -3,0 -1-1 -8-2 -1-1zM887,203l-1,2 -2-2 -1,0 -3,4 0,9 4,5 -2,2 -4,2 -2,0 -2-2 -2,0 -1-1 -15,0 -1,1 -2,0 -2,2 0,1 2,2 2,0 1,1 -1,1 -7,0 -1-1 -4,0 -1-1 -4-1 -5-6 0-3 2-3 2,0 4-3 3,0 1-1 8,0 1-1 15,0 8-9 2,0 1-1 3,0zM349,208l8-10 7,0 1,1 18,1 5,5 1,2 0,3 -4,6 -4,0 -1-1 -9,0 -1-1 -16,0zM692,195l1-1 1,2 -1,1zM95,189l1-1 1,1 -1,1zM860,185l7,0 2,2 -1,1 -1,4 1,1 0,2 4,3 -5,6 -5,0 -2-2 -1-3 -2-2 -2,0 -1-1 0-4 1-2zM612,187l4-4 5,0 6,4 4-3 2,0 1-1 5,0 5,4 0,5 -2,2 -11,0 -1-1 -3,0 -4-2 -2-2 -2,0 -1-1 -5,0zM653,182l1,1 0,2 2,2 2,0 1,1 4-1 1,1 0,5 -2,3 -4,0 -1-1 -3,0 -2-3 0-9zM404,181l1-1 1,1 -1,1zM457,182l2-3 5,0 1,1 5,1 6,4 -8,5 -5,0 -4-3 -1-4zM13,189l6-6 4-1 1-1 4,0 4-2 4,2 5,0 1,1 3,0 1,1 5,0 1,1 2,0 4,2 5,4 3,1 3,3 1,2 0,15 -2,4 -9,9 -4,1 -1,1 -6-1 -1-1 -2,0 -4-2 -3,0 -1-1 -1,1 -5,0 -4-2 -3,0 -4-2 -5-5 -2-4 0-2 -1-1 0-4 -1-1 0-8zM336,185l0,16 -1,1 0,3 -5,7 -6,3 -9,0 -8-4 -5,0 -2,3 0,3 1,1 0,3 1,1 0,4 1,1 6,0 2,2 -1,1 -4,0 0,1 -2,2 -2-2 -4,0 -1-1 -16,0 -1,1 -10,0 -1,1 -33,0 -1,1 -10,0 -2-1 -3-4 3-6 3-2 7,3 2,0 1-1 5,0 1-1 3,0 1-1 1,1 0,2 0-3 1-1 3,0 1-1 10,0 4,2 7,0 1,1 3,0 3,2 2,0 2-3 0-4 -4-3 1-1 2,0 5-4 4-1 3-3 1-2 0-5 1-1 2,1 4-3 4-9 8-9 2,0 1-1 6,0zM1142,175l-1,0 -1,2 1,2 1-1zM216,175l1-1 1,1 -1,1zM1029,171l-2,2 0,2 2,2 2,0 1-1 0-3 -2-2zM154,169l1-1 1,1 -1,1zM155,168l1-1 1,1 -1,1zM174,164l1-1 1,1 -1,1zM271,161l6,0 2,1 8,8 1,2 0,6 -1,1 0,2 -2,4 -6,5 -6,0 -1-1 -4-1 -6-6 -1-2 0-6 3-3 0-4zM954,162l-4,0 -1-1 -2,0 -1,1 -5,0 -1,1 -3,0 -4,2 0,11 1,2 4,1 1,1 4,0 1,1 5,0 2-1 0-2 1-1 0-9 1-1zM896,156l-2,0 0,8 -3,3 0,5 3,3 0,9 6-6 1-2 5,0 4-2 2-2 0-5 -2-2 -4-2 -5,0 -2-4zM223,153l5,4 1,6 -1,1 -4,0 -1,1 0,2 -1,1 0,5 -2,2 -2,0 -1-1 2-2 0-5 -3-3 -5,0 -3,3 0,5 3,3 5,0 1,1 -1,1 0,3 1,2 3,1 5,6 0,7 -1,1 -13,1 -2-2 -1,0 -3-4 -1-4 3-2 1-3 -2-3 -2-1 -3,0 -1-1 0-7 4-5 5-3 1-3 6-6 2-1zM982,153l-2,3 1,5 2-1 0-6zM484,154l0,3 3,2 5,0 3-2 0-3 -3-2 -5,0zM1001,151l-1,2 0,7 1,2 1-2 0-7zM501,151l-2,0 0,2 1,1 1-1zM640,149l9,0 2,1 5,5 2,4 0,2 1,1 0,11 1,1 -2,2 -2,0 -2,2 0,2 -1,1 -1-1 0-3 -2-2 -4,0 -1-1 1-1 2,0 4-4 0-3 -4-4 -3,0 -1-1 -2,1 -3,0 -2,2 -2-1 0-7 1-1 0-2zM188,149l0,14 1,0 0-14zM1189,148l-2,3 0,7 2,3 2-3 0-7zM1057,148l-2,3 0,10 1,2 2,0 1-1 0-4 1-1 -1-7zM1196,146l0,9 2,1 1,13 1,2 1,0 1-2 0-5 1-1 -1-13 -1-2 -1,0 -1,2 0,5 -1,1 -1-1 0-7zM900,146l-1,2 0,5 2,2 1,0 1-2 0-6 -1-1zM1155,145l-1,2 0,4 -1,1 0,11 1,1 0,4 1,2 1,0 1-2 0-4 1-1 0-11 -1-1 0-4 -1-2zM1095,145l-1,1 0,3 -1,1 0,9 2,4 2-4 0-9 -1-1 0-3zM1031,145l-2,3 0,11 1,2 2-1 0-3 1-1 0-6 -1-1 0-3zM1167,143l-1,1 0,3 -1,1 0,6 1,1 0,3 1,1 1-1 0-14zM387,143l0,12 0-3 1-1zM1146,142l-2,0 -1,2 0,5 -1,1 0,5 1,1 0,5 1,1 1,0 1-2zM1221,141l0,3 -1,1 0,14 1,1 0,3 1,0 1-2 0-5 1-1 0-6 -1-1 0-5 -1-2zM576,140l1,1 2-1 2,4 0,6 -1,1 0,7 1,2 -1,1 -4-3 0-14 -1-1 0-2zM727,140l1-1 1,1 -1,1zM588,139l1-1 1,1 -1,1zM367,139l0,12 1,1 0,2 2,1 3-4 0-5 -1-1 -1-4 -2-2zM844,137l-3,1 -2,3 1,2 -1,2 1,5 0-4 1-1 3,1 2-1 2-3 -1-3zM870,136l1-1 2,2 -2,1zM622,135l0,5 -1,1 0,10 1,1 0-2 1-1 0-13zM588,134l1,1 0,3 -1,1 -1-1 0-3zM15,133l1,1 0,2 -2,2 -1,0 -1-2 1-2zM1120,132l-1,2 0,11 -1,1 -1-1 0-3 -1-2 -2,1 -1,2 0,5 -1,1 0,6 1,1 0,5 1,2 2,1 1-2 0-3 1-1 0-7 1-1 1,1 0,11 1,1 0,4 -1,1 -1-1 -1,1 -2,0 -5-3 -3,0 -9,5 -8,1 -2,1 -2,3 -5,0 -1,1 -2,0 -3,3 0,1 3,3 2,0 2,2 0,5 2,1 1-1 7,0 1,1 6,0 1,1 3,0 4-6 7-4 4-1 2-2 0-9 2-4 0-20 -1-1 0-8 -1-1 0-3zM932,131l-1,2 0,14 1,2 1,0 0-2 1-1 0-13 -1-2zM760,131l-5,7 -2-1 -3,2 -1,3 2,3 2,1 3-1 4-5 2,0 2-2 -1-4zM234,130l-3,3 0,2 -1,1 0,15 1,1 0,2 2,2 1,0 2-2 0-2 1-1 0-15zM768,129l-2,1 -1,2 0,3 1,2 2,1 3,0 2-1 1-2 0-3 -1-2 -2-1zM525,129l-1,1 -1,4 1,1 0,2 2,1 1-2 0-5 -1-2zM950,128l0,2 -1,1 0,9 1,1 0,3 1-1 0-4 1-1 0-3 -1-1 0-5zM678,128l1-1 1,1 -1,1zM666,128l-1,1 0,12 1,0 0-5 1-1 0-2 -1-1zM489,128l-1,2 0,6 1,2 1,0 1-2 0-6 -1-2zM661,127l-2,0 -1,2 0,7 2,3 2-2 0-2 1-1 0-4zM536,127l-2,2 0,7 2,2 1,0 2-3 0-5 -1-2zM53,127l-1,1 0,6 1,1zM498,126l-1,2 0,8 1,2 1,0 1-2 0-9zM956,125l-2,4 0,18 1,1 0,3 1,0 1-2 0-6 1-1 0-8 -1-1 0-6zM577,124l1-1 1,1 -1,1zM871,123l-2,3 0,6 2,3 -1,1 0,4 -1,2 1,1 0,3 1-1 3,1 3-2 1-3 -1-2 -4-3 2-2 0-3 1-1 -1-2 0-3 -1-2zM680,123l1-1 1,1 -1,1zM466,123l-1,1 0,4 -1,2 1,1 0,4 1,2 1,0 1-2 0-10 -1-2zM457,122l0,2 -1,1 0,6 1,1 0,2 1,0 1-1 0-9 -1-2zM579,120l1,1 0,2 -1,1 -1-1 0-2zM750,120l-1,1 0,8 2,1 1-1 0-8zM509,120l-1,2 0,4 -1,1 0,2 1,1 0,5 3,2 0,4 2,2 3,1 4-3 0-7 -4-3 -4,2 -1-1 0-10 -1-2zM215,120l-1,2 0,6 1,2 1-1 0-8zM606,119l-2,4 0,11 1,2 2,1 2-4 0-10 -1-1 0-2zM906,118l-1,2 0,13 1,2 1,0 0-6 1-1 0-3 -1-1 0-6zM691,167l0,3 6,6 2,1 1,3 3,3 56,0 1,1 14,0 1-1 33,0 1,1 0,7 4,3 3-1 2-2 0-6 1-1 2,0 1-1 7,0 2,1 3,3 3,6 0,6 -1,1 0,2 -2,2 0,1 -6,5 -5,0 -3-2 -1,1 0,7 1,1 0,2 -1,1 -4,0 -4,3 0,1 2,2 2,1 5,0 1,1 0,2 1,1 0,4 -4,2 -2,2 -1,3 3,4 5,2 2,2 0,5 1,2 3,0 1-1 24,0 1,1 7,0 1-1 8,0 1,1 12,0 1-1 3,0 0-35 1-1 3,2 44,0 1-1 9,0 1-1 8,0 1-1 16,0 1,1 4,0 1,1 3,0 1,1 4,0 1,1 8,1 1,1 5,0 1,1 5,0 1,1 6,0 1,1 6,0 1,1 22,0 1,1 36,0 1-1 10,0 1-1 8,0 1-1 17-1 1-1 15,1 1,1 6,0 1,1 6,0 1,1 17,0 1-1 5,0 1-1 5,0 1-1 12,0 1,1 3,0 1,1 3,0 1,1 3,0 1,1 3,0 1,1 4,0 1,1 4,0 1,1 4,0 1,1 2,0 1,1 0,21 1-21 1-1 1,1 5,0 1,1 5,0 1,1 2,0 3-2 0-17 -2-2 -4-2 0-48 -1,1 -4,0 -4-3 -2,2 0,13 -3,6 -1-1 -7,0 -2-2 -3-8 -1,0 -3,3 0,1 -7,6 -2,5 -2,2 -4,2 -6-1 -5-4 -1-4 -3-6 0-4 -2-3 -4-1 -8-5 -3,1 -1,2 0,4 -1,1 -5,0 -1,1 -3,0 -2,1 -4,4 0,3 6,5 3,0 1,1 5,0 2,2 0,1 3,0 1-1 2,0 1-1 4,0 1-1 1,1 4,0 3,3 0,4 -3,4 -4,2 -3,0 -3,4 -3,0 -1,1 -3,0 -1,1 -8,0 -1-1 -3,0 -1-1 1-11 -7-3 -5,0 -5,4 -2,0 -4,2 -9,0 -1-1 -3,0 -1-1 -5,0 -1-1 -2,2 -1,3 -4,4 -7,0 -1,1 -5,0 -2-2 -1,0 -3-4 0-5 -2,0 -4,2 0,9 -1,1 -17,0 -2-3 1-5 -2-2 -12,0 -3,4 0,4 -1,1 -16,0 -1-1 -4,0 -1-1 0-4 -2-4 -3-2 -4,0 -1,1 -2,0 -1,1 -4,0 -1,1 -8,0 -12-5 -9-8 -3,0 -2,1 -2,2 -1,3 -4,4 -4,1 -1,1 -3,0 -1,1 -2-4 0,4 -1,1 -4,0 -1,1 -13-1 -1-1 -3,0 -4-2 -6,0 -1,1 -9,1 -1-1 -3,0 -2-1 -3-3 0,6 -5,4 -1-1 0-58 -6,10 -4,4 -4,1 -1,1 -1-1 -4-1 -8-9 -6,0 -1,3 -5,5 -2,0 -1-1 0-2 0,3 -1,1 -4,0 -4-2 -4-4 -1-6 -1-1 0-6 1-1 2,0 2-4 0-10 -3-4 -3,4 0,2 -2,3 0,4 -1,1 -2,0 -1-1 1-2 -1-6 -2-2 -2,1 -1,2 0,7 -1,1 -2-1 -2,1 0,5 -2,1 -2,3 1,3 4,3 0,2 -4,7 -4,3 -5,0 -1-1 -2,0 -4-4 -2-8 -4-3 -1-4 -4-2 -3,2 -1,3 2,3 3,1 2,2 0,2 1,1 0,8 -1,1 -3,0 -1,1 -23,0 -4-3 -4,0 -3,3 -10,0 -1-2 -4-1 -4,3 -11,0 -5-5 -1-4 -1-1 0-4 -2-3 -3,0 -3,2 -4,9 -2,2 -2,5zM596,118l0,12 -1,1 0,3 1,1 1,4 2,0 1-2 0-9 -2-2 -1,1 -1-1zM544,118l-1,1 0,3 -1,1 0,18 3,3 1,0 3-3 0-7 -3-3 0-6 -1-1 0-5zM840,117l-2,4 0,11 2,3 3,0 2-3 0-5 -2-3 -1-6zM554,117l-3,6 0,11 1,1 1,4 2,1 2-3 0-3 1-1 0-9 -1-1 0-3 -1-2zM238,117l-2,4 0,7 2,4 1-1 0-3 1-1 0-5 -1-1 0-3zM64,117l1-1 1,1 -1,1zM354,116l-1,4 -1,1 0,9 1,1 1,4 2,0 1-1 0-3 1-1 0-10 -1-1 0-2 -1-1zM858,115l-2,4 0,14 1,2 2,1 2-2 0-2 1-1 0-7 -1-1 0-5 -1-2zM422,115l-2,4 0,9 2,4 2-4 0-9zM965,113l-2,4 0,13 1,1 0,3 -1,1 0,13 1,1 0,5 1,2 1,0 1-2 0-5 1-1 0-13 -1-1 0-3 1-1 0-13 -1-1 0-2zM794,113l-2,3 0,11 1,2 2,1 2-4 0-9 -1-1 0-2zM135,113l-1,1 0,5 2,1 1-1 0-5zM19,113l1-1 1,2 -1,1zM848,112l-1,2 0,19 1,2 1-1 2,2 2-2 1-8 -1-1 -1-4 -2,0 -2-3zM781,112l-2,3 0,6 -1,1 1,1 0,6 1,2 2,0 1-1 0-3 1-1 0-8 -1-1 0-3zM738,112l-1,0 -1,2 0,3 -1,1 0,7 1,1 0,2 -1,1 -3-3 -3,0 -2-2 0-8 -1-1 0-2 -1,0 -1,2 0,10 -5,5 0,3 4,4 -2,1 -2,3 1,3 4,2 2-1 3-4 3,3 1,11 0-9 1-1 4,0 1-1 2,0 3-2 0-2 -4-4 -5,0 -1-1 2-2 0-1 3-2 0-2 1-1 0-11zM628,112l-1,4 -1,1 0,17 1,1 1,4 1,0 2-4 1-13 -1-1 0-5 -1-1 0-2zM614,112l-2,3 0,9 1,2 3,2 -1,1 0,5 1,1 0,3 1,2 1,0 2-3 0-11 -3-4 0-7 -1-2zM384,112l-2,4 0,16 2,4 1,0 2-3 0-3 1-1 0-9 -1-1 0-4 -1-2zM766,111l0,2 -1,1 0,8 1,1 0,2 1,0 0-2 1-1 0-8 -1-1 0-2zM412,111l1-1 1,1 -1,1zM337,111l-2,3 0,8 -1,1 1,1 0,8 1,2 2,1 2-4 0-17 -1-2zM225,111l0,6 -1,1 0,3 1,1 0,5 1,0 0-16zM392,110l-2,4 0,17 1,1 -1,1 0,6 1,1 0,7 2,3 13,0 1,1 4,0 2,1 2,4 0,4 1,2 3,3 1,0 4-5 0-4 1-2 8-5 1-2 0-12 -1-1 2-3 0-13 -2-3 -2,3 0,13 1,2 -7,6 -3,1 -2-2 -1,0 -4,5 -3,0 -7-3 -4,0 -5-5 -1-2 0-5 1-1 0-9 -1-1 0-4 -1-1 0-2zM404,109l0,3 -1,1 0,17 1,1 0,2 2,1 0-2 1-1 0-19 -1-1 0-2zM377,109l-2,2 0,3 -1,1 0,15 1,1 0,3 1,2 1,0 2-3 0-5 1-1 0-9 -1-1 0-4zM107,109l0,2 -1,1 0,5 1,2 2,1 1-1 0-9 -1-1zM1074,108l0,6 -1,1 0,19 1,1 0,10 2,1 1-1 0-11 -2-2 0-22zM805,108l-1,2 -2-1 -2,3 0,11 2,3 2,0 1,2 1,0 0-2 1-1 0-13 -1-1 0-3zM489,108l-2,3 0,9 1,2 2,1 2-3 0-9 -1-2zM363,108l-2,2 0,3 -1,1 0,15 1,1 0,3 1,2 1,0 1-4 1-1 2,2 0,2 2,1 0-2 1-1 0-14 -1-1 0-2 -2,1 0,2 -1,1 -1-1 0-5 -1-1zM716,107l-1,0 -1,2 0,4 -1,1 0,10 1,1 0,5 1,2 2-4 0-18 -1-1zM101,107l-1,6 1,1 0,3 1,1 1-1 0-9zM524,104l-2,3 0,9 1,2 2,1 2-3 0-9 -1-2zM183,104l-1,0 -1,2 0,6 -1,1 0,6 1,1 0,6 1,1 0,2 2-3 0-19 -1-1zM292,103l-2,1 -2,4 0,3 2,4 2,1 -1,1 0,11 1,1 0,3 2,2 2-3 0-3 1-1 0-9 -1-2 2-3 3,4 0,12 2,4 1-1 0-4 1-1 0-7 -1-1 4-4 0-7 -3-3 -3,0 -3,3 -2-4 -2-1zM193,103l-1,2 0,23 1,1 0,2 1,0 0-2 1-1 0-8 1-1 1,1 0,8 1,2 2,1 2-3 0-4 1-1 -1-8 -2-3 -2,1 0,2 -1,1 -2-3 0-8 -1-2zM126,103l-2,1 0,2 -1,1 0,9 1,1 0,3 1,1 2-4 0-11 -1-1zM42,103l-2,4 0,7 1,1 0,2 2,1 2-3 2,4 2,0 1-2 0-12 -1-2 -1,0 -3,4 -1-1 0-2zM701,102l0,3 -1,1 0,9 1,1 -1,2 0,14 2,4 2-3 0-4 1-1 0-7 -1-1 0-4 -2-2 0-11zM277,102l0,11 -1,1 -1-2 -1,1 0,4 -1,1 0,10 1,1 0,4 1,1 1-2 0-15 1-1 2,4 0,6 1,1 0,5 1,2 2-4 0-16 -1-1 0-2 -1,0 0,1 -2,2 -1-1 0-11zM173,102l-1,2 0,5 -1,1 0,7 1,1 0,5 1,2 2-4 0-15zM114,100l-2,4 0,11 2,4 1-2 0-5 1-1 0-3 -1-1 0-5zM33,100l-1,2 0,10 1,2 1,0 2-4 0-6 -1-1 0-2zM478,98l0,22 1,1 0,15 1,2 1-1 0-3 1-1 0-10 -1-1 0-3 -1-1 0-11 -1-1 0-5 -1-1zM161,98l-1,1 0,4 -1,1 0,8 -3,2 -1-1 0-4 -1-1 0,15 -3,4 0,2 5,4 6,0 2-2 0-7 -1-1 0-21zM146,98l-1,2 0,22 1,2 1,0 0-2 1-1 0-20 -1-1 0-2zM346,96l-1,0 -2,3 0,9 1,2 3,2 -1,1 -1,10 -2,3 0,4 -1,1 0,12 1,1 0,5 1-4 1-1 0-3 1-1 0-4 3-2 0-3 1-1 0-14 -1-1 0-3 -2-2 1-2 0-9zM210,96l-2,1 0,2 -1,1 0,8 -1,1 0,5 -1,1 0,5 1,1 0,6 1,2 1,0 0-2 1-1 0-10 2-2 0-2 1-1 0-11zM762,91l-1,2 0,12 -1,1 0,15 1,1 0,6 1-2 0-10 1-1 0-22zM639,91l-1,1 0,7 2,1 1-1 0-7zM0,245l1,1 0,3 2,3 6,0 4,3 5,0 2-2 5-2 4,5 22,0 4-5 6,0 3,3 0,1 2,1 64,0 1-1 43,0 1-1 23,0 1-1 1,1 0,3 0-2 2-2 15,0 5-4 2,0 1-1 10,0 4,4 0,1 4,5 13,0 1-1 8,0 1-1 7,0 1,1 4,0 1,1 18,0 1-1 11,0 1,1 7,0 4-3 0-3 1-1 12,0 1,1 0,2 2,2 2,0 1,1 3,0 1-1 10,0 1-1 4,0 2-1 1,1 10,1 1,1 34,1 1-1 2,0 5-6 8,0 1,1 0,3 4,2 2-1 11,0 2,1 0-25 -1,2 0,9 -1,1 -13,0 -1-1 -1,1 -13,0 -2-4 1-1 4,0 2-2 1-2 0-4 1-1 -1-1 0-4 -4-5 -5,0 -1-1 -6,0 -1-1 -3,0 -5-9 1-4 2-2 22,4 3,2 0,6 1,1 4,0 2-2 0-2 1-1 2,1 2,2 0,4 1,1 0,3 1,2 2,2 3,0 3-4 0-3 1-1 3,0 2-2 0-2 1-1 0-8 -2-4 -4-2 -2-2 0-23 1-1 1,2 5,4 0,18 19,0 1,1 3,0 1,1 4,0 9-4 5,5 6,3 11,0 4-2 7,0 4,2 0,3 0-2 1-1 3,0 1,1 6-1 8-4 5-4 4,3 5,0 2-1 0-3 -2-3 0-2 2-4 0-7 -3-4 -7,0 -1,1 -6,0 0,1 -2,2 -7,2 -1,1 -2,0 -1,1 -5,0 -1,1 -2,0 -1-1 1-4 7-7 0-12 1-1 0-3 1-1 0-3 -2-4 -4-3 -2,0 -2,2 0,2 1,1 0,4 -4,5 -9,0 -4,2 -3,3 -1,3 5,6 0,1 -4,5 1,1 -1,1 -2,0 -1-1 -5-1 -11-9 2-4 -1-1 0-5 -1-1 0-3 -2-2 0-1 -3-3 -4-2 -6-1 -2-3 0,2 -1,1 -3,0 -2-2 0-2 -2-2 -2,0 -1-1 -4,1 -2,2 0,2 -1,1 1,4 1,1 -5,6 -1-1 -2,2 -1-1 0-23 -1,1 0,15 -1,1 0,6 1,1 0,5 0-2 1-1 1,1 0,6 -1,1 0,7 -1,1 0,2 -5,6 -2,0 -4-4 0-2 -3-7 -3-2 -6,3 -9,2 -2,2 0,5 -1,1 -2,0 -1-1 -3,0 -1-1 -3,0 -1-1 -4,0 -4-5 -10-5 -6-6 0-1 -2,0 -3,3 -2,4 0,4 2,3 -1,1 -6,0 -1,1 -2,0 -2-2 -12-6 -12-9 2-4 0-11 -5-8 -1-5 2-2 1,1 0,3 2,3 0,2 0-2 2-2 1-4 1-1 0-5 -1-1 0-3 -1-2 -3,0 -1,4 -1,1 -1-1 0-6 -1-2 -1,0 -1,2 0,4 -1,1 0,4 1,1 0,4 -1,1 -5,0 -2,1 -1-1 1-1 0-6 -1-1 0-2 -1-1 -2,0 -1,2 0,4 -1,1 1,2 0,4 4,3 -2,1 -4,7 0,11 6,10 -7,5 -4,0 -5-4 -2-4 0-10 1-1 0-7 -1-1 0-3 -2,0 -4,3 -2,0 -1,1 -10,0 -3-3 1-2 -1-4 -2-2 -2,0 -1-1 0-8 -2-4 -2,0 -2,3 0,9 1,2 -2,2 -5,0 -1-1 1-1 0-3 1-1 0-11 -1-1 0-3 -2-3 0-3 -1,0 -3,2 -3,0 -1,2 0,6 -1,1 0,9 1,1 0,3 2,3 -1,1 0,3 1,1 0,3 1,1 0,5 1,1 0,10 1,1 0,2 -1,1 0,7 -2,4 -2,2 -1,0 -3-4 0-3 -1-1 0-5 -1-1 0-4 -2-2 -6-1 -3-3 -1-2 0-5 -1-1 0-6 -1-1 -2,0 -2-2 -2,0 -1-1 -7,5 -3,0 -4-2 0-2 -2-3 0,3 -1,1 -4-4 0-1 -2-1 -2,0 -3,3 0,3 4,4 4,8 0,10 -1,1 0,2 -4,4 -6,0 -7-5 -4,0 -1,1 -1-1 1-2 0-11 -3-5 -3,0 -3,5 0,11 3,5 3,0 1,1 0,9 3,3 2,0 4,2 6,6 0,2 1,1 0,12 7,6 7,2 3,3 0,2 2,4 -3,3 -4,2 -5,1 -3,2 -26,0 -1-1 -5,0 -1-1 -9-1 -2,4 -29,1 -1-1 1-1 0-5 -1-2 -4,0 -1,1 -6,1 -4,2 -9,0 -1-1 -2,0 -6-6 0-5 6-6 4-2 0-4 1-1 3,4 7,3 7,1 5,4 1,0 2-2 0-2 1-1 6-1 2,3 7,2 6,3 6,0 18-9 0-3 -3-5 0-2 -2-4 -7-6 -8,4 -6,1 -1-1 -2,0 -5-5 0-6 2-4 3-3 4-1 1-1 5,0 1,1 3,0 1,1 -1,1 0,5 3,3 5,0 3-3 0-5 -3-3 -5,0 -1-1 1-2 0-6 -1-2 -6-3 1-2 0-3 1-1 0-5 -1-1 0-3 -2-4 -2-2 -5,0 -2,2 -2,4 0,3 -1,1 -5-3 -5,0 -2,2 0,3 -1,1 0,3 -1,1 1,23 1,1 0,3 1,2 2,1 4,5 0,4 1,1 -1,1 -4-1 -1-1 -3,0 -1-1 -6,0 -4-3 -11,0 -5,3 -5-4 -9,0 -4,3 0,1 2,2 2,1 9,0 3-2 1,1 0,3 2,3 0,2 -1,1 -2-2 0-1 -2-1 -10,0 -2-2 -1,0 -3-4 0-5 5-6 2-1 9,0 6,4 3,0 1-1 4,0 1-1 2,0 2-3 0-4 -1-1 0-7 -3-2 0-13 -1-2 0,2 -1,1 0,13 -3,2 -6-1 -5-6 0-5 1-2 8-8 5-8 -3-2 0-10 -1-2 -2-2 -1,0 -3,4 -2-1 0-5 -1-1 0-19 -1-1 0-3 -2-2 -2,3 0,4 -2,2 -1-1 0-4 -2-3 -1,1 0,3 -1,1 0,19 1,1 0,2 2,1 0-2 1-1 0-4 1-1 2,3 0,4 1,1 0,2 -4,6 0,13 -1,1 0,4 -1,1 -1,4 -1,1 -1-1 -1-4 -2-3 -3,0 -2,3 -2-1 0-6 1-1 0-15 -1-1 0-7 2-1 1,1 0,2 2,2 2,0 2-3 0-10 -2-3 -2,0 -2,2 0,2 -2,2 -1-1 0-3 -1-1 -2,3 0,7 -1,1 -1-1 0-8 -1-2 -2-2 -1,0 -3,4 0,2 -1,1 0,4 2,4 2,2 1,0 2-2 1,1 0,4 -1,1 0,10 -1,1 1,10 -2,2 -2,0 -5,3 -4,4 -5,0 -8,4 -5,0 -3,2 -3,5 -2,1 -5,0 -1-1 0-3 1-1 0-7 1-1 3,0 4-3 8,3 2-2 0-6 -6-12 -4-4 0-1 -8-7 0-4 2-1 0-2 1-1 0-18 -1-1 0-2 -1,1 0,3 -1,1 0,15 -1,1 -1-2 -4-3 0-10 -3-6 -2,2 0,2 -1,1 0,17 -1,1 0,8 -1,1 -2-1 0,111 -2,1 -1,2zM860,90l0,8 0-2 1-1 0-4zM271,89l-2,4 0,5 1,1 0,2 2,1 2-4 0-5 -1-1 0-2zM966,88l0,13 1,0 0-13zM417,88l-3,0 -2,2 -1,4 -1,1 0,9 3,6 -3,2 0,3 -1,1 0,13 1,1 0,3 1,1 1,0 2-3 0-7 1-1 -1-2 0-7 -1-2 1-1 3,0 2-2 1-4 1-1 0-9 -1-1 -1-4zM390,82l-1,1 0,10 1,2 0-2 1-1zM546,80l0,14 0-5 1-1 -1-1zM112,80l0,2 -1,1 0,5 1,1 0,2 1,0 1-1 0-9zM429,79l-2,4 0,5 1,1 0,2 2,1 2-4 0-5 -1-1 0-2zM1108,76l0,5 1-1zM816,76l0,27 1,1 0,11 1-1 0-12 -1-1 0-20 -1-1zM1071,73l-1,2 0,9 1,2 1,0 1-2 0-9 -1-2zM457,71l-1,1 0,7 2,1 1-1 0-7zM227,70l-1,1 0,3 -1,1 0,13 1,1 0,3 2,1 1-1 0-3 1-1 0-13 -1-1 0-3zM790,69l0,2 -1,1 0,16 1,1 0,2 0-5 1-1 0-11 -1-1zM696,67l-2,4 0,13 2,4 0,10 1,1 1-1 0-12 1-1 0-3 1-1 0-7 -1-1 0-3 -1-2zM681,67l0,5 -1,1 0,22 1,0zM374,64l-1,1 0,9 2,1 1-1 0-9zM141,63l-1,1 0,11 2,1 1-1 0-11zM301,59l-2,3 0,11 1,2 2,1 2-3 0-11 -1-2zM355,58l-1,1 0,3 -1,1 0,5 1,1 0,3 2,1 1-1 0-3 1-1 0-5 -1-1 0-3zM7,55l-1,0 -1,2 0,7 -1,1 0,9 1,1 1,15 0-5 2-3 0-7 1-1 0-9 -1-1 0-7zM428,49l-1,2 0,19 1,1 0-8 1-1 0-2 -1-1zM573,48l0,3 -1,1 0,23 -1,1 -2-1 -2,4 0,5 -1,1 0,5 1,1 0,8 -1,1 0,3 -1,1 0,9 -2,3 0,14 1,1 0,4 1,2 1,0 1-1 0-3 1-1 4,3 0,3 -1,1 -2,0 -3,3 0,2 -2,4 0,3 -4,4 -2,1 -8-1 -1-1 -5,0 -1,1 1,2 4,0 5,4 1,0 2,2 0,5 1,2 4,3 3-1 6-7 3,3 5,0 2-2 1,1 0,7 -7,5 2,4 3,3 0,2 1,1 0,4 -3,4 -5,2 0,1 1,1 3,0 1,1 5,1 6,3 3,0 1,2 4,1 1,1 6,0 1,1 22,0 10,5 3,0 1,1 32,0 4,2 7,0 1-1 10,0 6-3 3-5 0-5 -3-5 1-1 2,0 2-2 0-2 1-1 -1-4 -2-2 -2,0 -1-1 -4,1 -2,2 0,2 -2,3 -4-7 -1,0 -6-7 0-8 3-4 -2-2 -6,4 -4,0 -1-1 0-1 6-5 0-1 7-8 1,1 0,4 1,1 0,7 1-8 1-1 0-4 1-1 0-9 1-1 4,2 2-1 2-3 -1-3 -3-2 0-5 1-1 -1-1 0-6 -2-2 -2,4 0,9 -1,1 -2,0 -1-1 0-8 -2-4 -2,0 -1-1 0-9 -1-1 -1-4 -2-2 -3,0 -2,2 -1,4 -1,1 -1,19 1,2 3-6 1,1 3,0 1-1 1,1 0,4 1,1 0,3 1,1 -5,4 -1,0 -10,12 -3-7 -2-1 -11-11 1-1 0-18 -1-2 -1,0 0,2 -1,1 0,14 -1,1 -1-1 -3,0 -1,1 -1-1 0-15 -1-1 0-2 -1,0 -1,2 0,4 -1,1 0,11 1,1 0,4 2,2 -2,4 -5,5 -3,0 -1-1 0,3 1,1 0,5 -1,1 -1,6 -7,8 -3,0 -1-1 -5,0 -1,1 -2,0 -3,3 -2,0 0,2 2,2 4,8 -1,2 -9,0 -1,1 -4,0 -3,3 -1,2 0,3 -1,1 -2-2 -1-4 -1-1 -2-11 2-2 0-2 2-3 1,1 2,0 2-1 3-4 0-5 -1-1 0-2 3-5 1-8 -2-3 -5-3 1-4 1-1 0-15 -1-1 0-2 -2-1 -1,2 0,3 -2,3 -3-3 -3,0 -1-1 0-8 3-3 0-7 -6-7 -2,0 -1-1 0-3 1-1 0-39 -1-1 0-3zM415,48l-1,1 0,9 2,1 1-1 0-9zM289,47l-1,2 0,3 -1,1 0,9 1,1 0,3 1,2 1,0 1-2 0-3 1-1 0-9 -1-1 0-3 -1-2zM228,45l0,8 0-3 1-1zM919,42l0,6 -1,1 0,12 1,1zM944,35l-1,1 0,24 1,1 0-4 1-1 0-17 -1-1zM460,34l0,18 0-6 1-1 0-2 -1-1zM422,32l-1,0 0,11 -1,1 0,12 1,2 0-5 1-1zM957,31l0,2 -1,1 0,11 1,1 0,3zM750,31l0,17 0-4 1-1 -1-2zM79,29l-1,1 0,18 1,0zM362,28l-1,24 1,1 0,7 1,2 0-31 -1-1zM700,27l0,6 -1,1 0,9 1,1 0,3zM813,25l-1,2 0,16 1,1z"/>
<path fill="#525252" d="M30,230l1-1 4,0 1,1 -1,1 -4,0zM871,228l1-1 2,1 -1,1zM1233,214l1-1 4,0 1,1 -1,1 -4,0zM1207,206l3-3 6-3 10,0 4,2 2,2 1,2 -1,6 1,1 -1,1 -2,0 -1-1 -3,0 -4-2 -11-2 -1-1 -2,0zM696,199l1-1 2,1 -1,1zM97,190l0,3 3,3 0,3 1,2 4,3 6,1 1,1 11,0 1-1 6-1 2-2 1,1 0,3 1,0 2,2 2,0 4,2 11,0 5-3 2,0 4-2 2-2 0-4 -3-7 -3-4 -4-2 -4,2 -5,1 -1,1 -4,0 -1-1 -2,0 -4-3 -1,1 0,5 -1,1 -6-3 -3,0 -1-1 -6,0 -3-3 -2,0 -1-1 -7,0 -1,1 -2,0zM412,184l1-1 2,1 -1,1zM81,186l0,3 4,1 1,1 3,0 1-1 4-1 0-3 -4-1 -1-1 -3,0 -1,1zM409,183l1-1 1,1 -1,1zM456,182l2-4 4,0 1,1 6,1 6,3 2,2 0,1 -10,6 -4,0 -4-3 0-1 -2-2zM17,182l1,0 2-2 12-3 2,2 2,1 3,0 1,1 12,0 6,3 2,2 9,4 2,2 1,2 0,18 -2,4 -9,11 0,2 3,3 0,1 -2,2 -7,0 -4-4 -11,0 -1-1 2-1 0-2 -3-2 -2,0 -1,1 -4,0 -4-3 -2,0 -7-3 -3-3 -3-5 -1-6 -1-1 0-3 -1-1 0-9 1-1 0-2zM580,177l-3,2 0,3 3,3 0,1 2,1 1-2 -1-1 0-5zM638,172l1-1 1,1 -1,1zM158,169l-2,1 -1,2 0,3 1,2 2,1 3,0 2-1 1-2 0-3 -1-2 -2-1zM1147,179l0,3 3,3 4,2 9,0 2,2 5,0 1-1 11,0 0-3 -1-1 -1-6 -1-1 -1-4 -8-4 -2-2 -4,0 -1,4 -2,3 -7,0 -4,2zM1120,171l-2-2 -4,0 -2-2 -2,0 -1-1 -7,4 -6,1 -1,1 -3,0 -4,3 -7,1 -3,2 0,3 3,2 3,0 1,1 0,3 2,2 14,1 7-6 6-3 4-1 2-3zM212,165l-2,1 -1,2 0,3 1,2 2,1 3,0 2-1 1-2 0-3 -1-2 -2-1zM937,165l-2,2 0,9 2,2 2,0 1,1 5,0 1,1 1-1 2,0 1-1 0-3 1-1 0-7 1-2 -2-2 -6,0 -1,1zM273,158l6,2 4,4 1,0 6,6 1,6 -1,1 -1,5 -3,6 -2,2 -4,0 -1,1 -8,1 -9-7 -3-6 0-5 4-3 0-2 1-1 -1-3 3-3zM895,157l-1,1 0,7 -2,2 0,5 2,2 0,8 3-3 1,0 3-4 5,0 5-3 0-5 -5-3 -5,0 -2-2 -2-4zM982,155l-1,1 0,2 1,1zM485,154l0,3 2,1 5,0 2-1 0-3 -2-1 -5,0zM189,153l-1,1 0,4 1,1zM1200,150l-1,2 0,15 1,2 1,0 1-2 0-15 -1-2zM1189,150l-1,1 0,7 1,1 1-1 0-7zM1057,150l-2,4 0,4 1,1 0,2 2,1 1-2 0-8 -1-2zM1031,148l-1,1 0,9 1,0 1-2 0-6zM1155,147l-1,2 0,17 1,2 1,0 1-2 0-17 -1-2zM1095,147l-1,1 0,5 -1,1 1,2 0,5 1,1 1-1 0-5 1-1 -1-2 0-5zM901,147l-1,1 0,5 2,0 1-2zM170,147l-2,3 -1,7 1,1 0,3 2,3 3,0 2-3 1-7 -1-1 0-3 -2-3zM1167,146l-1,1 0,8 1,1 1-2 0-6zM1144,144l-1,2 0,12 1,1 0,2 1,0 0-2 1-1 0-12 -1-2zM1221,143l0,3 -1,1 0,10 1,1 0,3 1,0 1-2 0-14 -1-2zM1116,142l-1,0 -2,3 0,14 2,4 2-3 0-5 1-1 0-4 -1-1 0-5zM576,140l3,0 2,2 0,3 1,1 0,4 -1,1 1,12 -1,1 -2-4 -4-2 0-17zM872,139l-1,1 0,3 1,1 3,0 1-1 0-3 -1-1zM842,139l-1,1 0,3 1,1 3,0 1-1 0-3 -1-1zM782,139l-1,1 0,3 1,1 3,0 1-1 0-3 -1-1zM752,139l-1,1 0,3 1,1 3,0 1-1 0-3 -1-1zM722,139l-1,1 0,3 1,1 3,0 1-1 0-3 -1-1zM737,137l-4,0 -2,2 0,1 2,2 0,11 0-10 1-1 1,1 3,0 3-2 0-1zM760,135l-1,2 2,1 0-3zM1120,134l0,3 -1,1 0,5 1,1 0,15 1,1 0,6 1,1 0-3 1-1 0-13 -1-1 0-10 -1-1 0-3zM932,134l0,3 -1,1 1,8 1-1 0-10zM147,134l-5,0 -2,2 -1,4 -1,1 0,7 -1,1 -2-4 -4-3 -2,0 -4,5 0,3 -1,1 0,12 1,1 0,8 1,1 1,4 4,3 2-1 2-5 3-4 5-3 9,0 2-1 1-2 0-4 -1-2 -2-1 -3,0 -1-1 3-6 0-9 -1-1 -1-4zM233,133l-2,3 0,3 -1,1 0,7 1,1 0,3 1,2 2,1 2-3 0-3 1-1 0-7 -1-1 0-3 -1-2zM515,132l-3,2 -1,4 1,1 0,2 4,2 3-2 1-4 -1-1 0-2zM14,130l2,2 1,4 -1,2 -4,3 -1-1 0-4zM950,130l0,5 -1,1 1,1 0,5 1-1 0-10zM768,130l-2,2 0,3 2,2 3,0 2-2 0-3 -2-2zM525,130l-1,1 0,5 1,1 1-1 0-5zM490,129l-1,1 0,6 1,1 0-2 1-1zM660,128l-1,1 0,7 2,1 1-1 0-7zM536,128l-1,1 0,7 2,1 1-1 0-7zM956,127l-1,1 0,4 -1,1 0,11 1,1 0,3 1,1 1-2 0-17 -1-1zM598,127l-2,2 0,7 1,2 1,0 2-3 0-5zM498,127l0,2 -1,1 0,4 1,1 0,2 1,0 0-2 1-1 0-5 -1-2zM458,126l-1,1 0,3 1,1zM467,125l-1,0 -1,2 0,6 1,2 2-3 0-4 -1-1zM871,124l-1,1 0,3 -1,1 1,1 0,3 1,2 2,0 2-3 0-6 -1-2zM692,123l-1,4 -1,1 0,6 1,1 0,3 1,1 -1,1 0,3 1,1 3,0 1-1 0-3 -3-2 1-1 0-11zM509,123l-1,2 0,7 1,2 1,0 0-2 1-1 0-5 -1-1 0-2zM821,122l-2,1 -1,2 0,5 2,3 1,0 2-2 0-6zM215,122l0,6 1-1 0-4zM750,121l-1,2 0,5 2,1 1-1 0-5 -1-2zM606,121l-1,1 0,4 -1,1 0,2 1,1 0,4 2,1 1-1 0-11 -1-2zM311,121l-2,3 0,9 2,2 1,0 1-2 0-10zM544,120l-1,1 0,14 -1,1 0,3 1,2 2,2 1,0 3-4 0-3 -4-5 0-10zM329,120l-2,3 0,9 1,2 2,1 2-3 0-9 -1-2zM906,119l0,2 -1,1 0,9 1,1 0,2 1-1 0-13zM692,168l1,2 7,7 0,2 4,3 8,0 1,1 67,0 1-1 29,0 1,1 -1,1 -1,4 1,1 0,2 3,2 4-2 0-2 1-1 -1-4 1-1 4-1 1-1 5,0 4,2 2,2 1,3 3,4 0,10 -2,4 -2,2 -2,0 -4,3 0,1 4,3 3,0 2-1 4-4 9,0 1-1 7,0 1-1 2,0 1-1 -4-4 1-1 -1-3 -1-1 -2,0 -3-3 0-1 1-1 0-2 5-6 4-1 1-1 5,1 3,3 -2,2 -1,3 1,2 4,3 0,3 1,1 1-1 3,0 1-1 4,0 5,4 0,3 -1,1 -1,0 -1-2 -3,0 -1,4 -1,1 0,3 1,1 1,4 3,0 1-4 1-1 1,1 0,4 -1,2 -5,5 -7,3 -2-1 1-2 -3-2 -3,0 -1-1 -7,0 -1,1 -3,0 -3,2 0,1 3,2 3,0 1,1 7,0 1-1 2,0 1,1 -3,2 -3,0 -1,1 -11,0 -1-1 -5,0 -1-1 -5,0 -1-1 -2,0 -6-5 -4-8 -3-3 -4-2 -1,1 0,7 -3,2 -4,1 0,3 4,1 1,1 3,0 1,1 0,6 1,1 0,2 -3,2 -1,3 1,2 5,4 0,5 1,2 2,0 1-1 23,0 1,1 10,0 1-1 6,0 1,1 13,0 1-1 3,0 0-34 1-1 4,3 25,0 1-1 20,0 1-1 9,0 1-1 19-1 1,1 5,0 1,1 4,0 1,1 3,0 1,1 4,0 1,1 3,0 1,1 5,0 1,1 5,0 1,1 5,0 1,1 6,0 1,1 14,0 1,1 51,0 1-1 9,0 1-1 8,0 1-1 7,0 1-1 20,0 1,1 6,0 1,1 6,0 1,1 21,0 1-1 5,0 1-1 5,0 1-1 8,0 1,1 4,0 1,1 3,0 1,1 3,0 1,1 3,0 1,1 3,0 1,1 4,0 1,1 5,0 1,1 3,0 1,1 0,12 0-5 1-1 0-5 1-1 10,1 1,1 5,0 2-2 0-15 -1-2 -2-1 -5,0 -1-1 1-1 2,0 0-46 -5,0 -3-2 -1,0 -1,2 0,10 -1,1 0,3 -2,3 -3,0 -1-1 -5,0 -1,1 -3-6 -2-2 -1,0 -9,9 0,1 -4,5 -2,1 -8,0 -1-1 -4,0 0,4 -5,6 -6,2 -1,2 -6,1 -1,1 -3,0 -1,1 -5,0 -1-1 -4,0 -1-1 -2,0 -1-1 0-2 1-1 0-7 -4-2 -5,0 -5,3 -2,0 -4,2 -20-1 -6,6 -3,0 -1,1 -8,0 -1,1 -2,0 -5-3 -4-5 -1,1 0,6 -2,2 -19,0 -2-2 0-6 -3-2 -7,0 -3,3 0,5 -1,1 -15,0 -1-1 -8,0 -2-2 0-5 -3-3 -8,0 -1,1 -4,0 -1,1 -7,0 -1-1 -3,0 -6-3 -2,0 -2-2 -3-1 -2-2 -4-2 -2,1 -2,4 -6,5 -6,0 -1,1 -4,0 -1,1 -8,0 -1,1 -7,0 -1-1 -7-1 -4-2 -4,0 -1,1 -6,0 -1,1 -2,0 -1-1 -4,0 -4-3 0,5 -5,4 -1-1 0-56 0,1 -6,7 0,1 -7,5 -5,0 -10-9 -6,0 0,1 -3,3 -5,3 -6,0 -1-1 -2,0 -2-2 -1,0 -3-4 -1-4 -1-1 0-4 -1-1 1-1 0-5 1-1 1,2 1,0 2-2 0-2 1-1 0-5 -1-1 0-3 -2-2 -2,2 0,2 -3,5 0,7 -1,1 -6,0 -4-2 -1,1 0,3 -4,2 0,3 4,2 0,4 -1,1 0,2 -4,5 0,2 -2,4 -7-2 -1-1 -4,0 -3-3 0-2 -1-1 -2-7 -2-1 -1,2 1,1 0,8 1,2 -4,2 -6,0 -1,1 -22,0 -2-2 -2,0 -2,2 -14,0 -1-1 -2,1 -17,0 -2-2 -4-8 -1-4 -2-2 -1,0 -4,4 -3,7 -4,5zM554,119l-2,3 0,5 -1,1 0,2 1,1 0,4 1,2 2,1 2-3 0-13 -1-2zM238,119l-1,1 0,9 1,1 1-1 0-9zM840,118l-1,2 0,12 1,2 3,0 1-2 0-5 -2-3 0-4 -1-2zM590,118l0,2 -1,1 0,15 2,3 1-2 0-3 1-1 0-9 -1-1 0-3 -1-2zM422,118l-1,1 0,9 1,1 1-1 0-9zM858,117l-1,1 0,3 -1,1 0,9 2,3 2,0 1-2 0-12 -1-1 0-2zM648,117l0,3 -1,1 0,8 1,1 0,3 -1,1 -3-2 -2,1 -1,4 -1,1 0,7 4,2 6,0 4,2 6,9 2-1 1,1 -3,7 0,6 2,3 0,2 -1,1 -1-1 -3,1 -2,2 -1,3 1,2 4,3 3-1 2-2 1,1 0,7 -1,1 0,3 -1,1 -3,0 -1-1 -6,0 -2-3 0-13 -1-2 -3-2 -3,0 -5-3 1-1 4,1 1-1 4-1 1-1 0-5 -3-2 -4-1 -1,1 -4,1 -2,4 -2-3 0-15 -1-1 0,10 -5,4 -3,5 -5,4 -4-2 -5,0 -5,4 0,3 3,3 2,4 5-3 3,0 7,4 2,0 6-3 4,0 1,1 2,0 4,4 0,6 -2,2 -6,0 -1-1 -8,0 -9-5 -3,0 -1-1 -19,0 -1,1 -2,0 -3,5 0,9 2,4 3,2 5,0 1,1 23,0 1,1 3,0 10,5 9,0 1,1 16,0 1-1 8,0 2,2 19-1 4-2 4-5 0-5 -4-5 4-2 2-2 1-2 -1-3 -4-3 -3,1 -3,4 1,3 2,2 -1,1 -3-1 -2-2 -3-6 -5-4 -3-5 0-10 -2,1 -7,0 -2-2 10-9 0-1 3-3 3-5 1,1 0,12 0-2 1-1 0-4 1-1 0-6 1-1 0-12 -4-2 0-3 1-1 -1-2 0-4 -2-2 -1,0 -2,3 0,8 2,3 -5,3 -7,7 0,1 -7,9 -1-1 0-6 -8-7 0-1 -7-9 2-1 0-2 1-1 0-10 -1-1 0-2zM433,117l-2,4 0,7 2,4 2-4 0-7zM356,117l-1,0 -2,3 0,11 2,3 2-2 0-5 1-1zM323,117l0,2 -1,1 0,9 1,2 1,0 0-2 1-1 0-8zM766,116l0,4 1,0 0-4zM702,116l-1,1 0,3 -1,1 0,7 1,1 0,4 2,1 0-2 1-1 0-12 -1-1 0-2zM638,116l-1,2 0,15 1,2 1,0 0-3 1-1 0-12 -1-1 0-2zM226,116l-1,0 0,7 1-1zM965,115l-1,1 0,3 -1,1 0,7 1,1 0,23 1,1 0,2 1,0 0-2 1-1 0-23 1-1 0-7 -1-1 0-3zM848,115l0,3 -1,1 0,10 1,1 0,2 3,3 2-3 0-8 -1-2 -2,0 -1,1 -1-1zM794,115l-1,1 -1,7 1,1 0,3 2,1 1-1 0-11zM725,115l-1,2 0,8 1,1 -4,3 0,5 3,2 4,1 6-3 0-5 -8-4 1-5 -1-1 0-4zM136,115l-1,1 1,2zM781,114l-2,3 0,10 1,2 2,1 1-2 0-12 -1-2zM628,114l-1,2 0,3 -1,1 0,11 1,1 0,3 2,2 1-4 1-1 0-13 -1-1 0-3zM384,114l-1,4 -1,1 0,10 1,1 0,3 2,1 2-3 0-14 -1-2zM275,114l-1,1 0,16 1,1 0-2 1-1 0-12 -1-1zM199,114l-2,4 0,8 1,1 0,2 2,1 2-3 0-10 -1-2zM1074,113l0,5 -1,1 0,13 2,4 -1,1 0,5 1,2 1,0 1-2 0-5 -1-2 -2-1 1-1 0-19zM737,113l-1,2 0,13 1,2 1,0 1-1 0-4 1-1 0-5 -1-1 0-3 -1-2zM614,113l-1,1 0,4 -1,2 1,1 0,4 3,2 0,10 1,2 1,0 2-4 0-7 -1-1 0-2 -1-1 -1,1 -1-1 0-3 1-2 -1-1 0-4zM411,113l-1,2 0,4 -1,1 0,5 1,1 0,4 1,2 1,0 1-1 0-3 1-1 0-9 -1-1 0-3zM348,113l-1,0 0,2 -1,1 0,10 -3,2 0,18 2-4 1-8 1-1 1,1 1-2 0-5 1-1 -1-12zM281,113l0,2 -1,1 0,13 1,1 0,2 1-1 0-3 1-1 0-9 -1-1 0-3zM337,112l-1,4 -1,1 0,12 1,1 0,2 2,1 1-1 0-3 1-1 0-11 -1-1 -1-4zM254,112l-3,0 -4,2 0,2 -1,1 0,15 1,1 1,4 2,2 0,14 1,1 0,18 -1,1 0,3 -1,2 -3,3 -1,0 -3-3 0-2 -1-1 0-5 -1-1 0-5 -2-3 -3,0 -1-1 -2,0 -2,2 0,3 -2,2 -2-2 -1,0 -2,2 0,7 -5,4 0,2 7,6 1,4 1,1 0,3 1,1 3,0 1,1 -3,2 -17,0 -1,1 -2-1 -4-4 -3-6 4-3 0-3 -2-2 -4-1 -2-3 0-5 1-1 0-2 3-3 4-2 9-10 2-1 3,0 1-1 4,0 0-6 -3-4 -4-1 -5,3 -5,0 -3-2 -1-4 -1,1 0,3 -1,1 -5-5 -1,0 -1,2 5,11 0,15 -1,2 -5,3 -4,0 -11-5 -2,1 -2,3 1,6 2,2 6,3 6,6 1,4 1,1 0,10 1,2 2,2 6,3 4,1 2,2 0,3 1,2 2,2 4,1 1,1 -1,4 2,0 1-1 0-2 2-2 10,0 1,1 10,1 1-1 4,0 4-2 5,0 1-1 4,0 1,1 2,0 1-1 1,1 3,0 1,1 8,0 1,1 4,0 1-1 0-2 -3-2 -2,1 -3,0 -1-1 1-1 5-1 4-2 2-2 9-4 2-4 0-6 1-1 2,0 3-3 7-13 1-4 -8,0 -2-1 -6-7 0-14 1-1 -1-6 -1-1 -2,0 -4,2 -11,1 -4-4 0-2 1-1 -1-3 -5-4 1-6 -1-1 0-3 -1-1 -2,0 -2,4 0,5 2,4 -1,3 -1,1 -8,0 -1-1 2-2 0-2 1-1 0-4 1-1 0-5 -1-1 0-4 -1-1zM802,111l-2,4 0,5 1,1 0,2 1,1 2-1 1,1 0,2 1,0 0-15 -2,1zM405,111l-1,1 0,3 -1,1 0,10 1,1 0,4 1,1 1-1 0-3 1-1 0-11 -1-1 0-3zM393,111l-2,2 0,3 -1,1 0,11 1,1 0,3 2,2 -2,3 1,1 0,7 1,2 2,2 9-1 1,1 6,0 1,1 2,0 1,1 0,5 1,1 0,2 1,2 2,2 1,0 3-4 0-2 1-1 0-4 2-2 2,0 4-3 0-2 1-1 0-5 -2-3 -2,1 -6,5 -4-2 -3,4 -7,0 -3-2 -4,0 -2-1 -7-7 1-4 1-1 0-14zM377,111l-2,3 0,4 -1,1 0,7 1,1 0,5 1,2 2-1 0-2 1-1 0-15zM362,111l-1,2 0,6 -1,1 0,3 1,1 0,6 1,2 1,0 1-1 0-4 1-1 2,3 0,4 1,1 1-1 0-3 1-1 0-8 -1-1 0-3 -1-1 -1,1 0,4 -1,1 -1-1 -1-9zM489,110l-2,3 0,5 1,2 2,1 2-3 0-5 -1-2zM108,110l-1,1 0,7 2,1 1-1 0-7zM716,109l-1,0 -1,2 0,17 1,2 1-1 0-3 1-1 0-12 -1-1zM102,109l-1,1 0,5 1,1 1-2 0-4zM676,107l-3,1 -2,4 0,11 1,1 -2,1 0,4 1,0 0-3 1-1 1,2 3,1 2-1 2-4 0-11 -2-4zM524,106l-2,3 0,5 1,2 2,1 2-3 0-5 -1-2zM182,105l0,2 -1,1 0,16 1,1 0,2 2-4 0-14zM173,105l-1,2 0,13 1,2 1,0 0-6 1-1 0-3 -1-1 0-5zM75,105l-2,3 0,8 2,3 2,0 2-4 0-5 -1-1 0-2 -2-2zM60,105l-1,4 -1,1 0,4 2,4 3,0 1-4 1-1 0-3 -1-1 -1-4zM291,104l-2,3 0,5 3,4 0,13 2,3 1-1 0-2 1-1 0-13 2-3 4,5 0,5 -1,2 1,1 0,5 1,0 1-1 0-11 4-4 0-5 -3-3 -3,0 -3,3 -3-5zM193,104l0,3 -1,1 0,18 1,1 0,2 1,0 0-2 1-1 0-19 -1-1 0-2zM125,104l-1,2 0,12 1,1 1-1 0-3 1-1 0-5 -1-1 0-3zM49,104l-2,1 -1,4 -1,1 -1-1 0-3 -1-1 -2,1 0,9 1,2 2-1 0-3 1-1 1,1 1,5 2,0 1-2 0-9 -1-1zM33,103l0,8 1,0 1-1 0-6zM114,102l-1,1 0,13 1,0 1-2 0-9 -1-1zM478,101l0,15 2,4 0,2 -1,1 0,11 1,2 1-1 0-14 -2-2 0-15 -1-1zM161,100l-1,1 -1,13 -1,1 -2,0 -2-3 0,5 1,1 -1,2 0,3 1,1 0,4 2,2 3,0 2-2 -1-4 1-1 0-3 1-1 0-14 -1-1 0-3zM147,100l-1,0 0,2 -1,1 0,17 1,1 0,2 1-1 0-3 1-1 0-14 -1-1zM210,98l-2,1 0,4 -1,1 0,3 1,2 -2,3 0,11 1,1 0,2 1,0 0-2 1-1 0-9 2-2 0-4 1-1 -1-8zM345,97l-1,1 0,4 -1,2 1,1 0,4 2,1 1-1 0-4 1-2 -1-1 0-4zM21,95l-1,12 1,1 0,6 1,0 0-3 1-1 0-11 -1-1 0-3zM83,94l-1,2 0,3 -1,1 0,12 1,1 0,4 1,1 2-3 0-18zM762,93l0,2 -1,1 0,29 0-2 1-1 0-10 1-1 0-15 -1-1zM1,248l2,3 6,0 4,3 5,0 2-1 2-3 3,0 3,5 24,0 3-5 6,0 4,5 76,0 1-1 41,0 1-1 34-1 2-1 0-1 2-2 2,0 1-1 9,0 1,1 2,0 7,9 11-1 1-1 4,0 1-1 9,0 1,1 5,0 1,1 5,0 1,1 11-1 4-2 7,0 1,1 3,0 1,1 6,0 2-2 0-3 -1-1 1-1 48,0 1,1 0,2 2,2 3,0 1,1 3,0 1,1 4,0 1-1 8,0 1,1 6,0 1,1 6,0 1-1 3,0 2-1 3-6 13,0 2,4 3,0 1-1 -1-2 1-1 4,0 1,1 -1,1 0,2 7,2 0-20 0,7 -2,4 -29,0 -1-1 0-4 -1-1 1-1 3,0 2-1 2-2 0-2 1-1 0-7 -4-5 -3,0 -1-1 -6,0 -1-1 -5,0 -2-1 -4-5 -2,0 -3,4 -4,0 -1-1 -8,0 -1-1 -14,0 -1-1 -7,0 -4-3 -1-2 0-3 4-4 1,0 4-5 5,0 1,1 9,0 1,1 8,0 1,1 6,0 1,1 5,0 1,1 4,0 1,1 4,0 1,1 4,0 1,1 9,1 1,1 8,2 6,3 2,2 0,6 1,1 0,2 2,2 3,0 2-2 1-5 1-1 3,0 2-2 0-2 1-1 0-5 -1-1 -1-4 -2-2 -2,0 -2-2 0-26 1-1 1,1 0,2 5,4 0,17 11,0 1-1 5,0 6,3 5,0 1-1 2,0 4-3 8,7 4,2 4,0 1,1 4,0 1-1 3,0 1-1 3,0 1-1 4,0 1,1 3,0 4,2 6,0 1-1 2,0 6-3 8-6 2,2 3-1 0-4 3-4 0-3 1-2 -1-1 0-3 -3-3 -2,0 -1,1 -4,0 -1,1 -2,0 -3,2 -2,0 -3,2 -2,0 -4,2 -3,0 -1,1 -5,0 -2,1 -1-1 0-3 1-2 7-7 0-13 1-1 0-5 -1-2 -2-1 -2,2 -2,5 -3,3 -10,0 -4,2 -2,2 0,5 4,3 -3,6 1,3 -1,1 -7-1 -7-4 -9-8 0-1 2-2 0-3 -1-1 0-3 -2-3 0-2 -2-3 -6-3 -5,0 -1-1 -3,0 -2,1 -2-4 -4-3 -3,1 -3,4 2,5 -5,5 0,2 -2,1 -1,2 0,5 -1,1 0,7 -1,1 0,3 -3,5 -4,3 -2,0 -3-3 -2-7 -3-4 -4,0 -4,2 -6,1 -2,2 0,4 2,2 -1,1 -2,0 -4-2 -3,0 -1-1 -3,0 -1-1 -3,0 -1-1 -6,0 -1-1 -2,0 -6-7 -6-3 -2,1 -2,3 1,2 0,2 -1,1 -3,0 -1,1 -5,0 -2,1 -3-3 -2,0 -4-2 -2-2 -13-8 -3-3 1-1 1-6 1-1 0-3 -1-1 -1-6 -6-6 0-1 -4,0 -4,2 -5,5 -1,6 -1,1 1,7 1,1 0,2 4,4 0,3 3,3 7,4 17,14 -1,1 0,3 -1,1 0,11 -1,1 -1,4 -7,7 -4,2 -3,0 -1,1 -5,0 -1-1 -5-1 -3-2 -3,0 -2,2 0,2 1,1 0,4 1,2 3,0 1,1 3,0 3,2 3,0 1,1 -1,1 0,4 1,1 0,2 2,2 19,0 1-1 29,0 1,1 0,4 -2,3 -66,0 -1-1 2-1 1-2 4,2 4-2 1-2 0-6 -3-4 -3,0 -3,3 -3-2 -3,1 -2-2 -3,0 -1,1 -12,0 -1,1 -11,0 -1,1 -32,0 -1,1 -9,0 -2-1 -2-2 -1-3 -2-1 -34,0 -1,1 -27,0 -1,1 -26,0 -1,1 -13,0 -1-1 3-2 0-2 -1-1 -7,0 -1,1 -3,0 -1,1 -8,0 -6-3 -5-6 0-6 10-9 0-2 -3-3 -8,0 -4-2 -5-5 0-6 1-2 4-4 4-2 10,0 5,3 6,0 1-1 3,0 2-3 -1-10 -2-1 0-12 -1-1 0-2 0,3 -1,1 0,8 1,1 0,2 -1,1 -2,0 -1,1 -4,0 -4-2 -4-5 0-7 11-13 0-4 -1-2 2-4 0-3 -1-1 -1-4 -3,0 -2,7 -1,1 -1-1 0-7 -1-1 0-3 -1-1 0-3 1-1 0-11 -1-1 0-4 -2-3 -2,3 0,6 -1,1 1,14 2,3 -1,1 0,5 -3,3 0,12 -1,1 0,5 -1,1 -1,5 -3,3 -1-1 0-5 -2-4 -3,0 -1,3 -2,1 -3-5 2-4 0-19 -1-1 0-2 1-1 0-11 -1-1 -2,4 0,5 1,1 -3,6 0,19 1,1 0,4 -1,1 -3,0 -6,3 -6,5 -4,0 -1,1 -4,1 -2,2 -6,1 -7,7 -6,0 -2-2 0-3 1-1 0-8 1-1 1,1 4-1 3-4 4,3 4,0 1-1 0-5 -4-9 -5-6 0-1 -9-7 0-7 -2-4 -3-2 0-8 -1-1 0-3 -1-2 -2-1 -1,2 0,3 -1,1 0,11 1,1 0,2 -1,1 0,9 1,1 -1,1 -4-1 0,107 2,0 4,2 -4,2 -4,0 -1,2zM639,92l-1,2 0,3 1,2 1,0 1-2 0-3 -1-2zM271,90l-1,2 0,7 1,2 1,0 1-2 0-7 -1-2zM414,89l-3,5 0,11 3,5 3,0 3-5 0-11 -3-5zM113,82l-1,1 0,5 1,1zM429,80l-1,2 0,7 1,2 1,0 1-2 0-7 -1-2zM1071,75l-1,2 0,5 1,2 1,0 1-2 0-5 -1-2zM457,72l-1,2 0,3 1,2 1,0 1-2 0-3 -1-2zM227,72l-1,2 0,5 -1,1 0,3 1,1 0,5 1,2 1,0 1-2 0-5 1-1 0-3 -1-1 0-5 -1-2zM790,71l0,2 -1,1 0,11 1,1 0,2zM696,68l-1,4 -1,1 0,9 3,6 0,8 1-1 0-10 1-1 0-13 -1-2zM374,65l-1,2 0,5 1,2 1,0 1-2 0-5 -1-2zM141,65l-1,2 0,5 1,2 1,0 1-2 0-5 -1-2zM301,60l-2,3 0,9 1,2 2,1 2-3 0-9 -1-2zM355,59l-1,2 0,9 1,2 1,0 1-2 0-9 -1-2zM7,57l-1,0 0,2 -1,1 0,19 1,1 0,3 2-4 0-19 -1-1zM428,54l0,5 -1,1 1,7zM573,52l0,5 -1,1 0,19 -1,1 -2-1 -2,4 0,13 1,1 0,3 -1,1 -1,8 -1,1 0,6 -2,3 0,7 1,1 0,7 1,1 0,2 1,0 1-4 1-1 4,3 1,6 -1,1 -3,0 -3,3 0,3 -1,1 0,5 -1,1 -1,0 -5,4 -4,0 -1,1 3,3 0,6 4,5 3,0 7-8 2,2 0,1 2,1 3,0 2-1 1-2 1,1 0,5 1,1 0,3 2,1 1-1 0-3 1-1 1,1 4,0 4-5 0-3 -4-5 0-1 3-2 2-4 0-5 -2-2 -3-1 -4-4 0-6 -1-1 1-2 0-5 -1-2 -4-2 -2,1 -2,3 -1-1 1-11 1-1 1,1 0,5 0-6 3-4 0-5 -1-2 -6-6 -2,0 -2-2 0-2 2-1 0-5 1-1 0-27 -1-1 0-5zM415,49l-1,6 1,1 0,2 1,0 1-6 -1-1 0-2zM289,49l-1,2 0,13 1,2 1,0 1-2 0-13 -1-2zM944,37l-1,1 0,20 1,1 0-5 1-1 0-11 -1-1zM79,31l-1,2 0,12 1,0z"/>
<path fill="#595959" d="M308,251l4,3 3-1 0-3 -2-1 -2,0zM443,243l0,2 -3,5 0,1 2,2 1,0zM855,225l1,2 2,0 1,1 9,0 4-2 -1-2 -2,0 -1-1 -9,0zM305,218l0,4 1,1 5,0 1,1 4,0 1-1 -2-2 -2,0 -5-3zM814,223l1,2 2,1 4,0 1,1 0,5 1,1 0,5 1,1 -1,3 2,3 0,6 1,2 4-1 1-1 5,0 1,1 14,0 1,1 12,0 1-1 3,0 1,1 16,0 1-1 2,0 0-32 0,1 -5,5 -6,3 -2,0 -3,2 -2,0 -3,2 -16,0 -1-1 -5,0 -1-1 -6,0 -7-6 -1,0 -4-4 0-1 -4-5 -1,1 0,4 -1,1 -3,0zM830,210l0,3 1,1 5,0 1-1 0-3 -1-1 -5,0zM318,229l0,7 2,2 3,0 1,1 20-1 1-1 25,0 1,1 0,5 -1,1 0,7 1,1 4,1 1,1 14-1 1,1 3,0 1,1 11,0 2-1 3-4 0-3 -1-1 0-5 -1-2 1-1 5,0 3-3 0-2 1-1 0-4 -1-1 0-2 -1-2 -3-2 -13-1 -1-1 -4,0 -2-2 -7,1 -1-1 -7,0 -1-1 -11,0 -1-1 -17,0 -7-7 -1,0 -7,6 -7,4 -3,3 1,2 -4,2zM883,206l-2,3 0,5 1,2 2,1 2-3 0-5 -1-2zM293,191l1-1 1,1 -1,1zM699,189l-3,2 -1,3 2,3 3,1 3-2 1-3 -2-3zM420,187l1-1 1,1 -1,1zM98,190l0,3 4,4 0,3 2,2 7,3 13,0 7-3 2-2 1,1 1,4 3,2 2,0 1,1 13,0 8-4 2-3 -1-2 0-3 -2-4 -5-4 -2,0 -7,3 -7,0 -4-2 -3,6 -2-2 -7-3 -7,0 -5-4 -9,0zM82,187l0,1 3,2 5,0 3-2 0-1 -3-2 -5,0zM663,180l1-1 1,1 -1,1zM158,170l-2,2 0,3 2,2 3,0 2-2 0-3 -2-2zM1148,179l0,3 3,3 2,1 3,0 1,1 5,0 2-1 2,2 6,0 1-1 6,0 1-1 0-5 -1-1 -1-5 -3-3 -5-2 -2-2 -3,0 -3,6 -5,0 -1,1 -3,0zM1119,174l-2-3 -2,0 -4-3 -3,0 -3,2 -2,0 -4,2 -7,1 -3,3 -6,0 -4,2 0,3 4,2 3,0 1,1 0,2 2,2 9,1 1-1 2,0 7-6 8-3 2-2 0-2zM212,166l-2,2 0,3 2,2 3,0 2-2 0-3 -2-2zM949,165l-3-1 -1,1 -3,0 -4,2 -2,3 0,3 1,2 4,3 7,0 1-1 0-3 1-1 0-7zM643,163l-1,1 -2,0 -2,2 0,3 2,2 4,1 1-1 2,0 2-2 0-3 -2-2zM571,160l1-1 1,1 -1,1zM896,159l-2,0 0,7 -1,1 0,5 1,1 0,8 6-6 4,0 6-3 0-5 -1-1 -4-1 -1-1 -4,0zM592,160l-4-1 -6,3 0,11 1,1 1,0 2-3 4,1 3-2 1-2 0-5zM570,156l1-1 1,1 -1,1zM489,153l-2,1 -1,2 4,2 2-1 1-2zM1200,152l0,3 -1,1 0,7 1,1 0,3 1,0 0-3 1-1 0-7 -1-1 0-3zM633,152l0,12 1-1 0-9zM1057,151l-1,1 0,7 1,2 1-1 0-3 1-1 -1-4zM1155,149l0,2 -1,1 0,11 1,1 0,2 1,0 0-2 1-1 0-11 -1-1 0-2zM901,149l0,3 1-2zM1095,148l-1,1 0,10 1,2 1-2 0-10zM171,148l-2,2 0,2 -1,1 0,5 1,1 0,2 2,2 1,0 2-2 0-2 1-1 0-5 -1-1 0-2 -2-2zM1144,146l0,2 -1,1 0,7 1,1 0,2 1,0 1-8 -1-1 0-4zM1222,144l-1,1 0,14 1,1 0-2 1-1 0-10 -1-1zM1115,143l-1,1 0,3 -1,1 0,8 1,1 0,3 2,1 0-2 1-1 0-12zM430,139l-7,6 -3-3 -1,0 -2,2 -1,2 0,11 3,4 1,0 3-4 0-9 1-1 4,0 2-1 1-2 0-4zM221,144l-2-2 -4,1 -1,1 -8,0 -1-1 0-3 -1-1 -1,1 0,3 -3,3 1,2 1,13 3,0 2-1 6-7 9-5zM694,166l0,3 1,2 4,3 2,6 1,1 6,0 1,1 74,0 1-1 3,0 1-1 18,0 1,1 7,0 1,1 -5,4 0,3 3,3 1,0 3-3 0-3 -3-3 1-1 2,0 4-2 9,0 5,4 0,2 4,4 0,2 1,1 0,9 -1,1 0,4 1,1 13,0 1-1 2,0 1-1 -1-2 2-2 0-1 -3-3 -3,0 -1-1 0-5 1-2 6-6 4-1 1-1 4,0 6,5 -2,1 -2,3 2,4 3,1 2,2 8,0 5,5 -1,2 0,11 4,5 41,0 1-1 10,0 1-1 8,0 1-1 19,0 1,1 4,0 1,1 8,1 1,1 3,0 1,1 10,1 1,1 6,0 1,1 5,0 1,1 8,0 1,1 28,0 1,1 23,0 1-1 11,0 1-1 8,0 1-1 8,0 1-1 8,0 1-1 12,0 1,1 7,0 1,1 14,1 1,1 11,0 1-1 6,0 1-1 5,0 1-1 15,0 1,1 3,0 1,1 3,0 1,1 3,0 1,1 3,0 1,1 4,0 1,1 4,0 1,1 5,0 2,2 0,4 0-4 1-1 3,0 1,1 5,0 1,1 7,0 2-2 0-14 -2-2 -9-1 -1-1 -3,0 -1-1 -11-2 -4-2 -7-1 -4-2 0-1 6-5 2,0 4-2 8,0 1,1 4,1 4,4 0,5 2,2 4,0 1,1 0-44 -4,1 -4-2 -1,2 0,7 -1,1 0,3 -3,5 -2,0 -1-1 -8,0 -2-2 -1-3 -3,0 -7,6 0,1 -4,5 -4,2 -8,0 -1-1 -2,2 -1,3 -6,6 -7,3 -6,1 -1,1 -11,0 -1-1 -3,0 -4-2 1-2 0-6 -4-2 -2,1 -3,0 -4,2 -3,0 -1,1 -14,0 -2-1 -1,1 -3,0 -2,1 -4,4 -7,0 -1,1 -11,0 -3-2 -2,0 0,1 -2,2 -23,0 -2-3 0-4 -3-2 -3,0 -2,1 -1,2 0,4 1,1 -1,1 -9,0 -1-1 -14,0 -1-1 -5,0 -1-1 1-1 0-3 -3-4 -8,0 -1,1 -4,0 -1,1 -7,0 -1-1 -7-1 -3-2 -2,0 -8-4 -2,1 -6,6 -17,1 -1,1 -10,0 -1,1 -7,0 -3-2 -2,0 -4-2 -2,1 -7,0 -1,1 -4,0 -1-1 -3,0 -3-2 0,4 -1,1 -2,0 -2,3 -1-1 0-54 0,1 -10,10 -4,2 -6-1 -4-4 -1,0 -5-4 -3,0 -2,2 -7,4 -6,0 -1-1 -4-1 -5-5 -2-7 -3-4 -2-1 -3,0 -1-1 -2,0 -1,12 -2,4 -3,3 -1,6 -1,1 -1-1 -3,0 -7-3 -9,0 -1,1 -4,0 -1,1 -69,0 -6-12 -1-1 -2,0 -2,2 -1,3 -2,2zM393,139l0,3 2,4 9-1 -3,0 -7-7zM1075,137l0,5 1,0 0-5zM308,147l0,7 1,1 1,4 3,3 0,2 2,4 5,2 18,15 1,0 5,4 -3,5 0,9 1,1 2,0 8-4 3-5 3,2 9,0 1,1 17,1 1,1 5,0 1,1 4,0 1,1 4,0 1,1 4,0 1,1 9,1 1,1 3,0 1,1 5,1 9,5 0,5 3,6 3,0 2-3 0-2 2-2 2,0 3-4 0-8 -4-5 -2,0 -1-1 0-28 1-1 1,1 0,2 5,4 0,16 6,0 2-2 -3-7 0-3 3-4 2,0 1,1 4,0 1,1 2,0 8,4 4,4 -1,1 -3,0 -2,1 -3,3 0,1 2,2 5,0 2-1 3-4 8,8 8,4 9,0 4-2 9,0 1,1 3,0 1,1 8,0 7-3 9-7 5-2 3-5 0-7 -3-3 -8,1 -17,7 -11,1 -1-1 1-5 6-6 1-2 0-14 -1-1 -4,2 -3,3 -2-1 -5,0 -7,3 -1,2 0,3 1,2 1,0 2,2 -2,4 0,4 1,2 -2,1 -1-1 -5,0 -1-1 -2,0 -8-5 -9-8 0-1 2-2 0-3 -2-3 0-5 -3-3 -4-2 -3,0 -1-1 -7,0 -2,1 -1-1 1-1 -1-3 -3-2 -3,1 -2,3 1,3 2,2 -7,6 0,2 -2,4 0,3 -1,1 0,7 -1,1 0,3 -4,7 -4,3 -2,0 -3-2 -2-4 0-2 -2-4 -2-2 -3,0 -4,2 -3,0 -3,2 0,2 2,2 4,2 2,0 4,3 -1,1 -2,0 -4-2 -3,0 -4-2 -3,0 -4-2 -7-1 -1-1 -13-1 -1-1 -2,0 -1-1 0-2 -3-3 -2,0 -2,2 0,2 1,1 -1,1 -9,0 -1,1 -4,1 -3-3 -7-3 -2-2 -6-3 -10-8 3-6 0-7 -1-1 -1-4 -4-4 -2-1 -5,0 -2,1 -4,4 -1,4zM1120,136l0,20 1,1 0,7 1,1 0-22 -1-1 0-5zM233,135l-2,4 0,9 1,1 0,2 2,1 2-4 0-9 -1-1 0-2zM147,135l-5,0 -3,5 -1,7 1,1 0,3 2,3 -1,2 -4-5 -1-3 -3-3 -3,0 -3,4 0,2 -1,1 0,11 1,1 0,7 1,1 0,2 3,3 1,0 9-10 4-2 6,0 2-1 0-4 -2-2 -4,0 -1-1 3-2 2-4 0-3 1-1 -1-7zM644,134l-2,2 0,7 3,2 4,0 1-1 0-3 -2-4 -3-3zM515,133l-3,3 0,3 3,3 1,0 3-3 0-3 -3-3zM965,132l0,2 -1,1 0,13 1,1 0,2 1,0 0-2 1-1 0-13 -1-1 0-2zM525,132l0,3 1,0 0-3zM950,131l0,10 1-1 0-7zM768,131l-1,1 0,3 1,1 3,0 1-1 0-3 -1-1zM489,131l0,4 1,0 0-4zM96,131l1-1 1,1 -1,1zM536,130l-1,1 0,3 2,1 1-3 -1-2zM956,129l-1,1 0,16 1,1 0-2 1-1 0-11 -1-1zM660,129l-1,2 0,3 1,2 1,0 1-4 -1-1 0-2zM344,129l-1,1 0,14 2-4 0-10zM11,128l3,0 2,2 0,2 2,3 -4,8 -3,0 -1-1 0-8 1-1 0-3 -1-1zM598,128l-2,3 0,3 2,3 1-1 0-7zM498,128l0,7 1,0 0-7zM467,128l-1,0 0,4 1-1zM727,127l-1,1 -2,0 -2,2 0,3 2,2 4,1 1-1 2,0 2-2 0-3 -2-2zM510,126l-1,0 0,5 1-1zM692,125l-1,1 0,11 2,1 0-2 1-1 0-7 -1-1 0-2zM684,126l-2-1 -1,1 0,3 -1,1 1,6 2,2 -5,3 -9,9 0,1 -3,3 -1,3 -2,2 0,2 -2,3 0,6 2,2 1,6 -1,1 -4-2 -2,1 -2,3 1,3 3,2 3-1 2-3 1,1 0,14 -1,1 -2-1 -6,0 -1-1 -3,0 -2-2 0-12 -1-2 -2-2 -5-1 -2-2 -1,0 -5-6 0-1 -3-3 -1,0 -10,10 -1-2 -3-2 -5,0 -2,1 -2,3 1,3 3,2 5,0 1-1 2,0 6,4 5,0 1-1 3,0 1-1 4,0 4,2 3,4 0,2 1,1 -1,4 -2,2 -2,0 -1-1 -12,0 -12-6 -9,0 -1-1 -13,1 -2,2 -1,4 -1,1 0,5 1,1 1,4 2,2 4,0 1,1 17,0 1,1 10,0 10,5 4,0 1,1 27,0 1-1 4,0 4,3 3,0 3-2 10,0 4-2 3-5 0-3 -2-4 -8-4 -3-6 -7-7 -2-4 0-4 -2-3 -5,0 -5-3 13-12 5-8 1,1 0,9 1-2 0-5 1-1 0-14 -1-1 -3,0 -1-1 2-3 0-6zM618,125l-2,3 0,7 1,1 0,2 2-1 0-3 1-1 0-3 -1-1 0-3zM873,124l-1,0 -2,2 0,6 1,2 2,0 2-3 0-3zM821,123l-2,1 0,7 1,1 1,0 2-3 0-2zM606,123l0,2 -1,1 0,5 1,2 1,0 0-2 1-1 0-4 -1-1 0-2zM266,123l-2,0 -1,1 0,9 4,2 -2,1 -3,4 -5,1 -5,3 0,3 -1,1 0,8 1,1 0,16 -1,1 -2,7 -2,2 -3,0 -3-5 0-3 -1-1 0-5 -1-1 0-3 -1-2 -5,0 -4,7 -1,0 -2-3 -1,0 -2,3 0,3 1,2 -3,3 0,2 6,7 1,4 3,3 2,0 5,3 -1,1 -14,0 -1,1 -11,0 -1,1 -6-5 -3-6 0-2 4-2 0-3 -1-1 -5-1 -2-2 -1-5 -9-2 -5-3 -3,0 -1,1 0,5 5,3 8,8 3,7 0,9 4,4 7,2 2,2 0,4 2,4 2,1 11,0 1,1 23,0 4-2 15,0 1-1 6-1 6-3 2,0 4-3 10-5 1-4 1-1 0-3 -2-4 1-1 4,0 1-1 3-7 -1-3 -3,0 -1-1 -4,1 -3,5 0,3 2,2 -1,1 -14,0 -1,1 -3,0 -1,1 -3,0 -1,1 -1-2 -2-1 -6-6 -3-6 -1-8 1-1 2,2 1,0 3-3 0-3 -2-2 0-1 10-7 5,0 12,9 3,0 1-2 0-5 1-1 0-10 -1-1 -2,0 -1,1 -6,0 -1,1 -8,0 -3-3 -1-2 2-4 -2-3 -4-2 1-2 0-7zM750,122l0,6 1,0 0-6zM544,122l-1,1 0,10 1,1 -1,1 0,5 1,1 3,0 1-1 0-5 -3-2 0-9zM480,122l0,3 -1,1 1,8 1-1 0-10zM311,122l-2,4 0,5 1,2 2,1 1-2 0-7zM906,121l0,3 -1,1 1,8 1-2 0-9zM648,121l0,8 1,1 0-9zM330,121l-1,0 -2,3 0,6 1,1 0,2 2,0 2-3 0-5zM840,120l0,2 -1,1 0,7 1,2 2,1 2-4 -2-3 -1-6zM832,120l-2,2 0,6 -1,1 -1-2 0,2 -1,1 0,9 1,1 1-2 0-5 1-1 2,2 2-2 0-9zM590,120l0,2 -1,1 0,11 1,1 0,2 1,0 1-1 0-15zM554,120l-2,4 0,9 1,1 0,2 2,1 1-4 1-1 0-7 -1-1 0-2zM324,120l-1,0 0,9 1-1zM67,120l-1,2 0,4 -1,1 0,9 1,1 0,4 1,2 1,0 1-2 0-4 1-1 0-9 -1-1 0-4 -1-2zM848,119l0,9 1,1 0,3 2,2 2-3 0-5 -2-3 -1,0 -1,2 -1-1zM433,119l-1,1 0,9 1,1 1-1 0-9zM354,119l0,2 -1,1 0,7 1,1 0,2 2,0 1-2 0-9 -1-2zM303,119l-1,2 0,5 1,2zM858,118l-1,2 0,12 1,1 2,0 1-2 0-6 -1-1 0-5zM725,118l0,6 1,0 0-6zM702,118l-1,1 0,12 2,1 0-2 1-1 0-8 -1-1 0-2zM638,118l0,3 -1,1 0,7 1,1 0,2 1,0 0-13zM368,118l-1,1 0,12 1,1 1-1 0-12zM965,117l-1,1 0,11 2,1 1-1 0-11zM794,117l-1,2 0,5 1,2 1,0 1-2 0-5 -1-2zM628,117l-1,2 0,13 1,2 1,0 1-1 0-5 1-1 0-3 -1-1 0-5zM1074,116l0,7 -1,1 1,9 0-2 1-1 0-12zM282,116l-1,0 0,2 -1,1 0,7 1,1 0,2 1-1zM275,116l-1,2 0,10 1,1 0-3 1-1 0-5 -1-1zM781,115l-1,1 0,3 -1,1 0,4 1,1 0,3 1,1 2-3 0-8zM737,115l-1,2 0,9 2,3 1-2 0-11zM614,115l-1,2 0,5 1,2 1,0 1-2 0-5 -1-2zM412,115l-2,3 0,9 2,3 1-2 0-11zM385,115l-2,2 0,14 1,2 2-1 0-3 1-1 0-8 -1-1 0-3zM347,115l0,2 -1,1 0,10 2,4 1-2 0-13 -1-2zM199,115l-1,1 -1,7 1,1 0,3 1,2 1,0 1-1 0-3 1-1 0-5 -1-1 0-2zM338,114l-1,0 -1,2 0,6 -1,1 1,1 0,6 1,2 2-2 0-14zM405,113l-1,2 0,13 1,2 1-1 0-15zM393,113l-2,2 0,14 1,2 2-1 0-3 1-1 0-7 -1-1 0-3zM376,113l0,2 -1,1 0,13 1,1 0,2 1,0 1-1 0-3 1-1 0-9 -1-1 0-3zM362,113l0,2 -1,1 0,11 1,1 0,2 1,0 1-2 0-13 -1-2zM250,113l-2,2 -1,4 -1,1 0,11 1,1 1,4 2,2 2,0 2-2 2-4 0-13 -2-4 -2-2zM208,113l-1,0 0,10 1-1zM802,112l-1,1 0,9 1,1 2-1 1,1 1-1 0-7 -3-3zM489,111l-1,1 0,7 2,1 1-1 0-7zM108,111l-1,1 0,5 2,1 1-2 0-3 -1-2zM715,110l0,2 -1,1 0,13 1,2 1-1 0-4 1-1 0-5 -1-1 0-5zM674,109l-3,6 0,5 1,1 1,4 1,1 3,0 3-6 0-5 -1-1 -1-4 -1-1zM173,108l0,3 -1,1 1,8 1-2 0-9zM524,107l-1,1 0,7 2,1 1-1 0-7zM182,107l0,2 -1,1 0,12 1,1 0,2 1,0 0-4 1-1 0-8 -1-1 0-3zM69,107l-1,1 0,9 1,1 1-1 0-8zM303,106l-2,1 -1,2 0,5 1,2 3,1 2-1 1-2 0-5 -1-2zM193,106l0,3 -1,1 0,13 1,1 0,3 1,0 0-2 1-1 0-14 -1-1 0-3zM125,106l-1,2 0,7 1,2 1-1 0-9zM75,106l-2,4 0,4 1,1 0,2 1,1 2,0 1-2 0-8 -2-2zM61,106l-2,3 0,5 1,2 2,1 2-3 0-5 -1-2zM42,106l-1,2 0,5 1,2 1,0 1-1 0-7zM478,105l0,6 1,2zM114,105l-1,2 0,5 1,2zM48,105l-2,4 0,4 1,1 0,2 2,1 0-2 1-1 0-6zM292,104l-3,4 0,3 4,5 0,3 -1,1 0,5 1,1 0,3 1,0 1-1 0-11 -1-1 3-3 1-2 0-3 -3-4zM161,102l-1,2 0,12 -1,1 -2-1 -2,3 0,5 2,3 2-1 1-3 2-2 0-7 1-1 0-2 -1-1 0-7zM147,102l-1,0 0,2 -1,1 0,12 1,1 0,3 1-1 0-5 1-1zM209,100l-1,2 0,7 1,2 1,0 1-2 0-7 -1-2zM345,99l-1,2 0,5 1,2 1,0 1-2 0-5 -1-2zM22,97l-1,1 0,13 1,0zM762,96l0,3 -1,1 0,22 0-2 1-1zM83,96l-1,2 0,16 1,2 2-4 0-11 -1-1 0-3zM9,98l0,5 -1,1 0,3 1,1 0,8 -1,1 0,5 3,6 -2,1 -3-2 -2,0 0,102 1,1 4,0 4,2 -4,5 -6,0 -2,3 0,6 1,1 0,2 2,1 5,0 5,4 3,0 2-1 4-4 2,0 3,5 24,0 3-5 6,0 4,5 90,0 1-1 34,0 1-1 17,0 1-1 10,0 3-4 2,0 1-1 8,0 1,1 4,0 5,8 8,0 9-4 5,0 1,1 8,1 1,1 4,0 1,1 8,0 1-1 7-2 3-3 0-3 -1-1 1-1 3,0 3-3 2,2 3,0 3-4 0-4 -2-4 -2-1 -3,1 0,1 -2,2 -2-2 -3,0 -1,1 -2-2 -8,0 -1,1 -10,0 -1,1 -10,0 -1,1 -31,0 -1,1 -8,0 -4-3 -2-4 -45,0 -1,1 -55,1 -1,1 -33,0 -1-1 1-1 3,0 1-1 2,0 0-1 -10-12 -1-3 7-7 3-1 2-2 0-2 -6,0 -8-4 -1,0 -2,3 1,15 -7,8 0,1 -2,2 0,2 2,2 14,1 1,1 -1,1 -17,0 -3,4 -7,0 -3-4 -24,0 -3,4 -3,0 -2-2 6-5 0-2 -1-1 -5-1 -5-4 0-1 -4-5 0-2 -1-1 0-2 -3-7 0-13 2-4 6-5 14-7 5-1 4,2 -2,2 1,2 2,0 1,1 14,0 10,6 6,1 9-10 4-2 8-1 1,1 3,0 3,2 5,1 1-1 3,0 2-1 1-2 0-4 -1-1 0-2 -2-2 1-2 0-8 -1-1 0-3 0,14 -2,2 -7,0 -2-1 -5-5 -2-4 0-3 2-4 9-10 0-5 -1-1 3-4 0-5 -2-3 -1,0 -2,3 0,5 -1,1 -2-2 0-2 -1-1 0-5 -2-3 0-2 1-1 0-17 -1-1 0-2 -2,1 0,2 -1,1 0,15 3,6 -1,1 0,5 -3,5 0,9 -1,1 0,6 -1,1 0,5 -2,4 -3,2 -2-1 0-7 -2-3 -2,1 -1,4 -1,1 -5-6 -6,0 -7,4 -4,4 -4,0 -1,1 -2,0 -5,4 -5,1 -3,3 0,1 -4,3 -4,0 -2-1 -3-3 0-3 1-1 0-9 1-1 1,1 3,0 2-1 3-4 2,2 4,1 2-2 0-4 -3-7 -5-6 0-1 -4-4 -5-3 0-6 -1-1 0-2 -2-3 -2,0 -1-1 0-11 -1-1 0-2 -1-1zM639,93l0,5 1,0 0-5zM271,92l-1,2 0,3 1,2 1,0 1-2 0-3 -1-2zM414,90l-3,5 0,9 3,5 3,0 3-5 0-9 -3-5zM429,82l-1,2 0,3 1,2 1,0 1-2 0-3 -1-2zM1071,77l0,5 1,0 0-5zM227,74l0,2 -1,1 0,9 1,1 0,2 1,0 0-2 1-1 0-9 -1-1 0-2zM457,73l0,5 1,0 0-5zM696,69l-1,2 0,3 -1,1 0,5 1,1 0,3 2,3 0,5 0-2 1-1 0-6 1-1 0-9 -1-1 0-2zM374,67l0,5 1,0 0-5zM141,67l0,5 1,0 0-5zM355,61l-1,2 0,5 1,2 1,0 1-2 0-5 -1-2zM301,61l-2,4 0,5 1,1 0,2 2,1 2-4 0-5 -1-1 0-2zM6,60l0,3 -1,1 0,11 1,1 0,3 1,0 0-3 1-1 0-11 -1-1 0-3zM574,57l-1,0 0,9 -1,1 0,9 1,1 0,5 -1,1 -1-1 0-3 -1-1 -2,1 0,3 -1,1 0,9 1,1 0,3 1,2 -3,7 0,8 -2,3 -1,6 2,4 0,6 1,0 0-2 1-1 2,0 3,3 1,2 0,3 2,2 -3,2 -1-1 -3,1 -2,4 0,5 1,2 -1,1 -1-1 -7,5 -1,4 -1,1 0,3 3,6 5,0 2-4 2-2 1,0 2-3 1,1 0,3 1,1 5,0 1-1 0-5 -4-2 0-15 -1-1 0-3 1-1 5,0 1,1 0,4 2,3 -1,8 2,3 2,0 4-2 4-5 -1-4 -1,0 -6-5 0-3 1-1 -1-2 0-6 1-1 -1-4 -2-2 -3,0 -2,2 0,2 -1,1 -2-1 0-4 1-1 0-9 1-1 2,0 2-2 1-4 -1-1 0-2 -6-6 -3,0 -2-2 0-2 1-1 0-5 2-1 0-9 1-1zM415,51l0,5 1,0 0-5zM289,51l-1,2 0,9 1,2 1,0 1-2 0-9 -1-2zM944,39l-1,2 0,14 1,2zM79,35l0,2 -1,1 1,4z"/>
<path fill="#616161" d="M313,237l-1-1 0-3 -2-2 -3,0 -3,3 -2-2 -3,0 -1,1 -1-1 -13,0 -1,1 -20,1 -1,1 -29,0 -1,1 -7,0 -4-3 0-2 -2-2 -55,0 -1,1 -27,0 -1,1 -67,1 -1,1 -2,0 -3,4 -7,0 -4-5 -22,0 -4,5 -3,0 -3-3 -2-1 -3,0 -2,1 -3,4 -6,0 -1,1 0,8 2,2 1-1 3,0 5,5 5,0 5-5 2,0 2,4 2,2 22,0 2-2 2-4 6,0 5,6 63,0 1-1 42,0 1-1 24,0 1-1 18,0 1-1 2,0 3-4 2,0 1-1 7,0 1,1 6,0 4,7 7,0 4-2 2-2 4-2 2,0 8,4 2,0 1,1 4,0 1,1 4,0 1,1 1-1 4,0 7-5 3-5 3,1 2-1 1-2 1,0 2,2 3,0 2-2 0-3zM857,225l0,1 2,1 9,0 2-1 0-1 -2-1 -9,0zM816,223l1,2 5,0 1,1 0,9 1,1 0,6 1,1 0,6 1,2 5-3 4,1 1,1 17,0 1,1 8,0 1-1 5,0 1,1 16,0 1-1 2,0 0-27 -4,4 -6,3 -2,0 -11,6 -8,0 -1-1 -3,0 -4-2 -12,0 -7-6 -8-5 -5,0zM73,222l0,2 2,2 2,0 1,1 4-1 0-3 -3-3 -4,0zM318,230l0,4 3,4 17,0 1-1 32,0 1,1 0,11 2,2 2,1 6,0 1-1 5-1 6,3 5,0 1,1 4,0 1-1 2,0 2-2 0-9 -2-4 1-1 2,1 4,0 2-1 2-3 0-8 -3-4 -11-1 -1-1 -5,0 -1-1 -6,0 -1-1 -7,0 -1-1 -9,0 -1-1 -16,0 -1-1 -5,0 -1,1 -6,0 -1-1 -2,0 -1,1 -3,0 -4,2 -7,6 -4,2zM681,214l1-1 1,1 -1,1zM676,214l1-1 1,1 -1,1zM677,213l2-3 3,3 -1,1 -3,0zM831,210l0,3 5,0 0-3zM883,208l-1,1 0,5 2,1 1-1 0-5zM4,207l0,18 3,2 3,0 2-1 0-3 -3-6 -1-6 -1-2 -2-2zM251,198l1-1 4,0 1,1 -1,1 -4,0zM698,191l-1,1 0,3 1,1 3,0 1-1 0-3 -1-1zM475,192l2,0 1-1 -2,0zM161,196l-3-5 -2-1 -4,0 -7,3 -3,0 -1-1 -5,0 -1,2 0,7 3,4 2,0 1,1 14,0 4-2 2-2zM99,190l0,3 4,4 0,2 3,3 4,1 1,1 13,0 1-1 4-1 3-3 0-3 -3-3 -4-1 -1-1 -7,0 -4-4 -2,0 -1-1 -5,0 -1,1 -2,0zM84,187l1,2 5,0 1-1 -1-2 -5,0zM812,185l-1,1 0,3 1,1 3,0 1-1 0-3 -1-1zM506,182l1-1 1,1 -1,1zM658,179l-1,1 0,3 1,1 3,0 1-1 0-3 -1-1zM700,208l-1-4 -3-3 -4-1 -3-3 -1-3 -8-8 -3-9 -1-1 -2,0 -7-3 -2,1 0,6 1,1 0,17 -1,1 -1-1 -5,0 -1-1 -8,0 -1-1 -17,0 -1-1 -4,0 -8-5 -5,0 -1-1 -15,0 -1,1 -3,0 -3,4 0,9 1,2 4,3 5,0 1,1 24,0 13,6 12,0 1,1 6,0 1-1 12,0 1-1 4,0 2,3 3,0 1-2 2-1 1,1 3,0 2,1 1-1 3,0 2-1 3-3 0-2zM611,172l-2,2 0,3 2,2 5,0 2-2 0-3 -2-2zM159,171l-2,2 0,1 2,2 1,0 2-2 0-1 -2-2zM1247,232l0-12 -2-2 -2,0 -1-1 -4,0 -1-1 -4,0 -1-1 -3,0 -4-2 -11-2 -4-2 -6-1 -2-2 2-2 7-4 6-1 1-1 7,0 7,3 4,4 0,3 1,2 4,1 0-41 -2,1 -5,0 -1,1 0,5 -1,1 0,3 -4,7 -3-2 -7,0 -1,1 -4-5 -2,0 -2,2 -1,0 -8,9 -4,2 -9,0 -7,10 -3,0 -1,1 -6,1 -1,1 -6,1 -1,1 -8,0 -1-1 -3,0 -4-2 -3,0 -1-1 1-2 0-4 -1-1 -5,0 -1,1 -7,1 -4,2 -6-1 -1-1 -6,0 -4,2 -2,2 -14,1 -1,1 -11,0 -1,1 -29,0 -1-1 0-2 1-1 -1-3 -3,0 0,3 3,2 -1,1 -24,0 -1-1 -8,0 -1-1 -3,0 -1-1 1-1 0-3 -1-2 -2-1 -7,0 -1,1 -3,0 -1,1 -9,0 -1-1 -4,0 -1-1 -2,0 -1-1 -2,0 -7-3 -3,1 -3,3 -5,0 -1,1 -8,0 -1,1 -9,0 -1,1 -20,0 -2-2 -19,1 -3-2 0,2 -5,4 0,2 -1,1 0,9 3,5 47,0 1-1 9,0 1-1 9,0 1-1 11,0 1,1 5,0 1,1 8,1 1,1 8,1 1,1 4,0 1,1 6,0 1,1 12,1 1,1 17,0 1,1 45,0 1-1 10,0 1-1 16-1 1-1 22,0 1,1 6,0 1,1 6,0 1,1 19,0 1-1 5,0 1-1 5,0 1-1 10,0 1,1 4,0 1,1 3,0 1,1 6,1 1,1 4,0 1,1 4,0 1,1 5,0 1,1 4,0 1,1 5,0 1,1 7,0 2,1 2-1zM1116,174l-5-4 -4,0 -3,2 -8,1 -6,3 -5,0 -1,1 -2,0 -2,2 0,1 2,2 5,1 3,4 4,0 2,1 1-1 4-1 5-5 8-3 2-2zM1179,185l0-4 -1-1 -1-5 -2-2 -8-4 -2,1 -1,4 -1,1 -8,0 -1,1 -2,0 -3,3 0,3 3,3 2,0 1,1 9,0 1-1 2,2 7,0 1-1 3,0zM622,177l1,3 3,2 3,0 1-1 3,0 1-1 7,0 2,1 5,6 0-5 -2-2 -3,0 -2-1 -9-10 -3,0 -6,6zM213,167l-2,2 0,1 2,2 1,0 2-2 0-1 -2-2zM946,166l-4,1 -3,3 0,4 4,3 3,0 2-2 1-6 -1-2zM639,167l0,1 2,2 5,0 2-2 0-1 -2-2 -5,0zM258,165l-1,1 0,3 1,1 3,0 1-1 0-3 -1-1zM183,172l0,2 10,10 0,1 2,2 0,2 1,1 0,10 1,2 2,2 2,1 3,0 3,2 0,5 1,1 0,2 2,2 5,0 1,1 16,0 1,1 11,0 1-1 6-1 1-1 14,0 1-1 3,0 1-1 5-1 3-2 2,0 2-2 9-4 3-4 0-7 -3-3 -11,0 -1,1 -4,0 -1,1 -3,0 -1,1 -3,0 -2,1 -1-2 -7-7 -4-10 -2,1 -3,7 -2,2 -3,0 -3-4 0-2 -1-1 0-5 -1-1 0-5 -2-3 -2,0 -7,8 -2-4 -2,1 0,3 3,2 -3,3 0,3 4,5 1,3 4,4 8,4 -1,1 -7,0 -1,1 -16,0 -1,1 -5,0 -1,1 -2-1 -6-6 -3-7 1-1 4-1 0-3 -2-1 -3,0 -1,1 -1-1 -1-4 -2-2zM472,162l1-1 1,1 -1,1zM894,160l0,19 5-5 7,0 2-2 1,0 0-5 -1,0 -2-2 -7,0 -3-5zM591,160l-4,0 -3,3 -1,0 -1,2 0,5 1,2 1,0 1-2 2,1 4,0 2-2 1-2 0-3zM1200,155l0,9 1,0 0-9zM570,154l2,0 1,1 0,6 -1,1 -1-1 0-3 -2-3zM489,154l-1,2 2,1 1-2zM1057,153l0,2 -1,1 1,1 0,2 1-1 0-4zM566,153l1-1 1,1 -1,1zM1155,152l0,11 1,0 0-11zM1095,150l-1,1 0,6 1,2 1-2 0-6zM171,150l-2,3 0,5 1,2 2,1 2-3 0-5 -1-2zM16,150l1-1 1,1 -1,1zM1145,148l-1,0 0,9 1-1zM277,151l1,4 7,6 2,1 2,0 2-3 0-3 1-1 0-5 -2-2 -3,0 -1,1 -5,0zM32,167l0,1 2,2 4,1 3,2 0,3 -2,1 0,1 2,1 5,0 1,1 9-2 3,3 4,2 5,0 10-7 4-2 3,0 1-1 8,0 6,3 5,0 2-1 2-3 -2-4 -10,0 -2-1 -6-6 -1-2 -3,0 -4,3 -4,0 -1-1 1-2 0-7 -1-1 -2,1 0,4 -1,1 -3-3 0-1 -2-1 0-2 -4-2 -1,1 -3,0 -2,1 -8,7 -5,0 -2,1 -6,6 -2,0zM130,147l-3,3 0,2 -1,1 0,10 1,1 0,5 1,1 0,2 2,2 1,0 8-9 1,0 2-2 4,0 2-1 0-1 -1-1 -5,0 -2-1 -3-3 -4-8zM1222,146l-1,1 0,10 1,1 0-4 1-1 0-2 -1-1zM1116,145l-2,1 0,12 1,2 2-4 0-7 -1-1zM419,144l-2,3 0,9 1,2 2,1 2-3 0-9 -1-2zM888,200l0-49 -12,11 -2,1 -4,0 -12-9 -3,0 -9,5 -6,0 -1-1 -2,0 -4-2 -3-3 -3-6 -4-4 -2,0 -1-1 -2,2 0,5 -1,1 0,2 -6,7 0,4 -1,1 -3,0 -1-1 -2,0 -4-2 -4,0 -1-1 -2,0 -1,1 -5,0 -1,1 -6,0 -1,1 -66,0 -4-8 -2-2 -3,0 -8,11 0,2 -1,1 1,3 4,4 0,3 2,3 2,0 1,1 8,0 1,1 65,0 1-1 5,0 1-1 3,0 1-1 3,0 1-1 3,0 1,1 5,0 1,1 11,0 1,1 3-2 3,0 1-1 5,0 1,1 4,1 4,4 0,3 3,2 2,4 0,10 2,3 7,0 2-2 2,0 1-1 0-3 -1-1 -3,0 -2,2 -2-3 0-5 1-2 7-7 6-3 4,0 6,3 2,2 0,2 -3,2 0,3 1,1 3,0 4,3 6,0zM572,141l-3,0 -2,2 0,2 -1,1 1,6 -7,4 -3,4 0,7 3,4 3,0 2-2 1-3 2-1 3-4 1,1 0,3 2,2 3,0 2-2 0-3 -2-2 -2,0 -1-1 0-9 1-1 0-3 -1-1 0-2zM204,141l0,4 -2,3 0,5 1,1 0,3 1,1 2,0 3-3 1,0 8-8 0-1 -1-1 -2,1 -5,0 -1-1 -3,0zM1120,139l0,12 1,1 0,10 1,1 0-16 -1-1 0-7zM686,139l-3,0 -4,2 -3,3 -1,0 -7,8 -6,11 0,6 1,1 3,0 4-2 3-3 1,0 7-8 6-11 0-6zM309,146l0,9 1,1 0,2 3,3 1,5 10,6 5,5 1,0 17,14 -2,3 0,4 1,1 4,0 2-2 0-3 1-1 4,3 6,0 1,1 9,0 1,1 14,1 1,1 5,0 1,1 4,0 1,1 4,0 1,1 4,0 1,1 4,0 1,1 7,1 10,5 2,0 2,2 0,7 2,3 3,0 2-3 0-3 1-1 3,0 3-4 0-6 -1-2 -3-3 -2,0 -1-1 0-30 1-1 1,1 1,4 4,3 0,14 3,0 2-2 -1-2 0-6 1-1 0-2 2-2 1,1 6,0 1,1 5,1 8,5 15,15 4,1 1,1 3,0 1,1 3,0 1-1 3,0 1-1 3,0 1-1 6,0 4,2 8,1 1-1 7-2 11-8 3-1 2-2 2-4 0-4 -2-4 -7,0 -1,1 -3,0 -5,3 -2,0 -6,3 -8,1 -1,1 -5,0 -1-1 1-6 7-8 0-3 1-1 -1-2 0-5 -1-1 -6,3 -1-1 -7,0 -1,1 -2,0 -3,3 0,3 3,3 0,3 -1,1 0,5 1,2 -1,1 -6,0 -1-1 -3,0 -11-7 -10-10 0-2 -2-1 2-1 2-3 0-3 -2-3 -7-3 -9,0 -1,1 -2,0 -1-1 1-1 0-3 -1-1 -3,0 -1,1 0,3 1,1 3,0 1,1 -4,2 -3,3 -2,0 0,1 -2,2 -3,20 -5,9 -4,3 -4,0 -4-3 -1-7 -2-3 -6,0 -2,1 -1,2 2,2 8,4 2,3 -1,2 -3-2 -2,0 -7-3 -3,0 -4-2 -3,0 -1-1 -3,0 -1-1 -3,0 -1-1 -3,0 -1-1 -14-1 -1-1 -11,0 -1,1 -5,0 -3,2 -2-3 -2,0 -4-2 -2-2 -3-1 -2-2 -7-4 -7-6 2-2 0-2 1-1 0-9 -1-1 0-2 -4-4 -2-1 -5,0 -6,5 0,2zM269,137l-3,0 -1,1 0,3 -1,1 -4,0 -4,2 -2,2 -1,4 -1,1 0,6 1,1 0,6 1,2 5-6 4-2 2,0 6-5 1-3 -1-1 0-2 -3-4 2-2 0-3zM233,137l-1,2 0,9 1,2 1,0 1-2 0-9 -1-2zM645,136l-2,3 1,1 0,2 3,0 1-1 -1-1 0-2zM142,136l-3,6 0,7 3,6 5,0 3-6 0-7 -3-6zM544,135l0,5 3,0 0-5zM514,135l-1,1 0,3 1,1 3,0 1-1 0-3 -1-1zM965,134l0,15 1,0 0-15zM956,132l-1,1 0,10 1,1zM768,132l0,3 3,0 0-3zM660,131l0,3 1,0 0-3zM344,131l-1,2 0,8 1,0 0-2 1-1 0-5zM597,130l0,5 1,1 1-1 0-4zM498,130l0,3 1,1 0-4zM723,131l0,1 2,2 5,0 2-2 0-1 -2-2 -5,0zM606,127l0,2 1,0zM693,126l-2,1 0,8 1,2 2-4zM683,126l-2,2 0,6 1,2 2-1 0-8zM618,126l-2,4 0,4 1,1 0,2 2-1 0-9zM873,125l-1,0 -2,3 1,5 2,0 1-1 0-6zM820,125l-1,1 0,4 2,1 1-1 0-4zM480,125l0,7 0-2 1-1zM850,124l-1,6 1,2 2,0 0-7zM750,124l0,2 1,0 0-2zM544,124l0,2 -1,1 1,6zM264,124l-1,2 0,5 1,2 2,0 0-2 1-1 0-4 -1-2zM99,124l-1,1 0,5 2,1 1-1 0-5zM311,123l-1,1 0,8 2,1 0-2 1-1 0-4zM67,123l0,2 -1,1 0,11 1,1 0,2 1,0 0-2 1-1 0-11 -1-1 0-2zM906,122l0,9 1-2 0-5zM840,122l0,8 2,1 1-2 -2-2 0-5zM833,122l-2,0 -1,2 0,5 -1,1 -1-2 0,3 -1,1 0,4 1,1 0,2 0-2 1-1 0-5 1-1 2,3 2-3 0-5 -1-1zM638,122l0,6 1-1 0-3zM554,122l-1,1 0,4 -1,2 1,1 0,4 2,1 1-1 0-10 -1-2zM329,122l-1,1 0,8 2,1 1-1 0-8zM92,122l-1,0 0,2 -1,1 0,6 -2,2 -1,18 2,0 0-1 8-8 2-4 -1-3 -5-4 0-6 -1-1zM591,121l-2,4 0,7 2,4 1-2 0-11zM858,120l0,2 -1,1 0,7 1,2 1,0 1-1 0-10zM794,120l0,3 1-1zM355,120l-1,1 0,9 1,1 1-1 0-4 1-1 -1-1 0-3zM1074,119l0,12 0-3 1-1zM965,119l-1,2 0,5 1,2 1,0 1-2 0-5 -1-2zM702,119l0,2 -1,1 0,6 1,2 1,0 0-10zM628,119l0,3 -1,1 0,5 2,4 0-2 1-1 0-8 -1-2zM368,119l-1,2 0,7 1,2 1-1 0-8zM281,119l0,7 1-1 0-5zM412,118l-1,1 0,7 1,1zM294,118l-1,2 0,5 1,1 1-2zM782,117l-2,1 0,8 1,1 1-1zM614,117l0,5 1,0 0-5zM384,117l0,2 -1,1 0,8 1,1 0,2 1,0 1-1 0-12zM347,117l0,12 1,1 0-2 1-1 0-7 -1-1 0-2zM737,116l0,4 -1,1 0,2 1,1 0,3 1,0 1-2 0-6 -1-1 0-2zM405,116l0,2 -1,1 0,5 1,1 0,2 1-2 0-7zM392,116l0,2 -1,1 0,7 1,1 0,2 1,0 1-2 0-10zM362,116l0,11 1,1 0-3 1-1 0-5 -1-1 0-2zM337,116l0,2 -1,1 0,8 1,2 1,0 1-2 0-8 -1-1 0-2zM199,116l-1,2 0,8 2,2 1-2 0-9zM376,115l0,3 -1,1 0,7 1,1 0,3 1,0 1-1 0-13zM802,114l-1,2 0,3 1,2 1,0 1-2 0-3 -1-2zM250,114l-3,4 0,3 -1,1 0,7 1,1 0,3 1,2 2,2 2,0 2-2 1-4 1-1 0-9 -1-1 -1-4 -2-2zM715,112l0,3 -1,1 0,7 1,1 0,2 1-1 0-12zM489,112l-1,2 0,3 1,2 1,0 1-2 0-3 -1-2zM108,112l0,5 1,0 0-5zM675,110l-3,4 0,7 1,2 2,2 1,0 3-4 0-7 -1-2 -2-2zM182,109l-1,9 1,1 0,4 1,0 0-13zM524,108l-1,2 0,3 1,2 1,0 1-2 0-3 -1-2zM193,108l-1,12 1,1 0,4 1,0 0-4 1-1 0-7 -1-1 0-4zM125,108l0,7 1-2zM69,108l-1,1 0,7 1,1 1-2 0-5zM61,108l-1,1 0,5 2,1 1-1 0-5zM42,108l0,6 1,0 0-2 1-1 -1-1 0-2zM302,107l-2,3 0,3 2,3 3,0 2-3 0-3 -2-3zM75,107l-1,2 0,7 2,1 2-3 0-4 -1-2zM48,106l-1,1 0,8 2,1 0-9zM292,105l-2,2 0,5 2,2 3,0 2-2 0-5 -2-2zM161,104l-1,2 0,12 -1,1 -1-1 -2,1 0,5 1,1 2-1 0-5 1-1 1,2 1-1 0-14zM147,104l-1,0 0,4 -1,1 1,10 1-1zM209,102l0,7 1,0 0-7zM345,101l0,5 1,0 0-5zM22,101l-1,1 0,5 1,1zM762,100l0,4 -1,1 0,12 0-2 1-1zM83,99l-1,2 0,10 1,2 1,0 0-14zM574,97l-1,1 -3,0 -2,3 0,2 -1,1 0,4 -1,1 0,5 -2,3 0,7 2,4 3,0 4,3 0,4 3,4 3,0 1-1 1,1 1,6 2,0 1,1 -1,2 0,5 2,2 5-4 -1-3 -5-4 1-2 0-9 -1-1 1-1 0-5 -3-3 -1,0 -4,5 -2-1 0-8 1-1 0-5 5-4 0-5 -5-6zM90,97l-1,1 0,3 -1,1 0,9 1,1 0,3 2,1 0-3 1-1 0-11 -1-1 0-3zM11,97l-2,3 0,11 1,1 0,2 -1,1 0,9 2,2 0,1 4,0 1,1 3,8 -3,4 0,5 -1,1 -1-1 -2,1 -3-4 0-10 -2-2 -3-1 0,69 0-3 1-1 0-7 5-5 13-8 0-3 -5-3 -3-3 1-4 1-1 0-9 1-1 2,1 3,0 2-1 3-4 2,2 4,0 1-1 -1-6 -5-9 -5-5 -6-3 0-9 -2-2 0-1 -3,0 -1-1 1-1 0-9zM271,93l0,5 1,0 0-5zM414,91l-2,3 -1,7 1,1 0,3 2,3 3,0 2-3 1-7 -1-1 0-3 -2-3zM429,83l0,5 1,0 0-5zM569,79l-1,2 0,13 1,2 1,0 1-2 0-13 -1-2zM227,77l0,9 1,0 0-9zM696,70l-1,2 0,11 1,2 1,0 2-4 0-7 -1-1 0-2zM573,63l0,17 1,0 0-17zM355,63l0,5 1,0 0-5zM6,63l0,13 1,0 0-13zM301,61l-1,2 0,9 1,2 1,0 1-2 0-9 -1-2zM289,53l0,9 1,0 0-9zM944,41l0,2 -1,1 0,8 1,1 0,2z"/>
<path fill="#696969" d="M312,234l-2-3 -3,0 -3,4 -1-2 -2-1 -2,1 -2,0 -1-1 -4,0 -1,1 -10,0 -1,1 -20,1 -1,1 -24,0 -1,1 -9,0 -4-3 0-2 -3-3 -38,0 -1,1 -27,0 -1,1 -27,0 -1,1 -34,0 -1,1 -22,0 -2,1 -2,4 -7,0 -2-2 -1-3 -24,0 -3,6 -3,0 -4-5 -5,0 -4,5 -6,0 -1,2 0,5 1,1 5,0 3,3 0,1 4,2 5-2 0-1 3-3 2,0 1,1 0,2 2,3 24,0 3-6 7,0 3,6 82,0 1-1 38,0 1-1 31-1 4-5 2,0 1-1 9,0 1,1 5,0 2,2 0,2 2,3 7-2 4-5 10,0 3,3 4,2 3,0 1,1 3,0 1,1 5,0 4-2 0-1 4-4 3,0 2-2 4,0 3-3 1,2 2,1 3-1 1-2zM888,227l-6,3 -2,0 -3,2 -2,0 -7,4 -4,6 0,3 2,2 4,2 15,0 1-1 2,0zM823,229l3,20 3-3 1,0 2,2 2,0 4,2 9,0 1-1 5-1 2-2 1,0 3-4 -2-4 -4-3 -2,0 -4-2 -9,0 -1,1 -2,0 -7-6 -4-1zM860,225l0,1 7,0 0-1zM818,223l0,1 3,0 0-1zM319,229l0,6 2,2 22,0 1-1 29,0 1,1 -1,8 1,1 0,2 2,2 6,0 6-3 10,5 7,0 2-1 1-2 0-6 -1-2 -4-3 1-1 11,0 3-4 0-6 -4-5 -7,0 -1-1 -12-1 -1-1 -7,0 -1-1 -7,0 -1-1 -11,0 -1-1 -23,0 -1,1 -5,0 -7,4zM4,214l0,3 1,1 1-1 -1-1 0-2zM832,211l0,1 3,0 0-1zM883,210l0,3 1,0 0-3zM678,205l2-1 1,2 -1,1zM853,200l-1,2 2,1 1-2zM667,199l1-1 1,1 -1,1zM438,198l1-1 2,1 -1,1zM199,198l0,2 3,3 4,0 -1-3 -5-3zM699,192l-1,2 2,1 1-2zM295,195l-2-3 -15,0 -1,1 -11,2 -12,5 -5,0 -1-1 -23,0 -1,1 -13,0 -3,3 -1,7 1,1 0,3 3,3 13,0 1,1 21,0 4-2 14,0 1-1 3,0 1-1 8-2 16-8 2-4zM159,196l-3-4 -5,0 -6,3 -8-1 -1,5 3,4 17,1 3-3zM100,190l0,3 2,2 1,0 2,2 0,2 5,4 10,1 1-1 4,0 5-4 0-3 -3-3 -2-1 -4,0 -1-1 -4,0 -5-4 -7,0zM86,187l0,1 3,0 0-1zM813,186l-1,2 2,1 1-2zM199,182l-1,2 2,1 1-2zM659,180l-1,2 2,1 1-2zM699,208l-2-5 -3-2 -4-1 -2-2 -1-3 -7-6 -4-10 -6-3 -3,0 -1,2 0,2 1,1 0,10 1,1 0,6 -1,1 -5,0 -1-1 -5,0 -1-1 -27-1 -4-2 -2-2 -4-1 -1-1 -11,0 -1-1 -2,1 -8,0 -2,1 -2,4 0,7 2,4 2,1 4,0 1,1 17,0 1,1 10,0 9,5 5,0 1,1 24,0 1-1 8-1 4-5 3,5 4,1 1,1 3,0 1-1 4-1zM612,173l-2,2 0,1 2,2 3,0 2-2 0-1 -2-2zM1112,174l-1-2 -4,0 -3,2 -8,0 -1,1 -2,0 -2,2 -1-1 -2,1 -4,0 -2,1 -1,2 3,2 4,0 2,2 0,1 2,1 6,0 2-1 7-7 4-1 1-1zM625,177l0,1 2,2 3,0 1-1 3,0 2-1 -2-4 -3-2 -2,0zM1247,232l0-11 -3-3 -4,0 -1-1 -4,0 -1-1 -7-1 -4-2 -7-1 -1-1 -6-1 -4-2 -3,0 -4-2 2-2 2,0 2-2 4-2 2,0 4-2 3,0 1-1 7,0 1,1 3,0 6,3 3,3 1,4 2,2 0-39 -7,3 0,3 -1,1 -1,5 -2,4 -2,2 -2-2 -2,0 -1-1 -3,0 -4,2 -3-3 -4,0 -2,2 -1,0 -6,7 -4,2 -8,0 -2,2 -2,5 -2,2 -3,0 -4,2 -3,0 -4,2 -8,1 -1,1 -11-2 -1-1 -6-1 -1-1 -10-1 -1-1 -16,0 -1,1 -16,1 -1,1 -9,0 -1,1 -52,0 -1-1 -13,0 -1-1 -6,0 -1-1 -2,0 -1-1 1-1 0-3 -3-2 -5,0 -1,1 -3,0 -4,2 -9,0 -1-1 -7-1 -6-3 -2,0 -3,2 -12,0 -1,1 -19,1 -1,1 -19,0 -1-1 -2,0 -1,1 -17,0 -3,3 0,2 -1,1 0,6 1,1 1,4 2,2 40,0 1-1 10,0 1-1 9,0 1-1 19,0 1,1 9,1 1,1 3,0 1,1 4,0 1,1 4,0 1,1 4,0 1,1 13,1 1,1 8,0 1,1 29,0 1,1 20,0 1-1 12,0 1-1 17-1 1-1 7,0 1-1 14,0 1,1 7,0 1,1 15,1 1,1 16-1 1-1 4,0 1-1 17,0 1,1 3,0 1,1 6,1 1,1 3,0 1,1 10,1 1,1 5,0 1,1 5,0 1,1 5,0 1,1 6,0zM1178,184l0-3 -1-1 -1-4 -3-3 -4-2 -3,0 -1,1 0,2 -2,2 -1-1 -5,0 -1,1 -4,1 -2,2 0,3 2,2 4,1 1,1 5,0 4-2 2,2 7,0zM946,169l-2,0 -2,2 0,3 2,1 2-1 1-2 0-2zM228,175l-2,5 3,6 5,5 6,3 2,0 3,2 3,0 5-3 4,0 1-1 -5-10 -2,2 -1,4 -3,3 -2,0 -3-3 -2-4 0-3 -1-1 -1-10 -2-2zM642,166l0,3 3,0 0-3zM259,166l-1,2 2,1 1-2zM894,161l0,16 1,0 3-4 1,1 5,0 4-2 1-2 -1-3 -4-2 -6,0 -1-2 -2-2zM574,161l-1,1 0,3 1,1 3,0 1-1 0-3 -1-1zM592,161l-2-1 -4,1 -1,1 0,2 -2,1 0,5 2-1 3,2 4-1 1-2 0-5zM1155,155l0,5 1,0 0-5zM569,155l-2-1 -3,0 -6,5 -1,2 0,5 3,4 3,0 2-2 0-1 3-3 1,0 1-2 0-5zM171,153l-1,3 1,2 1,0 1-3 -1-2zM283,150l-2,2 0,2 5,5 2,0 2-3 0-5 -2-1zM132,150l-2,0 -2,2 0,2 -1,1 1,11 2,4 1,0 5-5 0-2 1-1 -2-7zM1222,149l-1,2 1,4zM444,162l0,5 1,1 0,3 1,2 4,3 0,12 2-1 0-4 1-1 0-2 3-4 10,1 10,5 3,3 1,0 11,12 8,4 9,0 1-1 6-1 1-1 6,1 4,2 8,0 7-3 2-2 4-2 3-3 4-2 3-4 0-7 -2-2 -8,1 -8,4 -2,0 -7,3 -3,0 -1,1 -6,0 -1,1 -3-1 -1-1 1-1 0-3 3-5 5-5 0-2 1-1 -1-6 -2-1 -1,1 -12,0 -3,2 -1,3 3,4 0,3 -1,1 0,5 4,4 -1,1 -2-1 -5,0 -1-1 -4,0 -1-1 -2,0 -7-4 -16-15 0-1 3-3 1-3 -4-5 -2,0 -1-1 -11,0 -1,1 -2,0 -4,4 -3,0 -2,2 -1,2 0,3zM39,165l1,4 1,1 0,5 2,3 9,0 -1-2 5-3 4,5 4,2 2,0 4-3 5-1 8-4 14-1 4,3 4,0 1-1 0-2 -1-1 -4,0 -1,1 -3,0 -2-1 -1-2 -7-6 -6,3 -3,0 -2-1 -4-4 -1-3 -3-3 -1-4 -2-1 -3,0 -6,3 -7,6 -4,0 -2,1 -3,3 0,2zM888,198l0-45 -14,12 -5,0 -2-1 -7-7 -2-1 -4,0 -8,4 -6,0 -1-1 -3,0 -5-3 -4-4 0-1 -5-4 -2,1 -1,4 -7,8 0,4 -1,1 -6-1 -7-3 -9,0 -1,1 -4,0 -1,1 -71,0 -1-1 0-2 -4-4 -3,0 -4,4 -3,5 0,4 3,3 0,4 1,2 2,2 5,0 1,1 74,0 1-1 3,0 1-1 3,0 1-1 8,0 1,1 5,0 1,1 10,0 3-3 11,0 7,6 0,3 7,5 13-10 7-2 3,3 2,1 4,0 1,1 1,6 -1,1 -2-1 -1,1 1,2 1,0 2-2 1,1 0,2 2,1 5,0zM1115,146l-1,2 0,8 1,2 1-1 0-10zM419,146l-1,1 0,9 2,1 1-1 0-9zM1121,145l0,14 1,1 0-9 -1-1zM453,144l-1,2 2,1 1-2zM266,144l-6,0 -5,5 -1,2 0,8 2,0 5-4 4,0 3-3 1-3 -1-1 0-2zM204,143l0,11 1,1 2,0 5-5 0-2 -2-1 -4,0 -1-1 0-3zM569,142l-2,2 0,7 2,2 3,0 1,2 1,0 0-11 -2-2zM686,140l-4,0 -2,1 -10,9 0,1 -3,3 -1,3 -2,2 0,2 -2,4 1,4 4,0 2-1 10-9 0-1 3-3 1-3 2-2 0-2 2-4zM233,140l0,7 1,0 0-7zM965,138l0,7 1,0 0-7zM311,143l-1,4 -1,1 0,5 1,1 1,4 3,3 0,3 1,2 6,3 19,16 1,0 9,7 3,0 3,3 3,0 1,1 8,0 1,1 8,0 1,1 14,1 1,1 9,1 1,1 8,1 1,1 4,0 1,1 3,0 1,1 5,1 10,5 0,6 1,1 0,2 2,2 1,0 2-2 0-2 2-4 2,1 2-1 1-4 1-1 -1-5 -2-3 -4-1 -3-2 1-1 2,0 0-22 0,2 -5,9 -3,3 -4,2 -4,0 -10-5 -3,0 -7-3 -3,0 -1-1 -3,0 -1-1 -3,0 -1-1 -3,0 -1-1 -4,0 -1-1 -7,0 -1-1 -18,0 -1,1 -3,0 -2,2 -2-3 -9-4 -2-2 -13-8 -4-4 3-4 0-2 1-1 0-5 -1-1 -1-4 -4-4 -2,0 -1-1 -4,1zM267,138l-1,2 2,1 1-2zM545,136l0,3 1,0 0-3zM515,136l-1,2 2,1 1-2zM144,136l-2,1 0,1 -2,2 0,4 -1,2 1,1 0,4 2,2 0,1 3,1 2-1 0-1 2-2 0-4 1-2 -1-1 0-4 -2-2 0-1zM4,132l0,50 1,0 10-5 4-4 0-2 -5-6 0-2 2-4 0-7 -1-1 0-2 -1-1 -2,1 -2-2 -2-7 -1-1 0-4 -1-2zM726,130l0,3 3,0 0-3zM682,128l0,2 -1,1 2,4 1-2 0-4zM693,127l-1,0 -1,2 0,5 1,2 1-1zM618,127l-1,1 0,7 1,1 1-2 0-5zM92,127l-1,0 0,7 -1,1 0,3 -1,1 0,7 2,0 4-4 2-4 -1-3 -4-2zM67,127l0,9 1,0 0-9zM873,126l-2,1 0,5 1,1 2-2 0-3zM820,126l0,3 1,1 0-4zM99,126l0,3 1,0 0-3zM851,125l-1,1 0,5 2-1 0-4zM266,125l-2,0 0,2 -1,1 1,4 2-1zM554,124l-1,2 0,6 2,1 1-2 0-4 -1-1 0-2zM311,124l-1,1 0,6 2,1 0-7zM831,123l0,8 2,0 0-7zM629,123l-1,1 0,3 1,1zM590,123l0,10 1,1 0-2 1-1 0-5 -1-1 0-2zM329,123l-1,2 0,4 1,2 1,0 1-2 0-4 -1-2zM858,122l0,8 1,1 1-2 0-3 -1-1 0-3zM702,122l0,6 1-1 0-4zM355,122l-1,2 0,3 1,2 1-1 0-5zM965,121l0,5 1,0 0-5zM363,120l-1,1 0,2 1,0zM157,120l0,3 1,0 0-3zM781,119l-1,2 1,4 1-1 0-4zM384,119l0,10 1,0 1-2 0-6 -1-2zM348,119l-1,1 0,7 1,0zM337,119l0,8 1,0 0-8zM737,118l0,7 1,0 0-7zM393,118l-1,1 0,7 1,1zM377,117l-1,1 0,9 1,1 1-2 0-7zM199,117l0,2 -1,1 0,4 1,2 1,0 1-2 0-5 -1-2zM802,116l0,3 1,0 0-3zM250,115l-2,2 0,2 -1,1 0,11 1,1 0,2 2,2 2,0 3-4 1-8 -1-1 0-4 -1-2 -2-2zM715,114l0,10 1-1 0-7zM489,114l0,3 1,0 0-3zM108,114l0,1 1,0 0-1zM674,112l-1,2 0,7 1,2 3,0 1-2 0-7 -1-2zM11,112l1-1 1,1 -1,1zM182,111l0,10 1-1 0-8zM524,110l0,3 1,0 0-3zM193,110l0,13 1,0 0-13zM61,110l0,3 1,0 0-3zM43,110l-1,1 1,0zM69,109l-1,1 0,5 1,1 0-2 1-1zM302,108l-1,1 0,5 1,1 3,0 1-1 0-5 -1-1zM76,108l-2,3 0,3 1,2 2-1 0-6zM48,107l-1,2 0,5 1,1 1-1 0-6zM161,106l0,12 0-2 1-1 0-6 -1-1zM146,106l0,10 1,0 0-9zM293,105l-2,1 -1,2 0,3 1,2 3,1 2-1 1-2 0-3 -1-2zM83,102l0,9 1-2 0-6zM91,99l-2,1 0,13 1,1 1-1 0-4 1-1 0-3 -1-1zM11,99l-1,1 0,3 -1,1 0,4 1,1 0,3 1,1 -2,4 0,5 2,4 2,1 3-1 1,1 0,3 3,6 -4,5 0,5 3,4 5,0 3-4 6,1 1-1 0-3 -5-10 -6-6 -2-1 -3,0 -1,1 -1-1 2-4 0-5 -2-4 -4-2 0-11zM573,98l-2,1 -3,4 0,2 -1,1 0,8 -3,4 0,5 3,4 3,0 3,2 0,4 1,1 1,4 5,0 1,1 1,5 2,1 2-4 0-7 -1-1 1-6 -2-3 -3,0 -3,5 -1,0 -2-2 0-5 1-1 0-9 1-1 3,0 2-3 0-3 -6-7zM414,92l-2,3 0,9 2,3 3,0 2-3 0-9 -2-3zM569,81l-1,2 0,9 1,2 1,0 1-2 0-9 -1-2zM696,71l-1,2 0,9 1,2 1,0 1-1 0-11zM6,67l0,5 1,0 0-5zM301,62l-1,2 0,7 1,2 1,0 1-2 0-7 -1-2zM289,55l0,5 1,0 0-5z"/>
<path fill="#707070" d="M888,230l-3,0 -12,5 -5,4 0,5 4,3 13,0 1-1 2,0zM824,232l2,13 2-1 5,4 2,0 1,1 5,0 2,1 1-1 5,0 1-1 2,0 5-4 0-5 -5-4 -2,0 -1-1 -5,0 -1-1 -2,1 -5,0 -1,1 -3,0 -2-3 -5-2zM312,234l-3-3 -1,0 -4,5 -2-3 -3,0 -1,1 -2-1 -8,0 -1,1 -9,0 -1,1 -7,0 -1,1 -10,0 -1,1 -20,0 -1,1 -14,0 -4-8 -52,0 -1,1 -58,1 -1,1 -34,0 -1,1 -7,0 -3,5 -2,0 -1,1 -4,0 -1-1 -1-4 -2-2 -22,0 -2,2 -1,4 -1,1 -3,0 -3-5 -2-1 -3,0 -3,2 -2,4 -6,0 0,6 6,0 1,1 0,2 3,3 5,0 3-3 0-2 1-1 3,0 1,1 1,4 2,2 22,0 2-2 1-2 0-3 1-1 6,0 2,2 1,4 3,2 57,0 1-1 41,0 1-1 27,0 1-1 18,0 1-1 5,0 3-6 15,0 1,1 4,0 1,1 0,3 1,1 3,0 2-1 2-4 8,0 1,1 9,0 2,2 7,3 7,0 3-2 2-4 7,0 1-2 1,1 3,0 2-3 1,0 2,2 3,0 2-2zM319,234l2,2 2,0 1,1 13,0 1-1 36,0 1,1 0,8 2,3 5,0 5-4 3-1 5,5 4,2 5,0 2-1 0-6 -2-2 -3-1 -3-3 1-1 13,0 1,1 4-3 1-6 -3-5 -4,0 -1-1 -6,0 -1-1 -6,0 -1-1 -6,0 -1-1 -7,0 -1-1 -8,0 -1-1 -18,0 -2-1 -1,1 -13,0 -1,1 -4,1 -13,10 -1,2zM686,201l1-1 1,1 -1,1zM888,209l1,7 3,3 46,0 1-1 9,0 1-1 9,0 1-1 11,0 1,1 5,0 1,1 8,1 1,1 8,1 1,1 4,0 1,1 6,0 1,1 12,1 1,1 17,0 1,1 45,0 1-1 10,0 1-1 16-1 1-1 22,0 1,1 7,0 1,1 6,0 1,1 17,0 1-1 5,0 1-1 5,0 1-1 11,0 1,1 4,0 1,1 3,0 1,1 6,1 1,1 4,0 1,1 4,0 1,1 5,0 1,1 5,0 1,1 5,0 1,1 9,0 2-2 0-9 -2-3 -3,0 -1-1 -4,0 -1-1 -11-2 -4-2 -7-1 -4-2 -3,0 -1-1 -6-1 -1-1 -6-1 -1-1 -10,0 -1,1 -11,2 -1,1 -6,1 -1,1 -8,0 -1-1 -3,0 -4-2 -8-1 -1-1 -4,0 -1-1 -5,0 -1-1 -8,0 -1,1 -8,0 -1,1 -8,0 -1,1 -8,0 -1,1 -10,0 -1,1 -29,0 -1-1 -25,0 -1-1 -8,0 -1-1 -5,0 -4-2 1-1 0-3 -8,0 -2,2 -4,1 -1-1 -4,0 -1-1 -4,0 -1-1 -4,0 -1-1 -4,0 -1-1 -13,0 -1,1 -9,0 -1,1 -8,0 -1,1 -46,0 -2,2 -1,2 0,3zM140,198l0,1 1,0 0-1zM147,198l1,2 1,0 2,2 5,0 1-1 0-5 -3-2 -4,1zM295,197l-1-1 0-2 -2-2 -11,0 -1,1 -4,0 -1,1 -11,2 -8,4 -22-1 -1,1 -16,0 -1,1 -6,0 -2,3 0,9 2,3 6,0 1,1 16,0 1,1 10,0 1-1 6-1 1-1 14,0 1-1 3,0 1-1 5-1 12-6 2-2 2,0 2-2 0-3zM100,191l1,3 3,1 2,2 2,4 2,1 3,0 1,1 7,0 1-1 3,0 2-1 2-3 -2-4 -2-1 -3,0 -1-1 -5,0 -2-2 0-1 -4-2 -5,0 -4,2zM697,210l0-5 -3-3 -6-1 -2-4 -8-6 -3-10 -3-2 -4,0 0,9 6,12 2,1 -1,1 -6-1 -1-1 -3,0 -1-1 -5,0 -1-1 -8,0 -1-1 -19,0 -1-1 -4-1 -4-3 -2,0 -1-1 -4,0 -1-1 -14,0 -1,1 -4,0 -2,2 0,2 -1,1 0,5 1,1 0,2 2,2 2,0 1,1 5,0 1,1 24,0 12,6 12,0 1,1 5,0 1-1 12,0 1-1 6-1 1-2 0-5 -1-2 -2-1 1-1 8,0 1,1 -3,3 0,5 3,3 6,1 1-1 2,0zM1102,176l-5-1 -4,2 -7,0 -1,1 -2,0 0,3 2,0 1,1 4,0 3,3 3,0 5-4 1-2zM613,175l0,1 1,0 0-1zM1241,173l-4,1 -3,5 0,2 -2,3 0,2 -4,5 -1-2 -3-2 -5,0 -3,2 -4-2 -3,0 -2,1 -8,8 -4,2 -7,0 -2,4 1,1 14-1 6-3 6-1 4-2 7,0 2-1 2,2 2,0 1,1 8,0 2,2 0,6zM234,173l-5,4 0,5 4,4 4,2 1-1 0-9 -1-1 0-3 -1-1zM1177,183l-2-7 -2-2 -4-2 -2,0 -3,4 -9,0 -4,3 0,3 4,3 9,0 1-1 2,0 1,1 7,0zM82,169l5,1 2-1 0-2 -1-1 -3,0zM894,162l0,14 3-4 1,1 7,0 3-3 0-1 -3-3 -7,0 -2-2 0-1zM587,161l-2,2 0,5 2,2 4,0 2-3 0-3 -2-3zM574,161l-1,1 0,3 1,1 3,0 1-1 0-3 -1-1zM522,162l-7,0 -2-1 -1,1 -3,0 -3,3 0,1 3,3 0,3 -1,1 0,5 4,4 1,0 2-2 2-4 6-6 0-7zM888,155l-14,13 -5,0 -2-1 -7-8 -4-2 -4,1 -5,3 -8,0 -1-1 -3,0 -10-6 -3,0 -3,3 -4,2 -2,2 -1,4 -1,1 -1-1 -3,0 -1-1 -2,0 -4-2 -4,0 -1-1 -3,0 -1,1 -5,0 -1,1 -6,0 -1,1 -67,0 -1-1 0-2 -3-3 -3,0 -4,4 -1,2 0,4 1,1 0,7 2,3 2,0 1,1 7,0 1,1 67,0 1-1 4,0 1-1 3,0 1-1 3,0 1-1 8,1 1,1 15,0 2-4 10,0 1,1 2,0 7,7 1,2 4,2 1-1 4-1 5-4 6-3 4-1 4,5 2,1 4,0 2,2 0,5 1,2 4,2 1-1 3,0 0-3 1-1 0-5 1-1zM566,154l-3,1 -3,3 -1,0 -1,4 -1,1 2,6 2,1 3-1 1-3 2-2 1,0 2-3 0-3 -1-2zM131,153l-2,2 0,5 1,1 0,2 2,1 1-2 0-6zM13,153l0,5 1,0 0-5zM419,150l0,3 1,0 0-3zM80,169l-5-2 -3-3 -2-5 -3-3 0-4 -2-2 -4,0 -6,3 -5,5 -7,2 -2,2 0,2 -1,1 1,4 1,1 0,5 2,2 4,0 6-3 4-4 5,4 4,0 1-1 7,0 4-2zM445,159l0,11 5,6 0,6 5-7 13,2 9,5 16,16 4,1 1,1 3,0 1,1 4,0 7-3 8,0 7,3 4,0 1-1 5-1 4-3 3-1 7-6 3-1 2-4 0-4 -2-3 -6,0 -1,1 -3,0 -10,5 -6,1 -1,1 -4,0 -1,1 -9,0 -1-1 -6-1 -1-1 -6,0 -1-1 -3,0 -11-7 -15-14 4-3 1-3 -3-4 -2-1 -3,0 -1-1 -5,0 -1,1 -3,0 -2,1 -3,4 -4,0zM1115,148l0,8 1-1 0-6zM262,146l-2,2 0,2 1,1 4,0 1-3 -2-2zM205,145l0,4 1,2 2,0 -1-2 -1,1 -1-1zM570,142l-3,4 0,3 1,2 2,2 1,0 3-4 0-3 -1-2 -2-2zM685,141l-4,0 -2,1 -10,10 0,1 -4,5 0,2 -2,3 0,4 1,1 4,0 2-1 10-10 0-1 4-5 0-2 2-3 0-4zM311,144l-1,2 0,9 3,4 2,6 11,7 5,5 1,0 13,11 7,4 1-1 2,2 0,1 2,1 6,0 1,1 9,0 1,1 15,1 1,1 4,0 1,1 4,0 1,1 4,0 1,1 4,0 1,1 9,1 17,7 1,1 0,8 2,2 1,0 2-2 0-5 1-1 2,1 2,0 2-3 0-6 -1-2 -2-2 -7-2 -5-4 1-1 3,0 1,1 3,0 1,1 0-16 -4,8 -6,6 -2,0 -10-6 -2,0 -7-3 -3,0 -4-2 -3,0 -1-1 -11-2 -1-1 -15-1 -1-1 -9,0 -1,1 -6,0 -3,3 -3-4 -2,0 -4-2 -22-15 4-6 0-9 -3-5 -4-2 -3,0 -4,2 0,1zM144,137l-4,5 0,7 1,2 3,3 1,0 4-5 0-7 -1-2 -3-3zM580,136l1-1 1,1 -1,1zM4,135l0,43 4,0 6-3 2-2 0-3 -4-6 0-2 -1-1 0-9zM683,130l-1,2 1,0zM617,129l0,5 1,1 0-6zM692,128l0,6 1,0 0-5zM873,127l-2,1 1,4 1-1zM19,127l-1,1 0,3 3,6 -4,3 0,7 2,2 3,1 4-3 0-2 1-1 3,2 2,0 1-1 0-3 -4-8 -6-6zM859,126l-1,1 1,2zM554,126l0,5 1,0 0-4zM265,126l-1,1 0,3 1,1 1-1 0-3zM591,125l-1,1 0,5 1,1zM329,125l0,4 1,0 0-4zM311,125l-1,2 1,4 1-1 0-4zM832,124l-1,1 0,4 1,1 1-1 0-3zM385,121l-1,1 0,4 1,1zM377,120l0,2 -1,1 1,2zM199,119l0,5 1,1 0-6zM250,116l-2,2 0,2 -1,1 0,9 1,1 0,2 2,2 3,0 2-4 0-11 -2-4zM675,114l-1,1 0,5 2,1 1-1 0-5zM13,113l-3,3 0,7 3,3 1,0 3-3 0-7 -3-3zM193,112l0,9 1,0 0-9zM75,110l0,4 1,0 1-2 -1-2zM48,109l0,5 1-2 0-2zM303,108l-2,2 0,3 2,2 1,0 2-2 0-3 -2-2zM292,106l-1,1 0,5 1,1 3,0 1-1 0-5 -1-1zM90,101l-1,2 0,7 1,2 1-1 0-9zM11,101l-1,1 0,7 1,1 1-2 0-5zM574,98l-3,3 -1,0 -2,4 0,3 -1,1 0,5 -2,2 -1,6 1,1 0,2 2,2 3,0 1-1 2,1 0,3 1,1 0,4 2,3 3,0 1-1 2,2 0,3 1,2 1,0 1-2 0-3 1-1 -1-2 0-10 -2-2 -1,0 -2,2 0,2 -1,1 -3,0 -1-1 0-3 -1-1 1-2 0-3 1-1 0-7 1-1 2,1 2-2 0-6 -6-5zM415,92l-2,2 0,2 -1,1 0,5 1,1 0,2 2,2 1,0 2-2 0-2 1-1 0-5 -1-1 0-2 -2-2zM569,82l0,2 -1,1 0,5 1,1 0,2 1,0 0-2 1-1 0-5 -1-1 0-2zM696,72l0,2 -1,1 0,5 1,1 0,2 1,0 1-1 0-9zM301,63l-1,2 0,5 1,2 1,0 1-2 0-5 -1-2z"/>
<path fill="#787878" d="M400,244l0,2 2,1 1-2 -1-1zM826,235l0,2 1,0zM828,241l1,3 3,3 4,1 1,1 11,0 1-1 2,0 2-1 4-5 -1-3 -3-3 -4-1 -1-1 -11,0 -1,1 -2,0 -2,1zM888,233l-7,0 -6,3 -2,2 -3,0 -2,2 0,3 2,2 14,0 1-1 2,0 1-1zM312,235l-2-3 -3,0 -3,4 -2-3 -3,0 -1,1 -3-1 -1,1 -10,0 -1,1 -7,0 -1,1 -6,0 -1,1 -33,2 -1,1 -4,0 0,1 4,0 1,1 8,0 1,1 16,0 1,1 11,0 3,3 7,2 1-1 2,0 3-4 8,0 2-3 2,2 1,0 3-4 1,0 2,3 3,0 2-3zM223,240l-2-2 0-4 -3-4 -35,0 -1,1 -28,0 -1,1 -28,0 -1,1 -33,0 -1,1 -24,0 -2,2 -1,2 0,3 -1,1 -7,0 -1-1 0-3 -3-4 -22,0 -2,2 -1,2 0,3 -1,1 -2,0 -2-2 0-2 -3-3 -5,0 -3,3 0,2 -2,2 -4,0 -1,1 1,1 4,0 2,2 0,2 5,4 3-1 3-3 0-2 2-2 2,0 1,1 0,3 2,4 24,0 2-4 0-4 1-1 6,0 2,2 0,4 3,3 79,0 1-1 38,0 1-1 33-1 2-2 1-2 0-3 2-1zM320,230l0,4 3,2 20,0 1-1 33,0 1,1 -1,1 0,3 -1,1 1,1 0,2 2,2 1,0 6-5 2-4 -1-1 1-1 8,0 1,1 18,0 2-3 0-7 -3-3 -7,0 -1-1 -12-1 -1-1 -7,0 -1-1 -7,0 -1-1 -11,0 -1-1 -24,0 -1,1 -4,0 -4,2 -10,8 -1,0zM685,203l-2,2 0,5 2,2 2,0 1,1 4,0 4-3 0-5 -2-2 -2-1 -4,0 -1,1zM889,206l0,9 3,4 41,0 1-1 10,0 1-1 8,0 1-1 19,0 1,1 4,0 1,1 8,1 1,1 8,1 1,1 12,1 1,1 5,0 1,1 8,0 1,1 52,1 1-1 11,0 1-1 8,0 1-1 8,0 1-1 8,0 1-1 13,0 1,1 7,0 1,1 6,0 1,1 11,0 1,1 3,0 1-1 8,0 1-1 5,0 1-1 16,0 1,1 3,0 1,1 3,0 1,1 3,0 1,1 3,0 1,1 10,1 1,1 5,0 1,1 5,0 1,1 6,0 1,1 4,0 3-3 0-7 -1-2 -3-2 -4,0 -1-1 -11-2 -4-2 -7-1 -4-2 -3,0 -4-2 -3,0 -1-1 -6-1 -1-1 -3,0 -1-1 -11,1 -4,2 -3,0 -1,1 -6,1 -1,1 -3,0 -1,1 -4,0 -1-1 -7-1 -4-2 -8-1 -1-1 -5,0 -1-1 -16,0 -1,1 -8,0 -1,1 -17,1 -1,1 -50,0 -1-1 -15,0 -1-1 -6,0 -1-1 -5,0 -1-1 -11-1 -1-1 -4,0 -1-1 -3,0 -1-1 -4,0 -1-1 -4,0 -1-1 -7,0 -2-1 -1,1 -11,0 -1,1 -21,1 -1,1 -38,0zM294,195l-2-2 -14,0 -1,1 -11,2 -12,5 -5,0 -1-1 -23,0 -1,1 -13,0 -3,4 0,7 3,4 13,0 1,1 21,0 4-2 14,0 1-1 3,0 1-1 11-3 2-2 5-2 2-2 2,0 3-3zM591,198l1,2 0,3 3,3 4,0 1,1 16,0 1,1 11,0 9,5 4,0 1,1 25,0 1-1 4,0 1-1 2,0 2-1 1-2 0-3 -1-2 -7-3 -8-1 -1-1 -5,0 -1-1 -27-1 -4-2 -2-2 -4-1 -1-1 -10,0 -1-1 -3,0 -1,1 -7,0 -3,3 0,3zM1227,191l-1-2 -2-1 -5,0 -2,1 -2,4 -3-3 -5,0 -6,6 0,2 1,1 2,0 4-2 3,0 4-2 0-2 1-1 1,2 2,1 5,0 2-1zM101,191l1,3 2,1 3,0 1,1 0,3 5,3 9,0 5-3 0-3 -5-3 -7,0 -2-4 -2-1 -7,0 -2,1zM670,183l0,2 2,1 0-3zM1084,179l1,2 3,0 1,1 3-1 2,2 2,0 3-3 0-2 -2-1 -2,1 -4,0 -2-1 -1,1 -3,0zM1241,175l-4,2 -4,8 0,2 -2,3 0,2 -1,1 1,2 3,0 5-5 2-4zM1176,182l-1-4 -4-4 -4,0 -2,3 -2,0 -1-1 -5,0 -1,1 -2,0 -3,3 0,1 3,3 2,0 1,1 5,0 1-1 2,0 2-2 2,2 5,0zM894,164l0,9 2-2 4,2 3,0 4-3 0-1 -4-3 -3,0 -3,2 -2-4zM574,162l0,3 3,0 0-3zM521,164l-2,0 -4-2 -3,0 -4,2 0,3 3,2 -2,4 0,4 2,2 2,0 8-8 1-2 0-4zM588,161l-2,1 -1,2 0,3 1,2 4,1 2-2 1-3 -3-4zM888,157l-8,7 -5,9 -5,0 -3,2 0,5 3,2 7,0 1,1 0,4 2,4 4,0 2-8 2-3zM866,171l-4-8 -5-4 -4,0 -5,3 -11,0 -1-1 -8-2 -3-2 -5,0 -1,1 0,3 -1,1 -2,0 -2,2 0,2 -1,1 -1-1 -3,0 -1-1 -2,0 -4-2 -3,0 -1-1 -10,0 -1,1 -4,0 -1,1 -72,0 -3-4 -2,0 -2,1 -2,3 -1,11 3,4 5,0 1,1 54,0 1,1 8,0 1-1 11,0 1-1 3,0 4-2 8,0 1,1 4,0 1,1 11,0 2-3 0-2 1-1 2,0 1,1 11,0 8,9 4,1 6-3 2-2 7-3 2-2 3-1zM567,155l-3,0 -6,5 0,7 2,2 3,0 2-2 0-2 4-3 1-3zM65,151l-5,0 -4,2 -7,6 -2,0 -4,2 -2,5 1,1 1,8 1,1 5,0 7-4 4-4 3,0 1,1 1-1 4,0 0-6 -3-4 0-6zM445,160l0,9 2,4 3,2 0,2 1,0 2-3 2,1 6,0 1,1 4,0 1,1 2,0 10,6 12,13 8,4 9,0 7-3 4,0 7,3 8,0 7-3 9-7 4-2 2-2 0-3 1-1 -1-3 -2-2 -2,0 -1,1 -4,0 -6,3 -2,0 -3,2 -2,0 -4,2 -3,0 -1,1 -4,0 -1,1 -5,0 -1-1 -3,0 -4-2 -4,0 -1-1 -5,0 -1-1 -2,0 -7-4 -19-17 4-4 0-3 -3-3 -2,0 -1-1 -7,0 -1,1 -2,0 -4,4 -4,0 -2,1zM569,143l-1,1 0,7 1,1 3,0 1-1 0-7 -1-1zM685,142l-2-1 -1,1 -2,0 -10,9 -5,8 0,2 -1,1 0,5 2,1 1-1 2,0 10-9 5-8 0-2 1-1zM311,145l0,2 -1,1 0,5 1,1 0,2 3,4 1,4 7,4 24,20 5,3 2-1 3,4 3,0 1,1 7,0 1,1 17,1 1,1 11,1 1,1 4,0 1,1 3,0 1,1 4,0 1,1 8,1 17,7 1,1 -1,1 0,5 2,3 2-1 1-2 0-3 1-1 4,0 2-3 0-4 -3-4 -4-2 -2,0 -4-3 -3-1 -5-4 -14-6 -3,0 -4-2 -7-1 -4-2 -4,0 -1-1 -4,0 -1-1 -7,0 -1-1 -18,0 -1,1 -3,0 -2,3 -3-4 -12-6 -17-12 4-5 0-2 1-1 0-5 -1-1 0-2 -3-4 -2-1 -5,0 -2,1zM4,139l0,36 5,0 4-3 0-4 -3-6 -1-11zM144,138l-3,3 0,9 3,3 1,0 3-3 0-9 -3-3zM581,133l1-1 1,1 -1,1zM19,129l1,5 2,3 -4,3 -1,2 0,3 3,4 3,0 2-2 2-4 1,1 4,0 0-2 -3-7 -6-6zM872,128l0,2 1-1zM574,127l0,3 1,1 -1,3 2,3 3,0 2-3 1,1 0,6 1,2 1,0 1-2 0-7 -1-1 1-2 0-4 -1-2 -3,0 -1,4 -1,1 -3,0 -1,1 -1-1zM675,117l0,1 1,0 0-1zM251,116l-2,1 -1,2 0,3 -1,1 0,5 1,1 0,3 1,2 3,1 3-6 0-7 -1-1 -1-4zM13,114l-3,4 0,3 1,2 2,2 1,0 3-4 0-3 -1-2 -2-2zM302,109l0,5 3,0 0-5zM293,106l-2,2 0,3 2,2 1,0 2-2 0-3 -2-2zM576,99l-3,0 -4,5 0,2 -1,1 0,7 -3,3 0,7 2,2 3,0 4-3 0-2 1-1 0-9 1-1 4,0 1-2 0-4 -2-1zM415,93l-2,2 0,9 2,2 1,0 2-2 0-9 -2-2zM569,84l0,7 1,0 0-7zM696,73l0,9 1,0 1-2 0-5 -1-2zM301,64l0,7 1,0 0-7z"/>
<path fill="#808080" d="M383,238l-2-1 -2,1 0,4 2,0 2-2zM887,237l-2-2 -4,0 -4,2 -2,3 -4-2 -2,1 0,5 3,1 2-1 0-2 1-1 3,2 5,0 4-3zM14,235l-2,1 -2,3 0,8 3,4 5,0 3-4 0-8 -2-3 -2-1zM829,240l0,3 1,2 5,3 3,0 1,1 7,0 1-1 3,0 5-3 1-2 0-3 -1-2 -5-3 -3,0 -1-1 -7,0 -1,1 -3,0 -5,3zM27,236l0,2 -1,1 0,8 1,1 0,2 2,2 22,0 2-2 0-2 1-1 0-8 -1-1 0-2 -2-2 -22,0zM312,236l-2-4 -3,0 -3,6 -1-1 0-2 -2-2 -1,0 -2,2 -2-1 -6,0 -1,1 -14,1 -1,1 -5,0 -1,1 -5,0 -1,1 -8,0 -1,1 -4,0 0,1 4,0 1,1 10,0 1,1 10,0 4,3 4,0 2-3 11,0 2-2 2,2 1,0 2-2 0-2 1-1 1,0 1,2 2,2 1,0 2-2zM221,235l-2-4 -51,0 -1,1 -27,0 -1,1 -65,1 -1,1 -8,0 -2,3 0,10 2,3 7,0 1,1 51,0 1-1 40,0 1-1 27,0 1-1 18,0 1-1 6,0 1-1 0-2 1-1zM320,231l0,2 2,2 3,0 1,1 12,0 1-1 73,0 1,1 2-1 2-3 0-5 -2-3 -4,0 -1-1 -6,0 -1-1 -6,0 -1-1 -6,0 -1-1 -6,0 -1-1 -8,0 -1-1 -16,0 -1-1 -6,0 -1,1 -11,0 -1,1 -2,0 -5,3 -3,3 -1,0 -4,4 -1,0zM689,202l-5,4 0,3 3,3 4,1 4-2 1-2 0-3 -1-2 -4-2zM889,207l0,7 4,5 47-1 1-1 8,0 1-1 19-1 1,1 5,0 1,1 4,0 1,1 3,0 1,1 4,0 1,1 3,0 1,1 5,0 1,1 5,0 1,1 5,0 1,1 6,0 1,1 15,0 1,1 50,0 1-1 9,0 1-1 16-1 1-1 21,0 1,1 7,0 1,1 6,0 1,1 17,0 1-1 6,0 1-1 5,0 1-1 9,0 1,1 4,0 1,1 3,0 1,1 3,0 1,1 3,0 1,1 3,0 1,1 5,0 1,1 5,0 1,1 5,0 1,1 6,0 1,1 8,0 2-4 0-4 -3-4 -3,0 -1-1 -11-2 -4-2 -7-1 -4-2 -3,0 -4-2 -3,0 -1-1 -6-1 -1-1 -3,0 -1-1 -11,0 -1,1 -3,0 -1,1 -6,1 -1,1 -6,1 -1,1 -8,0 -1-1 -3,0 -4-2 -8-1 -1-1 -4,0 -1-1 -5,0 -1-1 -9,0 -1,1 -8,0 -1,1 -17,1 -1,1 -11,0 -1,1 -23,0 -1-1 -28,0 -1-1 -8,0 -1-1 -6,0 -1-1 -5,0 -1-1 -5,0 -1-1 -9-1 -1-1 -8-1 -1-1 -4,0 -1-1 -15,0 -1,1 -9,0 -1,1 -9,0 -1,1 -44,0 -2,2 0,2zM109,195l1-1 1,1 -1,1zM1209,193l-2,0 -2,2 1,1 2-1zM294,196l-1-2 -2,0 -1-1 -10,0 -1,1 -3,0 -1,1 -11,2 -8,4 -9,0 -1-1 -13,0 -1,1 -14,0 -1,1 -7,0 -2,4 0,5 2,4 7,0 1,1 14,0 1,1 11,0 7-3 16,0 1-1 11-3 4-3 3-1 2-2 4-1 2-3zM592,195l0,7 2,3 2,0 1,1 4,0 1,1 25,0 12,6 10,0 1,1 19-1 1-1 3,0 4-2 0-5 -3-2 -2,0 -4-2 -3,0 -1-1 -5,0 -1-1 -7,0 -1-1 -21,0 -10-6 -4,0 -1-1 -15,0 -1,1 -4,0zM1221,188l-2,1 -2,2 0,1 2,2 3,1 2-1 2-2 0-1 -2-2zM102,190l0,3 4,2 3,0 1,1 0,3 3,2 9,0 3-2 0-3 -3-2 -8,0 -1-1 0-3 -1-1 -6-1zM1085,179l0,1 2,1 5,0 2-1 0-1 -2-1 -5,0zM1174,179l-2-3 -4-1 -2,4 -2-2 -9,0 -3,3 0,1 3,3 9,0 3-3 2,2 4,0 1-1zM897,169l0,1 2,2 5,0 2-2 0-1 -2-2 -5,0zM515,163l-3,0 -3,2 0,1 3,2 0,2 -1,1 0,4 1,1 1,0 7-6 0-4zM819,176l0-5 -2-3 -6-1 -1-1 -3,0 -1-1 -2,0 -4-2 -3,0 -1-1 -5,0 -1,1 -5,0 -1,1 -7,0 -1,1 -23,0 -1-1 -38,0 -1,1 -4,0 -1-2 -3,0 -3,3 -1,4 -1,1 1,6 1,1 2,0 1,1 6,0 1,1 69,0 1-1 4,0 1-1 3,0 1-1 11,0 1,1 15,0zM587,162l-1,1 0,5 1,1 4,0 1-1 0-5 -1-1zM575,162l-1,2 2,1 1-2zM888,160l-1,0 -6,6 -2,7 -1,1 -2-1 -5,0 -2,1 -2,3 1,3 3,2 5,0 1-1 2,0 1,1 0,4 1,2 1,0 2-2 0-2 4-7zM819,160l1,3 2,1 -2,3 2,4 2,1 6,0 1-1 3,0 4,3 2,4 3,3 3,0 2-1 5-5 8,0 3-3 0-3 -7-8 -4,0 -5,3 -8,0 -1-1 -6,0 -1-1 -5-1 -2-2 0-1 -2-1 -3,1zM567,155l-3,0 -6,6 0,5 3,3 1,0 3-3 0-1 4-3 0-5zM445,161l0,7 1,1 0,2 3,3 9,0 1,1 5,0 1,1 3,0 9,5 16,16 4,2 3,0 1,1 5,0 7-3 8,0 7,3 5,0 9-4 14-11 0-5 -1-2 -6,0 -1,1 -3,0 -10,5 -3,0 -1,1 -2,0 -1,1 -4,0 -1,1 -9,0 -1-1 -6-1 -1-1 -10-1 -11-7 -15-14 -2-1 0-1 4-3 0-3 -4-3 -9,0 -2,1 -3,4 -6,0 -2,2 0,2zM65,152l-2-1 -4,1 -4,2 -6,6 -2,0 -4,3 -1,3 1,1 0,6 1,2 3,1 7-3 7-7 5-10zM4,149l0,23 3,0 2-1 1-4 -1-1 0-3 -1-1 0-4 -1-1 -1-4 -2-2zM569,144l-1,1 0,5 1,1 3,0 1-1 0-5 -1-1zM683,142l-5,2 -9,9 -4,7 0,3 -1,1 0,1 2,2 5-2 9-9 4-7 0-3 1-1 0-1zM311,147l0,7 2,4 2,2 0,3 3,1 3,3 1,0 25,21 4,2 2-1 4,5 6,0 1,1 8,0 1,1 15,1 1,1 5,0 1,1 4,0 1,1 4,0 1,1 3,0 1,1 5,0 1,1 7,1 14,6 2,2 0,7 1,1 2-1 0-5 1-1 4,1 2-2 0-6 -1-2 -10-4 -5-4 -3-1 -2-2 -6-3 -2,0 -1-1 -2,0 -7-3 -7-1 -1-1 -6-1 -1-1 -11-1 -1-1 -7,0 -1-1 -11,0 -1,1 -5,0 -3,4 -2-4 -6-2 -2-2 -8-4 -2-2 -7-4 -3-3 -4-2 4-3 2-4 0-7 -2-4 -2-2 -7,0 -2,2zM144,139l-3,4 0,5 1,2 2,2 1,0 3-4 0-5 -1-2 -2-2zM21,130l-1,2 3,6 -1,1 -2,0 -2,2 0,5 2,2 3,0 2-2 0-4 1-1 2,2 2,0 1-2 -3-6 -5-5zM582,125l-3,5 -3,0 -1,1 0,5 1,1 3,0 1-1 0-4 1-1 2,2 -1,2 0,5 1,2 1,0 1-2 0-5 -2-3 2-2 0-2 -1-2zM250,117l-2,3 0,11 2,3 2,0 2-3 1-7 -1-1 0-3 -2-3zM13,115l-2,2 0,5 2,2 1,0 2-2 0-5 -2-2zM303,110l-1,2 2,1 1-2zM293,107l-1,1 0,3 2,1 1-1 0-3zM575,99l-1,0 -5,7 0,3 -1,1 0,4 -3,4 0,5 2,3 3,0 3-3 1-2 0-3 1-1 0-7 1-1 3,1 2-3 0-2 -2-2 -1,0zM415,94l-2,3 0,5 1,2 2,1 2-3 0-5 -1-2zM697,74l-1,1 0,5 1,1zM301,66l0,3 1,0 0-3z"/>
<path fill="#878787" d="M870,239l-1,1 0,3 1,1 3,0 1-1 0-3 -1-1zM27,237l0,3 -1,1 0,5 1,1 1,4 24,0 1-4 1-1 0-5 -1-1 0-3 -2-2 -22,0zM15,235l-2,1 -3,4 0,6 4,5 3,0 4-5 0-6 -3-4zM830,239l0,5 2,2 4,2 5,0 1,1 2-1 5,0 4-2 2-2 0-5 -2-2 -4-2 -5,0 -1-1 -2,1 -5,0 -4,2zM303,235l-1-1 -3,0 -2,2 -1-1 -15,1 -1,1 -10,1 -1,1 -4,1 0,1 3,0 1,1 16,0 1,1 9,0 2-2 2,1 3,0 1-1zM308,232l-2,2 0,6 1,1 3,0 1-1 0-6 -2-2zM221,236l-1-1 0-2 -2-2 -35,0 -1,1 -29,0 -1,1 -28,0 -1,1 -32,0 -1,1 -24,0 -3,4 0,8 3,4 80,0 1-1 37,0 1-1 33-1 2-2 0-2 1-1zM321,233l4,2 19,0 1-1 51,0 1,1 18,0 2-4 0-3 -3-4 -7,0 -1-1 -12-1 -1-1 -6,0 -1-1 -7,0 -1-1 -10,0 -1-1 -26,0 -1,1 -4,0 -7,4 -8,8zM687,203l-2,2 0,5 2,2 6,0 3-4 -1-3 -2-2zM889,208l0,5 1,1 0,2 2,2 43,0 1-1 9,0 1-1 9,0 1-1 16,0 1,1 9,1 1,1 3,0 1,1 4,0 1,1 4,0 1,1 4,0 1,1 12,1 1,1 7,0 1,1 26,0 1,1 29,0 1-1 11,0 1-1 8,0 1-1 16-1 1-1 10,0 1,1 8,0 1,1 7,0 1,1 25,0 1-1 5,0 1-1 15,0 1,1 3,0 1,1 3,0 1,1 3,0 1,1 3,0 1,1 4,0 1,1 4,0 1,1 6,0 1,1 5,0 1,1 8,0 1,1 2,0 2-2 0-7 -1-2 -6-1 -1-1 -3,0 -1-1 -3,0 -1-1 -3,0 -4-2 -3,0 -4-2 -3,0 -4-2 -3,0 -4-2 -3,0 -1-1 -2,0 -1-1 -4,0 -1-1 -7,0 -1,1 -7,1 -1,1 -2,0 -4,2 -3,0 -1,1 -3,0 -1,1 -4,0 -1-1 -7-1 -4-2 -8-1 -1-1 -4,0 -1-1 -18,0 -1,1 -8,0 -1,1 -7,0 -1,1 -10,0 -1,1 -44,0 -1-1 -18,0 -1-1 -6,0 -1-1 -5,0 -1-1 -6,0 -1-1 -4,0 -1-1 -9-1 -1-1 -8-1 -1-1 -13-1 -1,1 -10,0 -1,1 -8,0 -1,1 -14,0 -1,1 -32-1 -4,3 0,2zM112,196l0,3 2,1 7,0 2-1 0-3 -2-1 -7,0zM293,195l-1-1 -15,0 -1,1 -3,0 -1,1 -3,0 -1,1 -5,1 -3,2 -2,0 -4,2 -5,0 -1-1 -4,0 -1-1 -3,0 -1,1 -14,0 -1,1 -13,0 -2,2 0,3 -1,2 1,1 0,3 2,2 13,0 1,1 21,0 4-2 15,0 1-1 6-1 6-3 2,0 4-3 3-1 2-2 3-1 1-1zM592,196l0,5 3,4 3,0 1,1 30,1 2,2 6,3 3,0 1,1 25,0 1-1 4,0 3-2 2,0 1-2 -1-3 -4-2 -5-1 -1-1 -4,0 -1-1 -4,0 -1-1 -28-1 -4-2 -2-2 -4-1 -1-1 -8,0 -1-1 -13,1zM1220,189l-2,2 0,1 2,2 3,0 2-2 0-1 -2-2zM103,190l0,3 2,1 5,0 2-1 0-3 -2-1 -5,0zM1088,179l0,1 3,0 0-1zM1169,177l0,3 2,2 1-1 0-3zM1153,179l0,3 4,2 5,0 4-2 0-3 -4-2 -5,0zM873,173l-1,1 -2,0 -2,2 0,3 2,2 4,1 1-1 2,0 2-2 0-3 -2-2zM898,169l1,2 5,0 1-1 -1-2 -5,0zM839,166l-1,1 0,2 2,4 3,4 2,0 1-2 0-4 -1-1 0-2 -3-2zM824,168l3,2 2-1 2-2 0-1 -1-1 -4,0 -2,2zM851,167l1,1 0,5 4,2 3,0 4-2 0-5 -3-1 -3-3 -4,0zM511,165l0,1 2,1 0,4 1,1 2,0 1-1 -1-6 -2-1zM888,163l-4,4 -2,4 -1,6 2,4 5-10zM819,173l-1-1 0-2 -2-2 -7-1 -1-1 -2,0 -7-3 -12,0 -1,1 -4,0 -1,1 -72,0 -1,1 -5,0 -2,2 0,8 2,2 4,0 1,1 40,0 1,1 27,0 1-1 7,0 1-1 3,0 1-1 3,0 1-1 6,0 1,1 4,0 1,1 12,0 1-1zM575,163l0,1 1,0 0-1zM588,162l-2,2 0,3 2,2 2,0 2-2 0-3 -2-2zM318,162l21,19 1,0 8,7 2,1 2,0 1-1 3,5 3,0 1,1 7,0 1,1 8,0 1,1 7,0 1,1 6,0 1,1 4,0 1,1 4,0 1,1 4,0 1,1 4,0 1,1 8,1 17,7 2,2 -1,2 0,3 1,2 1,0 1-2 0-3 -1-1 1-1 6,1 1-2 0-4 -2-3 -4-1 -6-3 -8-6 -8-4 -2,0 -7-3 -7-1 -4-2 -7-1 -1-1 -12-1 -1-1 -10,0 -1-1 -1,1 -7,0 -1,1 -3,0 -2,4 -2-4 -11-5 -13-9zM821,158l-1,1 0,3 1,1 3,0 1-1 0-3 -1-1zM4,158l0,11 2-2 0-5zM567,156l-3,0 -5,4 -1,4 2,4 3,0 1-1 0-2 5-4 0-3zM63,152l-3,0 -4,2 -3,3 -1,0 -3,4 -2,0 -3,2 0,10 2,2 3,0 4-2 3-3 1,0 5-6 3-6 0-4zM445,163l0,4 3,6 5,0 1,1 7,0 1,1 4,0 9,4 2,2 1,0 14,15 7,3 9,0 6-3 6,0 6,3 8,0 7-3 2-2 4-2 4-4 3-1 2-4 -1-4 -8,0 -1,1 -5,1 -5,3 -6,1 -1,1 -3,0 -1,1 -3,0 -1,1 -6,0 -7-3 -13-2 -8-5 -14-13 -1,0 -6-5 4-2 1-3 -1-2 -2-1 -3,0 -1-1 -7,2 0,1 -2,2 -6,0 -2,1 -1,2 0,3zM570,144l-2,4 1,2 2,1 2-4 -1-2zM683,143l-2,0 -4,2 -9,10 -3,7 0,3 1,1 2,0 4-2 9-10 3-7 0-3zM317,141l-4,3 -1,4 -1,1 0,3 1,1 1,4 2,2 2,1 3,0 4-3 1-4 1-1 0-3 -1-1 -1-4 -2-2 -2-1zM144,140l-2,2 0,7 2,2 1,0 2-2 0-7 -2-2zM21,139l-2,2 -1,3 1,2 2,2 1,0 2-2 1-3 -1-2 -2-2zM583,135l0,5 1,0 0-5zM22,132l0,3 1,2 4,4 2,0 0-3 -1-2 -4-4zM583,126l-2,1 0,4 -1,1 -1-1 -3,0 -1,1 0,3 1,1 3,0 1-1 0-3 1-1 3,0 0-4zM250,118l-2,3 0,9 2,3 2,0 2-3 0-9 -2-3zM13,116l-1,1 0,5 2,1 1-1 0-5zM303,111l0,1 1,0 0-1zM293,108l-1,2 2,1 1-2zM576,100l-3,0 -1,4 -3,4 0,7 -2,1 -2,3 0,3 2,3 3,0 4-6 0-9 3-2 1,1 2-1 0-4 -2,0zM415,95l-1,1 -1,4 1,1 0,2 2,1 1-1 1-4 -1-1 0-2z"/>
<path fill="#8f8f8f" d="M870,239l-1,2 1,3 3,0 1-2 -1-3zM14,236l-2,1 -2,4 0,4 3,5 5,0 3-5 0-4 -2-4 -2-1zM830,240l0,3 3,3 4,2 11,0 4-2 3-3 0-3 -3-3 -4-2 -11,0 -4,2zM28,236l-2,8 1,1 0,3 2,3 22,0 1-1 2-8 -1-1 0-3 -2-3 -22,0zM303,236l-1-2 -3,0 0,1 -2,2 -1-2 -2,0 -1,1 -12,1 -1,1 -3,0 -4,2 1,1 8,0 1,1 13,0 0-1 2-1 2,2 1,0 2-2zM307,233l-1,1 0,6 1,1 3,0 1-1 0-6 -1-1zM221,237l-1-1 0-2 -2-2 -51,0 -1,1 -59,1 -1,1 -33,0 -1,1 -7,0 -2,4 0,6 1,1 0,2 3,2 60,0 1-1 39,0 1-1 25,0 1-1 17,0 1-1 7,0 1-4 1-1zM323,230l0,3 4,2 12,0 1-1 72,0 1,1 3-2 0-6 -2-2 -3,0 -1-1 -6,0 -1-1 -5,0 -1-1 -6,0 -1-1 -7,0 -1-1 -7,0 -1-1 -14,0 -1-1 -22,1 -7,4zM439,214l0,3 1,0 0-3zM686,204l-1,2 0,3 1,2 2,1 4,0 3-2 0-5 -3-2 -4,0zM889,209l1,6 3,3 35,0 1-1 12,0 1-1 9,0 1-1 9,0 1-1 6,0 1,1 5,0 1,1 9,1 1,1 8,1 1,1 4,0 1,1 5,0 1,1 5,0 1,1 6,0 1,1 11,0 1,1 34,0 1,1 6,0 1-1 14,0 1-1 18-1 1-1 7,0 1-1 19,0 1,1 7,0 1,1 7,0 1,1 17,0 1-1 6,0 1-1 6,0 1-1 7,0 1,1 5,0 1,1 3,0 1,1 6,1 1,1 4,0 1,1 4,0 1,1 5,0 1,1 6,0 1,1 6,0 1,1 7,0 2-2 0-5 -2-3 -4,0 -4-2 -7-1 -4-2 -3,0 -4-2 -3,0 -4-2 -3,0 -1-1 -6-1 -1-1 -6-1 -1-1 -12,0 -1,1 -3,0 -4,2 -3,0 -7,3 -9,0 -1-1 -3,0 -4-2 -3,0 -1-1 -3,0 -1-1 -4,0 -1-1 -5,0 -1-1 -12,0 -1,1 -16,1 -1,1 -8,0 -1,1 -12,0 -1,1 -16,0 -1-1 -31,0 -1-1 -9,0 -1-1 -6,0 -1-1 -5,0 -1-1 -5,0 -1-1 -4,0 -1-1 -9-1 -1-1 -8-1 -1-1 -18,0 -1,1 -19,1 -1,1 -42,0zM114,197l0,1 2,1 3,0 2-1 0-1 -2-1 -3,0zM293,196l-1-1 -3,0 -1-1 -8,0 -1,1 -4,0 -1,1 -7,1 -6,3 -2,0 -3,2 -9,0 -1-1 -14,0 -1,1 -14,0 -1,1 -5,0 -2,2 0,7 2,2 5,0 1,1 14,0 1,1 12,0 7-3 16,0 1-1 11-3 4-3 3-1 2-2 3-1 2-2zM592,197l1,6 4,2 4,0 1,1 26,0 10,6 8,0 1,1 13,0 1-1 8,0 1-1 4-1 2-2 0-2 -8-4 -8-1 -1-1 -6,0 -1-1 -23,0 -1-1 -2,0 -3-3 -4-2 -3,0 -1-1 -17,0 -1,1 -3,0zM1221,190l-1,2 2,1 1-2zM107,189l-2,1 -1,2 4,2 2-1 1-2zM1154,179l0,3 2,1 7,0 2-1 0-3 -2-1 -7,0zM868,177l0,1 3,3 5,0 3-3 0-1 -3-3 -5,0zM332,172l16,15 4,2 1-2 2,2 0,2 2,2 6,0 1,1 7,0 1,1 15,1 1,1 5,0 1,1 4,0 1,1 4,0 1,1 4,0 1,1 9,1 1,1 6,1 3,2 2,0 7,4 2,0 4,2 4,0 1-2 0-2 -3-4 -2,0 -6-3 -10-7 -6-3 -2,0 -3-2 -3,0 -7-3 -3,0 -1-1 -3,0 -1-1 -3,0 -1-1 -3,0 -1-1 -14-1 -1-1 -12,0 -1,1 -5,0 -2,2 0,2 -1,1 -3-5 -2,0zM900,169l0,1 3,0 0-1zM852,169l0,3 2,2 7,0 2-2 0-3 -2-2 -7,0zM515,167l-2,2 0,1 2,2 1-1 0-3zM818,170l-1-1 -6-1 -1-1 -2,0 -7-3 -3,0 -1-1 -8,0 -1,1 -4,0 -1,1 -71,0 -1,1 -5,0 -1,1 -3,0 -1,2 0,6 1,2 2,1 6,0 1,1 71,0 1-1 4,0 4-2 10,0 1,1 15,0 1-1zM587,163l-1,2 1,3 3,0 1-1 0-3 -1-1zM822,158l-2,2 0,1 2,2 1,0 2-2 0-1 -2-2zM567,156l-3,0 -1,2 -4,3 0,5 2,2 1,0 2-2 0-2 1-1 2,0 1-1 1-3zM63,153l-4,0 -4,2 -10,9 0,9 1,1 4,0 4-2 7-7 3-6 0-5zM446,160l0,9 3,4 15,1 1,1 3,0 6,3 2,2 1,0 11,11 1,2 1,0 3,3 7,3 7,0 3-2 2,0 4-2 2,0 1,1 2,0 7,3 5,0 9-4 13-10 0-5 -1-1 -5,0 -1,1 -6,1 -5,3 -2,0 -4,2 -3,0 -1,1 -3,0 -1,1 -3,0 -1,1 -2-1 -4,0 -6-3 -5,0 -1-1 -4,0 -1-1 -2,0 -5-3 -3-3 -1,0 -15-14 -5-3 1-2 2,0 1-1 0-3 -1-1 -6-1 -1,1 -2,0 -2,4 -9,0zM570,145l-1,1 0,3 2,1 1-1 0-3zM683,144l-3,0 -2,1 -8,8 -4,7 0,5 3,0 2-1 8-8 4-7zM316,142l-4,5 0,7 4,5 5,0 4-5 0-7 -4-5zM144,141l-2,3 0,3 1,2 2,1 2-3 0-3 -1-2zM21,140l-2,2 0,3 2,2 1,0 2-2 0-3 -2-2zM583,136l0,3 1,0 0-3zM24,134l1,4 2,1 -1-4zM577,131l-1,1 0,3 2,1 1-1 0-3zM582,127l-1,1 0,2 2,1 1-1 0-2zM251,118l-2,2 0,2 -1,1 0,5 1,1 0,2 2,2 3-4 0-7zM13,118l0,3 1,0 0-3zM293,109l0,1 1,0 0-1zM576,101l-3,0 -1,1 0,4 -2,2 -1,7 -2,1 -1,2 0,5 1,2 3,0 1-4 2-2 0-3 1-1 -1-6 4-2 1,1 2-1 0-2 -2-1zM415,96l-1,1 0,5 2,1 1-1 0-5z"/>
<path fill="#969696" d="M870,240l0,3 3,0 0-3zM296,236l-13,2 -2,1 0,1 3,0 1,1 11,0zM27,238l0,10 1,2 24,0 1-2 0-10 -2-2 -22,0zM15,236l-2,1 -2,3 0,7 3,3 3,0 3-3 0-7 -2-3zM831,239l0,5 4,3 3,0 1,1 7,0 1-1 3,0 4-3 0-5 -4-3 -3,0 -1-1 -7,0 -1,1 -3,0zM300,234l-2,2 0,4 2,2 1,0 2-2 0-4 -2-2zM307,233l-1,2 0,4 2,2 1,0 2-2 0-4 -1-2zM221,238l-3-6 -37,0 -1,1 -58,1 -1,1 -32,0 -1,1 -22,0 -2,2 -1,6 1,1 0,3 2,2 82,0 1-1 36,0 1-1 32-1 2-2zM324,230l0,2 2,2 6,0 1,1 2-1 12,0 1-1 46,0 1,1 19,0 2-2 0-4 -1-2 -2-1 -6,0 -1-1 -12-1 -1-1 -6,0 -1-1 -6,0 -1-1 -9,0 -1-1 -29,0 -1,1 -3,0 -4,2 -3,3 -1,0zM689,203l-4,3 0,3 4,3 3,0 3-3 0-3 -3-3zM890,206l0,8 2,3 45,0 1-1 9,0 1-1 9,0 1-1 13,0 1,1 9,1 1,1 8,1 1,1 4,0 1,1 4,0 1,1 6,0 1,1 13,1 1,1 21,0 1,1 37,0 1-1 10,0 1-1 8,0 1-1 8,0 1-1 9,0 1-1 5,0 1,1 10,0 1,1 7,0 1,1 25,0 1-1 6,0 1-1 13,0 1,1 3,0 1,1 3,0 1,1 3,0 1,1 3,0 1,1 10,1 1,1 5,0 1,1 6,0 1,1 12,0 1-2 0-3 -2-3 -6-1 -4-2 -3,0 -4-2 -3,0 -4-2 -3,0 -4-2 -3,0 -4-2 -3,0 -4-2 -7-1 -1-1 -8,0 -1,1 -7,1 -7,3 -3,0 -1,1 -3,0 -1,1 -4,0 -1-1 -7-1 -4-2 -3,0 -1-1 -3,0 -1-1 -4,0 -1-1 -6,0 -1-1 -4,0 -1,1 -9,0 -1,1 -7,0 -1,1 -8,0 -1,1 -10,0 -1,1 -36,0 -1-1 -22,0 -1-1 -7,0 -1-1 -5,0 -1-1 -6,0 -1-1 -4,0 -1-1 -4,0 -1-1 -4,0 -1-1 -4,0 -1-1 -3,0 -1-1 -5,0 -1-1 -10,0 -1,1 -9,0 -1,1 -9,0 -1,1 -46,0zM293,197l-2-2 -14,0 -1,1 -3,0 -1,1 -3,0 -1,1 -6,1 -7,4 -6,0 -1-1 -3,0 -1-1 -5,0 -1,1 -14,0 -1,1 -12,0 -2,3 0,5 2,3 27,1 1,1 7-1 1-1 6-1 1-1 2,0 1,1 8,0 1-1 3,0 1-1 2,0 1-1 2,0 7-3 2-2 6-3 3-3zM593,195l0,7 2,2 3,0 1,1 5,0 1,1 19,0 2-1 14,7 26,0 1-1 3,0 4-3 0-2 -1-1 -7-3 -3,0 -1-1 -5,0 -1-1 -11,0 -1-1 -17,0 -2-2 -7-4 -17-1 -1,1 -5,0zM105,191l1,2 3,0 1-1 -1-2 -3,0zM355,184l0,6 1,2 3,0 1,1 6,0 1,1 8,0 1,1 14,1 1,1 5,0 1,1 3,0 1,1 4,0 1,1 4,0 1,1 9,1 1,1 5,1 3,2 2,0 3,2 2,0 3,2 2,0 4,2 2-1 0-4 -1-2 -2,0 -8-4 -8-6 -8-4 -2,0 -1-1 -2,0 -7-3 -3,0 -1-1 -3,0 -1-1 -3,0 -1-1 -3,0 -1-1 -4,0 -1-1 -15-1 -1-1 -11,1 -1,1 -3,0zM341,179l7,7 4,2 0-5 -1-1 -2,0 -6-3zM1155,180l0,1 2,2 5,0 2-2 0-1 -2-2 -5,0zM869,176l0,3 3,2 3,0 3-2 0-3 -3-2 -3,0zM514,168l0,3 1,0 1-2zM853,169l0,3 3,2 3,0 3-2 0-3 -3-2 -3,0zM818,171l-2-2 -3,0 -1-1 -3,0 -1-1 -2,0 -7-3 -7-1 -1,1 -12,1 -1,1 -70,0 -1,1 -4,0 -2,3 0,4 2,3 3,0 1,1 6,0 1,1 65,0 1-1 5,0 1-1 3,0 1-1 3,0 1-1 3,0 1,1 5,0 1,1 13,0 1-1zM588,163l-1,1 0,3 1,1 2,0 1-1 0-3 -1-1zM822,159l-1,2 2,1 1-2zM566,156l-1,0 -3,4 -2,0 -1,2 0,3 1,2 3,0 1-3 4-3 0-3zM446,161l0,7 2,4 5,0 1,1 7,0 1,1 4,0 9,4 2,2 1,0 14,15 6,3 4,0 1,1 2,0 1-1 5-1 3-2 6,0 6,3 3,0 2,1 1-1 3,0 8-4 12-10 0-3 -1-1 -7,0 -1,1 -3,0 -5,3 -2,0 -7,3 -3,0 -4,2 -7,0 -6-3 -13-2 -9-5 -14-13 -1,0 -4-4 -5-3 4-2 0-3 -2-1 -3,0 -2,1 0,3 -1,1 -2-1 -8,0zM61,153l-1,1 -2,0 -8,6 0,1 -4,4 0,3 -1,1 0,3 3,2 1-1 2,0 8-6 0-1 4-5 0-2 1-1 0-3zM570,146l0,3 1,0 0-3zM682,145l-3,0 -8,7 -4,7 0,2 -1,1 1,2 3,0 8-7 4-7 0-2 1-1zM144,143l-1,1 0,3 2,1 1-1 0-3zM318,142l-5,4 -1,6 1,1 0,2 3,3 3,1 5-4 1-6 -1-1 0-2 -3-3zM21,141l-1,1 0,3 2,1 1-1 0-3zM577,132l-1,2 2,1 1-2zM582,127l0,3 1,0 0-3zM251,119l-2,2 0,9 2,2 1,0 1-4 1-1 0-3 -1-1 -1-4zM572,109l-1,0 -1,2 0,5 -4,2 0,5 1,1 3,0 1-1 0-4 2-3 0-5zM574,101l-2,3 1,3 2,1 2-3 1,1 0,2 1,0 0-3 -1,0 -2-2 0-1zM415,97l-1,3 1,2 1,0 1-3 -1-2z"/>
<path fill="#9e9e9e" d="M871,240l-1,2 2,1 1-2zM296,237l-3,0 -1,1 -3,0 -1,1 2,1 6,0zM14,237l-3,3 0,6 2,3 5,0 2-3 0-6 -3-3zM27,239l0,8 2,3 22,0 2-3 0-8 -2-3 -22,0zM831,240l0,3 3,3 2,1 4,0 1,1 8-1 5-4 0-3 -3-3 -2-1 -4,0 -1-1 -8,1zM300,234l-2,3 0,2 1,2 3,0 1-4 -1-2zM308,233l-2,2 0,4 2,2 1,0 2-2 0-4 -2-2zM220,235l-2-2 -53,0 -1,1 -28,0 -1,1 -64,1 -1,1 -5,0 -1,2 0,8 1,2 2,1 63,0 1-1 38,0 1-1 24,0 1-1 17,0 1-1 5,0 2-2zM325,230l0,2 3,2 12,0 1-1 74,0 1-2 0-2 -2-3 -10-1 -1-1 -5,0 -1-1 -6,0 -1-1 -6,0 -1-1 -7,0 -1-1 -12,0 -1-1 -18,0 -1,1 -6,0 -7,4zM690,203l-1,1 -2,0 -2,4 2,3 4,1 4-3 0-3 -2-2zM890,207l0,7 3,3 39,0 1-1 10,0 1-1 9,0 1-1 19,0 1,1 9,1 1,1 3,0 1,1 4,0 1,1 4,0 1,1 5,0 1,1 5,0 1,1 6,0 1,1 9,0 1,1 30,0 1,1 18,0 1-1 11,0 1-1 9,0 1-1 16-1 1-1 16,0 1,1 16,1 1,1 17,0 1-1 7,0 1-1 7,0 1-1 3,0 1,1 6,0 1,1 3,0 1,1 3,0 1,1 3,0 1,1 3,0 1,1 4,0 1,1 6,0 1,1 5,0 1,1 8,0 1,1 6,0 1-1 0-5 -2-2 -7-1 -1-1 -6-1 -7-3 -3,0 -4-2 -3,0 -4-2 -3,0 -4-2 -3,0 -1-1 -2,0 -1-1 -4,0 -1-1 -9,1 -1,1 -6,1 -1,1 -2,0 -7,3 -10,0 -7-3 -3,0 -1-1 -3,0 -1-1 -3,0 -1-1 -5,0 -1-1 -14,0 -1,1 -8,0 -1,1 -7,0 -1,1 -9,0 -1,1 -15,0 -1,1 -4,0 -1-1 -34,0 -1-1 -11,0 -1-1 -6,0 -1-1 -12-1 -1-1 -4,0 -1-1 -9-1 -1-1 -8-1 -1-1 -20,0 -1,1 -20,1 -1,1 -40,0zM292,197l-1-1 -3,0 -1-1 -8,0 -1,1 -11,2 -1,1 -5,1 -5,3 -3,0 -1,1 -2-1 -3,0 -1-1 -16,0 -1,1 -12,0 -1,1 -5,0 -2,3 0,3 2,3 5,0 1,1 12,0 1,1 15,0 6-3 9,0 1,1 2,0 1-1 3,0 1-1 3,0 1-1 5-1 6-3 2-2 4-2 3-3zM593,196l0,5 1,2 2,0 1,1 3,0 1,1 27,0 10,6 6,0 1,1 15,0 1-1 7,0 4-2 1-2 -3-3 -2,0 -4-2 -4,0 -1-1 -5,0 -1-1 -14,0 -1-1 -3,0 -1,1 -6,0 -5-4 -7-3 -18,0 -1,1 -2,0zM107,191l0,1 1,0 0-1zM348,183l1,2 3,1 -1-2zM355,185l0,4 2,3 13,1 1,1 8,0 1,1 6,0 1,1 6,0 1,1 4,0 1,1 3,0 1,1 4,0 1,1 10,1 4,2 3,0 3,2 2,0 3,2 2,0 3,2 2,0 4,2 2,0 1-1 -1-4 -8-3 -11-8 -8-4 -2,0 -7-3 -7-1 -4-2 -8-1 -1-1 -5,0 -1-1 -7,0 -1-1 -13,0 -1,1 -5,0zM1156,180l1,2 5,0 1-1 -1-2 -5,0zM870,176l0,3 1,1 5,0 1-1 0-3 -1-1 -5,0zM853,170l0,1 2,2 5,0 2-2 0-1 -2-2 -5,0zM818,175l0-3 -1-2 -6-1 -1-1 -2,0 -1-1 -2,0 -7-3 -10,0 -1,1 -4,0 -1,1 -71,0 -1,1 -5,0 -1,1 -2,0 0,2 -1,1 1,5 2,1 4,0 1,1 52,0 1,1 11,0 1-1 10,0 1-1 3,0 4-2 8,0 1,1 8,0 1,1 2-1 5,0zM588,164l-1,2 1,1 2,0 0-3zM822,160l0,1 1,0 0-1zM446,162l0,5 1,1 0,2 2,2 15,1 1,1 3,0 8,4 5,4 0,1 10,11 5,3 3,0 1,1 7,0 8-4 5,0 7,4 7,0 11-6 9-8 0-3 -9,0 -6,3 -2,0 -3,2 -3,0 -1,1 -2,0 -7,3 -6,0 -5-3 -2,0 -1-1 -4,0 -1-1 -4,0 -9-4 -3-3 -5-3 -11-11 -8-5 -2,0 -1-1 -11,0zM567,157l-3,0 0,1 -4,3 0,5 1,1 2-1 0-3 1-1 3,0 1-2zM463,155l0,1 1,0 0-1zM62,154l-3,0 -4,2 -6,6 -3,6 0,4 1,1 3,0 4-2 6-6 3-6 0-4zM682,146l-4,0 -8,8 -3,6 0,3 4,0 8-8 3-6zM144,145l0,1 1,0 0-1zM317,143l-2,1 -2,3 0,7 2,3 2,1 3,0 2-1 2-3 0-7 -2-3 -2-1zM21,143l0,1 1,0 0-1zM577,133l0,1 1,0 0-1zM250,120l-1,2 0,7 1,2 2,0 1-2 0-7 -1-2zM568,117l-2,4 1,2 2,1 2-4 -1-2zM571,113l0,1 1,0 0-1zM573,102l0,5 3,0 0-5zM415,99l0,1 1,0 0-1z"/>
<path fill="#a6a6a6" d="M871,241l0,1 1,0 0-1zM27,240l0,6 1,1 0,2 24,0 0-2 1-1 0-6 -2-3 -22,0zM15,237l-3,2 -1,2 0,4 3,4 3,0 3-4 0-4 -2-3zM832,240l0,3 5,4 11,0 5-4 0-3 -5-4 -11,0zM299,235l0,2 -1,1 1,2 2,1 2-3 -1-1 0-2zM308,233l-2,3 0,2 1,2 3,0 1-4 -1-2zM220,236l-2-3 -39,0 -1,1 -29,0 -1,1 -29,0 -1,1 -31,0 -1,1 -20,0 -2,3 0,6 2,3 85,0 1-1 34,0 1-1 16,0 1-1 14,0 2-3zM326,229l0,3 2,1 3,0 1,1 4,0 1-1 16,0 1-1 40,0 1,1 19,0 1-1 0-5 -2-1 -6,0 -1-1 -12-1 -1-1 -12-1 -1-1 -8,0 -1-1 -32,0 -1,1 -3,0 -2,2 -1,0zM686,206l0,3 2,2 4,0 2-1 0-5 -2-1 -4,0zM890,208l0,5 2,3 47,0 1-1 9,0 1-1 9,0 1-1 10,0 1,1 4,0 1,1 4,0 1,1 4,0 1,1 3,0 1,1 4,0 1,1 4,0 1,1 5,0 1,1 6,0 1,1 6,0 1,1 16,0 1,1 47,0 1-1 9,0 1-1 8,0 1-1 7,0 1-1 24,0 1,1 8,0 1,1 26,0 1-1 6,0 1-1 11,0 1,1 4,0 1,1 3,0 4,2 8,1 1,1 5,0 1,1 14,1 1,1 10,0 1-1 0-3 -1-2 -3,0 -4-2 -3,0 -7-3 -3,0 -7-3 -3,0 -4-2 -3,0 -1-1 -6-1 -1-1 -6-1 -1-1 -10,0 -1,1 -3,0 -1,1 -2,0 -1,1 -2,0 -7,3 -3,0 -1,1 -6,0 -1-1 -6-1 -4-2 -3,0 -1-1 -3,0 -1-1 -4,0 -1-1 -5,0 -1-1 -16,1 -1,1 -8,0 -1,1 -8,0 -1,1 -10,0 -1,1 -55-1 -1-1 -7,0 -1-1 -6,0 -1-1 -11-1 -1-1 -4,0 -1-1 -4,0 -1-1 -4,0 -1-1 -3,0 -1-1 -5,0 -1-1 -14,0 -1,1 -18,1 -1,1 -44,0zM291,197l-2,0 -1-1 -12,0 -1,1 -3,0 -1,1 -3,0 -1,1 -5,1 -7,4 -6,0 -1-1 -3,0 -1-1 -7,0 -1,1 -13,0 -1,1 -10,0 -2,1 0,7 2,1 10,0 1,1 13,0 1,1 6,0 1-1 2,0 3-2 3,0 1-1 4,0 1,1 8,0 1-1 2,0 1-1 2,0 1-1 2,0 7-3 2-2 4-2 3-3zM593,197l0,3 2,3 8,1 1,1 19,0 1-1 4,0 5,4 7,3 25,0 1-1 3,0 2-2 0-2 -5-3 -4,0 -1-1 -3,0 -1-1 -10,0 -1-1 -14,0 -1,1 -3,0 -6-5 -4-2 -5,0 -1-1 -11,0 -1,1 -5,0zM355,186l1,4 4,2 5,0 1,1 8,0 1,1 7,0 1,1 6,0 1,1 5,0 1,1 9,1 1,1 3,0 1,1 10,1 1,1 8,2 3,2 5,1 3,2 6,1 0-3 -4-1 -16-11 -6-3 -2,0 -1-1 -2,0 -7-3 -3,0 -4-2 -3,0 -1-1 -3,0 -1-1 -4,0 -1-1 -15-1 -1-1 -7,0 -1,1 -4,0 -1,1 -2,0zM1157,180l0,1 5,0 0-1zM873,175l-2,1 -1,2 4,2 2-1 1-2zM856,168l-2,2 0,1 2,2 3,0 2-2 0-1 -2-2zM817,171l-7-2 -1-1 -2,0 -1-1 -2,0 -1-1 -2,0 -1-1 -3,0 -1-1 -6,0 -1,1 -4,0 -1,1 -9,0 -1,1 -17,0 -1-1 -42,0 -1,1 -10,1 -1,1 0,6 1,1 8,1 1,1 69,0 1-1 4,0 1-1 3,0 1-1 25,1 1-1zM589,164l-1,1 1,2 1-1zM446,163l0,3 1,1 1,4 4,0 1,1 7,0 1,1 5,0 1,1 2,0 8,4 16,17 4,2 4,0 1,1 4,0 1-1 2,0 2-2 6-3 3,1 2,2 4,2 6,1 1-1 7-2 6-5 1,0 6-6 0-2 -2-1 -5,0 -8,4 -2,0 -4,2 -3,0 -10,5 -2,0 -8-5 -13-2 -6-3 -10-8 -1,0 -11-11 -7-4 -3,0 -1-1 -8,0 -2,2 0,2zM566,157l-2,1 0,3 -1,1 -1-1 -2,1 0,3 1,1 2-1 0-3 1-1 1,1 2-1 0-3zM62,155l-4,0 -7,5 0,1 -4,5 0,2 -1,1 1,3 4,0 7-5 0-1 4-5 0-2 1-1zM680,146l-4,2 -6,7 -2,4 0,3 1,1 4-2 6-7 2-4 0-3zM316,144l-2,2 0,2 -1,1 1,6 2,2 5,0 2-2 0-2 1-1 -1-6 -2-2zM250,121l-1,6 1,1 0,2 2,0 1-2 0-5 -1-2zM567,118l0,5 3,0 0-5zM574,102l-1,3 1,2 1,0 1-3 -1-2z"/>
<path fill="#adadad" d="M14,238l-2,2 0,6 1,2 3,1 2-1 1-2 0-6 -2-2zM28,238l0,2 -1,1 0,4 2,4 22,0 1-1 0-2 1-1 0-4 -2-4 -22,0zM832,240l0,3 2,2 4,2 9,0 4-2 2-2 0-3 -2-2 -4-2 -9,0 -4,2zM300,235l-1,1 0,4 2,1 1-1 0-4zM307,234l0,2 -1,1 1,2 2,1 2-3 -1-1 0-2zM220,237l-2-3 -55,0 -1,1 -29,0 -1,1 -62,1 -1,1 -4,0 0,2 -1,1 0,5 1,2 2,1 67,0 1-1 37,0 1-1 22,0 1-1 16,0 1-1 5,0 2-3zM327,229l0,2 3,2 12,0 1-1 71,0 1-1 0-3 -1-1 -5,0 -1-1 -5,0 -1-1 -5,0 -1-1 -5,0 -1-1 -5,0 -1-1 -7,0 -1-1 -11,0 -1-1 -22,0 -1,1 -4,0 -1,1 -2,0 -3,3 -1,0zM688,204l-2,2 0,3 2,2 4,0 2-2 0-3 -2-2zM890,209l0,3 2,4 43,0 1-1 9,0 1-1 9,0 1-1 16,0 1,1 9,1 1,1 3,0 1,1 4,0 1,1 4,0 1,1 5,0 1,1 5,0 1,1 6,0 1,1 7,0 1,1 27,0 1,1 26,0 1-1 11,0 1-1 8,0 1-1 8,0 1-1 8,0 1-1 12,0 1,1 9,0 1,1 9,0 1,1 16,0 1-1 7,0 1-1 17,0 1,1 3,0 1,1 3,0 1,1 3,0 1,1 3,0 1,1 5,0 1,1 5,0 1,1 7,0 1,1 14,0 0-4 -2,0 -7-3 -3,0 -1-1 -2,0 -7-3 -3,0 -7-3 -3,0 -4-2 -3,0 -4-2 -7-1 -1-1 -6,0 -1,1 -7,1 -1,1 -2,0 -1,1 -2,0 -7,3 -3,0 -1,1 -6-1 -1-1 -2,0 -4-2 -3,0 -4-2 -9-1 -1-1 -17,0 -1,1 -16,1 -1,1 -9,0 -1,1 -47,0 -1-1 -16,0 -1-1 -6,0 -1-1 -12-1 -1-1 -4,0 -1-1 -4,0 -1-1 -9-1 -1-1 -3,0 -1-1 -6,0 -1-1 -6,0 -1,1 -9,0 -1,1 -9,0 -1,1 -12,0 -1,1 -36,0zM289,198l-3-2 -8,0 -1,1 -3,0 -1,1 -3,0 -1,1 -6,1 -9,5 -4,0 -4-2 -16,0 -1,1 -11,0 -1,1 -6,0 -1,1 0,5 1,1 6,0 1,1 11,0 1,1 15,0 5-3 10,0 1,1 3,0 1-1 3,0 1-1 8-2 6-3 6-5zM594,196l0,5 3,2 3,0 1,1 23,0 1-1 4,0 1,2 4,3 4,2 4,0 1,1 17,0 1-1 6,0 3-2 0-1 -4-3 -6-1 -1-1 -4,0 -1-1 -13,0 -1-1 -5,0 -1,1 -7,1 -3-3 0-1 -8-4 -18,0zM552,183l-1-1 -7,0 -5,3 -14,4 -4,3 1,2 5,3 7,0 10-5 7-7zM356,184l0,6 1,1 5,0 1,1 5,0 1,1 9,0 1,1 13,1 1,1 4,0 1,1 4,0 1,1 4,0 1,1 4,0 1,1 4,0 1,1 7,1 6,3 12,3 -16-12 -8-4 -2,0 -7-3 -3,0 -4-2 -3,0 -1-1 -3,0 -1-1 -3,0 -1-1 -5,0 -1-1 -7,0 -1-1 -15,0 -1,1 -3,0zM871,177l1,2 3,0 1-1 -1-2 -3,0zM855,169l0,3 5,0 0-3zM817,172l-1-1 -11-3 -6-3 -12,0 -1,1 -5,0 -1,1 -70,0 -1,1 -4,0 -3,2 0,5 2,1 4,0 1,1 29,0 1,1 38,0 1-1 7,0 1-1 6-1 1-1 6,0 1,1 17,0zM561,162l-1,2 2,1 1-2zM447,161l0,8 2,2 15,1 1,1 3,0 10,5 5,5 0,1 4,4 0,1 4,4 5,3 2,0 1,1 8,0 4-2 3-3 -1-2 -5-3 -3,0 -1-1 -6,0 -7-3 -2-2 -7-4 -11-11 -1,0 -3-3 -5-3 -2,0 -1-1 -11,0zM565,158l-1,2 2,1 1-2zM62,156l-2-1 -1,1 -4,1 -7,8 -1,2 0,4 2,1 1-1 4-1 7-8 1-2zM680,147l-3,1 -6,6 -2,4 0,4 3-1 6-6 2-4zM318,144l-2,1 -2,3 0,5 2,3 3,1 2-1 2-3 0-5 -2-3zM251,122l-1,1 0,5 2,1 0-7zM568,118l-1,1 0,3 2,1 1-1 0-3zM574,103l0,3 1,0 0-3z"/>
<path fill="#b5b5b5" d="M27,242l1,5 2,2 20,0 2-2 0-2 1-1 0-2 -2-4 -22,0zM14,238l-2,3 0,5 2,2 3,0 2-2 0-5 -2-3zM833,240l0,3 3,3 3,0 1,1 5,0 1-1 3,0 3-3 0-3 -3-3 -3,0 -1-1 -5,0 -1,1 -3,0zM300,235l-1,1 0,4 3,0 0-4zM308,234l-1,1 0,4 2,1 1-1 0-4zM220,238l-2-4 -41,0 -1,1 -29,0 -1,1 -29,0 -1,1 -30,0 -1,1 -19,0 -1,1 -1,5 2,4 88,0 1-1 32,0 1-1 30-1 2-4zM328,229l0,2 4,2 6,0 1-1 44,0 1-1 17,0 1,1 8,0 1-1 3,0 0-3 -3,0 -1-1 -5,0 -1-1 -10-1 -1-1 -5,0 -1-1 -6,0 -1-1 -7,0 -1-1 -16,0 -1-1 -5,0 -1,1 -11,0 -6,3zM689,204l-2,1 -1,3 1,2 4,1 3-2 0-3 -3-2zM891,207l0,7 2,2 35,0 1-1 12,0 1-1 9,0 1-1 9,0 1-1 6,0 1,1 5,0 1,1 9,1 1,1 8,1 1,1 4,0 1,1 12,1 1,1 6,0 1,1 12,0 1,1 54,0 1-1 9,0 1-1 16-1 1-1 21,0 1,1 9,0 1,1 26,0 1-1 6,0 1-1 10,0 1,1 4,0 1,1 3,0 1,1 3,0 1,1 3,0 1,1 3,0 1,1 6,0 1,1 6,0 1,1 17,0 0-2 -2,0 -8-4 -6-1 -1-1 -2,0 -1-1 -2,0 -7-3 -3,0 -1-1 -6-1 -4-2 -3,0 -4-2 -11,0 -1,1 -3,0 -1,1 -2,0 -1,1 -2,0 -1,1 -2,0 -7,3 -8,0 -1-1 -2,0 -1-1 -2,0 -7-3 -4,0 -1-1 -8-1 -1-1 -11,0 -1,1 -8,0 -1,1 -17,1 -1,1 -11,0 -1,1 -19,0 -1-1 -30,0 -1-1 -8,0 -1-1 -6,0 -1-1 -11-1 -1-1 -4,0 -1-1 -4,0 -1-1 -4,0 -1-1 -3,0 -1-1 -5,0 -1-1 -16,0 -1,1 -9,0 -1,1 -9,0 -1,1 -42,0zM631,202l1,4 7,4 24,0 1-1 3,0 1-1 0-2 -1-1 -2,0 -4-2 -3,0 -1-1 -8,0 -1-1 -15,0zM288,198l-1-1 -11,0 -1,1 -11,2 -4,2 -2,2 -4,1 -1,1 -7-2 -1-1 -9,0 -1,1 -21,1 -4,2 0,3 4,2 21,1 1,1 7,0 8-4 15,1 1-1 3,0 1-1 5-1 6-3 6-5zM594,197l0,3 2,2 6,1 1,1 19,0 3-2 -1-3 -2-2 -4-2 -4,0 -1-1 -12,0 -1,1 -4,0zM550,183l-3-1 -1,1 -3,0 -3,2 -2,0 -3,2 -6,1 -6,3 0,2 3,3 2,0 1,1 4,0 1-1 2,0 7-4 7-7zM356,185l0,4 1,1 3,0 1,1 3,0 1,1 8,0 1,1 14,1 1,1 5,0 1,1 4,0 1,1 4,0 1,1 4,0 1,1 5,0 1,1 4,0 1,1 6,1 1,1 6,1 1,1 0-1 -9-8 -6-3 -2,0 -3-2 -6-1 -4-2 -3,0 -1-1 -3,0 -1-1 -3,0 -1-1 -3,0 -1-1 -14-1 -1-1 -9,0 -1,1 -4,0zM873,177l0,1 1,0 0-1zM857,169l-1,2 2,1 1-2zM816,172l-2,0 -3-2 -2,0 -3-2 -2,0 -7-3 -8,0 -1,1 -4,0 -1,1 -71,0 -1,1 -4,0 -1,1 -3,0 -1,1 0,4 1,1 2,0 1,1 4,0 1,1 72,0 1-1 3,0 4-2 22,1 1-1 2,0zM561,163l0,1 1,0 0-1zM565,159l0,1 1,0 0-1zM447,161l0,7 2,2 3,0 1,1 6,0 1,1 6,0 12,5 4,4 3,5 8,8 4,2 3,0 1,1 5,0 1-1 2,0 3-3 0-2 -3-3 -12-2 -7-3 -2-2 -7-4 -13-13 -7-4 -2,0 -1-1 -9,0zM60,156l-2,0 -5,3 -5,7 0,4 1,1 2,0 5-3 5-7 0-4zM679,148l-3,1 -3,3 -4,7 1,2 3-1 3-3 4-7zM317,145l-2,2 -1,4 1,1 0,2 2,2 3,0 2-2 1-4 -1-1 0-2 -2-2zM251,123l-1,1 0,3 1,1 1-1 0-3zM568,119l0,3 1,0 0-3z"/>
<path fill="#bdbdbd" d="M14,239l-2,3 0,2 1,2 2,2 1,0 2-2 1-4 -2-3zM28,239l0,8 1,1 22,0 1-1 0-8 -1-1 -22,0zM833,241l2,4 2,1 4,0 1,1 2-1 4,0 2-1 2-3 -2-4 -2-1 -4,0 -1-1 -2,1 -4,0 -2,1zM300,236l-1,1 0,2 2,1 1-1 0-2zM219,236l-1-1 -57,0 -1,1 -29,0 -1,1 -59,1 -1,1 -4,0 -1,1 0,6 2,2 69,0 1-1 37,0 1-1 20,0 1-1 15,0 1-1 6,0 1-1zM308,234l-1,1 0,4 2,1 1-1 0-4zM329,228l0,3 2,1 13,0 1-1 65,0 1-1 3,0 -4-2 -4,0 -1-1 -4,0 -1-1 -4,0 -1-1 -5,0 -1-1 -11-1 -1-1 -10,0 -1-1 -25,0 -1,1 -4,0 -2,1zM690,204l-3,2 0,3 3,2 4-3 0-1zM891,207l0,6 1,2 45,0 1-1 9,0 1-1 8,0 1-1 14,0 1,1 4,0 1,1 9,1 1,1 8,1 1,1 11,1 1,1 6,0 1,1 6,0 1,1 23,0 1,1 35,0 1-1 10,0 1-1 16-1 1-1 9,0 1-1 20,1 1,1 34,0 1-1 16,0 1,1 4,0 1,1 3,0 1,1 3,0 1,1 3,0 1,1 4,0 1,1 17,1 1,1 6-1 -1-2 -4-1 -3-2 -2,0 -7-3 -3,0 -1-1 -2,0 -7-3 -3,0 -4-2 -3,0 -4-2 -3,0 -1-1 -7,0 -1,1 -3,0 -1,1 -6,1 -3,2 -5,1 -3,2 -7,0 -1-1 -2,0 -1-1 -2,0 -1-1 -2,0 -7-3 -4,0 -1-1 -3,0 -1-1 -19,0 -1,1 -8,0 -1,1 -7,0 -1,1 -10,0 -1,1 -39,0 -1-1 -21,0 -1-1 -13-1 -1-1 -5,0 -1-1 -4,0 -1-1 -4,0 -1-1 -4,0 -1-1 -4,0 -1-1 -3,0 -1-1 -5,0 -1-1 -10,0 -1,1 -9,0 -1,1 -9,0 -1,1 -46,0zM632,203l2,4 4,2 4,0 1,1 16,0 1-1 4,0 3-2 -2-2 -2,0 -4-2 -4,0 -1-1 -13,0 -1-1 -4,0zM287,199l-3-2 -6,0 -1,1 -3,0 -1,1 -3,0 -1,1 -6,1 -10,6 -4-1 -3-2 -16,0 -1,1 -17,1 -1,1 0,3 1,1 17,1 1,1 15,0 4-2 2-2 5,0 1,1 3,0 1,1 4,0 4-2 6-1 8-4 4-4zM594,199l1,2 2,0 4,2 16,0 2,1 1-1 3,0 1-1 0-2 -3-3 -4-2 -9,0 -1-1 -3,0 -1,1 -8,1 0,2zM549,184l-1-1 -4,0 -8,4 -10,3 -2,2 0,1 4,3 6,0 1-1 2,0 7-4 4-4zM356,187l1,2 2,1 3,0 1,1 4,0 1,1 9,0 1,1 7,0 1,1 11,1 1,1 4,0 1,1 3,0 1,1 5,0 1,1 9,1 1,1 3,0 1,1 3,0 1,1 0-2 -2-2 -10-6 -2,0 -1-1 -2,0 -7-3 -7-1 -4-2 -4,0 -1-1 -4,0 -1-1 -7,0 -1-1 -15,0 -1,1 -3,0 -2,1zM481,178l4,7 7,8 6,3 5,0 1,1 1-1 3,0 3-3 0-2 -3-3 -2,0 -1-1 -6,0 -1-1 -5-1 -4-3 -3-1 -2-2 -2,0zM857,170l0,1 1,0 0-1zM813,173l0-1 -6-3 -2,0 -3-2 -6-1 -1-1 -3,0 -1,1 -5,0 -1,1 -7,0 -1,1 -36,0 -1-1 -23,0 -1,1 -7,0 -1,1 -5,1 -1,2 1,2 2,1 2,0 1,1 5,0 1,1 66,0 1-1 5,0 1-1 6-1 1-1 4,0 1,1 13,0zM447,162l0,5 2,3 15,1 1,1 3,0 1,1 8,2 -1-2 -9-9 -7-4 -8,0 -2-1 -2,1zM60,157l-3,0 -2,1 -5,5 -1,4 -1,1 1,2 3,0 2-1 5-5 1-4 1-1zM679,149l-3,1 -4,4 -2,4 0,2 3-1 4-4 2-4zM317,146l-2,2 0,5 2,2 3,0 2-2 0-5 -2-2z"/>
<path fill="#c4c4c4" d="M28,240l0,6 2,2 20,0 2-2 0-6 -1-1 -22,0zM14,239l-1,1 0,6 1,1 3,0 1-1 0-6 -1-1zM834,240l0,3 4,3 9,0 4-3 0-3 -4-3 -9,0zM300,236l-1,2 1,2 1,0 1-3zM308,235l-1,1 0,2 2,1 1-1 0-2zM219,237l-3-2 -40,0 -1,1 -29,0 -1,1 -29,0 -1,1 -28,0 -1,1 -20,0 -1,1 0,6 1,1 89,0 1-1 31,0 1-1 29-1 2-2zM330,228l0,2 3,2 6,0 1-1 40,0 1-1 23,0 2-1 -4-1 -1-1 -4,0 -1-1 -4,0 -1-1 -4,0 -1-1 -12-1 -1-1 -14,0 -1-1 -20,1 -6,3zM1162,218l0,1 3,0 1,1 3,0 1-1 10,0 1-1 8,0 1,1 4,0 1,1 3,0 1,1 3,0 1,1 3,0 1,1 4,0 1,1 6,0 1,1 10,0 1,1 3,0 2-1 0-1 -4-2 -2,0 -3-2 -2,0 -1-1 -2,0 -7-3 -3,0 -7-3 -3,0 -4-2 -8-1 -1-1 -2,1 -5,0 -1,1 -8,2zM688,205l-1,1 0,3 1,1 4,0 1-1 0-3 -1-1zM250,207l-5-3 -10,0 -1,1 -9,0 -1,1 -12,1 -1,2 1,1 12,1 1,1 19,1 4-2 2-2zM891,208l0,4 2,3 38,0 1-1 10,0 1-1 9,0 1-1 21,0 1,1 8,1 1,1 4,0 1,1 8,1 1,1 12,1 1,1 6,0 1,1 9,0 1,1 32,0 1,1 13,0 1-1 12,0 1-1 9,0 1-1 16-1 1-1 39,1 -1-2 -4-2 -2,0 -7-3 -7-1 -1-1 -4,0 -1-1 -12,0 -1,1 -8,0 -1,1 -8,0 -1,1 -8,0 -1,1 -13,0 -1,1 -11,0 -1-1 -32,0 -1-1 -10,0 -1-1 -6,0 -1-1 -5,0 -1-1 -11-1 -1-1 -8-1 -1-1 -4,0 -1-1 -4,0 -1-1 -19,0 -1,1 -9,0 -1,1 -9,0 -1,1 -40,0zM633,204l2,3 4,2 22,0 4-2 -5-3 -3,0 -1-1 -6,0 -1-1 -14,0zM285,198l-10,0 -1,1 -3,0 -1,1 -6,1 -5,3 -3,3 0,1 4,2 7,0 1-1 8-2 6-3 3-3zM595,198l0,2 7,2 1,1 18,0 2-2 0-1 -3-3 -2-1 -3,0 -1-1 -13,0zM548,185l-1-1 -4,0 -1,1 -2,0 -3,2 -2,0 -1,1 -7,2 -2,2 0,1 4,3 4,0 1-1 2,0 7-4zM357,186l0,2 4,1 1,1 3,0 1,1 22,2 1,1 5,0 1,1 4,0 1,1 4,0 1,1 10,1 1,1 4,0 1,1 4,0 1,1 2,0 0-1 -3-3 -5-3 -2,0 -6-3 -3,0 -4-2 -3,0 -4-2 -3,0 -1-1 -10-1 -1-1 -8,0 -1-1 -9,0 -1,1zM484,180l0,2 3,5 6,6 7,3 6,0 4-3 0-3 -1,0 -2-2 -4,0 -1-1 -5,0 -1-1 -2,0zM810,172l-7-4 -2,0 -4-2 -9,0 -1,1 -5,0 -1,1 -70,0 -1,1 -7,2 0,2 1,1 2,0 4,2 48,0 1,1 15,0 1-1 9,0 1-1 3,0 4-2 10,0 1,1 5,0 2-1zM447,163l0,3 2,3 3,0 1,1 6,0 1,1 7,0 4,2 3,0 0-1 -4-5 -1,0 -4-4 -4-2 -2,0 -1-1 -9,0zM60,158l-4,0 -6,6 -1,2 0,3 4,0 6-6 1-2zM677,150l-5,5 -1,2 1,2 5-5 1-2zM317,147l-1,1 0,5 1,1 3,0 1-1 0-5 -1-1z"/>
<path fill="#cccccc" d="M14,240l-1,1 0,4 2,2 1,0 2-2 0-4 -1-1zM28,241l0,4 1,2 22,0 1-2 0-4 -1-2 -22,0zM834,241l1,3 4,2 7,0 4-2 1-2 -1-3 -4-2 -7,0 -4,2zM300,237l0,2 1,0 0-2zM219,238l-1-2 -56,0 -1,1 -30,0 -1,1 -54,1 -1,1 -9,0 -1,1 0,4 1,1 13,0 1,1 57,0 1-1 35,0 1-1 20,0 1-1 14,0 1-1 8,0 1-2zM308,235l-1,1 0,2 2,1 1-1 0-2zM331,230l1,1 14,0 1-1 41,0 1-1 8,0 1-1 -2,0 -4-2 -3,0 -1-1 -10-1 -1-1 -9,0 -1-1 -27,0 -1,1 -3,0 -2,1 -3,3zM1165,218l2,1 7,0 1-1 17,0 1,1 3,0 1,1 3,0 1,1 3,0 1,1 4,0 1,1 4,0 1,1 16,0 -7-4 -2,0 -1-1 -2,0 -1-1 -2,0 -7-3 -3,0 -7-3 -7-1 -1-1 -8,0 -1,1 -11,3 -4,2zM687,207l0,1 2,2 4-1 0-3 -2-1 -2,0zM249,208l-3-3 -3,0 -2-1 -1,1 -17,1 -1,1 -4,0 -1,1 -2,0 0,1 2,0 1,1 4,0 1,1 7,0 1,1 14,0 2-2 1,0zM891,209l1,5 46,0 1-1 9,0 1-1 9,0 1-1 11,0 1,1 5,0 1,1 4,0 1,1 3,0 1,1 4,0 1,1 3,0 1,1 5,0 1,1 5,0 1,1 6,0 1,1 6,0 1,1 20,0 1,1 40,0 1-1 10,0 1-1 16-1 1-1 10,0 1-1 5,0 1,1 22,0 0-1 -1,0 -2-2 -2,0 -7-3 -7-1 -1-1 -5,0 -1-1 -4,0 -1,1 -9,0 -1,1 -8,0 -1,1 -7,0 -1,1 -11,0 -1,1 -34,0 -1-1 -23,0 -1-1 -13-1 -1-1 -11-1 -1-1 -9-1 -1-1 -8-1 -1-1 -4,0 -1-1 -12,0 -1,1 -9,0 -1,1 -9,0 -1,1 -45,0zM634,204l2,3 2,1 4,0 1,1 14,0 1-1 4-1 -2-2 -6-1 -1-1 -12,0 -1-1 -2,0zM284,199l-2-1 -4,0 -1,1 -4,0 -1,1 -7,1 -4,2 -3,3 0,2 4,2 3,0 1-1 3,0 1-1 5-1 6-3 3-3zM596,199l5,3 20,0 1-1 0-1 -3-3 -2,0 -1-1 -8,0 -1-1 -7,1zM546,185l-4,0 -6,3 -5,1 -4,2 0,3 1,1 6,0 1-1 2,0 4-2 5-5zM359,186l0,2 4,1 1,1 3,0 1,1 17,1 1,1 11,1 1,1 4,0 1,1 4,0 1,1 5,0 1,1 11,1 -3-3 -4-2 -2,0 -3-2 -6-1 -1-1 -6-1 -1-1 -6-1 -1-1 -13-1 -1-1 -14,0 -1,1zM485,182l4,7 3,3 6,3 7,1 4-2 1-2 -1-2 -4-2 -6,0zM808,172l-2-2 -4-2 -6-1 -1-1 -5,0 -1,1 -4,0 -1,1 -9,0 -1,1 -17,0 -1-1 -42,0 -1,1 -4,0 -5,3 2,2 6,1 1,1 68,0 1-1 4,0 1-1 3,0 1-1 3,0 1-1 3,0 1,1 8,0zM448,162l0,6 1,1 7,0 1,1 15,1 -4-5 -8-5 -11,0zM58,158l-4,2 -4,5 0,3 1,1 4-2 4-5 0-3zM677,152l-1,0 -4,5 1,0zM317,148l-1,2 1,3 3,0 1-2 -1-3z"/>
<path fill="#d4d4d4" d="M28,242l1,4 22,0 1-2 -1-4 -22,0zM15,240l-2,4 2,2 1,0 2-2 -1-3zM835,240l0,3 2,2 3,0 1,1 7-1 2-2 0-3 -2-2 -3,0 -1-1 -7,1zM300,237l0,2 1,0 0-2zM218,237l-40-1 -1,1 -29,0 -1,1 -30,0 -1,1 -49,1 -1,1 0,4 1,1 86,0 1-1 32,0 1-1 13,0 1-1 12,0 1-1 4,0zM308,235l-1,2 2,1 1-1 -1-2zM332,230l2,1 5,0 1-1 36,0 1-1 11,0 1-1 2,0 -3-2 -8-1 -1-1 -6,0 -1-1 -25-1 -1,1 -8,0 -1,1 -2,0 -3,3zM1169,217l1,1 18-1 1,1 5,0 1,1 3,0 1,1 3,0 1,1 3,0 1,1 4,0 1,1 14,0 -7-4 -2,0 -1-1 -2,0 -1-1 -2,0 -7-3 -3,0 -4-2 -8-1 -1-1 -6,1 -1,1 -8,2zM689,205l-1,1 0,3 1,1 2,0 2-2 0-1 -2-2zM247,207l-3-2 -8,0 -1,1 -12,1 -2,1 0,1 2,1 5,0 1,1 14,1 4-2zM892,208l0,5 1,1 39,0 1-1 10,0 1-1 9,0 1-1 19,0 1,1 9,1 1,1 8,1 1,1 4,0 1,1 5,0 1,1 5,0 1,1 6,0 1,1 9,0 1,1 31,0 1,1 16,0 1-1 12,0 1-1 8,0 1-1 8,0 1-1 8,0 1-1 24,0 1,1 5-1 0-1 -4-2 -2,0 -4-2 -3,0 -1-1 -4,0 -1-1 -13,0 -1,1 -8,0 -1,1 -7,0 -1,1 -9,0 -1,1 -14,0 -1,1 -6,0 -1-1 -33,0 -1-1 -12,0 -1-1 -5,0 -1-1 -12-1 -1-1 -4,0 -1-1 -9-1 -1-1 -8-1 -1-1 -21,0 -1,1 -19,1 -1,1 -39,0zM636,204l0,2 4,2 17,0 2-1 0-1 -4-2 -9,0 -1-1 -8,0zM283,200l-1-1 -6,0 -1,1 -8,1 -1,1 -4,1 -3,3 0,2 2,1 6,0 1-1 2,0 1-1 2,0 7-3 3-3zM599,198l0,2 4,1 1,1 15,0 2-1 0-1 -3-3 -5,0 -1-1 -10,0zM545,186l-1-1 -1,1 -11,3 -4,3 0,2 2,1 6-1 7-4zM487,184l2,4 4,4 4,2 2,0 1,1 6,0 2-1 1-2 -1-2 -2-1 -3,0 -1-1 -5,0 -8-4zM361,187l5,3 7,0 1,1 14,1 1,1 11,1 1,1 4,0 1,1 4,0 1,1 10,0 -10-5 -6-1 -1-1 -6-1 -1-1 -3,0 -1-1 -3,0 -1-1 -14-1 -1-1 -8,0 -1,1 -2,0zM805,171l-8-4 -10,0 -1,1 -5,0 -1,1 -69,0 -5,3 2,2 2,0 1,1 37,0 1,1 27,0 1-1 7,0 1-1 3,0 4-2 13,0zM448,162l0,5 1,1 11,1 1,1 8,0 -1-3 -7-5 -3,0 -1-1 -8,0zM58,159l-3,1 -3,3 -1,2 0,3 3-1 3-3 1-2zM318,149l0,3 1,0 0-3z"/>
<path fill="#dbdbdb" d="M15,241l-1,1 0,3 3,0 0-3zM29,241l0,5 22,0 0-5 -1-1 -20,0zM835,241l0,1 3,3 9,0 3-3 0-1 -3-3 -9,0zM218,238l-7,0 -1-1 -44,0 -1,1 -57,1 -1,1 -40,1 -1,1 0,2 1,1 35,0 1,1 65-1 1-1 22,0 1-1 23-1 1-1 2,0zM308,236l0,2 1,0 0-2zM333,227l0,2 1,1 11,0 1-1 33,0 1-1 5,0 0-1 -4-1 -1-1 -4,0 -1-1 -9,0 -1-1 -25,0 -1,1 -3,0zM1173,216l1,1 18,0 1,1 4,0 1,1 3,0 1,1 3,0 1,1 3,0 1,1 11,0 -4-3 -2,0 -1-1 -2,0 -1-1 -2,0 -7-3 -3,0 -4-2 -3,0 -1-1 -7,0 -1,1 -5,1zM688,207l1,2 3,0 0-3 -3,0zM226,208l0,1 2,0 1,1 4,0 1,1 10,0 2-1 0-3 -1-1 -11,0 -1,1 -4,0 -1,1zM892,208l0,4 1,1 45,0 1-1 9,0 1-1 9,0 1-1 11,0 1,1 5,0 1,1 4,0 1,1 3,0 1,1 4,0 1,1 3,0 1,1 5,0 1,1 5,0 1,1 6,0 1,1 6,0 1,1 20,0 1,1 40,0 1-1 10,0 1-1 16-1 1-1 10,0 1-1 10,0 1,1 6,0 1-1 2,0 -3-2 -2,0 -4-2 -3,0 -1-1 -5,0 -1-1 -3,0 -1,1 -9,0 -1,1 -8,0 -1,1 -7,0 -1,1 -11,0 -1,1 -34,0 -1-1 -23,0 -1-1 -6,0 -1-1 -6,0 -1-1 -11-1 -1-1 -9-1 -1-1 -8-1 -1-1 -4,0 -1-1 -13,0 -1,1 -18,1 -1,1 -45,0zM637,205l3,2 16,0 -1-2 -6,0 -1-1 -10,0zM282,200l-3-1 -1,1 -4,0 -1,1 -7,1 -1,1 -2,0 -3,3 0,1 3,2 2,0 1-1 2,0 1-1 2,0 1-1 7-2 3-3zM600,199l3,2 16,0 0-2 -1-1 -3,0 -1-1 -12,0zM544,187l-4,0 -1,1 -8,2 -2,2 0,1 1,1 4,0 9-5zM489,186l0,1 5,5 4,2 4,0 2,1 4-2 0-2 -3-2 -6,0 -1-1 -3,0 -3-2zM363,187l3,2 3,0 1,1 16,1 1,1 11,1 1,1 4,0 1,1 11,1 0-1 -4-2 -2,0 -7-3 -3,0 -4-2 -3,0 -1-1 -13-1 -1-1 -11,0zM802,170l-4-2 -3,0 -1-1 -4,0 -1,1 -4,0 -1,1 -10,0 -1,1 -11,0 -1-1 -47,0 -1,1 -3,0 -2,2 0,1 4,1 1,1 69,0 1-1 4,0 7-3 8,0zM448,164l0,2 3,2 6,0 1,1 8,0 1-1 -4-4 -4-2 -10,0zM57,160l-5,4 0,3 5-4z"/>
<path fill="#e3e3e3" d="M15,242l-1,1 1,2 1,0 1-2zM29,242l0,3 22,0 0-3 -1-1 -20,0zM836,240l0,3 3,2 7,0 3-2 0-3 -3-2 -7,0zM217,239l-8,0 -1-1 -53,0 -1,1 -31,0 -1,1 -38,1 -1,1 -11,0 -1,1 -4,0 3,0 1,1 21,0 1,1 52,0 1-1 34,0 1-1 13,0 1-1 17-1 1-1 4,0zM308,236l0,1 1,0 0-1zM334,229l3,1 1-1 19,0 1-1 20,0 2-1 -4-2 -6,0 -1-1 -14,0 -1-1 -3,0 -1,1 -12,0 -4,3zM1177,215l1,1 11,0 1,1 5,0 1,1 3,0 1,1 3,0 1,1 4,0 1,1 7,0 0-1 -4-2 -2,0 -1-1 -2,0 -7-3 -3,0 -4-2 -10,0zM689,206l-1,2 1,1 2,0 1-2 -1-1zM245,207l-2-1 -4,0 -1,1 -4,0 -1,1 -2,0 0,1 11,2 3-2zM892,209l1,4 38,0 1-1 10,0 1-1 9,0 1-1 21,0 1,1 4,0 1,1 8,1 1,1 3,0 1,1 5,0 1,1 5,0 1,1 5,0 1,1 6,0 1,1 10,0 1,1 32,0 1,1 25-1 1-1 8,0 1-1 8,0 1-1 8,0 1-1 19,0 1-1 2,0 -7-3 -3,0 -1-1 -11,0 -1,1 -8,0 -1,1 -17,1 -1,1 -12,0 -1,1 -13,0 -1-1 -32,0 -1-1 -9,0 -1-1 -6,0 -1-1 -12-1 -1-1 -9-1 -1-1 -8-1 -1-1 -4,0 -1-1 -19,0 -1,1 -19,1 -1,1 -40,0zM280,200l-3,0 -1,1 -11,2 -3,2 0,3 4,0 1-1 8-2 5-3zM602,198l1,2 14,0 0-1 -2,0 -1-1 -7,0 -1-1zM541,188l-7,2 -1,1 -2,0 0,2 3,0 6-3zM491,187l0,1 6,5 2,0 1,1 5,0 2-1 0-2 -2-1 -3,0 -1-1 -5,0 -1-1zM366,186l0,2 2,0 1,1 7,0 1,1 7,0 1,1 6,0 1,1 5,0 1,1 11,1 -4-2 -5-1 -1-1 -3,0 -1-1 -2,0 -1-1 -4,0 -1-1 -7,0 -1-1zM798,170l-3-2 -7,0 -1,1 -5,0 -1,1 -69,0 -2,1 0,2 2,1 39,0 1,1 24,0 1-1 7,0 1-1 3,0 4-2zM449,163l0,3 1,1 5,0 1,1 8,0 0-2 -4-3zM56,162l-1,0 -2,2 0,1 1,0 2-2z"/>
<path fill="#ebebeb" d="M30,243l0,1 20,0 0-1zM836,241l0,1 4,3 5,0 4-3 0-1 -4-3 -5,0zM204,240l-2,0 -1-1 -14,0 -1-1 -6,0 -1,1 -60,1 -1,1 -15,0 -1,1 -10,0 -2,1 8,0 1,1 53,0 1-1 31,0 1-1 9,0 1-1 6,0 1-1zM335,228l1,1 4,0 1-1 22,0 1-1 10,0 0-1 -4,0 -1-1 -10,0 -1-1 -14,0 -1,1 -6,0 -2,2zM1181,214l1,1 4,0 1,1 7,0 1,1 4,0 1,1 11,2 0-1 -2-1 -2,0 -1-1 -2,0 -1-1 -2,0 -7-3 -8-1 -1,1zM237,208l0,1 2,0 1,1 4-1 -1-2 -4,0zM690,206l-1,1 1,2 1-1zM893,209l0,3 42,0 1-1 9,0 1-1 9,0 1-1 16,0 1,1 9,1 1,1 3,0 1,1 4,0 1,1 4,0 1,1 5,0 1,1 5,0 1,1 6,0 1,1 7,0 1,1 27,0 1,1 26,0 1-1 11,0 1-1 8,0 1-1 8,0 1-1 8,0 1-1 12,0 1-1 -4-2 -15,0 -1,1 -16,1 -1,1 -9,0 -1,1 -47,0 -1-1 -16,0 -1-1 -13-1 -1-1 -5,0 -1-1 -4,0 -1-1 -9-1 -1-1 -8-1 -1-1 -6,0 -1-1 -17,1 -1,1 -9,0 -1,1 -13,0 -1,1zM278,202l-1-1 -1,1 -9,1 -1,1 -2,0 -1,1 0,2 4,0 1-1 5-1zM493,189l2,2 4,1 1,1 5,0 1-1 -3-2 -6,0 -1-1zM369,187l1,1 8,0 1,1 14,1 -2-1 -5,0 -1-1 -6,0 -1-1zM794,169l-8,0 -1,1 -7,0 -1,1 -60-1 -1,1 -4,0 0,2 2,0 1,1 65,0 1-1 5,0 1-1 2,0 3-2 2,0zM449,164l0,1 2,1 11,1 0-1 -2-2 -3,0 -1-1 -2,0 -1,1z"/>
<path fill="#f2f2f2" d="M189,240l-37,0 -1,1 -29,0 -1,1 -7,0 0,1 67-1 1-1 6,0zM837,240l0,3 2,1 7,0 2-1 0-3 -2-1 -7,0zM337,227l1,1 2,0 1-1 16,0 1-1 3,0 -4,0 -1-1 -11,0 -1,1 -6,0zM1186,214l2,1 7,0 -2-1 -3,0 -1-1 -2,0zM690,207l0,1 1,0 0-1zM893,210l0,1 43,0 1-1 9,0 1-1 8,0 1-1 16,0 1,1 9,1 1,1 3,0 1,1 4,0 1,1 4,0 1,1 5,0 1,1 5,0 1,1 6,0 1,1 7,0 1,1 27,0 1,1 26,0 1-1 11,0 1-1 8,0 1-1 8,0 1-1 16-1 0-1 -13,0 -1,1 -16,1 -1,1 -9,0 -1,1 -47,0 -1-1 -16,0 -1-1 -13-1 -1-1 -5,0 -1-1 -4,0 -1-1 -4,0 -1-1 -4,0 -1-1 -8-1 -1-1 -5,0 -1-1 -18,1 -1,1 -9,0 -1,1 -15,0 -1,1zM265,206l3-1 -3,0zM789,170l-3,0 -1,1 -8,0 -1,1 -24,0 -1-1 -35,0 -2,1 1,1 66,0 1-1 4,0zM456,165l3,1 0-1z"/>
</g></g></g><rect x="40.45" y="36.45" width="219.5" height="129.3" fill="none" stroke="#000050" stroke-opacity="0.55" stroke-width="0.6"/><rect x="263.25" y="36.45" width="219.1" height="129.3" fill="none" stroke="#000050" stroke-opacity="0.55" stroke-width="0.6"/><rect x="485.25" y="36.45" width="173.5" height="129.3" fill="none" stroke="#000050" stroke-opacity="0.55" stroke-width="0.6"/><rect x="663" y="35.6" width="11.3" height="129.1" fill="url(#cbar)"/><rect x="663.25" y="35.85" width="10.8" height="128.6" fill="none" stroke="#000" stroke-opacity="0.5" stroke-width="0.5"/>
<path d="M381.1,39.2 H377.1 V54.6 H381.1 M453,39.2 H457.4 V54.6 H453" fill="none" stroke="#e6e6fa" stroke-width="1.5"/>
<path d="M40.2,146.2h2.6M260.2,146.2h-2.6M40.2,126.7h2.6M260.2,126.7h-2.6M40.2,107.2h2.6M260.2,107.2h-2.6M40.2,87.8h2.6M260.2,87.8h-2.6M40.2,68.3h2.6M260.2,68.3h-2.6M40.2,48.9h2.6M260.2,48.9h-2.6M65.4,166v-2.6M65.4,36.2v2.6M109.3,166v-2.6M109.3,36.2v2.6M153.1,166v-2.6M153.1,36.2v2.6M197.0,166v-2.6M197.0,36.2v2.6M240.9,166v-2.6M240.9,36.2v2.6M263.0,146.2h2.6M482.6,146.2h-2.6M263.0,126.7h2.6M482.6,126.7h-2.6M263.0,107.2h2.6M482.6,107.2h-2.6M263.0,87.8h2.6M482.6,87.8h-2.6M263.0,68.3h2.6M482.6,68.3h-2.6M263.0,48.9h2.6M482.6,48.9h-2.6M306.9,166v-2.6M306.9,36.2v2.6M350.8,166v-2.6M350.8,36.2v2.6M394.7,166v-2.6M394.7,36.2v2.6M438.6,166v-2.6M438.6,36.2v2.6M485.0,146.2h2.6M659.0,146.2h-2.6M485.0,126.7h2.6M659.0,126.7h-2.6M485.0,107.2h2.6M659.0,107.2h-2.6M485.0,87.8h2.6M659.0,87.8h-2.6M485.0,68.3h2.6M659.0,68.3h-2.6M485.0,48.9h2.6M659.0,48.9h-2.6M506.5,166v-2.6M506.5,36.2v2.6M549.5,166v-2.6M549.5,36.2v2.6M592.5,166v-2.6M592.5,36.2v2.6M635.5,166v-2.6M635.5,36.2v2.6" stroke="#000" stroke-opacity="0.75" stroke-width="0.8"/>
<text x="0.5" y="24.2" font-size="26.5" text-anchor="start" fill="#000" >a</text>
<text x="372.7" y="11.1" font-size="13.5" text-anchor="middle" fill="#1a1a1a" >Wavelet spectrogram</text>
<text x="154.5" y="31.4" font-size="10.8" text-anchor="middle" fill="#1a1a1a" >No Exploration</text>
<text x="376.1" y="31.4" font-size="10.8" text-anchor="middle" fill="#1a1a1a" >Exploration</text>
<text x="576.7" y="31.4" font-size="10.8" text-anchor="middle" fill="#1a1a1a" >No Exploration</text>
<text x="667.4" y="31.7" font-size="10.8" text-anchor="middle" fill="#1a1a1a" >zscore</text>
<text x="39.7" y="168.7" font-size="8.6" text-anchor="end" fill="#1a1a1a" >1</text>
<text x="39.7" y="149.25" font-size="8.6" text-anchor="end" fill="#1a1a1a" >2</text>
<text x="39.7" y="129.79999999999998" font-size="8.6" text-anchor="end" fill="#1a1a1a" >4</text>
<text x="39.7" y="110.35" font-size="8.6" text-anchor="end" fill="#1a1a1a" >8</text>
<text x="39.7" y="90.89999999999999" font-size="8.6" text-anchor="end" fill="#1a1a1a" >16</text>
<text x="39.7" y="71.44999999999999" font-size="8.6" text-anchor="end" fill="#1a1a1a" >32</text>
<text x="39.7" y="52.00000000000001" font-size="8.6" text-anchor="end" fill="#1a1a1a" >64</text>
<text transform="translate(24.8,106.5) rotate(-90)" font-size="11.3" text-anchor="middle" fill="#1a1a1a">Frequency (Hz)</text>
<text x="65.42" y="174.6" font-size="8.8" text-anchor="middle" fill="#1a1a1a" >518</text>
<text x="109.28" y="174.6" font-size="8.8" text-anchor="middle" fill="#1a1a1a" >520</text>
<text x="153.14" y="174.6" font-size="8.8" text-anchor="middle" fill="#1a1a1a" >522</text>
<text x="197.0" y="174.6" font-size="8.8" text-anchor="middle" fill="#1a1a1a" >524</text>
<text x="240.86" y="174.6" font-size="8.8" text-anchor="middle" fill="#1a1a1a" >526</text>
<text x="306.9" y="174.6" font-size="8.8" text-anchor="middle" fill="#1a1a1a" >1522</text>
<text x="350.8" y="174.6" font-size="8.8" text-anchor="middle" fill="#1a1a1a" >1524</text>
<text x="394.7" y="174.6" font-size="8.8" text-anchor="middle" fill="#1a1a1a" >1526</text>
<text x="438.6" y="174.6" font-size="8.8" text-anchor="middle" fill="#1a1a1a" >1528</text>
<text x="482.5" y="174.6" font-size="8.8" text-anchor="middle" fill="#1a1a1a" >1530</text>
<text x="506.5" y="174.6" font-size="8.8" text-anchor="middle" fill="#1a1a1a" >1662</text>
<text x="549.5" y="174.6" font-size="8.8" text-anchor="middle" fill="#1a1a1a" >1664</text>
<text x="592.5" y="174.6" font-size="8.8" text-anchor="middle" fill="#1a1a1a" >1666</text>
<text x="635.5" y="174.6" font-size="8.8" text-anchor="middle" fill="#1a1a1a" >1668</text>
<text x="646.5" y="192.3" font-size="11.5" text-anchor="middle" fill="#1a1a1a" >t (s)</text>
<text x="676" y="144.89999999999998" font-size="8.8" text-anchor="start" fill="#1a1a1a" >0</text>
<text x="676" y="121.85" font-size="8.8" text-anchor="start" fill="#1a1a1a" >1</text>
<text x="676" y="98.8" font-size="8.8" text-anchor="start" fill="#1a1a1a" >2</text>
<text x="676" y="75.74999999999999" font-size="8.8" text-anchor="start" fill="#1a1a1a" >3</text>
<text x="676" y="52.69999999999999" font-size="8.8" text-anchor="start" fill="#1a1a1a" >4</text>
<path d="M62.5,178.3 V189.9 H175.3 V178.3" fill="none" stroke="#3a3a3a" stroke-width="1.5"/>
<path d="M351.3,178.3 V189.9 H462.6 V178.3" fill="none" stroke="#3a3a3a" stroke-width="1.5"/>
<rect x="390" y="180" width="58" height="2.7" fill="#e4141b"/>
<text x="118.2" y="203.5" font-size="13.5" text-anchor="middle" fill="#1a1a1a" >b</text>
<text x="405.6" y="203.3" font-size="13.5" text-anchor="middle" fill="#1a1a1a" >c</text>
<text x="1.5" y="234.7" font-size="26.5" text-anchor="start" fill="#000" >b</text>
<text x="347.5" y="235.2" font-size="26.5" text-anchor="start" fill="#000" >c</text>
<path d="M33.3,256 V298.8" stroke="#222" stroke-width="1.6"/>
<path d="M42.9,317.4 H101.9" stroke="#222" stroke-width="1.6"/>
<text transform="translate(31.2,277.4) rotate(-90)" font-size="9.8" text-anchor="middle" fill="#1a1a1a">1 mV</text>
<text x="72.2" y="328.4" font-size="9" text-anchor="middle" fill="#1a1a1a" >1 s</text>
<path d="M366.8,260.2 V294.4" stroke="#222" stroke-width="1.6"/>
<text transform="translate(364.0,277.5) rotate(-90)" font-size="9.8" text-anchor="middle" fill="#1a1a1a">1 mV</text>
<path d="M37.1,297.0 38.0,310.4 38.9,297.8 39.8,289.0 40.4,290.1 41.0,289.0 41.6,287.0 42.5,288.0 43.4,291.6 44.0,285.9 44.6,280.0 45.2,274.6 46.4,281.8 47.1,277.2 47.9,271.0 48.8,283.6 49.6,297.6 50.5,308.6 51.1,296.7 51.8,289.0 52.6,269.5 53.3,256.7 54.1,238.0 55.0,250.7 55.9,264.0 56.5,266.5 57.1,263.7 57.7,267.5 58.9,271.0 59.6,281.5 60.4,292.5 61.0,282.9 61.7,269.6 62.4,262.6 63.0,249.6 63.9,254.4 64.8,255.0 65.7,264.0 66.6,255.7 67.5,252.3 68.4,250.3 69.3,253.2 70.2,257.8 71.0,262.0 71.6,265.0 72.3,262.7 72.9,264.0 73.8,267.0 74.6,272.9 75.2,273.1 75.8,271.6 76.4,274.6 77.3,276.8 78.2,281.8 79.1,287.7 80.0,294.3 80.9,295.1 81.8,296.0 82.7,302.6 83.6,312.0 84.2,305.9 84.8,301.1 85.4,297.9 86.1,290.1 86.7,281.6 87.3,272.6 88.0,267.5 88.9,272.0 89.8,272.9 90.7,274.0 91.6,274.6 92.2,283.4 92.9,290.7 93.7,283.7 94.4,282.5 95.2,274.6 95.8,272.7 96.4,265.1 97.0,262.5 97.6,260.8 98.2,255.9 98.9,260.6 99.7,265.3 100.4,266.6 101.2,272.0 102.1,278.2 102.8,272.8 103.6,264.8 104.3,256.8 105.0,260.2 105.7,265.7 106.4,276.9 107.1,287.1 107.8,287.3 108.4,283.6 109.2,274.7 109.9,262.2 110.7,251.4 111.3,260.8 112.0,269.3 112.9,265.1 113.8,265.7 114.6,259.0 115.5,255.0 116.4,261.9 117.3,265.7 118.2,268.9 119.1,272.9 119.7,276.5 120.3,283.8 120.9,288.9 122.1,285.4 122.8,299.4 123.6,311.2 124.2,304.1 124.8,294.5 125.4,287.1 126.1,285.0 126.7,283.6 127.3,283.2 128.0,280.0 128.6,277.7 129.2,274.7 129.8,272.9 130.7,278.2 131.6,283.6 132.2,277.0 132.8,272.8 133.4,271.0 134.2,280.4 134.9,290.2 135.7,296.0 136.4,290.6 137.2,283.6 137.9,278.2 138.6,270.6 139.3,266.3 140.0,260.4 140.6,267.1 141.2,270.1 141.8,272.9 142.5,285.6 143.2,297.9 143.9,293.9 144.6,284.9 145.2,280.5 145.9,274.6 146.6,273.4 147.3,267.9 148.1,263.7 148.8,259.2 149.5,256.8 150.3,254.1 151.0,253.2 151.8,247.9 153.0,256.8 153.6,250.6 154.2,251.1 154.8,246.0 155.7,255.7 156.6,262.0 157.2,271.2 157.8,277.7 158.4,283.6 159.3,280.7 160.2,274.6 160.8,285.4 161.5,296.4 162.1,306.8 162.8,296.6 163.6,287.1 164.3,279.4 165.0,276.4 165.6,288.1 166.2,296.0 166.9,290.2 167.5,283.6 168.2,291.8 168.9,303.2 169.8,303.2 170.7,303.2 171.4,294.2 172.1,285.4 172.8,274.5 173.6,264.3 174.3,255.0 175.0,265.0 175.7,274.6 176.3,281.5 177.0,287.1 177.9,280.6 178.8,272.9 179.4,265.5 180.0,258.6 180.6,249.3 181.2,243.5 181.8,238.0 182.5,248.3 183.2,262.0 183.8,258.3 184.4,255.6 185.0,249.6 185.7,261.0 186.4,269.3 187.3,280.6 188.2,288.9 188.8,280.7 189.5,269.3 190.4,261.8 191.2,256.8 192.1,266.6 193.0,272.9 193.6,266.7 194.2,256.4 194.8,248.9 195.4,244.3 196.6,260.4 197.2,264.4 197.8,274.8 198.4,280.0 199.3,275.1 200.2,272.9 200.8,276.2 201.4,284.2 202.0,288.9 202.7,294.3 203.4,301.4 204.1,291.4 204.8,284.2 205.5,278.2 206.2,287.2 206.8,296.0 207.6,288.9 208.3,284.2 209.1,280.0 209.8,283.3 210.4,284.2 211.1,285.7 211.8,288.9 212.5,300.4 213.2,312.1 213.9,301.3 214.7,294.8 215.4,287.1 216.1,279.0 216.8,270.0 217.5,263.9 218.3,264.9 219.0,272.0 219.8,272.9 220.5,268.5 221.2,262.4 221.8,260.0 222.5,255.0 223.1,260.2 223.7,259.6 224.3,265.7 225.0,268.0 225.7,273.4 226.4,280.0 227.1,280.0 227.8,272.1 228.6,262.0 229.2,249.6 229.8,240.7 230.5,253.4 231.2,264.0 231.9,265.8 232.5,265.7 233.6,247.9 234.2,258.5 234.8,268.6 235.7,253.2 236.4,256.1 237.1,262.0 237.7,269.9 238.3,274.3 238.9,278.2 239.8,292.6 240.7,306.8 241.5,293.8 242.3,283.6 243.0,291.5 243.8,297.9 244.4,287.5 245.0,278.2 245.7,286.6 246.4,294.3 247.1,288.4 247.8,285.1 248.4,277.2 249.1,274.6 249.9,275.4 250.6,280.6 251.4,280.0 252.3,280.2 253.2,276.4 253.8,268.2 254.5,262.0 255.4,270.2 256.2,274.6 256.9,280.1 257.5,289.8 258.1,295.2 258.7,299.9 259.3,306.8 260.1,293.0 260.8,279.2 261.6,269.3 262.2,278.4 262.9,283.6 263.7,273.5 264.4,269.8 265.2,260.4 265.8,265.2 266.4,265.5 267.0,267.5 267.8,269.4 268.5,276.5 269.3,278.2 269.9,278.3 270.5,274.5 271.1,271.0 271.8,263.3 272.5,255.0 273.2,247.9 273.8,253.0 274.4,258.2 275.0,265.7 275.7,264.2 276.4,260.6 277.1,258.6 277.9,261.8 278.7,266.1 279.5,272.9 280.4,263.9 281.2,253.2 281.9,264.6 282.5,278.2 283.3,280.0 284.0,280.9 284.8,283.6 285.4,293.3 286.0,301.1 286.6,306.8 287.2,295.4 287.9,289.0 288.6,301.7 289.3,317.5 290.0,304.7 290.7,296.2 291.4,281.8 292.1,270.9 292.9,257.0 293.6,263.8 294.4,272.2 295.2,278.3 296.0,287.3 296.6,279.7 297.3,270.3 298.0,266.4 298.6,259.0 299.4,265.9 300.1,268.4 301.0,257.0 301.6,258.7 302.3,264.1 302.9,264.6 303.5,264.3 304.2,262.0 304.8,260.8 305.5,267.1 306.1,268.4 306.9,269.8 307.6,274.0 308.2,287.8 308.9,297.0 309.5,311.8 310.1,301.3 310.8,296.3 311.4,285.4 312.0,277.6 312.7,274.1 313.3,266.5 313.9,274.6 314.6,283.4 315.2,289.2 316.0,269.9 316.7,251.2 317.5,233.5 318.6,259.0 319.2,263.6 319.9,270.3 320.5,269.0 321.2,264.5 321.8,260.8 322.6,260.4 323.3,255.2 324.0,264.8 324.6,270.3 325.2,265.9 325.9,265.5 326.5,262.7 327.1,266.3 327.8,271.6 328.4,279.7 329.1,284.1 329.9,293.0 330.5,291.1 331.2,285.4 332.2,294.8 332.9,291.6 333.7,285.4" fill="none" stroke="#6a6a6a" stroke-width="1.05" stroke-linejoin="round"/>
<path d="M372.7,276.5 373.2,277.0 373.6,275.6 374.1,272.5 374.7,275.7 375.3,282.5 375.8,271.6 376.2,265.3 376.7,254.7 377.2,263.6 377.6,271.2 378.1,278.5 378.7,281.7 379.3,286.4 379.8,282.2 380.2,277.6 380.7,272.5 381.2,269.5 381.6,264.5 382.1,262.6 382.7,268.3 383.3,274.5 384.0,284.0 384.6,294.4 385.1,292.0 385.5,289.7 386.0,284.4 386.5,290.2 387.1,292.5 387.6,296.3 388.1,292.8 388.7,288.8 389.2,286.4 389.7,288.5 390.1,292.4 390.6,298.3 391.1,299.5 391.5,300.2 392.0,302.3 392.5,297.9 393.1,295.9 393.6,290.4 394.1,286.5 394.6,282.7 395.1,277.4 395.6,274.5 396.1,267.3 396.6,263.2 397.1,257.2 397.5,253.4 398.0,250.1 398.5,242.8 399.0,247.4 399.5,249.4 400.0,256.2 400.5,258.6 401.0,262.6 401.5,265.1 402.1,268.6 402.6,270.8 403.1,272.5 403.6,279.0 404.0,282.5 404.5,288.4 404.9,295.5 405.4,300.7 405.9,302.7 406.3,309.3 406.9,302.7 407.5,294.1 408.1,293.8 408.6,291.7 409.2,290.7 409.8,288.0 410.3,285.1 410.9,282.3 411.5,282.3 412.0,278.9 412.6,277.2 413.2,279.1 413.7,277.7 414.3,278.9 414.9,278.7 415.4,277.1 416.0,273.8 416.5,270.3 417.1,267.3 417.6,263.7 418.2,257.2 418.7,248.3 419.3,239.3 419.9,245.5 420.5,251.9 421.0,253.1 421.4,255.7 421.9,258.7 422.4,262.9 423.0,264.1 423.5,268.8 424.1,277.7 424.6,282.5 425.2,290.7 425.8,297.4 426.3,300.1 426.9,305.9 427.4,296.5 427.8,284.3 428.3,272.2 428.9,256.6 429.5,241.0 430.1,255.0 430.6,268.8 431.1,273.3 431.5,277.0 432.0,280.6 432.6,287.4 433.3,295.8 433.9,292.9 434.4,292.4 435.0,290.7 435.6,298.3 436.2,302.5 436.8,296.2 437.4,289.0 438.0,273.8 438.7,262.0 439.3,269.5 439.8,275.3 440.4,280.6 440.9,285.0 441.3,285.0 441.8,289.0 442.3,284.9 442.9,277.1 443.4,273.8 444.0,276.7 444.5,277.4 445.1,280.6 445.7,272.2 446.2,267.5 446.8,258.7 447.4,262.2 447.9,268.9 448.5,273.8 449.1,282.0 449.7,287.3 450.3,283.5 450.8,280.5 451.4,278.9 452.0,283.2 452.5,284.2 453.1,287.3 453.6,290.4 454.2,290.0 454.7,294.1 455.3,297.7 455.9,302.5 456.4,296.1 456.8,293.1 457.3,287.3 458.0,293.2 458.6,302.5 459.2,294.8 459.7,281.5 460.3,273.8 460.8,270.5 461.3,263.5 461.8,260.2 462.2,258.2 462.7,251.3 463.2,248.5 463.8,253.4 464.3,261.7 464.9,267.1 465.5,268.9 466.0,269.7 466.6,273.8 467.1,282.5 467.7,287.3 468.2,283.1 468.6,279.8 469.1,278.9 469.7,279.4 470.2,281.6 470.8,282.3 471.4,278.8 471.9,271.8 472.5,268.8 473.1,274.0 473.7,280.6 474.2,282.7 474.6,288.3 475.1,292.4 475.8,286.7 476.4,278.9 477.0,284.9 477.6,289.0 478.2,283.9 478.8,275.5 479.3,283.3 479.8,289.0 480.5,294.1" fill="none" stroke="#f5a623" stroke-width="1.15" stroke-linejoin="round"/>
<path d="M480.5,294.1 480.5,294.1 481.0,304.8 481.5,312.6 482.1,303.3 482.6,292.4 483.2,287.8 483.7,282.3 484.3,278.9 484.9,270.0 485.4,259.0 486.0,250.2 486.6,253.1 487.1,259.0 487.7,263.7 488.3,269.1 488.8,270.1 489.4,275.5 490.0,275.3 490.5,273.9 491.1,273.8 491.7,278.9 492.2,282.5 492.8,289.0 493.4,296.5 493.9,299.3 494.5,305.9 495.0,301.7 495.6,296.3 496.1,290.0 496.6,287.3 497.1,277.4 497.6,265.7 498.2,255.2 498.7,246.9 499.3,252.3 499.8,260.1 500.4,268.8 500.9,271.1 501.5,277.2 502.0,280.6 502.5,281.6 503.0,284.5 503.6,285.3 504.1,286.6 504.6,285.6 505.2,287.4 505.7,291.0 506.3,294.1 506.9,295.3 507.4,298.9 508.0,300.8 508.6,291.2 509.1,280.6 509.6,270.0 510.0,257.8 510.5,245.2 511.1,252.1 511.6,260.6 512.2,268.8 512.7,275.1 513.3,279.2 513.8,287.3 514.3,288.8 514.7,293.7 515.2,297.5 515.8,291.4 516.3,289.4 516.9,284.0 517.5,285.2 518.0,286.9 518.6,290.7 519.2,285.5 519.7,281.8 520.3,278.9 520.8,271.0 521.3,265.5 521.8,258.5 522.3,251.9 522.9,255.1 523.4,260.3 524.0,263.7 524.5,266.8 525.0,273.8 525.5,278.2 526.0,280.6 526.5,286.6 527.1,290.4 527.7,295.8 528.2,300.8 528.8,300.0 529.3,296.8 529.9,297.5 530.5,290.4 531.0,284.1 531.6,277.2 532.1,267.1 532.7,257.9 533.2,251.9 533.7,241.8 534.2,246.7 534.8,252.8 535.3,259.9 535.8,263.7 536.4,272.0 536.9,278.6 537.5,287.3 538.1,285.9 538.7,280.6 539.2,281.8 539.7,284.0 540.3,294.7 540.9,309.3 541.5,302.1 542.0,291.9 542.6,285.6 543.2,275.3 543.7,267.9 544.3,257.0 544.9,254.0 545.4,247.7 546.0,246.0 546.5,254.5 547.1,263.1 547.6,272.2 548.2,274.9 548.7,276.6 549.3,280.6 549.9,283.2 550.4,283.4 551.0,287.3 551.6,288.1 552.1,290.2 552.7,292.4 553.2,300.3 553.6,303.1 554.1,311.0 554.6,299.1 555.1,283.9 555.6,272.2 556.2,265.7 556.7,258.2 557.3,251.9 557.9,257.4 558.4,264.2 559.0,268.8 559.5,274.0 560.1,278.5 560.6,285.6 561.1,285.4 561.7,286.5 562.2,290.8 562.8,290.7 563.3,294.6 563.9,299.3 564.5,301.6 565.0,304.2 565.6,294.4 566.1,289.1 566.7,280.6 567.3,270.5 567.8,259.0 568.4,246.9 569.0,253.6 569.5,259.8 570.1,267.1 570.7,271.4 571.2,277.3 571.8,280.6 572.3,280.5 572.8,282.4 573.3,283.1 573.8,284.0 574.4,292.0 574.9,297.6 575.5,302.5 576.1,299.2 576.6,293.7 577.2,287.3 577.7,284.8 578.2,282.9 578.7,282.2 579.2,280.6 579.7,272.9 580.3,266.8 580.8,261.1 581.4,255.3 581.9,246.9 582.4,251.4 582.9,256.6 583.4,257.9 583.9,263.7 584.5,267.6 585.0,274.7 585.6,277.2 586.1,278.3 586.6,281.9 587.1,283.0 587.6,287.3 588.2,288.5 588.7,294.5 589.3,295.8 590.0,290.2 590.6,280.6 591.1,270.0 591.5,256.6 592.0,246.9 592.6,254.0 593.1,261.6 593.7,270.5 594.3,274.5 594.8,278.0 595.4,280.6 595.9,283.7 596.3,287.5 596.8,289.2 597.2,294.3 597.7,297.5 598.2,298.2 598.6,296.3 599.1,294.1 599.8,295.0 600.4,299.1 601.0,293.0 601.5,287.6 602.1,280.6 602.8,267.0 603.4,255.3 604.0,263.6 604.7,268.8 605.3,276.2 605.9,284.0 606.5,279.7 607.1,273.8 607.8,277.7 608.4,282.3 608.9,283.1 609.3,281.2 609.8,278.9 610.5,297.5 610.5,297.5" fill="none" stroke="#e8202a" stroke-width="1.15" stroke-linejoin="round"/>
<path d="M610.5,297.5 611.1,295.2 611.8,292.4 612.4,289.3 612.9,288.8 613.5,287.3 614.1,280.4 614.8,277.2 615.4,278.7 615.9,281.0 616.5,280.6 617.1,276.5 617.6,275.0 618.2,272.2 618.8,270.4 619.3,268.4 619.9,267.1 620.5,269.1 621.0,271.1 621.6,270.5 622.2,272.4 622.7,272.6 623.3,273.8 623.9,277.9 624.4,277.7 625.0,280.6 625.5,282.7 626.1,283.5 626.6,284.0 627.2,277.2 627.7,269.7 628.3,260.4 628.9,254.2 629.5,250.2 630.1,254.1 630.7,257.0 631.3,263.3 631.8,271.1 632.4,277.2 633.0,280.2 633.5,280.0 634.1,280.6 634.7,280.9 635.2,284.9 635.8,287.3 636.5,291.5 637.1,294.1 637.7,287.8 638.2,279.0 638.8,270.5 639.4,275.1 639.9,275.3 640.5,280.6 641.1,293.3 641.8,302.5 642.4,298.4 642.9,292.8 643.5,287.3 644.1,292.3 644.6,295.6 645.2,297.5 645.7,298.4 646.2,303.8 646.7,306.1 647.2,307.6 647.8,301.9 648.3,299.6 648.9,294.1 649.5,289.9 650.0,283.9 650.6,280.6 651.2,279.6 651.7,274.6 652.3,273.8 652.9,276.5 653.4,278.1 654.0,280.6 654.5,276.2 655.1,274.1 655.6,270.5 656.2,273.2 656.7,274.9 657.3,278.9 657.9,278.5 658.4,272.7 659.0,272.2 659.6,267.9 660.1,267.6 660.7,265.4 661.3,265.4 661.8,271.8 662.4,275.5 663.0,275.6 663.5,275.4 664.1,273.8 664.7,277.7 665.2,282.4 665.8,285.6 666.4,283.3 666.9,281.3 667.5,280.6" fill="none" stroke="#f5a623" stroke-width="1.15" stroke-linejoin="round"/>
<text x="2.0" y="358.3" font-size="26.5" text-anchor="start" fill="#000" >d</text>
<text x="122.6" y="357.5" font-size="11" text-anchor="middle" fill="#1a1a1a" >No Exploration</text>
<path d="M69.05,478.8 V472.56 H70.74 V478.8 Z M70.74,478.8 V469.42 H72.68 V478.8 Z M72.68,478.8 V471.35 H74.62 V478.8 Z M74.62,478.8 V473.77 H76.31 V478.8 Z M76.31,478.8 V465.30 H78.01 V478.8 Z M78.01,478.8 V470.14 H79.94 V478.8 Z M79.94,478.8 V459.73 H81.64 V478.8 Z M81.64,478.8 V461.67 H83.57 V478.8 Z M83.57,478.8 V458.04 H85.27 V478.8 Z M85.27,478.8 V454.41 H87.20 V478.8 Z M87.20,478.8 V453.20 H88.90 V478.8 Z M88.90,478.8 V455.62 H90.84 V478.8 Z M90.84,478.8 V445.94 H92.53 V478.8 Z M92.53,478.8 V445.21 H94.47 V478.8 Z M94.47,478.8 V445.94 H96.16 V478.8 Z M96.16,478.8 V433.11 H97.61 V478.8 Z M97.61,478.8 V445.21 H99.31 V478.8 Z M99.31,478.8 V420.03 H101.00 V478.8 Z M101.00,478.8 V424.88 H102.45 V478.8 Z M102.45,478.8 V411.32 H104.15 V478.8 Z M104.15,478.8 V419.31 H105.84 V478.8 Z M105.84,478.8 V415.68 H107.78 V478.8 Z M107.78,478.8 V403.09 H109.47 V478.8 Z M109.47,478.8 V416.89 H110.93 V478.8 Z M110.93,478.8 V406.48 H112.62 V478.8 Z M112.62,478.8 V413.26 H114.32 V478.8 Z M114.32,478.8 V418.10 H116.01 V478.8 Z M116.01,478.8 V404.30 H117.95 V478.8 Z M117.95,478.8 V401.64 H119.88 V478.8 Z M119.88,478.8 V386.63 H121.58 V478.8 Z M121.58,478.8 V392.68 H123.27 V478.8 Z M123.27,478.8 V396.31 H124.97 V478.8 Z M124.97,478.8 V371.38 H126.66 V478.8 Z M126.66,478.8 V384.21 H128.11 V478.8 Z M128.11,478.8 V390.26 H129.81 V478.8 Z M129.81,478.8 V396.31 H131.50 V478.8 Z M131.50,478.8 V390.26 H133.20 V478.8 Z M133.20,478.8 V407.20 H134.89 V478.8 Z M134.89,478.8 V410.84 H136.59 V478.8 Z M136.59,478.8 V422.94 H138.28 V478.8 Z M138.28,478.8 V405.27 H139.73 V478.8 Z M139.73,478.8 V438.67 H141.43 V478.8 Z M141.43,478.8 V435.04 H143.12 V478.8 Z M143.12,478.8 V427.78 H144.82 V478.8 Z M144.82,478.8 V444.73 H146.51 V478.8 Z M146.51,478.8 V459.25 H148.21 V478.8 Z M148.21,478.8 V458.04 H149.90 V478.8 Z M149.90,478.8 V461.67 H151.60 V478.8 Z M151.60,478.8 V465.30 H153.29 V478.8 Z M153.29,478.8 V470.14 H154.98 V478.8 Z M154.98,478.8 V471.84 H156.68 V478.8 Z M156.68,478.8 V473.77 H158.37 V478.8 Z M158.37,478.8 V473.77 H160.07 V478.8 Z M160.07,478.8 V475.71 H161.76 V478.8 Z M161.76,478.8 V473.77 H163.46 V478.8 Z M163.46,478.8 V476.19 H165.15 V478.8 Z M165.15,478.8 V474.26 H166.85 V478.8 Z M166.85,478.8 V475.71 H168.54 V478.8 Z M168.54,478.8 V477.40 H170.23 V478.8 Z M170.23,478.8 V476.68 H171.93 V478.8 Z M171.93,478.8 V475.71 H173.62 V478.8 Z " fill="#5f5f5f"/>
<path d="M36.8,478.8 H200.3" stroke="#222" stroke-width="1"/>
<path d="M36.8,478.8 V475.5" stroke="#222" stroke-width="1"/>
<path d="M64.1,478.8 V475.5" stroke="#222" stroke-width="1"/>
<path d="M91.3,478.8 V475.5" stroke="#222" stroke-width="1"/>
<path d="M118.6,478.8 V475.5" stroke="#222" stroke-width="1"/>
<path d="M145.8,478.8 V475.5" stroke="#222" stroke-width="1"/>
<path d="M173.1,478.8 V475.5" stroke="#222" stroke-width="1"/>
<path d="M200.3,478.8 V475.5" stroke="#222" stroke-width="1"/>
<text x="36.8" y="492.0" font-size="9.3" text-anchor="middle" fill="#1a1a1a" >-1.5</text>
<text x="64.1" y="492.0" font-size="9.3" text-anchor="middle" fill="#1a1a1a" >-1</text>
<text x="91.3" y="492.0" font-size="9.3" text-anchor="middle" fill="#1a1a1a" >- 0.5</text>
<text x="118.6" y="492.0" font-size="9.3" text-anchor="middle" fill="#1a1a1a" >0</text>
<text x="145.8" y="492.0" font-size="9.3" text-anchor="middle" fill="#1a1a1a" >0.5</text>
<text x="173.1" y="492.0" font-size="9.3" text-anchor="middle" fill="#1a1a1a" >1</text>
<text x="200.3" y="492.0" font-size="9.3" text-anchor="middle" fill="#1a1a1a" >1.5</text>
<text x="118.6" y="502.2" font-size="9.3" text-anchor="middle" fill="#1a1a1a" >mV</text>
<path d="M118.6,478.8 V363.5" stroke="#fff" stroke-width="0.9"/>
<path d="M118.6,478.8 V363.5" stroke="#222" stroke-width="0.9" stroke-dasharray="1.6,1.4"/>
<text x="246.8" y="354.3" font-size="26.5" text-anchor="start" fill="#000" >e</text>
<text x="351.6" y="357.5" font-size="11" text-anchor="middle" fill="#1a1a1a" >Exploration/ No-sniffing</text>
<path d="M274.84,478.8 V478.62 H277.26 V478.8 Z M282.10,478.8 V478.13 H284.52 V478.8 Z M288.88,478.8 V472.56 H290.58 V478.8 Z M290.58,478.8 V470.87 H292.51 V478.8 Z M292.51,478.8 V470.14 H294.21 V478.8 Z M294.21,478.8 V469.42 H295.90 V478.8 Z M295.90,478.8 V468.93 H297.60 V478.8 Z M297.60,478.8 V459.25 H299.29 V478.8 Z M299.29,478.8 V470.14 H300.99 V478.8 Z M300.99,478.8 V467.72 H302.68 V478.8 Z M302.68,478.8 V466.51 H304.37 V478.8 Z M304.37,478.8 V461.19 H306.07 V478.8 Z M306.07,478.8 V464.58 H307.76 V478.8 Z M307.76,478.8 V463.61 H309.46 V478.8 Z M309.46,478.8 V459.25 H311.15 V478.8 Z M311.15,478.8 V453.20 H312.85 V478.8 Z M312.85,478.8 V431.41 H314.54 V478.8 Z M314.54,478.8 V437.46 H316.24 V478.8 Z M316.24,478.8 V421.73 H317.93 V478.8 Z M317.93,478.8 V416.89 H319.62 V478.8 Z M319.62,478.8 V409.62 H321.32 V478.8 Z M321.32,478.8 V416.16 H323.01 V478.8 Z M323.01,478.8 V424.15 H324.71 V478.8 Z M324.71,478.8 V416.89 H326.40 V478.8 Z M326.40,478.8 V415.68 H328.10 V478.8 Z M328.10,478.8 V392.68 H329.79 V478.8 Z M329.79,478.8 V402.36 H331.49 V478.8 Z M331.49,478.8 V393.89 H333.18 V478.8 Z M333.18,478.8 V376.95 H334.88 V478.8 Z M334.88,478.8 V383.00 H336.57 V478.8 Z M336.57,478.8 V391.47 H338.26 V478.8 Z M338.26,478.8 V370.89 H339.96 V478.8 Z M339.96,478.8 V375.73 H341.65 V478.8 Z M341.65,478.8 V373.31 H343.35 V478.8 Z M343.35,478.8 V376.95 H345.04 V478.8 Z M345.04,478.8 V401.15 H346.74 V478.8 Z M346.74,478.8 V386.63 H348.43 V478.8 Z M348.43,478.8 V393.89 H350.13 V478.8 Z M350.13,478.8 V398.73 H351.82 V478.8 Z M351.82,478.8 V415.68 H353.51 V478.8 Z M353.51,478.8 V404.78 H355.21 V478.8 Z M355.21,478.8 V420.52 H356.90 V478.8 Z M356.90,478.8 V425.36 H358.60 V478.8 Z M358.60,478.8 V426.57 H360.29 V478.8 Z M360.29,478.8 V432.62 H361.99 V478.8 Z M361.99,478.8 V432.62 H363.68 V478.8 Z M363.68,478.8 V431.41 H365.38 V478.8 Z M365.38,478.8 V430.20 H367.07 V478.8 Z M367.07,478.8 V427.78 H368.77 V478.8 Z M368.77,478.8 V432.14 H370.46 V478.8 Z M370.46,478.8 V432.62 H372.15 V478.8 Z M372.15,478.8 V439.88 H373.85 V478.8 Z M373.85,478.8 V447.15 H375.54 V478.8 Z M375.54,478.8 V432.62 H377.24 V478.8 Z M377.24,478.8 V444.73 H378.93 V478.8 Z M378.93,478.8 V446.66 H380.63 V478.8 Z M380.63,478.8 V450.78 H382.32 V478.8 Z M382.32,478.8 V451.99 H384.02 V478.8 Z M384.02,478.8 V443.51 H385.71 V478.8 Z M385.71,478.8 V450.78 H387.40 V478.8 Z M387.40,478.8 V456.83 H389.10 V478.8 Z M389.10,478.8 V459.25 H390.79 V478.8 Z M390.79,478.8 V464.09 H392.49 V478.8 Z M392.49,478.8 V465.30 H394.18 V478.8 Z M394.18,478.8 V467.72 H395.88 V478.8 Z M395.88,478.8 V473.77 H397.57 V478.8 Z M397.57,478.8 V476.19 H399.27 V478.8 Z M399.27,478.8 V477.40 H400.96 V478.8 Z M401.93,478.8 V478.13 H404.35 V478.8 Z M407.98,478.8 V476.19 H410.40 V478.8 Z " fill="#ff6a00"/>
<path d="M261.9,478.8 H425.4" stroke="#222" stroke-width="1"/>
<path d="M261.9,478.8 V475.5" stroke="#222" stroke-width="1"/>
<path d="M289.1,478.8 V475.5" stroke="#222" stroke-width="1"/>
<path d="M316.4,478.8 V475.5" stroke="#222" stroke-width="1"/>
<path d="M343.6,478.8 V475.5" stroke="#222" stroke-width="1"/>
<path d="M370.9,478.8 V475.5" stroke="#222" stroke-width="1"/>
<path d="M398.1,478.8 V475.5" stroke="#222" stroke-width="1"/>
<path d="M425.4,478.8 V475.5" stroke="#222" stroke-width="1"/>
<text x="261.9" y="492.0" font-size="9.3" text-anchor="middle" fill="#1a1a1a" >-1.5</text>
<text x="289.1" y="492.0" font-size="9.3" text-anchor="middle" fill="#1a1a1a" >-1</text>
<text x="316.4" y="492.0" font-size="9.3" text-anchor="middle" fill="#1a1a1a" >- 0.5</text>
<text x="343.6" y="492.0" font-size="9.3" text-anchor="middle" fill="#1a1a1a" >0</text>
<text x="370.9" y="492.0" font-size="9.3" text-anchor="middle" fill="#1a1a1a" >0.5</text>
<text x="398.1" y="492.0" font-size="9.3" text-anchor="middle" fill="#1a1a1a" >1</text>
<text x="425.4" y="492.0" font-size="9.3" text-anchor="middle" fill="#1a1a1a" >1.5</text>
<text x="343.6" y="502.2" font-size="9.3" text-anchor="middle" fill="#1a1a1a" >mV</text>
<path d="M343.6,478.8 V363.5" stroke="#222" stroke-width="0.9" stroke-dasharray="1.6,1.4"/>
<text x="472.5" y="359.0" font-size="26.5" text-anchor="start" fill="#000" >f</text>
<text x="568.2" y="357.5" font-size="11" text-anchor="middle" fill="#1a1a1a" >Sniffing-like</text>
<path d="M513.31,478.8 V476.19 H515.01 V478.8 Z M515.01,478.8 V473.77 H516.46 V478.8 Z M516.46,478.8 V466.51 H518.16 V478.8 Z M518.16,478.8 V476.19 H519.85 V478.8 Z M519.85,478.8 V478.13 H521.54 V478.8 Z M521.54,478.8 V472.56 H523.24 V478.8 Z M523.24,478.8 V470.14 H524.93 V478.8 Z M524.93,478.8 V472.56 H526.63 V478.8 Z M526.63,478.8 V466.51 H528.32 V478.8 Z M528.32,478.8 V447.63 H530.02 V478.8 Z M530.02,478.8 V460.46 H531.71 V478.8 Z M531.71,478.8 V461.19 H533.41 V478.8 Z M533.41,478.8 V466.51 H535.10 V478.8 Z M535.10,478.8 V466.51 H536.79 V478.8 Z M536.79,478.8 V450.78 H538.49 V478.8 Z M538.49,478.8 V435.04 H540.18 V478.8 Z M540.18,478.8 V425.36 H541.88 V478.8 Z M541.88,478.8 V403.57 H543.57 V478.8 Z M543.57,478.8 V427.78 H545.27 V478.8 Z M545.27,478.8 V405.99 H546.96 V478.8 Z M546.96,478.8 V396.31 H548.66 V478.8 Z M548.66,478.8 V405.99 H550.35 V478.8 Z M550.35,478.8 V386.63 H552.05 V478.8 Z M552.05,478.8 V370.89 H553.74 V478.8 Z M553.74,478.8 V384.21 H555.43 V478.8 Z M555.43,478.8 V376.95 H557.13 V478.8 Z M557.13,478.8 V384.21 H558.82 V478.8 Z M558.82,478.8 V410.84 H560.52 V478.8 Z M560.52,478.8 V415.68 H562.21 V478.8 Z M562.21,478.8 V410.84 H563.91 V478.8 Z M563.91,478.8 V405.99 H565.60 V478.8 Z M565.60,478.8 V422.94 H567.30 V478.8 Z M567.30,478.8 V419.31 H568.99 V478.8 Z M568.99,478.8 V435.04 H570.69 V478.8 Z M570.69,478.8 V420.52 H572.38 V478.8 Z M572.38,478.8 V428.99 H574.07 V478.8 Z M574.07,478.8 V448.36 H575.77 V478.8 Z M575.77,478.8 V461.67 H577.46 V478.8 Z M577.46,478.8 V448.36 H579.16 V478.8 Z M579.16,478.8 V464.09 H580.85 V478.8 Z M580.85,478.8 V447.15 H582.55 V478.8 Z M582.55,478.8 V444.73 H584.24 V478.8 Z M584.24,478.8 V454.41 H585.94 V478.8 Z M585.94,478.8 V450.78 H587.63 V478.8 Z M587.63,478.8 V443.51 H589.32 V478.8 Z M589.32,478.8 V450.78 H591.02 V478.8 Z M591.02,478.8 V444.73 H592.71 V478.8 Z M592.71,478.8 V450.78 H594.41 V478.8 Z M594.41,478.8 V431.41 H596.10 V478.8 Z M596.10,478.8 V456.83 H597.80 V478.8 Z M597.80,478.8 V451.99 H599.49 V478.8 Z M599.49,478.8 V459.25 H601.19 V478.8 Z M601.19,478.8 V466.51 H602.88 V478.8 Z M602.88,478.8 V454.41 H604.58 V478.8 Z M604.58,478.8 V448.36 H606.27 V478.8 Z M606.27,478.8 V453.20 H607.96 V478.8 Z M607.96,478.8 V444.73 H609.66 V478.8 Z M609.66,478.8 V453.20 H611.35 V478.8 Z M611.35,478.8 V464.09 H613.05 V478.8 Z M613.05,478.8 V464.09 H614.74 V478.8 Z M614.74,478.8 V464.09 H616.44 V478.8 Z M616.44,478.8 V470.14 H618.13 V478.8 Z M618.13,478.8 V476.19 H619.83 V478.8 Z M623.46,478.8 V477.89 H625.15 V478.8 Z " fill="#ff0000"/>
<path d="M482.4,478.8 H645.9" stroke="#222" stroke-width="1"/>
<path d="M482.4,478.8 V475.5" stroke="#222" stroke-width="1"/>
<path d="M509.6,478.8 V475.5" stroke="#222" stroke-width="1"/>
<path d="M536.9,478.8 V475.5" stroke="#222" stroke-width="1"/>
<path d="M564.1,478.8 V475.5" stroke="#222" stroke-width="1"/>
<path d="M591.4,478.8 V475.5" stroke="#222" stroke-width="1"/>
<path d="M618.6,478.8 V475.5" stroke="#222" stroke-width="1"/>
<path d="M645.9,478.8 V475.5" stroke="#222" stroke-width="1"/>
<text x="482.4" y="492.0" font-size="9.3" text-anchor="middle" fill="#1a1a1a" >-1.5</text>
<text x="509.6" y="492.0" font-size="9.3" text-anchor="middle" fill="#1a1a1a" >-1</text>
<text x="536.9" y="492.0" font-size="9.3" text-anchor="middle" fill="#1a1a1a" >- 0.5</text>
<text x="564.1" y="492.0" font-size="9.3" text-anchor="middle" fill="#1a1a1a" >0</text>
<text x="591.4" y="492.0" font-size="9.3" text-anchor="middle" fill="#1a1a1a" >0.5</text>
<text x="618.6" y="492.0" font-size="9.3" text-anchor="middle" fill="#1a1a1a" >1</text>
<text x="645.9" y="492.0" font-size="9.3" text-anchor="middle" fill="#1a1a1a" >1.5</text>
<text x="564.1" y="502.2" font-size="9.3" text-anchor="middle" fill="#1a1a1a" >mV</text>
<path d="M564.1,478.8 V363.5" stroke="#222" stroke-width="0.9" stroke-dasharray="1.6,1.4"/>
</svg>
</body></html>
